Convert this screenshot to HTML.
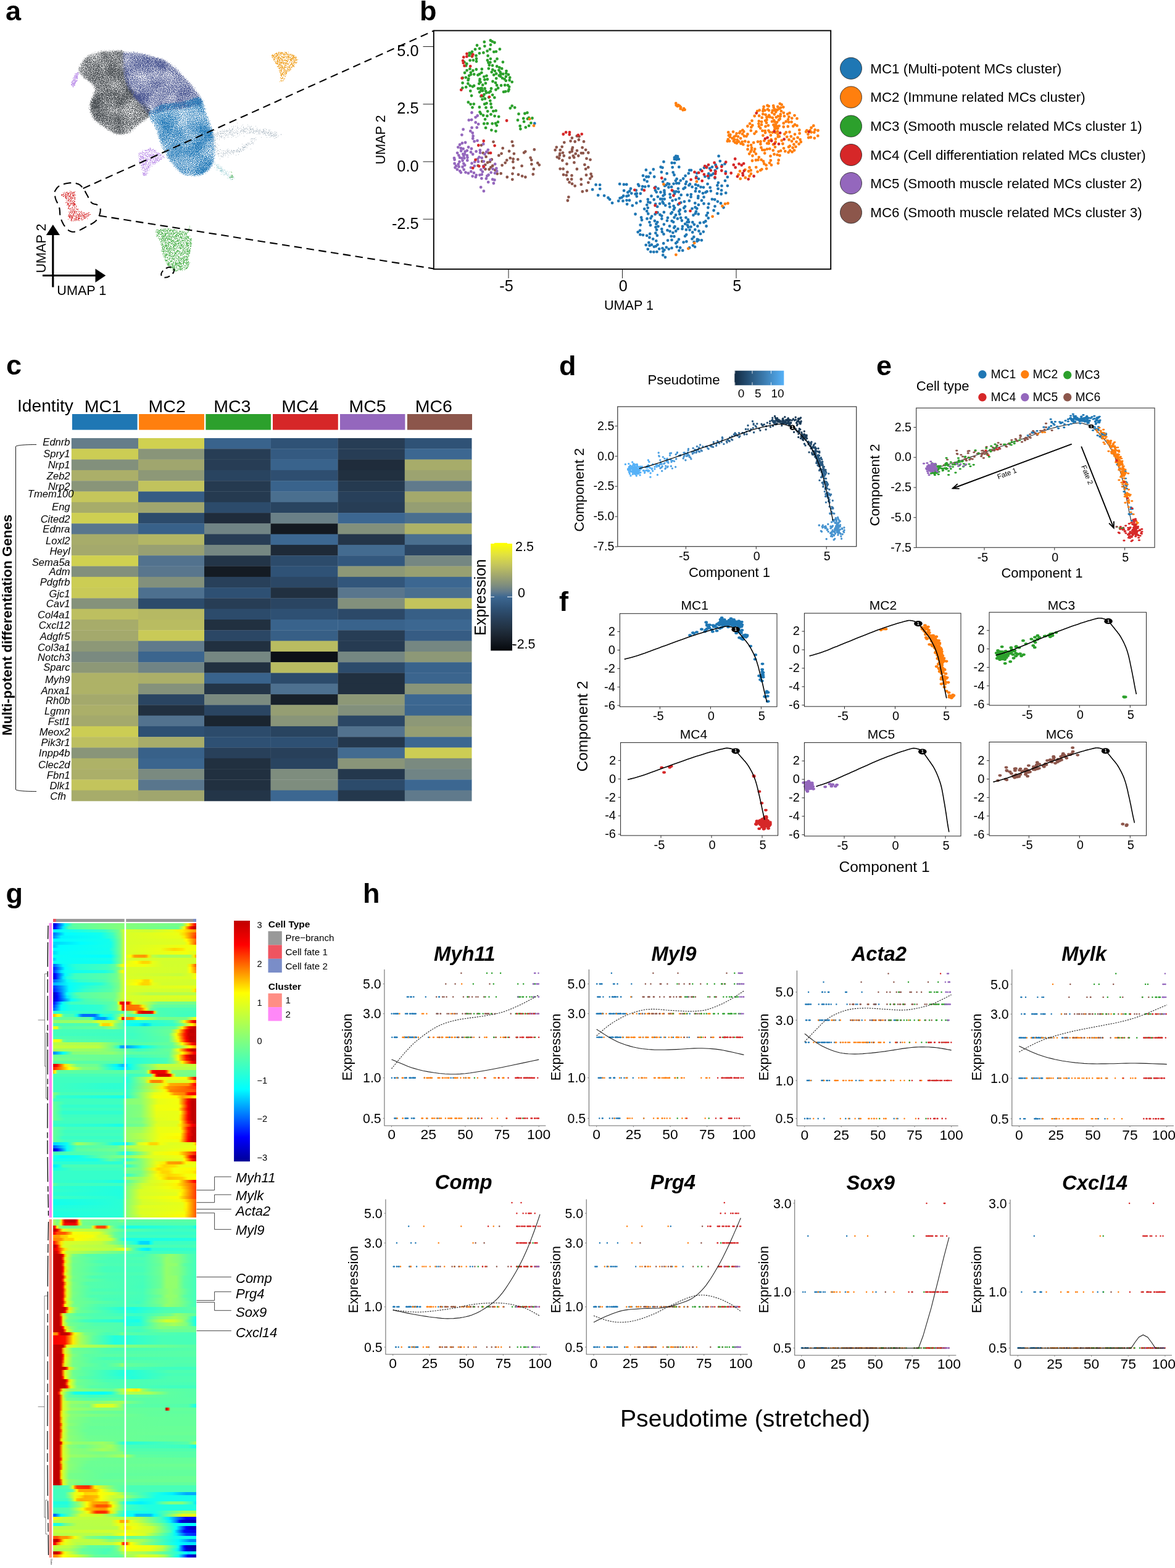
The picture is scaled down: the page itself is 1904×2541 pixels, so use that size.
<!DOCTYPE html>
<html lang="en"><head><meta charset="utf-8"><title>Figure</title>
<style>html,body{margin:0;padding:0;background:#fff;overflow:hidden}svg{display:block}text{font-family:'Liberation Sans',sans-serif}</style>
</head><body>
<svg width="1904" height="2541" viewBox="0 0 1904 2541">
<rect width="1904" height="2541" fill="#fff"/>
<g id="pa"><filter id="s0" x="-15%" y="-15%" width="130%" height="130%" color-interpolation-filters="sRGB"><feMorphology in="SourceAlpha" operator="dilate" radius="3"/><feGaussianBlur stdDeviation="3.2" result="b"/><feTurbulence type="fractalNoise" baseFrequency="0.85" numOctaves="1" seed="3" result="t"/><feTurbulence type="fractalNoise" baseFrequency=".035" numOctaves="2" seed="10" result="l"/><feComposite in="t" in2="l" operator="arithmetic" k2="1" k3="0.3" k4="-0.150" result="tl"/><feColorMatrix in="tl" type="matrix" values="0 0 0 0 0 0 0 0 0 0 0 0 0 0 0 1 0 0 0 0" result="n"/><feComposite in="b" in2="n" operator="arithmetic" k2="1" k3="1" k4="-1.120" result="m"/><feComponentTransfer in="m" result="m2"><feFuncA type="linear" slope="3.2"/></feComponentTransfer><feFlood flood-color="#484d51"/><feComposite in2="m2" operator="in"/></filter>
<path d="M125.6 114.5L128.2 110.3L132 104.3L136.3 98L140.8 93L145.4 89.7L150.3 87.3L155.6 85.5L161.1 84.1L167.4 83.1L174.2 82.5L180.8 82.3L186.5 82.3L191 81.9L194.9 81.4L198 81.8L200.4 84.1L201.7 88.8L202 95.4L202.1 103L202.9 110.7L204.5 118.7L206.3 127.4L208.7 136L211.8 143.7L216.3 150.2L221.8 156.2L227.4 161.5L232.1 166.5L236 170.9L239.5 174.9L242.1 178.4L243.5 181.7L243.4 184.6L242 187.1L239.8 189.4L237.2 191.8L233.9 194.4L229.8 196.9L225.6 199.4L222 202L219.2 204.6L216.9 207.3L214.6 209.8L211.8 212.1L208.4 214.2L204.7 216.3L200.7 217.8L196.6 218.4L192.3 217.8L187.7 216.3L183.2 214.2L178.9 212.1L174.9 210L171.1 207.6L167.4 204.9L163.7 202L159.6 198.6L155.3 194.8L151.4 190.8L148.4 186.8L146.7 182.6L145.8 178.2L145.5 173.7L145.9 169L147.3 163.9L149.7 158.5L152.1 153.3L153.5 148.7L153.8 145L153.5 141.8L152.6 138.9L151 136.1L148.5 133.4L145.3 130.9L141.7 128.5L138.3 125.9L134.8 122.9L131.2 119.6L127.9 116.6L125.6 114.5" stroke="none" stroke-width="1" fill="#484d51" filter="url(#s0)"/>
<filter id="s1" x="-15%" y="-15%" width="130%" height="130%" color-interpolation-filters="sRGB"><feMorphology in="SourceAlpha" operator="dilate" radius="3"/><feGaussianBlur stdDeviation="3.2" result="b"/><feTurbulence type="fractalNoise" baseFrequency="0.85" numOctaves="1" seed="4" result="t"/><feTurbulence type="fractalNoise" baseFrequency=".035" numOctaves="2" seed="11" result="l"/><feComposite in="t" in2="l" operator="arithmetic" k2="1" k3="0.3" k4="-0.150" result="tl"/><feColorMatrix in="tl" type="matrix" values="0 0 0 0 0 0 0 0 0 0 0 0 0 0 0 1 0 0 0 0" result="n"/><feComposite in="b" in2="n" operator="arithmetic" k2="1" k3="1" k4="-1.140" result="m"/><feComponentTransfer in="m" result="m2"><feFuncA type="linear" slope="3.2"/></feComponentTransfer><feFlood flood-color="#46528f"/><feComposite in2="m2" operator="in"/></filter>
<path d="M197.9 84.1L202.1 84.2L208 84.2L214.9 84.6L222 85.3L229.2 86.7L237.1 88.4L245 90.5L252.4 93L259.1 95.5L265.5 98.3L271.7 101.6L277.7 105.6L283.8 110.7L289.8 116.7L295.4 122.9L300.5 128.4L305 133.2L308.9 137.5L312.4 141.7L315.8 146.2L319.6 151.4L323.6 157L326.5 162.2L327.2 166.5L324.7 169.4L320 171.3L314.1 172.7L308.1 174.1L302.3 175.3L295.9 176.2L289.3 177L282.8 177.9L276.2 178.8L269.5 179.7L263.1 180.6L257.4 181.7L252.9 183.4L249.1 185.6L245.7 187.1L242.2 186.8L238.8 183.8L235.6 179.1L232.2 173.4L228.3 167.7L223.4 162.3L217.8 156.6L212.4 150.4L208 143.7L204.8 135.9L202.4 127.3L200.6 118.7L199.1 110.7L198.3 103L198 95.3L197.9 88.7L197.9 84.1" stroke="none" stroke-width="1" fill="#46528f" filter="url(#s1)"/>
<filter id="s2" x="-15%" y="-15%" width="130%" height="130%" color-interpolation-filters="sRGB"><feMorphology in="SourceAlpha" operator="dilate" radius="3"/><feGaussianBlur stdDeviation="3.2" result="b"/><feTurbulence type="fractalNoise" baseFrequency="0.85" numOctaves="1" seed="5" result="t"/><feTurbulence type="fractalNoise" baseFrequency=".035" numOctaves="2" seed="12" result="l"/><feComposite in="t" in2="l" operator="arithmetic" k2="1" k3="0.3" k4="-0.150" result="tl"/><feColorMatrix in="tl" type="matrix" values="0 0 0 0 0 0 0 0 0 0 0 0 0 0 0 1 0 0 0 0" result="n"/><feComposite in="b" in2="n" operator="arithmetic" k2="1" k3="1" k4="-1.140" result="m"/><feComponentTransfer in="m" result="m2"><feFuncA type="linear" slope="3.2"/></feComponentTransfer><feFlood flood-color="#2279b8"/><feComposite in2="m2" operator="in"/></filter>
<path d="M239.7 181.7L242.7 179.7L247 176.9L252.1 174L257.4 171.5L263.3 169.9L269.6 168.6L276.3 167.5L282.8 166.5L289.4 165.5L296.1 164.6L302.5 163.7L308.1 162.7L312.8 160.8L316.7 158.4L320.2 156.8L323.4 157.6L326.3 161.4L328.7 167.4L331.1 174.5L333.5 181.7L336.2 189L338.9 196.8L341.5 204.7L343.6 212.1L345.4 218.9L347 225.3L348.1 231.4L348.7 237.4L348.8 243.5L348.6 249.3L347.7 255L346.2 260.3L343.9 265.3L340.9 270.1L337.4 274.4L333.5 278L328.9 280.9L323.7 283.2L318.3 284.8L313.2 285.6L308.6 285.5L304.2 284.7L299.9 283L295.5 280.5L291 277.2L286.4 272.9L282 268.1L277.7 262.8L273.6 257L269.5 250.6L265.7 244L262.5 237.4L260.1 230.9L258.4 224.3L256.8 217.9L254.9 212.1L252.4 207L249.7 202.4L247 198.3L244.8 194.4L243 190.5L241.6 186.9L240.5 183.8L239.7 181.7" stroke="none" stroke-width="1" fill="#2279b8" filter="url(#s2)"/>
<path d="M125 117.5h2M124 118.5h3M121 119.5h4m1 0h2M123 120.5h4M121 121.5h2m1 0h1m1 0h1M120 122.5h1m1 0h4M120 123.5h6M120 124.5h1m1 0h4M119 125.5h7M118 126.5h1m1 0h1m1 0h4M118 127.5h1m1 0h3m1 0h2M119 128.5h1m1 0h1m2 0h1M118 129.5h5M117 130.5h1m1 0h2m1 0h4M117 131.5h8M116 132.5h2m3 0h3M115 133.5h3m1 0h4M117 134.5h6M116 135.5h6M115 136.5h7M115 137.5h2m1 0h3M116 138.5h2m1 0h3M117 139.5h3M118 140.5h1M118 141.5h1M243 239.5h1M242 240.5h2M240 241.5h1m2 0h2m3 0h1M239 242.5h6m1 0h3M231 243.5h1m2 0h5m1 0h2m4 0h1m2 0h2m1 0h1M235 244.5h2m1 0h1m3 0h5m2 0h3M230 245.5h1m10 0h2m3 0h1m1 0h1m1 0h1m1 0h1M230 246.5h2m4 0h2m1 0h1m1 0h1m7 0h1m2 0h1M226 247.5h1m1 0h1m2 0h3m1 0h1m1 0h2m1 0h1m3 0h2m1 0h1m2 0h2m1 0h2m1 0h1M224 248.5h1m1 0h5m3 0h3m2 0h1m6 0h1m7 0h1m1 0h3M225 249.5h1m5 0h1m2 0h1m3 0h1m1 0h1m1 0h1m2 0h1m2 0h1m3 0h1m1 0h3m1 0h2M225 250.5h2m1 0h1m1 0h3m1 0h2m2 0h2m1 0h1m1 0h2m2 0h3m1 0h1m1 0h5m2 0h2M224 251.5h1m8 0h1m1 0h3m2 0h11m6 0h1m1 0h2m4 0h1M225 252.5h1m1 0h2m2 0h2m2 0h1m1 0h1m3 0h1m1 0h1m1 0h1m1 0h1m3 0h1m4 0h1m1 0h3m1 0h1M226 253.5h6m4 0h5m1 0h2m1 0h3m3 0h1m1 0h2m2 0h1m5 0h3M224 254.5h1m2 0h1m1 0h4m5 0h2m1 0h2m2 0h1m1 0h3m2 0h1m3 0h1m2 0h1m2 0h1m1 0h1M227 255.5h3m1 0h3m1 0h1m7 0h2m1 0h1m3 0h3m1 0h3m1 0h1m1 0h2m3 0h2M226 256.5h1m2 0h5m1 0h3m1 0h1m6 0h3m2 0h1m1 0h1m1 0h2m5 0h1M225 257.5h3m1 0h1m1 0h1m1 0h1m2 0h1m1 0h1m1 0h1m1 0h1m1 0h2m2 0h2m1 0h4m1 0h1m1 0h4M226 258.5h3m3 0h1m4 0h4m1 0h3m1 0h1m1 0h1m3 0h1m1 0h2m2 0h1m1 0h2M227 259.5h2m1 0h1m1 0h2m1 0h1m1 0h1m1 0h1m3 0h2m3 0h1m1 0h6m1 0h2M225 260.5h1m3 0h2m3 0h6m2 0h4m1 0h1m2 0h1m1 0h1m1 0h3m1 0h1M225 261.5h2m5 0h2m1 0h5m7 0h1m2 0h2m1 0h1m2 0h2M226 262.5h1m1 0h5m3 0h1m5 0h2m1 0h3m1 0h3m1 0h1M229 263.5h4m2 0h3m2 0h2m1 0h2m2 0h6m1 0h1M227 264.5h1m1 0h1m5 0h1m1 0h1m3 0h1m4 0h4m1 0h1M228 265.5h1m1 0h6m1 0h1m2 0h2m1 0h2m6 0h1M226 266.5h1m4 0h7m1 0h1m1 0h1m2 0h1m2 0h2m1 0h1M229 267.5h1m1 0h3m5 0h1m2 0h2M228 268.5h3m1 0h1m2 0h2m2 0h1m1 0h2m1 0h1M230 269.5h1m1 0h1m1 0h1m2 0h1m1 0h3m4 0h1M232 270.5h1m3 0h1m2 0h3m1 0h1M228 271.5h1m1 0h4m3 0h1m1 0h3M230 272.5h2m1 0h2m1 0h2m1 0h1m1 0h1M231 273.5h1m2 0h1m2 0h3M229 274.5h1m4 0h4m1 0h1m2 0h1M230 275.5h1m3 0h2m2 0h1M232 276.5h2m2 0h1m1 0h2m1 0h1M234 277.5h2m1 0h1M235 278.5h2m1 0h1M231 279.5h1m2 0h1M231 280.5h4m1 0h2m1 0h1M232 281.5h3m1 0h1m1 0h1M231 282.5h6M232 283.5h1m1 0h1m1 0h2M232 284.5h4" stroke="#b98be8" stroke-width="1" fill="none" opacity="0.8"/>
<path d="M384 199.5h1M393 202.5h1m7 0h1M378 204.5h1m2 0h1m2 0h1m6 0h1m11 0h1m3 0h1m6 0h1M355 205.5h1m19 0h1m18 0h1m6 0h1m4 0h1M378 206.5h1m6 0h1m8 0h1m9 0h2M356 207.5h1m1 0h1m25 0h2m4 0h1m3 0h1m3 0h2m10 0h1m5 0h1M371 208.5h1m4 0h2m10 0h1m6 0h2m1 0h1m2 0h1m2 0h3m1 0h2m19 0h1M372 209.5h1m3 0h2m4 0h1m3 0h1m4 0h1m5 0h1m1 0h1m1 0h1m3 0h2m1 0h1m1 0h1m4 0h1m1 0h1m3 0h1m4 0h2m3 0h1M360 210.5h1m2 0h1m3 0h1m3 0h1m3 0h2m15 0h5m4 0h1m3 0h3m1 0h2m6 0h1m2 0h1m5 0h1m4 0h1m3 0h1m1 0h1M341 211.5h1m5 0h2m18 0h1m1 0h1m3 0h2m5 0h1m2 0h1m6 0h2m2 0h1m8 0h1m7 0h1m2 0h2m3 0h2m1 0h1m3 0h3m7 0h1M352 212.5h1m3 0h1m1 0h1m1 0h1m1 0h2m1 0h4m1 0h1m1 0h2m1 0h1m1 0h1m6 0h1m4 0h2m1 0h1m1 0h2m1 0h1m1 0h1m4 0h1m2 0h1m2 0h1m1 0h2m1 0h3m1 0h1m2 0h1m4 0h1m2 0h1m4 0h1M356 213.5h2m3 0h1m1 0h1m4 0h1m5 0h1m7 0h1m2 0h1m4 0h1m2 0h1m1 0h3m7 0h1m1 0h1m2 0h2m2 0h1m1 0h1m2 0h2m2 0h6m1 0h1m1 0h1m3 0h1m1 0h1m1 0h1m4 0h1M353 214.5h1m5 0h1m3 0h1m2 0h1m4 0h3m3 0h2m1 0h1m1 0h1m6 0h1m4 0h1m2 0h1m2 0h1m3 0h1m1 0h1m2 0h1m4 0h1m3 0h1m5 0h2m1 0h1m3 0h1m2 0h2m2 0h1m6 0h1m1 0h2M351 215.5h3m2 0h1m4 0h1m9 0h2m1 0h1m5 0h1m2 0h1m1 0h1m2 0h1m14 0h3m3 0h3m7 0h2m1 0h1m2 0h1m2 0h3m1 0h4m2 0h2m1 0h2M345 216.5h1m3 0h1m3 0h1m2 0h7m1 0h2m3 0h1m7 0h1m2 0h1m3 0h2m5 0h1m2 0h1m4 0h1m1 0h1m10 0h1m6 0h1m7 0h2m4 0h1m3 0h4m4 0h2m1 0h1M344 217.5h1m1 0h2m2 0h1m1 0h1m1 0h1m2 0h1m8 0h1m4 0h1m1 0h2m1 0h2m6 0h1m31 0h1m2 0h1m1 0h1m4 0h1m2 0h2m4 0h1m1 0h1m5 0h1m1 0h1m9 0h1M344 218.5h1m2 0h1m1 0h1m1 0h1m1 0h1m9 0h1m2 0h1m1 0h1m1 0h1m4 0h1m12 0h1m45 0h1m2 0h1m1 0h1m2 0h2m1 0h1m1 0h2m6 0h1M341 219.5h3m5 0h1m5 0h1m2 0h1m6 0h1m1 0h1m7 0h1m1 0h1m2 0h1m49 0h2m3 0h2m2 0h4m1 0h1m1 0h1m1 0h1m2 0h1M342 220.5h1m5 0h1m2 0h2m2 0h2m2 0h1m1 0h1m3 0h1m3 0h1m7 0h2m6 0h1m9 0h1m42 0h1m1 0h1m3 0h3M351 221.5h1m5 0h3m79 0h1m2 0h2m6 0h1M358 222.5h1m4 0h1m4 0h1m1 0h1m4 0h1m6 0h1m40 0h1m8 0h1m4 0h1m9 0h2M349 223.5h1m5 0h1m3 0h1m2 0h1m1 0h1m49 0h1m31 0h1M343 224.5h1m8 0h1m54 0h3m1 0h2m31 0h1M348 225.5h1m2 0h1m11 0h1m42 0h1m4 0h1M340 226.5h1m7 0h1m6 0h1m52 0h1m4 0h1m1 0h1M345 227.5h1m1 0h3M406 228.5h1m1 0h1m3 0h1M407 229.5h1M348 230.5h1m59 0h1M345 231.5h1m3 0h1m51 0h1m1 0h1m5 0h2M346 232.5h1m54 0h1m1 0h1m3 0h2M345 233.5h1m6 0h1m39 0h1m5 0h2m3 0h1m1 0h1m4 0h1M343 234.5h1m5 0h1m48 0h3m1 0h1m2 0h1M349 235.5h1m4 0h1m39 0h1m1 0h1m3 0h1M349 236.5h1m48 0h1m2 0h1M349 237.5h1m42 0h1m3 0h1m1 0h1M349 238.5h3m40 0h6M348 239.5h1m37 0h1m7 0h3m1 0h1m1 0h1M352 240.5h1m33 0h1m7 0h1M350 241.5h1m18 0h1m18 0h3m1 0h2m12 0h1M356 242.5h2m10 0h1m15 0h2m3 0h1m4 0h1m1 0h1M352 243.5h2m13 0h1m3 0h1m2 0h2m2 0h2m2 0h3m4 0h1m3 0h2M353 244.5h1m5 0h1m1 0h2m1 0h1m3 0h3m4 0h1m1 0h4m4 0h3m1 0h1m1 0h1M351 245.5h1m3 0h1m9 0h1m2 0h1m4 0h1m1 0h1m6 0h3m2 0h2m2 0h1M351 246.5h1m15 0h1m1 0h2m1 0h1m2 0h4m1 0h1m2 0h1m1 0h1m1 0h2M358 247.5h1m2 0h2m2 0h1m1 0h1m4 0h1m5 0h1M353 248.5h2m1 0h1m2 0h1m2 0h1m1 0h2m1 0h1m4 0h2m3 0h1M352 249.5h3m6 0h1m1 0h1m4 0h1m9 0h1M349 250.5h1m11 0h1m3 0h1m8 0h1m11 0h1M354 251.5h1m7 0h1m7 0h1m11 0h1M357 252.5h1m1 0h1m2 0h1m2 0h1M354 253.5h1m3 0h1m1 0h1M359 254.5h1m1 0h1m7 0h1M356 257.5h1" stroke="#a9b7c1" stroke-width="1" fill="none" opacity="0.75"/>
<path d="M348 264.5h1M347 266.5h2m3 0h1m1 0h1M350 267.5h2M351 268.5h1m2 0h1M351 269.5h2m1 0h1m2 0h1M352 270.5h1m1 0h1m4 0h1M347 271.5h1m3 0h2m1 0h1m2 0h1M351 272.5h1m1 0h3m1 0h3M353 273.5h1m1 0h3m1 0h1M359 274.5h1m1 0h1M350 275.5h1m1 0h1m4 0h4m2 0h2M356 276.5h5m1 0h1M356 277.5h4m1 0h1m3 0h1m2 0h1M359 278.5h1m1 0h1m4 0h1m4 0h1M359 279.5h1m2 0h1m1 0h1m1 0h1M365 280.5h1m1 0h1m2 0h1M361 281.5h1m2 0h1m1 0h2M358 282.5h1m5 0h1m1 0h1m2 0h1M362 283.5h2m3 0h1m1 0h1m1 0h1M368 284.5h1m5 0h1m2 0h1M369 285.5h1m1 0h1m3 0h2M371 286.5h1m1 0h1m3 0h1M371 287.5h4m1 0h1M368 288.5h1m1 0h1m1 0h3m2 0h1m1 0h1M373 290.5h1m1 0h3M374 291.5h1" stroke="#9fd0d6" stroke-width="1" fill="none" opacity="0.8"/>
<path d="M374 278.5h1M375 279.5h1M374 283.5h1m1 0h1M375 284.5h2M373 285.5h1m2 0h1M374 286.5h3m1 0h1M372 287.5h1m1 0h4M372 288.5h1M376 290.5h1" stroke="#5cb85c" stroke-width="1" fill="none" opacity="0.8"/>
<path d="M451 84.5h2m1 0h1m1 0h1m4 0h2m1 0h1m2 0h1M448 85.5h1m2 0h2m1 0h5m3 0h3M446 86.5h4m1 0h1m2 0h5m1 0h1m2 0h2M444 87.5h1m1 0h3m1 0h6m3 0h4m1 0h4m1 0h1m1 0h1M441 88.5h1m3 0h1m2 0h3m5 0h1m1 0h2m1 0h2m1 0h2m1 0h2m1 0h2m1 0h1M440 89.5h6m2 0h3m1 0h4m3 0h3m4 0h1m2 0h2m1 0h5M440 90.5h4m2 0h4m1 0h1m11 0h1m2 0h3m3 0h1m1 0h2m1 0h1M442 91.5h3m1 0h3m1 0h1m1 0h1m2 0h3m1 0h1m1 0h1m1 0h1m1 0h4m3 0h1m1 0h3m2 0h1M440 92.5h3m1 0h2m1 0h1m2 0h4m2 0h7m1 0h2m1 0h2m1 0h2m2 0h4m1 0h1M442 93.5h1m1 0h3m1 0h5m1 0h1m3 0h3m3 0h1m1 0h5m2 0h8M442 94.5h1m2 0h1m4 0h2m1 0h4m1 0h1m1 0h1m3 0h2m1 0h1m3 0h4m1 0h1m1 0h2M443 95.5h3m1 0h6m1 0h2m1 0h1m4 0h1m5 0h1m1 0h7m2 0h1M443 96.5h3m4 0h1m1 0h2m1 0h3m3 0h1m3 0h3m1 0h4m1 0h1m1 0h1m1 0h3m1 0h1M443 97.5h1m5 0h2m1 0h2m2 0h9m2 0h1m2 0h4m2 0h2m1 0h3M444 98.5h1m1 0h1m1 0h3m1 0h3m1 0h2m2 0h1m1 0h5m3 0h3m2 0h2m1 0h2M445 99.5h1m3 0h3m1 0h1m4 0h1m5 0h3m6 0h1m2 0h2M446 100.5h5m1 0h2m1 0h5m2 0h1m2 0h1m2 0h3m1 0h1m1 0h1m1 0h2m1 0h1m1 0h1M446 101.5h1m2 0h1m1 0h1m1 0h5m1 0h3m1 0h2m7 0h1m2 0h6M446 102.5h5m1 0h5m1 0h2m1 0h6m1 0h1m3 0h2m1 0h1m2 0h1m1 0h1M447 103.5h4m2 0h1m2 0h1m1 0h3m1 0h2m1 0h1m1 0h1m3 0h3m1 0h2M449 104.5h1m1 0h4m5 0h1m2 0h1m1 0h3m2 0h5m2 0h1M451 105.5h6m4 0h3m6 0h1m3 0h2M451 106.5h1m2 0h1m1 0h2m3 0h2m1 0h1m3 0h3m2 0h4M449 107.5h4m3 0h2m2 0h1m2 0h1m2 0h2m1 0h1m3 0h4M449 108.5h1m1 0h1m1 0h6m1 0h3m2 0h1m2 0h2m1 0h2m3 0h1M452 109.5h1m1 0h2m1 0h2m1 0h5m1 0h4m2 0h2M451 110.5h3m1 0h6m5 0h1m2 0h3M452 111.5h2m1 0h1m2 0h1m1 0h2m3 0h2m2 0h1M455 112.5h3m1 0h2m2 0h1m2 0h3m1 0h2M453 113.5h2m1 0h1m3 0h3m2 0h2m1 0h3M452 114.5h1m1 0h3m2 0h2m1 0h3m1 0h1m1 0h1M453 115.5h1m1 0h2m3 0h1m2 0h2m1 0h1m1 0h1M453 116.5h1m1 0h1m2 0h1m1 0h4m1 0h1M453 117.5h1m1 0h1m2 0h3m1 0h3M454 118.5h2m1 0h2m4 0h2M454 119.5h1m1 0h3m1 0h5M455 120.5h4m1 0h1m1 0h1M454 121.5h3m1 0h2m3 0h1M455 122.5h2m2 0h1m1 0h1M455 123.5h2m3 0h1m1 0h1M458 124.5h1m3 0h1M454 125.5h1m2 0h1M454 126.5h1m1 0h3m1 0h1M455 127.5h3m1 0h1m1 0h1M460 128.5h1M455 129.5h1m3 0h1M454 130.5h1m1 0h1m1 0h1M455 131.5h2m1 0h1M453 132.5h1" stroke="#f0a020" stroke-width="1" fill="none" opacity="0.85"/>
<path d="M113 309.5h1M115 310.5h1m5 0h1M104 311.5h1m2 0h3m3 0h2m1 0h1m1 0h3M102 312.5h1m3 0h1m1 0h1m2 0h2m2 0h1m1 0h2m1 0h1M104 313.5h1m1 0h1m2 0h3m2 0h1m1 0h1m1 0h1m1 0h1M102 314.5h2m2 0h1m1 0h4m1 0h3m1 0h2M99 315.5h4m2 0h3m2 0h1m3 0h1m3 0h1m1 0h2M99 316.5h2m2 0h1m1 0h1m2 0h2m1 0h1m2 0h1m2 0h4m1 0h1M101 317.5h1m1 0h1m1 0h3m1 0h1m1 0h4m2 0h3M102 318.5h2m2 0h2m2 0h1m1 0h2m1 0h1m2 0h1m1 0h1M105 319.5h3m1 0h1m2 0h1m1 0h1m1 0h1m4 0h1M106 320.5h2m2 0h1m3 0h2m1 0h2m1 0h2M106 321.5h2m2 0h1m2 0h6m2 0h1M107 322.5h2m1 0h1m1 0h1m7 0h2M111 323.5h2m1 0h3m4 0h1M110 324.5h2m2 0h1m3 0h1M107 325.5h1m1 0h2m1 0h1m1 0h2m2 0h1m1 0h1M111 326.5h1m1 0h2m1 0h2m2 0h2M108 327.5h1m9 0h1m1 0h1M106 328.5h2m1 0h1m2 0h1m1 0h1m1 0h1m1 0h2M109 329.5h3m2 0h2m1 0h5M109 330.5h2m2 0h1m1 0h3m1 0h3M109 331.5h3m2 0h1m3 0h5M108 332.5h1m1 0h1m1 0h1m1 0h1m2 0h1m1 0h3M111 333.5h3m4 0h2m3 0h1M111 334.5h2m7 0h1m2 0h1M111 335.5h1m5 0h1m2 0h1m2 0h1M111 336.5h1m4 0h2m2 0h1m1 0h1M110 337.5h2m2 0h1M110 338.5h1m1 0h2m1 0h1m1 0h2m1 0h2m1 0h2m1 0h1M113 339.5h1m1 0h1m2 0h1m5 0h3M117 340.5h1m1 0h2M114 341.5h2m1 0h1m1 0h1m2 0h1m3 0h1M114 342.5h1m1 0h1m1 0h1m1 0h2m1 0h2m3 0h1m2 0h2M111 343.5h1m1 0h1m2 0h2m1 0h3m1 0h1m2 0h1m1 0h1m1 0h1M113 344.5h3m1 0h1m2 0h2m1 0h1m6 0h1m1 0h1m1 0h1m1 0h1m6 0h2M112 345.5h1m3 0h1m1 0h1m1 0h1m2 0h1m4 0h1m2 0h2m2 0h2m3 0h1m1 0h1M112 346.5h1m2 0h1m3 0h2m1 0h1m2 0h1m2 0h2m3 0h1m4 0h1m1 0h2m1 0h1M111 347.5h1m1 0h1m4 0h2m3 0h1m1 0h3m1 0h1m2 0h2m2 0h3m1 0h1m2 0h1m1 0h2M111 348.5h1m1 0h2m2 0h1m1 0h1m6 0h1m1 0h3m1 0h1m1 0h3m1 0h2m1 0h1m1 0h2M111 349.5h2m1 0h3m1 0h2m1 0h1m1 0h2m1 0h2m1 0h1m2 0h2m1 0h2m4 0h1m1 0h1M110 350.5h5m1 0h2m1 0h2m1 0h2m2 0h2m1 0h3m1 0h1m1 0h2m2 0h1m1 0h1m1 0h1M112 351.5h2m1 0h3m5 0h1m2 0h1m1 0h2m2 0h1m2 0h5m1 0h1M112 352.5h3m1 0h2m4 0h4m1 0h1m6 0h1m1 0h1m2 0h1M112 353.5h1m2 0h4m1 0h1m2 0h1m2 0h4m1 0h2m3 0h3M114 354.5h1m1 0h1m3 0h1m1 0h2m2 0h4m2 0h1m2 0h1m1 0h1m3 0h1M110 355.5h1m4 0h2m4 0h4m1 0h2m3 0h1m2 0h1M115 356.5h2m2 0h2m3 0h1m1 0h1m5 0h2M114 357.5h1m1 0h1m4 0h2m1 0h1m2 0h2M116 358.5h1m2 0h1" stroke="#d62728" stroke-width="1" fill="none" opacity="0.85"/>
<path d="M307 366.5h1M307 368.5h1M264 370.5h1m2 0h1m2 0h1m1 0h2m1 0h1m29 0h1m1 0h1M260 371.5h2m4 0h3m3 0h1m10 0h1m22 0h1M253 372.5h4m2 0h2m2 0h3m4 0h1m1 0h2m1 0h4m1 0h4m2 0h1m18 0h1m1 0h1M257 373.5h3m1 0h4m1 0h2m1 0h3m2 0h4m1 0h2m2 0h1m1 0h1m18 0h2M252 374.5h1m1 0h1m1 0h3m1 0h2m2 0h2m1 0h2m1 0h2m2 0h2m3 0h3m1 0h1m3 0h1m2 0h3m1 0h1m1 0h1m6 0h1m1 0h1M254 375.5h1m1 0h1m1 0h1m1 0h1m4 0h1m1 0h1m2 0h1m1 0h1m1 0h1m1 0h1m2 0h2m4 0h2m4 0h2m2 0h1m1 0h1m1 0h1m5 0h1M252 376.5h1m1 0h3m1 0h2m1 0h2m4 0h1m2 0h1m1 0h1m4 0h1m2 0h1m3 0h2m1 0h1m3 0h1m1 0h2m1 0h1m1 0h1m1 0h1m1 0h1m1 0h1M254 377.5h1m1 0h3m2 0h3m3 0h1m2 0h2m1 0h2m1 0h1m1 0h1m1 0h4m1 0h1m1 0h4m4 0h3m2 0h1m2 0h1M256 378.5h2m4 0h3m1 0h6m1 0h2m1 0h3m2 0h3m3 0h2m1 0h1m1 0h3m4 0h4M255 379.5h2m1 0h5m1 0h1m2 0h3m2 0h1m3 0h2m1 0h3m3 0h2m3 0h6m2 0h2m1 0h2M253 380.5h1m2 0h1m2 0h1m1 0h1m2 0h1m1 0h3m4 0h3m2 0h1m2 0h1m3 0h4m1 0h2m3 0h2m2 0h1m1 0h1M254 381.5h2m6 0h2m1 0h1m1 0h2m4 0h1m1 0h1m3 0h2m2 0h3m2 0h2m2 0h1m3 0h1m2 0h1m2 0h1M254 382.5h2m1 0h1m4 0h1m1 0h5m1 0h4m1 0h1m2 0h1m5 0h6m2 0h1m2 0h1m2 0h1m2 0h1m2 0h1m2 0h1M253 383.5h1m3 0h2m2 0h6m2 0h1m1 0h1m1 0h4m1 0h9m2 0h1m2 0h2m1 0h1m1 0h1m3 0h5M263 384.5h1m1 0h1m2 0h2m4 0h1m1 0h3m1 0h1m1 0h1m7 0h5m4 0h2m2 0h3M256 385.5h1m3 0h1m1 0h2m1 0h2m2 0h5m3 0h1m3 0h1m1 0h4m1 0h1m3 0h4m1 0h1m1 0h1m1 0h2m1 0h2M257 386.5h1m1 0h1m2 0h4m1 0h4m1 0h1m1 0h2m2 0h1m3 0h2m2 0h2m2 0h1m3 0h2m1 0h2m1 0h3m1 0h2m1 0h1m1 0h2M258 387.5h2m1 0h2m2 0h1m1 0h2m2 0h8m5 0h2m4 0h1m2 0h1m4 0h1m1 0h2m5 0h2M259 388.5h1m1 0h2m1 0h3m1 0h1m2 0h2m1 0h2m1 0h1m3 0h1m1 0h1m3 0h2m1 0h1m4 0h1m2 0h1m3 0h2m4 0h3M258 389.5h1m3 0h1m1 0h1m1 0h3m1 0h2m4 0h1m1 0h4m5 0h5m1 0h1m1 0h3m1 0h2m2 0h4m1 0h2M261 390.5h3m1 0h2m1 0h1m4 0h1m2 0h5m1 0h1m2 0h4m5 0h4m1 0h1m3 0h1m2 0h1m2 0h1M260 391.5h2m2 0h1m1 0h1m1 0h1m1 0h1m1 0h1m4 0h2m1 0h2m1 0h3m1 0h3m1 0h3m5 0h1m1 0h1m1 0h1m2 0h1m1 0h1M260 392.5h1m2 0h1m2 0h1m1 0h1m4 0h3m1 0h1m1 0h1m1 0h2m2 0h1m4 0h1m2 0h1m2 0h1m4 0h1m1 0h1m2 0h1m1 0h2M261 393.5h1m2 0h1m2 0h4m1 0h5m2 0h1m2 0h3m4 0h2m1 0h2m2 0h2m1 0h1m1 0h3m1 0h1m2 0h2M262 394.5h2m3 0h1m3 0h2m4 0h3m4 0h2m1 0h4m1 0h1m4 0h1m3 0h5m1 0h2m1 0h1M260 395.5h1m1 0h1m4 0h1m1 0h1m2 0h2m1 0h1m1 0h2m1 0h7m1 0h2m2 0h2m1 0h1m2 0h1m3 0h3m1 0h1m1 0h3M262 396.5h3m3 0h1m1 0h1m1 0h2m6 0h1m1 0h1m1 0h1m1 0h1m3 0h1m2 0h3m2 0h1m2 0h3m4 0h1M261 397.5h3m1 0h1m1 0h4m2 0h1m1 0h1m3 0h1m1 0h5m2 0h2m2 0h3m1 0h2m3 0h1m1 0h4m2 0h1M265 398.5h1m1 0h7m2 0h1m4 0h3m1 0h1m1 0h1m2 0h2m1 0h3m2 0h1m1 0h1m1 0h4m2 0h2M263 399.5h3m1 0h4m2 0h1m2 0h2m2 0h3m1 0h1m2 0h2m4 0h1m1 0h3m3 0h1m1 0h1m4 0h2M262 400.5h2m1 0h2m4 0h1m1 0h1m1 0h3m2 0h2m4 0h1m3 0h3m2 0h1m1 0h1m3 0h1m2 0h2m1 0h1M263 401.5h1m2 0h2m1 0h3m2 0h1m3 0h1m1 0h1m1 0h1m2 0h1m1 0h1m1 0h1m1 0h2m1 0h2m1 0h2m1 0h2m3 0h1M263 402.5h2m1 0h1m2 0h3m1 0h4m1 0h1m1 0h4m1 0h1m2 0h1m2 0h4m4 0h1m4 0h1m3 0h1M263 403.5h2m1 0h1m2 0h2m1 0h2m1 0h4m3 0h1m1 0h2m5 0h2m3 0h4m2 0h4m1 0h2M262 404.5h1m1 0h2m4 0h2m2 0h2m3 0h3m1 0h1m12 0h1m3 0h1m1 0h2m2 0h1M263 405.5h1m1 0h4m3 0h3m2 0h2m2 0h2m3 0h3m7 0h2m2 0h1m2 0h1m2 0h2M261 406.5h1m2 0h1m5 0h2m1 0h1m1 0h2m2 0h1m1 0h2m4 0h4m4 0h1m1 0h3m2 0h7M262 407.5h9m1 0h2m2 0h1m8 0h4m1 0h1m1 0h1m2 0h1m3 0h2m1 0h4m1 0h1M264 408.5h2m5 0h2m1 0h3m1 0h1m3 0h2m1 0h2m1 0h1m1 0h2m3 0h1m1 0h2m1 0h1m2 0h1m1 0h3M268 409.5h1m4 0h1m1 0h1m1 0h2m1 0h1m2 0h2m1 0h1m4 0h1m1 0h3m3 0h2m1 0h1m2 0h1m1 0h1M264 410.5h3m3 0h1m2 0h4m2 0h2m2 0h3m2 0h1m1 0h1m1 0h1m1 0h2m1 0h3m1 0h1m1 0h2m1 0h2M263 411.5h1m4 0h2m1 0h1m2 0h1m4 0h1m2 0h4m3 0h2m1 0h3m2 0h1m2 0h1m1 0h2m1 0h2M264 412.5h1m1 0h1m1 0h4m1 0h1m1 0h2m1 0h1m4 0h1m2 0h1m5 0h1m2 0h3m4 0h4M266 413.5h5m1 0h1m1 0h2m2 0h1m2 0h3m2 0h3m3 0h3M264 414.5h1m3 0h2m3 0h4m2 0h1m1 0h2m1 0h2m6 0h1m2 0h1m2 0h1m2 0h1m2 0h3M266 415.5h3m7 0h6m2 0h1m1 0h1m1 0h2m8 0h1m1 0h4m1 0h1M265 416.5h1m1 0h1m2 0h1m1 0h1m1 0h1m3 0h1m2 0h2m5 0h4m4 0h4m1 0h1m1 0h1M267 417.5h2m1 0h2m4 0h1m2 0h1m4 0h2m3 0h1m3 0h1m2 0h1m2 0h1m2 0h3M267 418.5h1m3 0h1m2 0h2m2 0h3m1 0h1m2 0h1m3 0h4m1 0h6m1 0h1m2 0h1M273 419.5h2m1 0h1m1 0h1m1 0h4m2 0h3m3 0h3m1 0h1m5 0h2M267 420.5h1m4 0h1m1 0h1m3 0h1m1 0h2m7 0h2m2 0h2m1 0h3m1 0h4m1 0h1M267 421.5h5m2 0h1m4 0h1m2 0h2m1 0h1m2 0h1m1 0h1m1 0h2m3 0h1m1 0h6M268 422.5h3m5 0h3m6 0h2m2 0h2m1 0h1m2 0h1m1 0h3m2 0h1M268 423.5h1m1 0h1m1 0h1m3 0h3m4 0h1m4 0h1m1 0h1m2 0h2m1 0h2m1 0h1m2 0h1m2 0h1M272 424.5h1m2 0h2m1 0h1m1 0h2m2 0h2m4 0h2m5 0h2m3 0h1m1 0h2M269 425.5h1m2 0h1m1 0h1m6 0h1m1 0h2m2 0h1m1 0h4m3 0h10m1 0h1M271 426.5h5m4 0h2m2 0h4m1 0h6m1 0h2m4 0h1m1 0h1M270 427.5h1m1 0h2m3 0h4m2 0h7m1 0h2m1 0h1m1 0h2m2 0h4m1 0h2M271 428.5h3m1 0h1m2 0h2m3 0h4m3 0h1m1 0h3m2 0h1m4 0h2m1 0h1M271 429.5h5m1 0h1m1 0h3m2 0h1m1 0h4m1 0h1m5 0h1m6 0h2M272 430.5h2m1 0h1m2 0h2m2 0h3m1 0h1m1 0h3m3 0h2m2 0h4m1 0h2M275 431.5h1m3 0h4m3 0h1m2 0h7m5 0h1m3 0h1M275 432.5h1m1 0h3m1 0h1m1 0h1m2 0h1m3 0h4m3 0h1m1 0h1m3 0h2M272 433.5h1m1 0h2m2 0h6m1 0h2m4 0h1m1 0h1m2 0h1m1 0h1m1 0h1m1 0h2M275 434.5h2m1 0h5m8 0h2m1 0h2m2 0h1m2 0h3M283 435.5h1m1 0h1m1 0h1m1 0h1m1 0h2m1 0h2m4 0h3M280 436.5h1m2 0h1m3 0h1m1 0h2m1 0h3m1 0h1m2 0h1M279 437.5h3m1 0h2m6 0h3m5 0h1M283 438.5h1m1 0h4m6 0h1M284 439.5h2" stroke="#3aaa3a" stroke-width="1" fill="none" opacity="0.8"/>
<path d="M88.3 310.9L89 309.8L89.9 308.2L91.1 306.4L92.4 304.5L94.1 302.7L96 301.2L98.4 300.1L101.2 299L104.3 298.1L107.5 297.3L110.6 296.8L113.4 296.4L115.9 296.3L118.4 296.4L120.7 296.7L123 297.1L125 297.7L126.9 298.3L128.5 299.2L130 300.1L131.2 301.2L132.4 302.5L133.5 303.8L134.6 305.1L135.7 306.5L136.6 308L137.5 309.5L138.4 311.1L139.4 312.9L140.4 314.8L141.6 316.9L142.8 319.3L144 321.9L145.4 324.3L146.7 326.5L148.1 328.3L149.7 329.5L151.4 330.2L153.2 330.7L154.9 331.1L156.5 331.5L157.8 332.1L159 332.9L160 333.7L160.9 334.6L161.7 335.5L162.3 336.6L162.6 337.9L162.8 339.6L162.7 341.4L162.4 343.5L162 345.6L161.4 347.6L160.7 349.5L159.9 351.3L159.1 353L158 354.6L156.9 356.2L155.5 357.7L153.9 359.2L152.1 360.6L150 361.9L147.7 363.2L145.3 364.4L142.9 365.6L140.4 366.9L137.9 368.3L135.3 369.8L132.6 371.2L129.9 372.6L127.3 373.8L125 374.6L122.8 375.2L120.8 375.6L118.8 375.7L117 375.6L115.2 375.3L113.4 374.6L111.6 373.6L109.9 372.3L108.2 370.6L106.6 368.8L105.1 366.9L103.7 365L102.5 363L101.4 360.8L100.3 358.6L99.4 356.2L98.6 353.9L97.9 351.5L97.4 349L97.1 346.4L97 343.7L96.8 341.1L96.5 338.5L96 336L95.2 333.6L94.2 331.3L93.1 329L92 326.8L91 324.6L90.2 322.5L89.6 320.3L89.2 318.1L88.9 315.8L88.6 313.8L88.4 312.1L88.3 310.9" stroke="#000" stroke-width="2.1" fill="none" stroke-dasharray="12.5 7.5"/>
<ellipse cx="271.7" cy="441.3" rx="11.5" ry="7" transform="rotate(-32 271.7 441.3)" fill="none" stroke="#000" stroke-width="2" stroke-dasharray="9 6"/>
<path d="M134.6 305.4L702 50.2" stroke="#000" stroke-width="2.1" stroke-dasharray="12.5 7.5"/>
<path d="M160.7 349.5L703 435.5" stroke="#000" stroke-width="2.1" stroke-dasharray="12.5 7.5"/>
<path d="M85.8 465.4L85.8 378" stroke="#000" stroke-width="3.2"/>
<path d="M85.8 364L74.8 381L97 381Z"/>
<path d="M69 446.5L157 446.5" stroke="#000" stroke-width="3.2"/>
<path d="M171.3 446.5L154.5 435.5L154.5 457.7Z"/>
<text font-size="21.6" transform="translate(73.8 442.5) rotate(-90)">UMAP 2</text>
<text x="92.3" y="478" font-size="21.6">UMAP 1</text>
<text x="9" y="33" font-size="45" font-weight="bold">a</text></g>
<g id="pb"><text x="680" y="32.5" font-size="45" font-weight="bold">b</text>
<path d="M685.5 75.5L703 75.5" stroke="#222" stroke-width="1"/>
<text x="678.5" y="91.1" font-size="25.3" text-anchor="end">5.0</text>
<path d="M685.5 168.8L703 168.8" stroke="#222" stroke-width="1"/>
<text x="678.5" y="184.3" font-size="25.3" text-anchor="end">2.5</text>
<path d="M685.5 262L703 262" stroke="#222" stroke-width="1"/>
<text x="678.5" y="277.6" font-size="25.3" text-anchor="end">0.0</text>
<path d="M685.5 355.2L703 355.2" stroke="#222" stroke-width="1"/>
<text x="678.5" y="370.9" font-size="25.3" text-anchor="end">-2.5</text>
<path d="M824 436L824 451" stroke="#222" stroke-width="1"/>
<text x="820.5" y="472.3" font-size="25.3" text-anchor="middle">-5</text>
<path d="M1008.5 436L1008.5 451" stroke="#222" stroke-width="1"/>
<text x="1009.9" y="472.3" font-size="25.3" text-anchor="middle">0</text>
<path d="M1193 436L1193 451" stroke="#222" stroke-width="1"/>
<text x="1194.4" y="472.3" font-size="25.3" text-anchor="middle">5</text>
<text x="1019" y="502" font-size="21.6" text-anchor="middle">UMAP 1</text>
<text font-size="21.6" text-anchor="middle" transform="translate(623.5 226.5) rotate(-90)">UMAP 2</text>
<path d="M1095.2 374.5h0M1164.6 252.9h0M1159.6 267.2h0M1152.8 283.7h0M1075.9 363.6h0M1020.2 309.6h0M1140.5 330h0M1062.5 368.2h0M1124.6 392.1h0M1133.4 310.4h0M1030.8 308.5h0M1124.3 384h0M972.2 306.1h0M1163.6 305.9h0M1077.2 301.2h0M1074.6 317.2h0M1088.5 388.9h0M1145.1 270.2h0M1146.6 298.2h0M1064.1 372.4h0M1018.4 316.8h0M1066.6 305.7h0M1151.8 309.6h0M1130.4 366.5h0M1126.9 309.9h0M1016.1 330.8h0M1111 298.1h0M1101.4 347h0M1077.7 290.7h0M1058.2 387.3h0M1172.5 336.3h0M1168 329.4h0M1117.6 372.6h0M1131.7 347h0M1048.5 354.4h0M1098.5 370.9h0M988.1 323.2h0M1060.2 286.5h0M1039.1 352.3h0M1015.5 317.9h0M1143.5 311.7h0M1093.1 264.1h0M1029.6 347h0M1140.5 319.4h0M1099.7 311h0M1089 344.1h0M1082 352.9h0M1096.8 400h0M1051 286.5h0M1176.2 312.7h0M1065.9 318.8h0M1095 323.6h0M1132 389h0M1074.3 294.6h0M1132 289.8h0M1060.9 358h0M1127.1 299.2h0M1073.7 327.2h0M1123.5 348.7h0M1009.5 325.7h0M1156.6 341h0M1131.2 320.9h0M1115 355.8h0M1162.1 313.7h0M1148.3 281.4h0M1144.6 366.5h0M1161.9 272.3h0M1078.2 332.8h0M1134.3 361.2h0M1046.9 275.4h0M1122.9 397.8h0M1051 301.6h0M1064.4 408.1h0M1068.2 403.3h0M1094.8 292.8h0M1070.7 270.7h0M1037 373.6h0M1116.2 359.7h0M1062.3 303.1h0M1141 271.8h0M1031.8 313.7h0M1143.4 358.5h0M1051.4 393.2h0M1062.4 377.7h0M1059.9 399.8h0M1050.3 327.4h0M1037.8 313.7h0M1110.2 362.9h0M1169.9 268h0M1119.9 275.8h0M969.2 316.4h0M1035.4 301.1h0M1117.2 275.8h0M1100.6 321.4h0M1131.4 317.9h0M1078 416.8h0M1010.2 317.5h0M1176 278.5h0M1044.2 338.6h0M1076.5 405.1h0M1149.4 284.5h0M1162.4 300.4h0M1142.4 286.1h0M1129.9 387.8h0M1050.3 346.4h0M1017.3 311.7h0M1079.8 400.8h0M1126.9 346h0M1119.6 367.6h0M1139 313.2h0M1127.9 343h0M1004.6 321.1h0M1054.4 408.1h0M1162.9 326.6h0M1053.2 378.9h0M1074.3 413.4h0M1084.6 330.2h0M1042 284.7h0M1033.7 376.1h0M1147.8 353.4h0M1117.2 401.5h0M1135.6 303.2h0M1069.5 348h0M1041.1 302.1h0M1023.3 313.3h0M1113.9 316h0M1108.3 337h0M1116.4 300.3h0M1092.5 283.5h0M1158.5 288.7h0M1077 315.1h0M1102.2 401.4h0M1093.1 313.9h0M1110.5 342.4h0M1158.7 276.5h0M1128.5 286.3h0M1082.1 389.6h0M1119.6 319.1h0M1073.5 402.3h0M1090.7 279.3h0M1088.7 358.2h0M1063.3 390.3h0M1100.4 406.1h0M1112.4 391.4h0M1121.5 387.2h0M1174.5 265.6h0M1037.7 326.2h0M1037.7 364.6h0M1118 298.4h0M1061.9 308.4h0M1066.5 366.8h0M1084.3 298.4h0M1147.4 336.5h0M1053.5 328.4h0M1110.1 334.6h0M1042 380.8h0M1088.5 401.9h0M1046.7 397.1h0M1126.1 400.1h0M1048.6 294.1h0M1156 281.5h0M1089.7 271.2h0M1037.4 380.2h0M1061.6 347.2h0M1092.4 383.2h0M1040.3 306.9h0M1020 324.7h0M1166.8 261.1h0M1121.5 338.1h0M1065.5 344.5h0M1175 292.9h0M1132.5 374.4h0M1096.6 289.9h0M1153.9 322.8h0M1065.5 396.6h0M1092.6 352.4h0M1010.9 298.9h0M1126.6 335.9h0M1058.8 274.4h0M1083.8 403.6h0M1048.2 381.8h0M1011.1 308.9h0M1097.4 392h0M1040 356.5h0M965.6 299.4h0M1158.5 334.3h0M1047.4 286.5h0M1081.8 297.4h0M1075.5 262.2h0M1076.7 322.6h0M1073.5 271.7h0M1163.5 345.9h0M1111.9 372.3h0M1054.4 353.7h0M1127.9 305.3h0M1099 331.3h0M1163.9 296.1h0M1154 270.6h0M1126.3 372.2h0M1169.5 301.2h0M1107.5 305.9h0M1135.3 275.1h0M1129.6 390.8h0M1075 329.6h0M1148.4 288.6h0M1085.6 374.8h0M1054 365h0M1052.5 384.9h0M1135.1 378.9h0M1110.6 285h0M1055.5 317.7h0M1053.7 280.5h0M1129.2 280.7h0M1145.6 310.3h0M1091.2 309.8h0M985.5 320.5h0M1090.4 377.1h0M1137 324.9h0M1091.8 339.5h0M1049.8 323.1h0M1004.2 298.2h0M1088.7 264h0M1045.3 302.6h0M1131.3 300.7h0M1059.7 323.5h0M1015.5 324.6h0M1107.2 289.5h0M972.1 299.6h0M1108.9 326.7h0M1150.7 303.9h0M1055.9 396.7h0M1146.8 345.1h0M1103.1 352.9h0M1052.7 397.9h0M992.1 328.9h0M1168.7 314.5h0M1044.1 291.5h0M1140.5 360.4h0M1022 305.7h0M1002.2 325.7h0M1178.9 301.1h0M1088.2 302.9h0M1031.3 329h0M1091.2 359.8h0M1100.3 270.7h0M1080.7 281.2h0M1158.2 323.4h0M1062.2 330.7h0M1105.5 370.9h0M1075.5 379.4h0M1092.9 255.5h0M1106.2 405.9h0M1115.3 368.1h0M1072.3 371.2h0M1059.4 408.3h0M1101.9 340h0M1150.1 272.9h0M1093.5 367.2h0M1136.9 389.3h0M1049.8 403.8h0M1065.3 360.1h0M1024.8 333.2h0M1015.3 298.9h0M1169.1 308.4h0M1079.4 299.9h0M1049.8 336.8h0M1007.6 320.1h0M979.1 317.1h0M1148.4 330.3h0M1144.8 349.2h0M1071.9 278.9h0M1064.9 381.7h0M1062.8 399.1h0M960.1 307.2h0M1070.5 311.5h0M1122.2 376.4h0M1031.8 318.3h0M1131.9 331.9h0M1034.1 298.8h0M1091.6 333.8h0M1095 348.5h0M1115.8 280.9h0M1110.1 304h0M1100.1 297h0M1092.3 369.1h0M1121.6 302.9h0M1103.3 328.3h0M1102.8 292.6h0M1072.9 375.7h0M1087.3 346.2h0M1139.8 375.6h0M1112.3 294.6h0M1087.7 382.8h0M1178.9 286.9h0M1140 303.6h0M1124.9 363.8h0M1075.2 394.4h0M1074.5 407.5h0M1104.9 357.5h0M1029.6 314.4h0M1098 253.3h0M1096.2 258.5h0M1099.8 257.9h0M1098.1 255.6h0M1092.9 257.9h0M1095.2 256.3h0M1095.3 252.9h0M1106 366.8h0M1083.5 303.5h0M1110.1 382.7h0M1085.4 335.3h0M1122.3 360.2h0M1097.9 354.4h0M1116.9 325.4h0M1056.2 350.6h0M1089.6 325.1h0M1086.2 319.9h0M1076.4 308.7h0M1129.3 338h0M1096.3 297h0M1112.2 380.3h0M1103.7 315.9h0M1075.9 343.9h0M1063.4 362.9h0M1065.2 334.9h0M1048.3 332.1h0M1085.1 366.4h0M1091.6 297.8h0M1063.7 311.3h0M1119.8 315.1h0M1126.3 329.2h0M1114.2 365.2h0M1113.6 359.9h0M1100.3 342.4h0M1100 387.9h0M1081 357.6h0M1085.5 314.8h0M1072.8 322.6h0M1076.6 311.4h0M1070.1 322.5h0M1069.2 330.1h0M1095.2 394.2h0M1072.3 349.8h0M1098.9 305.6h0M1111.5 352.6h0M1081.5 373.2h0M1052.5 360.1h0M1093.1 336.8h0M1072.4 354.6h0M1107.6 392.6h0M1048.2 342.2h0M1095.5 310.4h0M866.3 200h0" stroke="#1f77b4" stroke-width="4.8" stroke-linecap="round" fill="none"/>
<path d="M830.5 281.6h0M831.3 262.3h0M802.2 275.6h0M863.8 282.4h0M796.8 258.5h0M845.6 268.9h0M826.8 256.2h0M790.1 263.4h0M871.3 264.2h0M781.2 261.5h0M832.9 249.1h0M812.6 248.8h0M865.8 242.4h0M814.7 240.2h0M793.9 262.1h0M780 235.3h0M786.3 267.1h0M861.4 266.2h0M808.3 251.9h0M786.5 274.2h0M846.1 285.3h0M851.3 245.6h0M805.8 281.6h0M825.1 245h0M840 282.9h0M774.6 268.4h0M818.7 263.8h0M813.6 267.8h0M821.3 259.6h0M831.6 257.7h0M851.4 287h0M798.2 268.7h0M792.7 274.4h0M829.8 229.7h0M859.6 255.6h0M821.8 287h0M831.3 236.2h0M849.1 247.4h0M787.6 254.1h0M864.8 273.9h0M811.7 281.2h0M873.8 267.3h0M839.2 258.3h0M832.2 272.1h0M861.2 259.3h0M830.3 290.8h0M799.5 229.8h0M791.8 247.9h0M795.3 271.1h0M782.8 247.9h0M923.4 246.8h0M913.8 252.5h0M941.8 298.9h0M906.9 251.7h0M943.6 239.2h0M931.7 301.3h0M902.8 254.6h0M953.3 295.8h0M938.5 221.1h0M944.8 248.2h0M949.1 273.9h0M927.9 239.1h0M899.7 243.2h0M957.6 281.9h0M924.6 228.6h0M927.1 297.9h0M958.9 285.9h0M910.7 237.8h0M934.9 274h0M913.1 283.2h0M943.8 310.4h0M941.7 290.5h0M918.5 265.7h0M917.8 283.9h0M937.3 252.5h0M946 229.4h0M953.2 271.2h0M950.8 309h0M912 247.6h0M926.2 290.4h0M907.3 248.8h0M926.5 284.4h0M928.8 252.7h0M949.1 242.8h0M919.9 290.7h0M937.9 226.5h0M953.3 247.5h0M956.2 289.4h0M926.9 223.6h0M911.4 260h0M950.5 256.9h0M906 256.5h0M927.1 241.9h0M947.4 266.9h0M930.4 263.4h0M907.8 243.2h0M950 283.7h0M941.9 248.1h0M935 244.1h0M923.1 255.7h0M932.7 249.2h0M956.5 258.8h0M922.6 295.4h0M914.3 230.8h0M926.8 245.3h0M919.4 278.9h0M912.6 273.7h0M930.2 255.2h0M931.7 229.5h0M907.7 273.6h0M901.8 238.6h0M934.8 220.4h0M921.4 319.3h0M919.9 325h0" stroke="#8c564b" stroke-width="4.8" stroke-linecap="round" fill="none"/>
<path d="M764.2 194.1h0M783.9 261.6h0M746.8 240.2h0M789.3 285.2h0M801.4 291.7h0M772.8 206.7h0M779.2 303.4h0M804.4 272.8h0M791.6 283.5h0M763.3 278h0M751.7 274.8h0M799.9 297h0M783.4 268.9h0M798.6 273.9h0M749 232h0M770.7 198.4h0M770.6 190.1h0M748.4 218.6h0M758.9 280.7h0M783.9 309.7h0M783.9 271.7h0M775 261.9h0M766.2 224.5h0M795.7 279.6h0M780.8 255.9h0M765.7 285.6h0M764.5 182.5h0M763 271.6h0M771.8 283.8h0M777.4 283.6h0M794.6 259.1h0M773.7 187.5h0M749.5 270.5h0M769.3 262.3h0M737.5 271.6h0M788.2 246.2h0M736 256.2h0M776.5 254.6h0M762.3 212.4h0M802.2 265.9h0M791.2 295.2h0M747.2 244.6h0M744.5 262.2h0M749.6 260.3h0M736.6 264.9h0M770.8 286.9h0M774.2 257.6h0M766.6 220.4h0M798.2 290.7h0M746.9 279.6h0M754.1 231h0M764.6 206.9h0M779.3 275h0M764 241h0M782 278.3h0M780.7 282.8h0M750.6 209.7h0M759.1 238.5h0M742.7 266.1h0M780.4 289.2h0M787.9 289.4h0M802 280.6h0M759.8 194.7h0M743.6 270.2h0M783.3 233.4h0M790.8 242.8h0M777.9 243.4h0M763 246.6h0M773.5 227.9h0M766.2 250h0M745.1 234.5h0M775.2 201.2h0M765.8 215.5h0M768.8 269h0M736.6 258.7h0M754.5 279.3h0M767.9 280.2h0M742.3 238.6h0M753.2 267.7h0M805.2 277.3h0M778.1 247.5h0M768.6 229.2h0M771.6 245.4h0M764.6 264.7h0M785.5 249.9h0M756.9 252h0M756.8 244.1h0M751.4 265.2h0M748.2 256.3h0M745.3 277.2h0M740.9 274.7h0M743.4 251.8h0M751.4 252.4h0M753.7 245.7h0M739 268.9h0M757.5 255.3h0M752.4 256.3h0M750.6 241.2h0M745.1 255.4h0M741.1 247.8h0M757.3 259.9h0M752.9 249.6h0M750.3 249.6h0" stroke="#9467bd" stroke-width="4.8" stroke-linecap="round" fill="none"/>
<path d="M788.3 150.3h0M826.2 125.7h0M795 72.7h0M796.7 116.8h0M802 99.3h0M763.4 86.5h0M780.7 142.9h0M789.6 82.7h0M796 143.5h0M756.3 103.5h0M760.3 90.1h0M801.6 188.1h0M783.1 187h0M816.1 148.9h0M749.6 134.4h0M787.5 174.4h0M804.2 119.4h0M803.5 145.4h0M820.1 118.8h0M761.6 97.8h0M783.4 85.4h0M798.3 112.8h0M804.2 127.1h0M796.3 174h0M755.2 106.4h0M777 149.3h0M792.1 157.8h0M783 155.9h0M797.7 200.3h0M789.9 97.7h0M789.8 128.5h0M755.2 141.2h0M815.2 119.9h0M749.7 126.2h0M812.1 138.5h0M774.7 143.5h0M782.2 137.7h0M781.5 161.1h0M803 200h0M773 73.5h0M803 134.2h0M808.2 189.1h0M780.8 112h0M762.8 117.6h0M803.4 212.6h0M758.6 129.9h0M799.3 180.2h0M819.9 124h0M804.9 203.3h0M777.6 181.6h0M784.3 200.4h0M770 79.9h0M820.5 115.1h0M814.9 100.6h0M795.4 168.5h0M765.5 174.2h0M819.8 130.8h0M801.4 69h0M809.9 79.7h0M809.3 109.3h0M817.6 128.2h0M749.4 142.6h0M754.9 125.6h0M805.5 95.4h0M784.3 124.3h0M784.8 68h0M768.2 120.4h0M771.8 112.5h0M802 115.1h0M779.1 184.3h0M801.3 158.2h0M762.3 147.4h0M766 140.3h0M808.8 122.4h0M776.9 86.3h0M761.7 138.8h0M778.5 143.5h0M789.4 187.9h0M776.2 135.6h0M794.3 163.3h0M766.4 114.5h0M807.1 142.7h0M771.5 90.2h0M796.4 210.8h0M766.9 97.6h0M761.4 111.6h0M758.8 165.7h0M777 120.2h0M805.2 107.5h0M789.8 200.2h0M813.2 111.2h0M772 99.5h0M794.8 65.5h0M756.6 114.1h0M794.4 101.2h0M825.6 130h0M785.6 143.5h0M791.4 101.5h0M788.5 167.3h0M790.2 180.3h0M814 126.6h0M825.1 140.7h0M823.9 120.9h0M803.9 83.6h0M762.6 168.8h0M768.1 139h0M805.1 138.2h0M829.7 132.8h0M764.9 91.6h0M777.3 131.1h0M824.7 145.1h0M808.4 113.8h0M810.6 117h0M798.5 131.9h0M767.8 168.6h0M794.9 95.3h0M776.9 173.7h0M777.2 78.7h0M795.5 185.4h0M800.3 84.1h0M798 106.2h0M765 84h0M785.9 160h0M792.8 105.6h0M760.1 122.7h0M786.1 193.3h0M758.4 135.4h0M785.2 168.7h0M819.1 148.3h0M794 79.8h0M787.1 207.2h0M752.4 100.7h0M787.2 147.8h0M811 123.7h0M764.1 155.1h0M763 120.7h0M777.6 128.4h0M782.1 147h0M785.4 74.8h0M778.6 133.2h0M794.8 148.2h0M823 138.2h0M811.6 119.5h0M788.5 122.8h0M753.1 118h0M800.2 121.4h0M791.8 111.1h0M806.9 197.7h0M818.2 138h0M772 95.1h0M803.6 179.4h0M774.4 121.6h0M779.4 156.2h0M798.1 153.8h0M792.4 149.8h0M759.3 127.6h0M785.4 129.2h0M784.5 153.2h0M823.7 147.5h0M760.7 85.8h0M786.9 134.9h0M779.4 147.1h0M797.7 67.3h0M790.6 90.4h0M780.4 117.8h0M850.4 184h0M849.1 197.2h0M840.5 184.7h0M856.9 190.8h0M848.2 191.9h0M854.9 192.6h0M857.1 203.8h0M862.5 191.5h0M839 194.7h0M860.4 199.3h0M851.8 206.4h0M842.7 204.2h0M843.4 209h0M854.4 182.7h0M826.8 175.3h0M829.7 171.6h0M834.2 174.3h0" stroke="#2ca02c" stroke-width="4.8" stroke-linecap="round" fill="none"/>
<path d="M1213.1 277.5h0M1266.7 227.7h0M1236.4 219.6h0M1243.1 232.3h0M1217.9 242.7h0M1240.1 195.6h0M1242.5 194.2h0M1285.3 204.5h0M1225.2 271.1h0M1286.4 234h0M1237.6 172.9h0M1277.6 246.8h0M1212.1 236.1h0M1290.5 229.8h0M1252.8 243.7h0M1215.1 200.4h0M1234.7 190.7h0M1279.8 236.7h0M1216.8 211.7h0M1245.7 172.1h0M1227.6 278.3h0M1275.2 221.8h0M1277 193.6h0M1204.3 234.2h0M1214.5 271.4h0M1271.4 217.3h0M1292.6 222.9h0M1229.8 254.8h0M1244.9 189.2h0M1289.5 237.8h0M1224.9 259.5h0M1262.9 221.2h0M1264.6 188.3h0M1233.6 258.9h0M1250 267.4h0M1188 213.6h0M1269.3 173.6h0M1288 201.8h0M1278.4 189.3h0M1240.1 215h0M1283 228.9h0M1251.1 182.4h0M1245.8 228.5h0M1214.4 285.3h0M1219 260.5h0M1238.3 265.4h0M1247 264.1h0M1253.2 171.3h0M1200.1 224.2h0M1235.3 242.9h0M1278 238.2h0M1254.5 250h0M1253.4 202.4h0M1266.6 169.6h0M1295.7 216.2h0M1216.7 276h0M1188.8 228.7h0M1278.1 197.8h0M1232.5 229.4h0M1247.3 241.2h0M1219.3 203.2h0M1225.3 213.4h0M1282.6 197.7h0M1260.9 264.6h0M1288 217.6h0M1256.9 225.2h0M1238.3 228.1h0M1183.3 218.4h0M1253 234.2h0M1260.4 217.6h0M1279.5 214h0M1233.4 239.2h0M1223.2 241.6h0M1242 199h0M1281.8 221.2h0M1212.8 230.2h0M1199.6 213.1h0M1248.5 252.9h0M1241.6 267.7h0M1295.3 210.7h0M1228 229.7h0M1291.5 192.1h0M1256 238.3h0M1193.8 232.1h0M1199 277.4h0M1180.9 219.5h0M1207.8 288h0M1216.9 281.7h0M1283.2 191.6h0M1278.5 226.5h0M1196.6 283h0M1222.7 188h0M1239.2 248.3h0M1207.4 275.1h0M1222.1 245.7h0M1259.1 198.2h0M1254.8 185.3h0M1216.5 245.7h0M1255.2 210.1h0M1227.2 180.1h0M1249.6 226.2h0M1221.2 231.2h0M1239.7 212.1h0M1268.4 233h0M1262 194.5h0M1232.3 275.9h0M1207.3 229h0M1257.2 201.7h0M1217.1 235.1h0M1286.3 224.9h0M1263.8 168.1h0M1205.9 220.5h0M1273.8 214.4h0M1242.4 190h0M1257.2 181.4h0M1239.6 178.8h0M1287.1 243.6h0M1283.6 246.2h0M1242.1 273.3h0M1230.1 187.7h0M1203.1 217.2h0M1261.6 245.6h0M1265.1 244.4h0M1272.3 245.1h0M1245.7 232.5h0M1259.8 178h0M1257.8 190.1h0M1211.4 217.5h0M1238.9 243.2h0M1178.8 228.8h0M1234.4 274.3h0M1270 240.3h0M1243 241.6h0M1229.9 204.9h0M1279.5 183.2h0M1296.6 226.1h0M1260.7 221.5h0M1209.5 220.8h0M1186.7 224.2h0M1265.9 180.1h0M1287.5 187.1h0M1280.1 243.8h0M1269.7 199.7h0M1276.8 205h0M1245.4 211.6h0M1232.4 233.5h0M1218.5 195.7h0M1237 177.1h0M1269.8 182.8h0M1269.7 205.5h0M1214.2 249.3h0M1263.5 252h0M1180.2 214.4h0M1196 221.3h0M1276.2 184.8h0M1248.9 219.2h0M1219.4 252.5h0M1248.8 259.9h0M1263.3 176h0M1263.7 192.7h0M1229.8 196.3h0M1224.9 249.3h0M1217.3 206.2h0M1237 261.5h0M1199.7 289.7h0M1294.6 233.4h0M1228.3 259.2h0M1203.4 210.8h0M1211.6 241.9h0M1244.1 177.2h0M1259.5 250.9h0M1246 178.8h0M1194.5 229.8h0M1261.7 259.5h0M1205.2 213.2h0M1211.4 204.5h0M1259.9 212.9h0M1218.1 239.3h0M1284.6 239.5h0M1256.7 230.2h0M1291.5 203.7h0M1297.8 230h0M1222.5 216.6h0M1273.6 197h0M1182.1 228.6h0M1260.3 208.1h0M1246.2 187h0M1260.8 188.3h0M1244.9 203.3h0M1251.8 191h0M1264.8 185.2h0M1235.4 211.9h0M1256.4 214.8h0M1251.8 214.6h0M1255.1 205.7h0M1232.2 207.8h0M1254.1 178.6h0M1253.7 174.1h0M1243.5 171h0M1270.9 188.2h0M1234 202.2h0M1236.3 179.9h0M1265 174.6h0M1229.4 200.6h0M1256.8 208.3h0M1240.5 204.9h0M1247.7 189.6h0M1260.3 173h0M1234.1 197.4h0M1251.8 179.2h0M1247.3 214.1h0M1251 196.9h0M1262.5 204.1h0M1255.2 197.4h0M1256.2 177.6h0M1254.3 195.1h0M1236.3 184.8h0M1230.7 178.7h0M1259.3 204.8h0M1240.6 185.9h0M1190.1 226.2h0M1193.6 216.3h0M1192.3 220.1h0M1189.7 221.6h0M1202.6 230h0M1179.8 225.9h0M1197 229.5h0M1200.5 232.7h0M1183 221.9h0M1194.6 226.7h0M1198.3 215.4h0M1191.2 230.9h0M1319.3 214.5h0M1314.6 207h0M1320.7 210.5h0M1309.4 217.6h0M1318.3 203.7h0M1313.8 222.5h0M1310.2 223h0M1312.6 211.4h0M1325.5 211.5h0M1319.8 223.8h0M1314.6 214.3h0M1325.3 220.2h0M1306.1 213.5h0M1307.4 211.3h0M1108.1 176h0M1097.7 172.1h0M1101.5 171.8h0M1109.6 177.8h0M1095.3 167.5h0M1102.7 176.2h0M1099.2 170.3h0M1106.6 178.3h0M1103.1 174h0M1095.7 170.5h0M1075.4 298.7h0M1128.9 294.2h0M1154.6 350.8h0M1170.5 334h0M1175 330.4h0M1179.5 329.5h0M1125.2 393.8h0M1115.3 402.8h0M1095.4 412.8h0M865 203.7h0M858.2 192.8h0" stroke="#ff7f0e" stroke-width="4.8" stroke-linecap="round" fill="none"/>
<path d="M1159.2 281.6h0M1158.5 287.3h0M1140.9 282.7h0M1151.8 276.2h0M1188.8 267.2h0M1191.7 271.4h0M1157.6 263.7h0M1205.1 265.1h0M1191.2 257.5h0M1169.3 276.5h0M1125.5 278.9h0M1169.3 270.1h0M1197.5 265.6h0M1159.6 278h0M1176.2 262.7h0M1160.7 270.1h0M1119.6 291.1h0M1142.2 269.1h0M1184.7 280.5h0M1137.5 277.2h0M1127.9 288.4h0M1175.7 281.3h0M1137.7 293.2h0M1148 267.1h0M1132.2 279.9h0M1147 285.1h0M1201.7 267.7h0M1145 271.4h0M762.2 107.3h0M766.4 88.4h0M765.2 91.2h0M756.4 91.7h0M750.8 101.9h0M756.5 87.1h0M751.3 92.7h0M752.5 106.7h0M750.1 98.4h0M912.8 217.5h0M942.7 217.3h0M917.1 214.4h0M936.9 219h0M923 214.3h0M922.8 218h0M1239.9 224.8h0M1250.2 228.3h0M1264.1 215.4h0M1243.6 223.1h0M1270.6 225.7h0M1262 233.3h0M1254.6 213.1h0M1255.3 232.8h0M1088.9 308.4h0M1118.5 341.9h0M1061.6 333h0M1063.3 344.1h0M1043.9 308.4h0M1100.9 329.6h0M1060.7 304.6h0M1072.3 288.5h0M1091.4 317h0M783.7 270.1h0M776.3 269.3h0M801.6 236.1h0M770.5 259h0M766.2 272.3h0M795 247.9h0M775.3 235.5h0M783.7 228.5h0M1203.9 284.2h0M1212.7 290.3h0M1221.6 285.5h0M1194.9 286.1h0M1205.8 276.8h0M1203.5 280.8h0M748.7 126.7h0M747.3 145.7h0M780.3 154.8h0M793 157.1h0M821.1 195.5h0M1225.7 183.3h0M1310.8 213.6h0M1028.4 307.8h0" stroke="#d62728" stroke-width="4.8" stroke-linecap="round" fill="none"/>
<rect x="702.8" y="49.6" width="643.4" height="386.6" fill="none" stroke="#000" stroke-width="1.9"/>
<circle cx="1379" cy="110.8" r="17.5" fill="#1f77b4" stroke="#222" stroke-width=".8"/>
<text x="1410.3" y="118.6" font-size="22.4">MC1 (Multi-potent MCs cluster)</text>
<circle cx="1379" cy="157.5" r="17.5" fill="#ff7f0e" stroke="#222" stroke-width=".8"/>
<text x="1410.3" y="165.3" font-size="22.4">MC2 (Immune related MCs cluster)</text>
<circle cx="1379" cy="204.5" r="17.5" fill="#2ca02c" stroke="#222" stroke-width=".8"/>
<text x="1410.3" y="212.3" font-size="22.4">MC3 (Smooth muscle related MCs cluster 1)</text>
<circle cx="1379" cy="251" r="17.5" fill="#d62728" stroke="#222" stroke-width=".8"/>
<text x="1410.3" y="258.8" font-size="22.4">MC4 (Cell differentiation related MCs cluster)</text>
<circle cx="1379" cy="297" r="17.5" fill="#9467bd" stroke="#222" stroke-width=".8"/>
<text x="1410.3" y="304.8" font-size="22.4">MC5 (Smooth muscle related MCs cluster 2)</text>
<circle cx="1379" cy="344.5" r="17.5" fill="#8c564b" stroke="#222" stroke-width=".8"/>
<text x="1410.3" y="352.3" font-size="22.4">MC6 (Smooth muscle related MCs cluster 3)</text></g>
<g id="pc">
<text x="10" y="607" font-size="45" font-weight="bold">c</text>
<text x="28" y="667" font-size="28.2">Identity</text>
<rect x="116.9" y="671" width="105.7" height="25.6" fill="#1f77b4"/>
<text x="166.8" y="667.5" font-size="28.5" text-anchor="middle">MC1</text>
<rect x="225.1" y="671" width="105.8" height="25.6" fill="#ff7f0e"/>
<text x="270.7" y="667.5" font-size="28.5" text-anchor="middle">MC2</text>
<rect x="333.4" y="671" width="105.5" height="25.6" fill="#2ca02c"/>
<text x="376.4" y="667.5" font-size="28.5" text-anchor="middle">MC3</text>
<rect x="442" y="671" width="105.8" height="25.6" fill="#d62728"/>
<text x="486.4" y="667.5" font-size="28.5" text-anchor="middle">MC4</text>
<rect x="551" y="671" width="105.4" height="25.6" fill="#9467bd"/>
<text x="595.6" y="667.5" font-size="28.5" text-anchor="middle">MC5</text>
<rect x="659.9" y="671" width="105.1" height="25.6" fill="#8c564b"/>
<text x="702.8" y="667.5" font-size="28.5" text-anchor="middle">MC6</text>
<rect x="115.8" y="710" width="108.5" height="17.6" fill="#657d8a"/>
<rect x="224" y="710" width="107.3" height="17.6" fill="#d0d150"/>
<rect x="331" y="710" width="107.9" height="17.6" fill="#39638c"/>
<rect x="438.6" y="710" width="109.2" height="17.6" fill="#2f5276"/>
<rect x="547.5" y="710" width="108.6" height="17.6" fill="#273d55"/>
<rect x="655.8" y="710" width="108.7" height="17.6" fill="#2f5276"/>
<rect x="115.8" y="727.3" width="108.5" height="17.6" fill="#cccd54"/>
<rect x="224" y="727.3" width="107.3" height="17.6" fill="#899579"/>
<rect x="331" y="727.3" width="107.9" height="17.6" fill="#273d55"/>
<rect x="438.6" y="727.3" width="109.2" height="17.6" fill="#345a81"/>
<rect x="547.5" y="727.3" width="108.6" height="17.6" fill="#273d55"/>
<rect x="655.8" y="727.3" width="108.7" height="17.6" fill="#3c6791"/>
<rect x="115.8" y="744.6" width="108.5" height="17.6" fill="#82907c"/>
<rect x="224" y="744.6" width="107.3" height="17.6" fill="#a0a66e"/>
<rect x="331" y="744.6" width="107.9" height="17.6" fill="#273d55"/>
<rect x="438.6" y="744.6" width="109.2" height="17.6" fill="#39638c"/>
<rect x="547.5" y="744.6" width="108.6" height="17.6" fill="#1f2c3b"/>
<rect x="655.8" y="744.6" width="108.7" height="17.6" fill="#a7ac6a"/>
<rect x="115.8" y="761.9" width="108.5" height="17.6" fill="#abaf69"/>
<rect x="224" y="761.9" width="107.3" height="17.6" fill="#8d9877"/>
<rect x="331" y="761.9" width="107.9" height="17.6" fill="#294460"/>
<rect x="438.6" y="761.9" width="109.2" height="17.6" fill="#2e4e70"/>
<rect x="547.5" y="761.9" width="108.6" height="17.6" fill="#213040"/>
<rect x="655.8" y="761.9" width="108.7" height="17.6" fill="#9ca370"/>
<rect x="115.8" y="779.2" width="108.5" height="17.6" fill="#899579"/>
<rect x="224" y="779.2" width="107.3" height="17.6" fill="#c1c35d"/>
<rect x="331" y="779.2" width="107.9" height="17.6" fill="#253a50"/>
<rect x="438.6" y="779.2" width="109.2" height="17.6" fill="#39638c"/>
<rect x="547.5" y="779.2" width="108.6" height="17.6" fill="#253a50"/>
<rect x="655.8" y="779.2" width="108.7" height="17.6" fill="#607a8c"/>
<rect x="115.8" y="796.5" width="108.5" height="17.6" fill="#c5c65b"/>
<rect x="224" y="796.5" width="107.3" height="17.6" fill="#365c84"/>
<rect x="331" y="796.5" width="107.9" height="17.6" fill="#253a50"/>
<rect x="438.6" y="796.5" width="109.2" height="17.6" fill="#4a6f8f"/>
<rect x="547.5" y="796.5" width="108.6" height="17.6" fill="#28405a"/>
<rect x="655.8" y="796.5" width="108.7" height="17.6" fill="#a4a96c"/>
<rect x="115.8" y="813.8" width="108.5" height="17.6" fill="#a7ac6a"/>
<rect x="224" y="813.8" width="107.3" height="17.6" fill="#a0a66e"/>
<rect x="331" y="813.8" width="107.9" height="17.6" fill="#2c4b6b"/>
<rect x="438.6" y="813.8" width="109.2" height="17.6" fill="#294460"/>
<rect x="547.5" y="813.8" width="108.6" height="17.6" fill="#273d55"/>
<rect x="655.8" y="813.8" width="108.7" height="17.6" fill="#959e73"/>
<rect x="115.8" y="831.1" width="108.5" height="17.6" fill="#cecf52"/>
<rect x="224" y="831.1" width="107.3" height="17.6" fill="#2c4b6b"/>
<rect x="331" y="831.1" width="107.9" height="17.6" fill="#1f2c3b"/>
<rect x="438.6" y="831.1" width="109.2" height="17.6" fill="#6a8087"/>
<rect x="547.5" y="831.1" width="108.6" height="17.6" fill="#3c6791"/>
<rect x="655.8" y="831.1" width="108.7" height="17.6" fill="#4a6f8f"/>
<rect x="115.8" y="848.4" width="108.5" height="17.6" fill="#59768d"/>
<rect x="224" y="848.4" width="107.3" height="17.6" fill="#386189"/>
<rect x="331" y="848.4" width="107.9" height="17.6" fill="#708485"/>
<rect x="438.6" y="848.4" width="109.2" height="17.6" fill="#131921"/>
<rect x="547.5" y="848.4" width="108.6" height="17.6" fill="#82907c"/>
<rect x="655.8" y="848.4" width="108.7" height="17.6" fill="#aeb267"/>
<rect x="115.8" y="865.6" width="108.5" height="17.6" fill="#a7ac6a"/>
<rect x="224" y="865.6" width="107.3" height="17.6" fill="#b2b665"/>
<rect x="331" y="865.6" width="107.9" height="17.6" fill="#273d55"/>
<rect x="438.6" y="865.6" width="109.2" height="17.6" fill="#3c6791"/>
<rect x="547.5" y="865.6" width="108.6" height="17.6" fill="#24364a"/>
<rect x="655.8" y="865.6" width="108.7" height="17.6" fill="#4a6f8f"/>
<rect x="115.8" y="882.9" width="108.5" height="17.6" fill="#a4a96c"/>
<rect x="224" y="882.9" width="107.3" height="17.6" fill="#98a072"/>
<rect x="331" y="882.9" width="107.9" height="17.6" fill="#758782"/>
<rect x="438.6" y="882.9" width="109.2" height="17.6" fill="#1e2a38"/>
<rect x="547.5" y="882.9" width="108.6" height="17.6" fill="#436b90"/>
<rect x="655.8" y="882.9" width="108.7" height="17.6" fill="#2a4562"/>
<rect x="115.8" y="900.2" width="108.5" height="17.6" fill="#d0d150"/>
<rect x="224" y="900.2" width="107.3" height="17.6" fill="#52728e"/>
<rect x="331" y="900.2" width="107.9" height="17.6" fill="#233548"/>
<rect x="438.6" y="900.2" width="109.2" height="17.6" fill="#2c4b6b"/>
<rect x="547.5" y="900.2" width="108.6" height="17.6" fill="#33587e"/>
<rect x="655.8" y="900.2" width="108.7" height="17.6" fill="#758782"/>
<rect x="115.8" y="917.5" width="108.5" height="17.6" fill="#82907c"/>
<rect x="224" y="917.5" width="107.3" height="17.6" fill="#59768d"/>
<rect x="331" y="917.5" width="107.9" height="17.6" fill="#141b23"/>
<rect x="438.6" y="917.5" width="109.2" height="17.6" fill="#2f5276"/>
<rect x="547.5" y="917.5" width="108.6" height="17.6" fill="#8d9877"/>
<rect x="655.8" y="917.5" width="108.7" height="17.6" fill="#98a072"/>
<rect x="115.8" y="934.8" width="108.5" height="17.6" fill="#cccd54"/>
<rect x="224" y="934.8" width="107.3" height="17.6" fill="#82907c"/>
<rect x="331" y="934.8" width="107.9" height="17.6" fill="#28405a"/>
<rect x="438.6" y="934.8" width="109.2" height="17.6" fill="#2b4765"/>
<rect x="547.5" y="934.8" width="108.6" height="17.6" fill="#32567b"/>
<rect x="655.8" y="934.8" width="108.7" height="17.6" fill="#3c6791"/>
<rect x="115.8" y="952.1" width="108.5" height="17.6" fill="#c9ca57"/>
<rect x="224" y="952.1" width="107.3" height="17.6" fill="#4d708f"/>
<rect x="331" y="952.1" width="107.9" height="17.6" fill="#2e5073"/>
<rect x="438.6" y="952.1" width="109.2" height="17.6" fill="#213040"/>
<rect x="547.5" y="952.1" width="108.6" height="17.6" fill="#59768d"/>
<rect x="655.8" y="952.1" width="108.7" height="17.6" fill="#4a6f8f"/>
<rect x="115.8" y="969.4" width="108.5" height="17.6" fill="#85927b"/>
<rect x="224" y="969.4" width="107.3" height="17.6" fill="#2c4b6b"/>
<rect x="331" y="969.4" width="107.9" height="17.6" fill="#273d55"/>
<rect x="438.6" y="969.4" width="109.2" height="17.6" fill="#2a4562"/>
<rect x="547.5" y="969.4" width="108.6" height="17.6" fill="#82907c"/>
<rect x="655.8" y="969.4" width="108.7" height="17.6" fill="#c3c45c"/>
<rect x="115.8" y="986.7" width="108.5" height="17.6" fill="#bdbf60"/>
<rect x="224" y="986.7" width="107.3" height="17.6" fill="#b6b963"/>
<rect x="331" y="986.7" width="107.9" height="17.6" fill="#2c4b6b"/>
<rect x="438.6" y="986.7" width="109.2" height="17.6" fill="#2e5073"/>
<rect x="547.5" y="986.7" width="108.6" height="17.6" fill="#2c4968"/>
<rect x="655.8" y="986.7" width="108.7" height="17.6" fill="#375f86"/>
<rect x="115.8" y="1004" width="108.5" height="17.6" fill="#a7ac6a"/>
<rect x="224" y="1004" width="107.3" height="17.6" fill="#b9bc61"/>
<rect x="331" y="1004" width="107.9" height="17.6" fill="#213040"/>
<rect x="438.6" y="1004" width="109.2" height="17.6" fill="#39638c"/>
<rect x="547.5" y="1004" width="108.6" height="17.6" fill="#39638c"/>
<rect x="655.8" y="1004" width="108.7" height="17.6" fill="#3c6791"/>
<rect x="115.8" y="1021.3" width="108.5" height="17.6" fill="#a4a96c"/>
<rect x="224" y="1021.3" width="107.3" height="17.6" fill="#c9ca57"/>
<rect x="331" y="1021.3" width="107.9" height="17.6" fill="#2b4765"/>
<rect x="438.6" y="1021.3" width="109.2" height="17.6" fill="#375f86"/>
<rect x="547.5" y="1021.3" width="108.6" height="17.6" fill="#273d55"/>
<rect x="655.8" y="1021.3" width="108.7" height="17.6" fill="#365c84"/>
<rect x="115.8" y="1038.6" width="108.5" height="17.6" fill="#8d9877"/>
<rect x="224" y="1038.6" width="107.3" height="17.6" fill="#607a8c"/>
<rect x="331" y="1038.6" width="107.9" height="17.6" fill="#213040"/>
<rect x="438.6" y="1038.6" width="109.2" height="17.6" fill="#b9bc61"/>
<rect x="547.5" y="1038.6" width="108.6" height="17.6" fill="#263b52"/>
<rect x="655.8" y="1038.6" width="108.7" height="17.6" fill="#758782"/>
<rect x="115.8" y="1055.9" width="108.5" height="17.6" fill="#7a8a80"/>
<rect x="224" y="1055.9" width="107.3" height="17.6" fill="#3b658e"/>
<rect x="331" y="1055.9" width="107.9" height="17.6" fill="#758782"/>
<rect x="438.6" y="1055.9" width="109.2" height="17.6" fill="#0c1016"/>
<rect x="547.5" y="1055.9" width="108.6" height="17.6" fill="#758782"/>
<rect x="655.8" y="1055.9" width="108.7" height="17.6" fill="#8d9877"/>
<rect x="115.8" y="1073.2" width="108.5" height="17.6" fill="#8d9877"/>
<rect x="224" y="1073.2" width="107.3" height="17.6" fill="#708485"/>
<rect x="331" y="1073.2" width="107.9" height="17.6" fill="#213040"/>
<rect x="438.6" y="1073.2" width="109.2" height="17.6" fill="#b9bc61"/>
<rect x="547.5" y="1073.2" width="108.6" height="17.6" fill="#2c4b6b"/>
<rect x="655.8" y="1073.2" width="108.7" height="17.6" fill="#39638c"/>
<rect x="115.8" y="1090.5" width="108.5" height="17.6" fill="#aeb267"/>
<rect x="224" y="1090.5" width="107.3" height="17.6" fill="#abaf69"/>
<rect x="331" y="1090.5" width="107.9" height="17.6" fill="#39638c"/>
<rect x="438.6" y="1090.5" width="109.2" height="17.6" fill="#2c4b6b"/>
<rect x="547.5" y="1090.5" width="108.6" height="17.6" fill="#213040"/>
<rect x="655.8" y="1090.5" width="108.7" height="17.6" fill="#3b658e"/>
<rect x="115.8" y="1107.8" width="108.5" height="17.6" fill="#aeb267"/>
<rect x="224" y="1107.8" width="107.3" height="17.6" fill="#85927b"/>
<rect x="331" y="1107.8" width="107.9" height="17.6" fill="#233548"/>
<rect x="438.6" y="1107.8" width="109.2" height="17.6" fill="#4d708f"/>
<rect x="547.5" y="1107.8" width="108.6" height="17.6" fill="#213040"/>
<rect x="655.8" y="1107.8" width="108.7" height="17.6" fill="#899579"/>
<rect x="115.8" y="1125.1" width="108.5" height="17.6" fill="#a4a96c"/>
<rect x="224" y="1125.1" width="107.3" height="17.6" fill="#2a4562"/>
<rect x="331" y="1125.1" width="107.9" height="17.6" fill="#7a8a80"/>
<rect x="438.6" y="1125.1" width="109.2" height="17.6" fill="#18212b"/>
<rect x="547.5" y="1125.1" width="108.6" height="17.6" fill="#8d9877"/>
<rect x="655.8" y="1125.1" width="108.7" height="17.6" fill="#3c6791"/>
<rect x="115.8" y="1142.4" width="108.5" height="17.6" fill="#abaf69"/>
<rect x="224" y="1142.4" width="107.3" height="17.6" fill="#213040"/>
<rect x="331" y="1142.4" width="107.9" height="17.6" fill="#2a4562"/>
<rect x="438.6" y="1142.4" width="109.2" height="17.6" fill="#959e73"/>
<rect x="547.5" y="1142.4" width="108.6" height="17.6" fill="#82907c"/>
<rect x="655.8" y="1142.4" width="108.7" height="17.6" fill="#3b658e"/>
<rect x="115.8" y="1159.6" width="108.5" height="17.6" fill="#a4a96c"/>
<rect x="224" y="1159.6" width="107.3" height="17.6" fill="#52728e"/>
<rect x="331" y="1159.6" width="107.9" height="17.6" fill="#1a2530"/>
<rect x="438.6" y="1159.6" width="109.2" height="17.6" fill="#899579"/>
<rect x="547.5" y="1159.6" width="108.6" height="17.6" fill="#2b4765"/>
<rect x="655.8" y="1159.6" width="108.7" height="17.6" fill="#8d9877"/>
<rect x="115.8" y="1176.9" width="108.5" height="17.6" fill="#cccd54"/>
<rect x="224" y="1176.9" width="107.3" height="17.6" fill="#2e5073"/>
<rect x="331" y="1176.9" width="107.9" height="17.6" fill="#2c4b6b"/>
<rect x="438.6" y="1176.9" width="109.2" height="17.6" fill="#294460"/>
<rect x="547.5" y="1176.9" width="108.6" height="17.6" fill="#52728e"/>
<rect x="655.8" y="1176.9" width="108.7" height="17.6" fill="#959e73"/>
<rect x="115.8" y="1194.2" width="108.5" height="17.6" fill="#bdbf60"/>
<rect x="224" y="1194.2" width="107.3" height="17.6" fill="#a7ac6a"/>
<rect x="331" y="1194.2" width="107.9" height="17.6" fill="#2e5073"/>
<rect x="438.6" y="1194.2" width="109.2" height="17.6" fill="#2e5073"/>
<rect x="547.5" y="1194.2" width="108.6" height="17.6" fill="#24384d"/>
<rect x="655.8" y="1194.2" width="108.7" height="17.6" fill="#3c6791"/>
<rect x="115.8" y="1211.5" width="108.5" height="17.6" fill="#899579"/>
<rect x="224" y="1211.5" width="107.3" height="17.6" fill="#386189"/>
<rect x="331" y="1211.5" width="107.9" height="17.6" fill="#28405a"/>
<rect x="438.6" y="1211.5" width="109.2" height="17.6" fill="#28405a"/>
<rect x="547.5" y="1211.5" width="108.6" height="17.6" fill="#436b90"/>
<rect x="655.8" y="1211.5" width="108.7" height="17.6" fill="#cccd54"/>
<rect x="115.8" y="1228.8" width="108.5" height="17.6" fill="#aeb267"/>
<rect x="224" y="1228.8" width="107.3" height="17.6" fill="#3b658e"/>
<rect x="331" y="1228.8" width="107.9" height="17.6" fill="#213040"/>
<rect x="438.6" y="1228.8" width="109.2" height="17.6" fill="#294460"/>
<rect x="547.5" y="1228.8" width="108.6" height="17.6" fill="#899579"/>
<rect x="655.8" y="1228.8" width="108.7" height="17.6" fill="#7a8a80"/>
<rect x="115.8" y="1246.1" width="108.5" height="17.6" fill="#abaf69"/>
<rect x="224" y="1246.1" width="107.3" height="17.6" fill="#7a8a80"/>
<rect x="331" y="1246.1" width="107.9" height="17.6" fill="#213040"/>
<rect x="438.6" y="1246.1" width="109.2" height="17.6" fill="#7e8d7e"/>
<rect x="547.5" y="1246.1" width="108.6" height="17.6" fill="#24384d"/>
<rect x="655.8" y="1246.1" width="108.7" height="17.6" fill="#708485"/>
<rect x="115.8" y="1263.4" width="108.5" height="17.6" fill="#c3c45c"/>
<rect x="224" y="1263.4" width="107.3" height="17.6" fill="#59768d"/>
<rect x="331" y="1263.4" width="107.9" height="17.6" fill="#213040"/>
<rect x="438.6" y="1263.4" width="109.2" height="17.6" fill="#7e8d7e"/>
<rect x="547.5" y="1263.4" width="108.6" height="17.6" fill="#2c4b6b"/>
<rect x="655.8" y="1263.4" width="108.7" height="17.6" fill="#3c6791"/>
<rect x="115.8" y="1280.7" width="108.5" height="17.6" fill="#a7ac6a"/>
<rect x="224" y="1280.7" width="107.3" height="17.6" fill="#a0a66e"/>
<rect x="331" y="1280.7" width="107.9" height="17.6" fill="#233548"/>
<rect x="438.6" y="1280.7" width="109.2" height="17.6" fill="#3c6791"/>
<rect x="547.5" y="1280.7" width="108.6" height="17.6" fill="#24384d"/>
<rect x="655.8" y="1280.7" width="108.7" height="17.6" fill="#607a8c"/>
<text x="113.6" y="721.8" font-size="16.6" text-anchor="end" font-style="italic">Ednrb</text>
<text x="113.6" y="741.3" font-size="16.6" text-anchor="end" font-style="italic">Spry1</text>
<text x="113.6" y="758.8" font-size="16.6" text-anchor="end" font-style="italic">Nrp1</text>
<text x="113.6" y="776.5" font-size="16.6" text-anchor="end" font-style="italic">Zeb2</text>
<text x="113.6" y="794" font-size="16.6" text-anchor="end" font-style="italic">Nrp2</text>
<text x="119.5" y="806" font-size="16.6" text-anchor="end" font-style="italic">Tmem100</text>
<text x="113.6" y="826.5" font-size="16.6" text-anchor="end" font-style="italic">Eng</text>
<text x="113.6" y="846.5" font-size="16.6" text-anchor="end" font-style="italic">Cited2</text>
<text x="113.6" y="862.6" font-size="16.6" text-anchor="end" font-style="italic">Ednra</text>
<text x="113.6" y="881.5" font-size="16.6" text-anchor="end" font-style="italic">Loxl2</text>
<text x="113.6" y="898.7" font-size="16.6" text-anchor="end" font-style="italic">Heyl</text>
<text x="113.6" y="916.7" font-size="16.6" text-anchor="end" font-style="italic">Sema5a</text>
<text x="113.6" y="932" font-size="16.6" text-anchor="end" font-style="italic">Adm</text>
<text x="113.6" y="949.2" font-size="16.6" text-anchor="end" font-style="italic">Pdgfrb</text>
<text x="113.6" y="967.5" font-size="16.6" text-anchor="end" font-style="italic">Gjc1</text>
<text x="113.6" y="984.4" font-size="16.6" text-anchor="end" font-style="italic">Cav1</text>
<text x="113.6" y="1001.6" font-size="16.6" text-anchor="end" font-style="italic">Col4a1</text>
<text x="113.6" y="1019.1" font-size="16.6" text-anchor="end" font-style="italic">Cxcl12</text>
<text x="113.6" y="1037.2" font-size="16.6" text-anchor="end" font-style="italic">Adgfr5</text>
<text x="113.6" y="1054.7" font-size="16.6" text-anchor="end" font-style="italic">Col3a1</text>
<text x="113.6" y="1071" font-size="16.6" text-anchor="end" font-style="italic">Notch3</text>
<text x="113.6" y="1087.1" font-size="16.6" text-anchor="end" font-style="italic">Sparc</text>
<text x="113.6" y="1106.6" font-size="16.6" text-anchor="end" font-style="italic">Myh9</text>
<text x="113.6" y="1124.6" font-size="16.6" text-anchor="end" font-style="italic">Anxa1</text>
<text x="113.6" y="1141.3" font-size="16.6" text-anchor="end" font-style="italic">Rh0b</text>
<text x="113.6" y="1157.9" font-size="16.6" text-anchor="end" font-style="italic">Lgmn</text>
<text x="113.6" y="1175.1" font-size="16.6" text-anchor="end" font-style="italic">Fstl1</text>
<text x="113.6" y="1191.8" font-size="16.6" text-anchor="end" font-style="italic">Meox2</text>
<text x="113.6" y="1209.3" font-size="16.6" text-anchor="end" font-style="italic">Pik3r1</text>
<text x="113.6" y="1225.9" font-size="16.6" text-anchor="end" font-style="italic">Inpp4b</text>
<text x="113.6" y="1244.5" font-size="16.6" text-anchor="end" font-style="italic">Clec2d</text>
<text x="113.6" y="1262" font-size="16.6" text-anchor="end" font-style="italic">Fbn1</text>
<text x="113.6" y="1278.7" font-size="16.6" text-anchor="end" font-style="italic">Dlk1</text>
<text x="107" y="1296.2" font-size="16.6" text-anchor="end" font-style="italic">Cfh</text>
<path d="M59 720.5C45 720.5 28 721 25.5 723.5L25.5 1279.5C28 1282 45 1282.5 59 1282.5" fill="none" stroke="#000" stroke-width=".9"/>
<text font-size="22.4" text-anchor="middle" font-weight="bold" transform="translate(18.7 1012.8) rotate(-90)">Multi-potent differentiation Genes</text>
<linearGradient id="cg" x1="0" y1="1" x2="0" y2="0"><stop offset="0%" stop-color="#05080c"/><stop offset="10%" stop-color="#161d26"/><stop offset="20%" stop-color="#213040"/><stop offset="30%" stop-color="#28405a"/><stop offset="40%" stop-color="#2f5276"/><stop offset="50%" stop-color="#3c6791"/><stop offset="55%" stop-color="#607a8c"/><stop offset="60%" stop-color="#7a8a80"/><stop offset="70%" stop-color="#a0a66e"/><stop offset="80%" stop-color="#c4c55c"/><stop offset="90%" stop-color="#e2e23e"/><stop offset="100%" stop-color="#ffff00"/></linearGradient>
<rect x="795.2" y="881" width="34.8" height="173.4" fill="url(#cg)"/>
<rect x="801" y="879.8" width="21" height="1.4" fill="#ffff00"/>
<path d="M795.2 967.3L801 967.3" stroke="#fff" stroke-width="1"/>
<path d="M822 967.3L830 967.3" stroke="#fff" stroke-width="1"/>
<path d="M830 1044.7L834 1044.7" stroke="#000" stroke-width="1.2"/>
<text x="835" y="892.5" font-size="21.5">2.5</text>
<text x="839" y="967.5" font-size="21.5">0</text>
<text x="830.5" y="1050.5" font-size="21.5">-2.5</text>
<text font-size="25.1" text-anchor="middle" transform="translate(787 968) rotate(-90)">Expression</text>
</g>
<g id="pdef">
<text x="906" y="607.5" font-size="45" font-weight="bold">d</text>
<text x="1049.5" y="623" font-size="22.2">Pseudotime</text>
<linearGradient id="pg"><stop offset="0" stop-color="#132b43"/><stop offset="1" stop-color="#56b1f7"/></linearGradient>
<rect x="1190.3" y="600.7" width="80" height="23.6" fill="url(#pg)"/>
<path d="M1190.8 600.7L1190.8 605.5" stroke="#fff" stroke-width="1" opacity=".8"/>
<path d="M1190.8 619.5L1190.8 624.3" stroke="#fff" stroke-width="1" opacity=".8"/>
<path d="M1219 600.7L1219 605.5" stroke="#fff" stroke-width="1" opacity=".8"/>
<path d="M1219 619.5L1219 624.3" stroke="#fff" stroke-width="1" opacity=".8"/>
<path d="M1249.5 600.7L1249.5 605.5" stroke="#fff" stroke-width="1" opacity=".8"/>
<path d="M1249.5 619.5L1249.5 624.3" stroke="#fff" stroke-width="1" opacity=".8"/>
<text x="1201" y="643.5" font-size="19" text-anchor="middle">0</text>
<text x="1228.4" y="643.5" font-size="19" text-anchor="middle">5</text>
<text x="1260" y="643.5" font-size="19" text-anchor="middle">10</text>
<path d="M996.5 690.4L1000.8 690.4" stroke="#333" stroke-width="1"/>
<text x="995.3" y="696.6" font-size="19.6" text-anchor="end">2.5</text>
<path d="M996.5 739.3L1000.8 739.3" stroke="#333" stroke-width="1"/>
<text x="995.3" y="745.5" font-size="19.6" text-anchor="end">0.0</text>
<path d="M996.5 788.2L1000.8 788.2" stroke="#333" stroke-width="1"/>
<text x="995.3" y="794.4" font-size="19.6" text-anchor="end">-2.5</text>
<path d="M996.5 837.1L1000.8 837.1" stroke="#333" stroke-width="1"/>
<text x="995.3" y="843.3" font-size="19.6" text-anchor="end">-5.0</text>
<path d="M996.5 886L1000.8 886" stroke="#333" stroke-width="1"/>
<text x="995.3" y="892.2" font-size="19.6" text-anchor="end">-7.5</text>
<path d="M1111.4 885.6L1111.4 889.9" stroke="#333" stroke-width="1"/>
<text x="1108.8" y="908.1" font-size="19.6" text-anchor="middle">-5</text>
<path d="M1225.3 885.6L1225.3 889.9" stroke="#333" stroke-width="1"/>
<text x="1226.3" y="908.1" font-size="19.6" text-anchor="middle">0</text>
<path d="M1339.2 885.6L1339.2 889.9" stroke="#333" stroke-width="1"/>
<text x="1340.2" y="908.1" font-size="19.6" text-anchor="middle">5</text>
<text font-size="22.6" text-anchor="middle" transform="translate(945.5 794) rotate(-90)">Component 2</text>
<text x="1182" y="934.5" font-size="22" text-anchor="middle">Component 1</text>
<path d="M1264.4 682h0M1273.2 685.7h0M1274.8 681.6h0M1278.9 680.3h0M1281.7 685.5h0M1259.6 677.6h0M1273.9 682h0M1261.3 683.3h0M1279.5 687.5h0M1278.3 680.6h0M1259 682.1h0M1261.1 682.2h0M1277.3 682.1h0M1268.8 678.3h0M1278.7 681.8h0M1277.2 677.8h0M1259.5 677.8h0M1258 681.6h0M1277.3 680.8h0M1278.1 684.5h0M1258.5 687.4h0M1260.4 683.1h0M1279.6 681.4h0M1285.4 679h0M1280.6 680.7h0M1264.9 683.7h0M1271.8 675.8h0M1279.4 685.5h0M1278.6 688.2h0M1276.6 684.4h0M1275 680.5h0M1271 683.2h0M1280.4 685.8h0M1280.1 688.9h0M1261.6 680.4h0M1269.8 685h0M1275.7 681.4h0M1256.5 677.2h0M1263.4 682.8h0M1260.1 682.3h0M1268.2 679h0M1259.1 679.2h0M1277.1 686.1h0M1274.9 686.5h0M1272.5 684.5h0M1276.2 679.5h0M1267.8 681.8h0M1278.9 689.2h0M1258.9 686.3h0M1266.8 689.6h0M1280.5 680.6h0M1258 679.4h0M1274.1 686.8h0M1257.7 680.5h0M1257.8 679.2h0M1270.4 685.7h0M1255.5 674.4h0M1267.8 683.2h0M1268 685.6h0M1281.6 684.8h0M1264 684.1h0M1263.7 683.7h0M1258.9 686.6h0M1273 683.3h0M1259.4 681.9h0M1262 680.3h0M1283.4 681.1h0M1279 689.1h0M1266 686.4h0M1269.9 681.3h0M1261.7 682.6h0M1262.2 683.7h0M1273.3 680.6h0M1260.6 681.3h0M1275.1 685.7h0M1271.9 685.5h0M1291.5 689.3h0M1294.6 683.5h0M1292.2 687.4h0M1298.2 682.7h0M1293.9 680.3h0M1295.9 686.4h0M1290.6 685.4h0M1295 678.1h0M1292.8 682.8h0M1291.2 684h0M1293.4 678.9h0M1296.1 678.7h0M1296.3 684.4h0M1289.4 680.3h0M1289.2 676.2h0M1297 686.9h0M1297.6 676.9h0M1292.9 681.6h0M1297.5 685h0M1293.7 678.4h0M1296.1 685.6h0M1287.4 681h0M1297.5 710.4h0M1295.3 699.9h0M1301.4 706.7h0M1300.4 704.8h0M1295.3 694.6h0M1298.5 709.3h0M1305.8 706.9h0M1300.2 707.2h0M1305.8 707.6h0M1304.5 707.4h0M1303.9 704.3h0M1300.9 705.9h0M1307.1 707.1h0M1289.3 694.9h0M1307.1 705.2h0M1300.5 712.3h0M1305.6 708.7h0M1294.4 697.9h0M1303.6 704.4h0M1286.6 700.3h0M1290.6 697.6h0M1293.8 708.4h0M1302 709.8h0M1305.7 705.6h0M1293.9 703.1h0M1301.3 709.6h0M1299.3 703h0M1298.9 700.6h0M1296.7 696h0M1301.6 713.3h0M1301.9 711.9h0M1305.3 709.5h0M1303.3 699h0M1303.1 703.7h0M1298.1 706.8h0M1307.6 710.4h0M1292.3 699.8h0" stroke="#1a3a57" stroke-width="3.4" stroke-linecap="round" fill="none"/>
<path d="M1237.8 688.1h0M1241.7 690.8h0M1234 687.2h0M1230.2 694.5h0M1238.3 687.9h0M1252.5 690.2h0M1247.6 686.4h0M1236.1 689.4h0M1243.3 685.1h0M1235.4 689.4h0M1248.4 691.9h0M1247.6 682.8h0M1231.9 697.6h0M1241.1 696h0M1254.1 685.6h0M1254.3 685.8h0M1255.6 683.9h0M1250.6 681.6h0M1256 686.2h0M1256.8 687.7h0M1253 683.9h0M1255.6 684.2h0M1254.5 682.2h0M1256.2 684.1h0M1252.1 681.6h0M1253.9 683.9h0M1252.7 683.3h0M1256.5 682.3h0M1254.1 685.1h0M1251.5 680.4h0M1256 683.2h0M1256.2 686.8h0M1251.8 677.2h0M1303.4 719.2h0M1315 716.2h0M1310.4 718.3h0M1305.9 713h0M1309 715.9h0M1317 730.5h0M1321.5 730.8h0M1318.4 722.1h0M1310.5 717.3h0M1327.9 733.5h0M1311.1 732.9h0M1316.2 736.2h0M1319.1 725.5h0M1320.9 718.6h0M1322.6 726.9h0M1321 724.8h0M1315 726.8h0M1312.8 722.9h0M1318.4 731.8h0M1317.7 723.9h0M1322.6 730.9h0M1318.9 720.7h0M1305.1 721.9h0M1326 726.8h0M1310.3 716h0M1310 720h0M1325.1 731.8h0M1315.3 724.7h0M1327.3 732.9h0M1321.9 735.7h0M1319.6 736.4h0M1310.3 716.2h0M1319.9 731.3h0M1314 720.9h0M1313.4 718h0M1310.3 720.2h0M1313.5 718.3h0M1319.5 734.5h0M1314.9 725.1h0M1317.8 736.2h0M1321.4 727.5h0M1314.4 718.7h0M1317.8 736.9h0M1319.9 734.5h0M1321.7 733.8h0M1316.6 725.7h0M1327.8 731.6h0M1321.8 728.4h0M1314.6 716.4h0M1315.6 733.9h0M1314.1 726.8h0M1315.5 726.9h0" stroke="#22496b" stroke-width="3.4" stroke-linecap="round" fill="none"/>
<path d="M1206 701.6h0M1203 701.4h0M1221.6 700.8h0M1212 695.8h0M1209.6 699.6h0M1212 689.5h0M1216.9 695.8h0M1208.4 695.5h0M1221.1 686.7h0M1226.8 686.8h0M1220.2 693.6h0M1221.1 688.1h0M1215.1 698.5h0M1219.5 682.7h0M1224.1 690.1h0M1225.4 691.9h0M1206.1 704.1h0M1210 703.8h0M1324.2 746.5h0M1328.5 755.2h0M1333.3 753.6h0M1332.8 748.3h0M1332.9 754.5h0M1327.7 743.1h0M1330.7 753.6h0M1325 741h0M1322.6 742.7h0M1329.6 749.9h0M1327.2 753h0M1331.5 750.2h0M1330.2 750.2h0M1325.3 744.6h0M1324.3 741.6h0M1329.9 751.4h0M1331.1 764.8h0M1333.7 760.9h0M1324.2 746.4h0M1333.1 764.9h0M1332 749.2h0M1323.4 748.6h0M1327.2 746.9h0M1334.4 759.4h0M1327.6 738.3h0M1327.5 743.3h0M1320.5 740.3h0M1332.2 749.8h0M1330.4 741.6h0M1322.6 738.7h0M1332.6 751.5h0M1326.5 755.2h0M1326.1 741.2h0M1331.5 761.2h0M1324.3 750.4h0M1335 759.7h0M1333.6 757.4h0M1325.7 740.6h0M1328.4 746.2h0M1328.4 760.8h0M1322.8 750.4h0M1328.4 756.1h0M1326.1 750.5h0M1333.9 765.6h0M1323.7 742.6h0M1328.4 753.9h0M1337.9 761.4h0M1329.9 759.6h0M1332 748.5h0M1324.2 747h0M1329.3 750.7h0M1325 738.1h0M1327.2 751.1h0M1328.9 751.1h0M1329.2 761.4h0M1329.7 742.9h0M1322.7 742.3h0M1335.3 756.4h0M1335.1 762.3h0M1326.5 737.4h0M1332.5 764.4h0M1327.7 762.4h0M1326.1 749h0M1324.3 739.3h0M1331.7 744.4h0M1322.9 739.1h0M1335.6 762.5h0M1328.7 747.8h0M1323.1 742.1h0M1325.4 737.7h0M1321.7 738.3h0M1324.4 746.3h0M1325 745.2h0M1325 754h0M1338.1 764.2h0M1324.1 748.3h0M1323.8 746.8h0" stroke="#29587f" stroke-width="3.4" stroke-linecap="round" fill="none"/>
<path d="M1186.1 707.1h0M1182.2 715h0M1192.9 703.8h0M1179.5 712.5h0M1180.8 714.2h0M1186.7 712.9h0M1195 706h0M1189.7 704.7h0M1178 717.1h0M1191.1 701.7h0M1185.5 712h0M1177.3 714.9h0M1197.8 708.4h0M1195.4 705.6h0M1181.6 714.4h0M1197.5 701.7h0M1191.1 704.8h0M1182.6 708.9h0M1189.3 703.9h0M1199 706.6h0M1334.8 770.5h0M1336.3 768.2h0M1337.6 768.8h0M1336.2 770.7h0M1331.9 771.7h0M1332.6 772.8h0M1338.9 766.2h0M1335.6 765.7h0M1331.5 772.9h0M1335.8 771.5h0M1333.7 766.2h0M1332.6 767.6h0M1337.3 792.8h0M1328 778.4h0M1338.7 784.6h0M1335.1 779.3h0M1335.8 771.8h0M1343.9 793.3h0M1342.8 767.6h0M1337 780.3h0M1332.6 769.6h0M1333.7 788.7h0M1330.7 773.4h0M1336.5 775.5h0M1334.1 785h0M1332.2 782.2h0M1333.4 768.7h0M1341.3 784.5h0M1336 775.2h0M1336.6 781.7h0M1341.6 785.3h0M1338.8 782.8h0M1334.3 781.8h0M1337.4 781h0M1339.2 789.9h0M1335.4 781.9h0M1338.7 789.6h0M1330.6 773.6h0M1338.6 775.6h0M1334.1 788.4h0M1339 780.8h0M1337.3 791h0M1340.8 791.7h0M1339 785.9h0M1340.3 782.2h0M1340.3 787.4h0M1336.3 781.4h0" stroke="#316793" stroke-width="3.4" stroke-linecap="round" fill="none"/>
<path d="M1156.7 719.6h0M1160.9 718.9h0M1169.2 716.6h0M1155.6 724.4h0M1160.7 722.2h0M1153 721.8h0M1164.3 716.9h0M1162.7 714.7h0M1170.4 709.8h0M1152.2 722.1h0M1153.3 723.7h0M1170.9 710.2h0M1170.4 708.8h0M1165.6 718.3h0M1151.2 722.7h0M1170.1 713.2h0M1156.3 716.5h0M1162.9 715.3h0M1152.4 722.4h0M1172.9 719.6h0M1343.7 800.1h0M1339.7 804.2h0M1346.6 801.3h0M1341.2 798.3h0M1337.6 804.5h0M1343.3 801.9h0M1341.1 798.9h0M1340.9 804.7h0M1342.3 801.6h0M1340.9 804.3h0M1337.8 800.8h0M1341.9 799.6h0M1345.4 803.1h0M1341.6 800.3h0M1338.4 814.1h0M1342.5 812.3h0M1343 806.6h0M1349.3 811.2h0M1341.6 801.6h0M1344 820.9h0M1341.2 805h0M1344.3 814.4h0M1339 802.6h0M1343.9 812.7h0M1344.1 809.8h0M1339 799.5h0M1336.3 796.6h0M1349.9 824h0M1347.9 821.5h0M1347.5 824.2h0M1349.6 822.8h0M1341.9 807.1h0" stroke="#3875a7" stroke-width="3.4" stroke-linecap="round" fill="none"/>
<path d="M1132.3 726.4h0M1121.2 732.3h0M1145.6 723.5h0M1129.4 723.4h0M1122.3 735.2h0M1144 723.7h0M1127.8 729.7h0M1123.1 726.3h0M1134.6 721h0M1132.4 725.9h0M1148.1 727.5h0M1137.3 730.8h0M1124.3 732.3h0M1128.7 732.1h0M1138.8 723.6h0M1133.8 732.1h0M1146.9 726.4h0M1128.1 733.6h0M1131.2 728.5h0M1129 730h0M1125.9 728.7h0M1124.8 733.5h0M1132.8 725.1h0M1136.1 729.5h0M1132.5 731.7h0M1353.1 841.9h0M1347.6 829.1h0M1351.8 832.3h0M1344.7 832h0M1345.4 832.7h0M1349.3 831.8h0M1350.4 842.7h0M1349.6 842.7h0" stroke="#4084bb" stroke-width="3.4" stroke-linecap="round" fill="none"/>
<path d="M1117.2 740.6h0M1097.5 733.2h0M1102.5 738.3h0M1115.2 729.7h0M1119.9 743.7h0M1112 735.5h0M1116.8 738.1h0M1110.9 745.7h0M1115.5 727.5h0M1108.1 733.8h0M1108.1 740.2h0M1097.3 734.1h0M1095.2 736.5h0M1112.3 739.1h0M1102.5 737.5h0M1109.4 733.6h0M1100.6 738.5h0M1095.7 743.7h0M1109 738.2h0M1114.8 736.1h0M1108.9 737.7h0M1107.2 742.9h0M1095.8 743.6h0M1113.9 738.8h0M1118.7 741.2h0M1114.4 733.4h0M1352.5 857.6h0M1353.3 865.1h0M1357.6 838.4h0M1364.5 856.1h0M1354.3 839.4h0M1352.3 862.3h0M1358.2 840.8h0M1363.6 873h0M1347.5 866.6h0M1361.6 864.1h0M1353 847.2h0M1351.7 844.1h0M1347.6 862h0M1362.2 865.3h0M1357.5 849.6h0M1359.8 852.9h0M1358.4 850.9h0M1356.9 860.6h0M1365.2 865.8h0M1356.7 862.7h0M1355 847.9h0M1348.7 869.4h0M1358.2 856.2h0M1356.7 858.2h0M1358.6 859.9h0M1361.4 858h0M1349.6 866.1h0M1358.4 864.3h0M1348.5 853.1h0M1356.1 849.7h0M1362.8 869h0M1358.2 863.3h0M1355.1 853.4h0M1357 858.9h0M1356.7 855h0M1341.8 849.5h0M1359.4 854h0M1355.5 844h0M1354.5 852.7h0M1352.8 873.1h0M1357.1 854.1h0M1347.4 846.1h0M1358.6 855h0M1351.6 867.7h0M1355 855.9h0M1354.3 857.8h0M1357.7 855.4h0M1358.2 858.1h0M1347.9 854.3h0M1357.7 848.9h0M1357.9 866.9h0M1358.2 847.1h0M1364.7 857.2h0M1357.3 857.1h0M1361.3 853.2h0M1367.9 855h0M1354.8 846.6h0M1359.7 862.7h0M1356.5 861.4h0M1349.4 852.2h0M1353.4 855.6h0M1359 862.6h0M1359.7 860.4h0M1357.4 860.4h0M1351.2 874.7h0M1353 862.8h0M1368.1 859.2h0M1357.7 861.9h0M1361.6 850.6h0M1357.4 854.5h0M1346 863.4h0M1355.2 841.6h0M1366.8 861.4h0M1358.4 854.5h0M1367.6 862.6h0M1357.6 852.1h0M1355.8 860.3h0M1358.4 853.7h0M1352.4 860.4h0M1357.7 860.6h0M1353.4 864.2h0M1337.2 855.4h0M1342.2 861.6h0M1350.5 861.5h0M1330.4 860.4h0M1349.1 859.1h0M1354.7 858.2h0M1345.9 852.9h0M1339.2 873.5h0M1346.8 855.6h0M1345.5 864.1h0M1348.4 853.8h0M1345.8 864.1h0M1341.1 858h0M1332.9 855h0M1333.4 851.1h0M1338.9 855.8h0M1346.5 868.9h0M1347.8 863.3h0M1340.3 858.9h0M1331.5 861.5h0M1345.9 856.1h0M1361.3 844.6h0M1350.3 844.8h0M1355.6 851.7h0M1359.5 842.9h0M1358.2 847h0M1355.1 847.7h0M1360.4 845.6h0M1358.9 847.6h0M1356.7 848.2h0M1327.5 851.2h0M1327.2 851.3h0M1337.1 856h0M1337.9 852.7h0M1338.1 854.2h0M1332.2 853.1h0M1333.1 854.2h0M1335.9 853.6h0" stroke="#4793cf" stroke-width="3.4" stroke-linecap="round" fill="none"/>
<path d="M1067.6 754.1h0M1068.1 755.6h0M1078.7 755.1h0M1072.3 752h0M1076.9 750.4h0M1070.6 749.4h0M1069.8 745.8h0M1077.9 759.8h0M1075.8 751.6h0M1069.7 752.3h0M1089.4 759.1h0M1072.7 763.3h0M1087.4 755.5h0M1072 757.5h0M1081.6 757h0M1094.7 756.7h0M1081.9 756.3h0M1078.6 758.6h0M1082.1 756h0M1070 758.8h0M1073.2 755.7h0M1067 754.9h0M1089.9 746.6h0M1076.9 743.3h0M1085.6 734.7h0M1067.7 738.6h0M1087.5 734.3h0M1082.1 746.9h0M1074.3 740.6h0M1068.2 739.5h0M1085.6 737.9h0M1067.2 733.8h0M1087.2 745.3h0M1080.5 744.2h0M1081.2 743.3h0M1088 748.5h0M1082.9 750h0M1082.3 748.8h0M1092.6 747.4h0M1080.1 747.7h0M1086.5 744.8h0" stroke="#4fa2e3" stroke-width="3.4" stroke-linecap="round" fill="none"/>
<path d="M1028.4 753.7h0M1021.4 762.2h0M1026.5 752.1h0M1026.8 763.2h0M1021.5 759h0M1029.2 758.8h0M1023.4 759.6h0M1025.7 761.6h0M1025 757.7h0M1032.3 759h0M1029.3 762.7h0M1028.8 758.1h0M1022.6 758.8h0M1029 760h0M1029.6 752.9h0M1032.2 752.5h0M1019.3 757.4h0M1021.9 755.1h0M1025.3 757.9h0M1027.1 761h0M1025.4 761.5h0M1034.3 760.5h0M1025.1 765.5h0M1018.4 761.9h0M1028.6 755.8h0M1026.3 761.2h0M1033.3 762.7h0M1021.2 756.9h0M1020.5 757.7h0M1029.3 759h0M1026.8 758.6h0M1022 770.9h0M1019.5 758.7h0M1017.6 760.9h0M1025.9 753.6h0M1018.9 760.8h0M1026 756.7h0M1018.8 751.6h0M1021.3 754.5h0M1024.1 757.1h0M1032.5 756h0M1025.6 762.6h0M1022.1 764.2h0M1034.1 764.7h0M1013.4 752.4h0M1030.7 760.1h0M1028.8 761.9h0M1022.4 756.8h0M1026.8 760.5h0M1032.3 755.9h0M1025.6 763.3h0M1025.6 760h0M1024.6 755.6h0M1022.4 757.7h0M1028.6 757.4h0M1035.4 765.5h0M1024.7 763.3h0M1024.7 749h0M1017.6 759.9h0M1027.9 758.4h0M1029.1 764.8h0M1029.4 762.5h0M1019.5 756.5h0M1027.1 761.6h0M1021.3 759.5h0M1024.9 759.4h0M1020.4 767.8h0M1030.9 758.1h0M1019.3 764.9h0M1021.8 760.4h0M1023.8 756.8h0M1034.2 762.8h0M1033.9 760.9h0M1036.8 761.2h0M1037.6 756.3h0M1031.2 763.3h0M1028.8 762.5h0M1029.5 761.7h0M1033.7 759.9h0M1027.7 757.9h0M1031.2 762.1h0M1030.3 768.7h0M1033.5 767.9h0M1036.9 761.6h0M1038.8 759.5h0M1035.3 756.8h0M1032.2 756.4h0M1031.9 760.8h0M1029.7 759.8h0M1035.1 763.5h0M1027.2 761.9h0M1034.1 762.3h0M1028.4 764.3h0M1031.3 771h0M1030 756.7h0M1027.2 762.5h0M1039.3 759.3h0M1036.2 762.3h0M1027 751.7h0M1033.6 760.9h0M1039.1 758.9h0M1032.6 765.6h0M1031.8 762.3h0M1029.6 764.8h0M1028.3 762.2h0M1030 760.3h0M1036.5 760.7h0M1032.5 756.3h0M1035.1 766.9h0M1029.5 761.1h0M1028.8 759.1h0M1025.2 768.5h0M1036.4 759.7h0M1025.8 761.5h0M1037.9 765.7h0M1027.5 766h0M1028.4 767.9h0M1030.4 766.9h0M1032.6 753.9h0M1028.1 758.6h0M1037.1 769.9h0M1032.8 761.8h0M1031 759h0M1030.6 760.5h0M1030.8 762.3h0M1029.2 753.8h0M1032.1 765.7h0M1040.3 756.3h0M1031.6 764.1h0M1029.4 757.5h0M1050.4 745.7h0M1050.8 756.7h0M1050 762h0M1056.6 759.1h0M1064.6 753.1h0M1051.6 755.8h0M1050.7 753.8h0M1048.4 757.7h0M1060.9 756.4h0M1044.6 766.3h0M1052 763.1h0M1042.4 762.8h0M1053.5 758.2h0M1057.7 752.4h0M1047.4 762.3h0M1044.8 765.7h0M1050.1 763.9h0M1049.2 755h0M1042.7 762.4h0M1044.7 763.3h0M1064.1 756.4h0M1065.4 769.5h0M1054 773.1h0M1053.8 773.1h0M1057.7 763.3h0M1060.9 760h0M1054.1 766.7h0M1056.3 760.3h0M1051.9 748.4h0M1065.6 754.7h0M1046.6 757.2h0M1063.2 753.7h0" stroke="#56b1f7" stroke-width="3.4" stroke-linecap="round" fill="none"/>
<path d="M1035.8 759.3L1037.7 758.7L1040.1 758.1L1043 757.3L1046.3 756.5L1050 755.5L1054 754.3L1058.3 753.1L1062.9 751.6L1067.8 750L1073.2 748.2L1079 746.2L1085.1 744.2L1091.4 742L1098 739.7L1104.6 737.4L1111.4 735L1118.5 732.5L1126 729.9L1133.8 727.2L1141.7 724.4L1149.6 721.7L1157.3 718.9L1164.7 716.3L1171.5 713.9L1178 711.5L1184.3 709.2L1190.3 706.9L1196.1 704.7L1201.6 702.6L1207 700.7L1212 698.9L1216.9 697.2L1221.4 695.8L1225.7 694.6L1229.8 693.6L1233.6 692.6L1237.2 691.8L1240.6 691.1L1243.9 690.4L1246.9 689.8L1249.8 689.2L1252.5 688.7L1254.9 688.3L1257.2 687.9L1259.3 687.6L1261.3 687.4L1263.3 687.3L1265.2 687.3L1267 687.3L1268.7 687.5L1270.4 687.8L1271.9 688.2L1273.4 688.6L1274.7 689L1276 689.4L1277.2 689.8L1278.3 690.1L1279.1 690.3L1279.9 690.5L1280.5 690.7L1281.2 691L1282 691.4L1282.9 691.9L1284.1 692.7L1285.5 693.7L1287 694.9L1288.7 696.1L1290.4 697.5L1292.3 699L1294.2 700.8L1296.2 702.7L1298.2 704.9L1300.3 707.2L1302.5 709.8L1304.9 712.5L1307.3 715.4L1309.6 718.5L1312 721.8L1314.3 725.3L1316.4 728.9L1318.5 732.9L1320.5 737.1L1322.6 741.6L1324.5 746.3L1326.4 751L1328.2 755.8L1329.9 760.5L1331.5 765.1L1332.9 769.7L1334.2 774.4L1335.4 779.1L1336.6 783.8L1337.6 788.4L1338.7 792.9L1339.6 797.2L1340.6 801.3L1341.5 805.2L1342.3 809L1343.1 812.7L1343.9 816.2L1344.6 819.6L1345.3 822.8L1345.9 825.7L1346.5 828.5L1347 831.1L1347.6 833.5L1348 835.7L1348.5 837.7L1348.8 839.5L1349.2 841.1L1349.5 842.5L1349.7 843.6" stroke="#000" stroke-width="1.3" fill="none"/>
<ellipse cx="1284.1" cy="692.7" rx="4.5" ry="4.3" fill="#000"/><text x="1284.1" y="695.3" font-size="7" text-anchor="middle" font-weight="bold" fill="#fff">1</text>
<rect x="1000.8" y="659" width="386.9" height="226.6" fill="none" stroke="#444" stroke-width="1.3"/>
<text x="1420" y="607.5" font-size="45" font-weight="bold">e</text>
<text x="1484.7" y="632.7" font-size="22.1">Cell type</text>
<circle cx="1591.9" cy="606.8" r="6.7" fill="#1f77b4"/>
<text x="1605.5" y="612.8" font-size="19.3">MC1</text>
<circle cx="1660.8" cy="606.8" r="6.7" fill="#ff7f0e"/>
<text x="1673.4" y="612.8" font-size="19.3">MC2</text>
<circle cx="1729.7" cy="607.8" r="6.7" fill="#2ca02c"/>
<text x="1741.4" y="614.4" font-size="19.3">MC3</text>
<circle cx="1591.9" cy="643.8" r="6.7" fill="#d62728"/>
<text x="1605.5" y="650" font-size="19.3">MC4</text>
<circle cx="1660.8" cy="643.8" r="6.7" fill="#9467bd"/>
<text x="1673.4" y="649.5" font-size="19.3">MC5</text>
<circle cx="1729.7" cy="643.8" r="6.7" fill="#8c564b"/>
<text x="1742.5" y="649.5" font-size="19.3">MC6</text>
<path d="M1480.4 692.5L1484.7 692.5" stroke="#333" stroke-width="1"/>
<text x="1477" y="698.6" font-size="19.6" text-anchor="end">2.5</text>
<path d="M1480.4 741.2L1484.7 741.2" stroke="#333" stroke-width="1"/>
<text x="1477" y="747.4" font-size="19.6" text-anchor="end">0.0</text>
<path d="M1480.4 790L1484.7 790" stroke="#333" stroke-width="1"/>
<text x="1477" y="796.1" font-size="19.6" text-anchor="end">-2.5</text>
<path d="M1480.4 838.7L1484.7 838.7" stroke="#333" stroke-width="1"/>
<text x="1477" y="844.9" font-size="19.6" text-anchor="end">-5.0</text>
<path d="M1480.4 887.5L1484.7 887.5" stroke="#333" stroke-width="1"/>
<text x="1477" y="893.6" font-size="19.6" text-anchor="end">-7.5</text>
<path d="M1595 887.3L1595 891.6" stroke="#333" stroke-width="1"/>
<text x="1592.4" y="909.8" font-size="19.6" text-anchor="middle">-5</text>
<path d="M1708.8 887.3L1708.8 891.6" stroke="#333" stroke-width="1"/>
<text x="1709.8" y="909.8" font-size="19.6" text-anchor="middle">0</text>
<path d="M1822.6 887.3L1822.6 891.6" stroke="#333" stroke-width="1"/>
<text x="1823.6" y="909.8" font-size="19.6" text-anchor="middle">5</text>
<text font-size="22.2" text-anchor="middle" transform="translate(1425 786) rotate(-90)">Component 2</text>
<text x="1688.5" y="935.5" font-size="22" text-anchor="middle">Component 1</text>
<path d="M1519.4 757.2L1521.3 756.7L1523.7 756L1526.6 755.3L1529.9 754.4L1533.5 753.4L1537.5 752.3L1541.9 751L1546.4 749.6L1551.4 748L1556.8 746.2L1562.6 744.2L1568.6 742.1L1575 739.9L1581.5 737.7L1588.2 735.4L1595 733L1602 730.6L1609.5 728L1617.3 725.2L1625.2 722.5L1633.1 719.7L1640.8 717L1648.2 714.4L1655.1 712L1661.5 709.6L1667.8 707.3L1673.8 705L1679.6 702.8L1685.2 700.7L1690.5 698.8L1695.5 697L1700.4 695.4L1704.9 694L1709.2 692.8L1713.3 691.7L1717.1 690.8L1720.7 690L1724.1 689.3L1727.3 688.6L1730.4 688L1733.3 687.4L1736 686.9L1738.4 686.4L1740.7 686.1L1742.8 685.8L1744.8 685.6L1746.7 685.5L1748.6 685.4L1750.5 685.5L1752.2 685.7L1753.9 686L1755.4 686.4L1756.8 686.8L1758.2 687.2L1759.5 687.6L1760.7 688L1761.8 688.2L1762.6 688.5L1763.3 688.6L1764 688.8L1764.7 689.1L1765.4 689.5L1766.4 690.1L1767.5 690.9L1768.9 691.9L1770.5 693L1772.1 694.2L1773.9 695.6L1775.7 697.2L1777.7 698.9L1779.7 700.8L1781.7 703L1783.8 705.3L1786 707.9L1788.3 710.6L1790.7 713.5L1793.1 716.6L1795.5 719.8L1797.7 723.3L1799.9 727L1802 730.9L1804 735.1L1806 739.5L1808 744.1L1809.8 748.8L1811.6 753.6L1813.3 758.3L1814.9 763L1816.4 767.8L1817.7 772.7L1818.9 777.6L1820 782.6L1821.1 787.5L1822.1 792.3L1823.1 796.9L1824 801.3L1824.9 805.4L1825.8 809.5L1826.6 813.4L1827.3 817.2L1828.1 820.7L1828.7 824.1L1829.3 827.2L1829.9 830.1L1830.5 832.8L1831 835.2L1831.5 837.4L1831.9 839.4L1832.3 841.2L1832.6 842.8L1832.9 844.1L1833.1 845.1" stroke="#333" stroke-width="1.2" fill="none"/>
<g transform="scale(1.5 1)"><path d="M1023.4 744.9h0M1048.6 743.1h0M1040 739.9h0M1045.8 731.2h0M1033.9 735.1h0M1032.4 751.2h0M1047 730.8h0M1019.9 753.7h0M1030.9 750.3h0M1043.4 743.4h0M1038.2 737.1h0M1034.2 736.1h0M1045.8 734.4h0M1033.5 730.3h0M1078.4 717.6h0M1098.2 713.6h0M1097.1 711.4h0M1063.4 732.1h0M1112.8 703.8h0M1047.4 745.1h0M1077 722.5h0M1087.4 724.1h0M1080.2 727.4h0M1110.1 711.7h0M1126 698.3h0M1066.6 734.7h0M1117.2 700.5h0M1062.6 742.2h0M1124 698.1h0M1071.6 728.9h0M1102.3 706.5h0M1065.7 724.1h0M1108.3 709.2h0M1060.8 730.4h0M1090.1 718.7h0M1109.2 710.9h0M1074.5 728.7h0M1060.7 736.8h0M1053.6 730.7h0M1081.2 720.3h0M1052.2 733.1h0M1044 746.5h0M1113.2 709.6h0M1090.9 720.3h0M1136.4 697.5h0M1102.6 706.9h0M1077.9 728.7h0M1102.3 705.4h0M1086.7 723h0M1118.6 702.7h0M1043.6 745.3h0M1063.6 735.7h0M1099.1 714.9h0M1089.5 719.3h0M1057 734.1h0M1074.1 730.2h0M1061.7 730.2h0M1055.8 735.1h0M1102.1 709.9h0M1052.5 740.2h0M1092.9 713.2h0M1115.1 701.4h0M1061.4 734.8h0M1050.5 744h0M1065.2 732.7h0M1061.3 734.3h0M1097.3 712h0M1107.3 713.8h0M1042.1 744.3h0M1130 692.5h0M1076.2 725.1h0M1090.3 719.1h0M1128.4 696.3h0M1060.1 739.5h0M1130 686.2h0M1116.1 698.4h0M1112.4 708.7h0M1074.7 726.6h0M1106.9 711.6h0M1120.5 705.1h0M1046.4 741.3h0M1072.6 725.3h0M1118.9 702.3h0M1071.9 730.1h0M1052.6 740.2h0M1064.7 735.4h0M1077.2 721.7h0M1109.7 711h0M1104 716.3h0M1206.5 853.7h0M1206.3 853.8h0M1213 858.5h0M1213.5 855.2h0M1213.6 856.7h0" stroke="#8c564b" stroke-width="2.9" stroke-linecap="round" fill="none"/></g>
<g transform="scale(1.5 1)"><path d="M1004.9 755.7h0M1011.8 761.8h0M1011.6 759.8h0M1013.6 760.1h0M1014.1 755.2h0M1009.8 762.2h0M1008.3 761.4h0M1008.7 760.6h0M1011.5 758.8h0M1007.5 756.9h0M1009.8 761h0M1009.3 767.6h0M1011.4 766.8h0M1013.7 760.5h0M1014.9 758.4h0M1012.6 755.8h0M1010.5 755.3h0M1010.3 759.8h0M1008.8 758.8h0M1012.5 762.4h0M1007.2 760.8h0M1011.8 761.2h0M1008 763.2h0M1009.9 769.8h0M1009.1 755.6h0M1007.2 761.4h0M1015.2 758.2h0M1013.2 761.2h0M1007 750.6h0M1011.5 759.8h0M1015.1 757.8h0M1010.8 764.5h0M1010.2 761.2h0M1008.8 763.7h0M1007.9 761.1h0M1009 759.2h0M1013.4 759.6h0M1010.7 755.2h0M1012.4 765.8h0M1008.7 760h0M1008.3 758h0M1005.9 767.3h0M1013.3 758.6h0M1006.3 760.4h0M1014.3 764.6h0M1007.4 764.9h0M1008 766.7h0M1009.3 765.7h0M1010.8 752.9h0M1007.8 757.5h0M1013.8 768.8h0M1010.9 760.7h0M1009.7 757.9h0M1009.4 759.5h0M1009.6 761.2h0M1008.5 752.7h0M1010.5 764.6h0M1015.9 755.2h0M1010.1 763h0M1008.6 756.4h0M1033.8 750.7h0M1022.4 742.2h0M1022.6 753.2h0M1034.1 752.1h0M1022.1 758.5h0M1026.5 755.6h0M1041.2 751.6h0M1031.8 749.6h0M1023.2 752.3h0M1022.6 750.3h0M1021 754.2h0M1036.9 748.6h0M1040 747h0M1029.3 752.9h0M1018.5 762.8h0M1023.4 759.6h0M1017.1 759.3h0M1024.4 754.7h0M1027.2 748.9h0M1020.4 758.8h0M1035.8 746h0M1018.7 762.2h0M1022.2 760.4h0M1021.6 751.5h0M1035.3 742.4h0M1040.7 756.3h0M1017.3 758.9h0M1039.3 748.1h0M1035.2 748.9h0M1018.6 759.8h0M1048.3 755.7h0M1037.2 759.9h0M1047 752.1h0M1031.5 752.9h0M1032.3 766h0M1024.8 769.6h0M1024.7 769.6h0M1027.2 759.8h0M1029.4 756.6h0M1036.7 754h0M1043.1 753.5h0M1024.8 763.2h0M1051.8 753.2h0M1043.3 752.9h0M1093.1 716.3h0M1066.8 737.2h0M1046.8 741.9h0M1076.9 723h0M1096 715.6h0M1042.4 740.8h0M1069.5 728.9h0M1085.7 720.1h0M1053.7 729.8h0M1075 720h0M1101.5 713.3h0M1057.1 734.8h0M1070.3 731.8h0M1092.5 721.1h0M1084.7 720.3h0M1065.5 726.3h0M1073.9 726.3h0M1070.8 722.9h0M1042.8 739.9h0M1095.8 718.8h0M1090.7 718.5h0M1068.6 740.3h0M1209.7 855.6h0M1210.3 856.8h0M1212.1 856.1h0" stroke="#2ca02c" stroke-width="2.9" stroke-linecap="round" fill="none"/></g>
<g transform="scale(1.5 1)"><path d="M1008 752.6h0M1003.3 761.1h0M1006.8 751h0M1006.9 762.1h0M1003.4 757.9h0M1008.5 757.7h0M1004.6 758.5h0M1006.2 760.5h0M1005.7 756.6h0M1010.6 757.9h0M1008.6 761.6h0M1008.3 757h0M1004.1 757.7h0M1008.4 758.9h0M1008.8 751.8h0M1010.5 751.5h0M1001.9 756.3h0M1003.7 754h0M1005.9 756.8h0M1007.1 759.9h0M1006 760.4h0M1011.9 759.4h0M1005.8 764.4h0M1001.3 760.8h0M1008.1 754.7h0M1006.6 760.1h0M1011.2 761.6h0M1003.2 755.8h0M1002.8 756.6h0M1008.6 757.9h0M1006.9 757.5h0M1003.7 769.8h0M1002.1 757.7h0M1000.8 759.8h0M1006.3 752.5h0M1001.6 759.7h0M1006.4 755.6h0M1001.6 750.5h0M1003.3 753.5h0M1005.1 756.1h0M1010.7 754.9h0M1006.1 761.5h0M1003.8 763.1h0M1011.8 763.6h0M998 751.3h0M1009.6 759h0M1008.2 760.8h0M1004 755.7h0M1006.9 759.4h0M1010.6 754.8h0M1006.1 762.2h0M1006.1 758.9h0M1005.5 754.6h0M1004 756.6h0M1008.1 756.3h0M1012.6 764.4h0M1005.5 762.2h0M1005.5 747.9h0M1000.8 758.8h0M1007.7 757.3h0M1008.5 763.7h0M1008.6 761.4h0M1002 755.5h0M1007.1 760.5h0M1003.2 758.4h0M1005.7 758.3h0M1002.6 766.7h0M1009.6 757h0M1001.9 763.8h0M1003.6 759.3h0M1041.1 755.2h0M1043.5 752.6h0M1026.3 756.8h0M1035.4 755.4h0M1037.5 752.3h0M1033.4 751.5h0" stroke="#9467bd" stroke-width="2.9" stroke-linecap="round" fill="none"/></g>
<g transform="scale(1.5 1)"><path d="M1133.3 692.5h0M1127.6 692.2h0M1136.1 683.4h0M1147.3 684.8h0M1139.9 683.5h0M1149.9 687.4h0M1135.5 690.3h0M1144.8 683.8h0M1142.2 691.2h0M1136.1 684.8h0M1132.1 695.2h0M1147.7 684.6h0M1157.1 686.9h0M1153.9 683h0M1135.1 679.4h0M1138.1 686.8h0M1139 688.6h0M1146.2 686h0M1151 681.8h0M1145.7 686.1h0M1154.4 688.5h0M1153.9 679.5h0M1143.4 694.3h0M1149.5 692.7h0M1120.3 698.4h0M1116.1 701.5h0M1110.4 705.6h0M1114.9 700.6h0M1158.2 682.2h0M1165.3 678.6h0M1171.4 682.4h0M1172.5 678.3h0M1158.3 682.4h0M1175.2 677h0M1177 682.2h0M1161.9 674.2h0M1171.8 678.7h0M1163.1 680h0M1175.6 684.2h0M1174.8 677.3h0M1161.6 678.7h0M1163 678.9h0M1159.2 680.6h0M1155.9 678.3h0M1174.2 678.8h0M1168.3 675h0M1175.1 678.6h0M1159.5 682.9h0M1174.1 674.5h0M1161.9 674.5h0M1160.8 678.3h0M1174.1 677.5h0M1174.7 681.2h0M1161.2 684.1h0M1162.5 679.8h0M1175.7 678.1h0M1179.6 675.7h0M1176.3 677.4h0M1165.6 680.4h0M1160 684.4h0M1170.3 672.5h0M1175.5 682.2h0M1157.5 680.5h0M1175 684.9h0M1159.2 680.8h0M1173.7 681.1h0M1172.6 677.2h0M1158.5 678.9h0M1169.8 679.8h0M1176.2 682.5h0M1176 685.6h0M1163.4 677h0M1169 681.6h0M1173.1 678.2h0M1159.6 680.8h0M1159.9 673.9h0M1156.9 678.2h0M1164.6 679.5h0M1162.3 678.9h0M1167.9 675.6h0M1158.1 680.6h0M1157.3 680h0M1159.9 678.9h0M1161.6 675.9h0M1174 682.8h0M1172.5 683.2h0M1170.9 681.2h0M1173.4 676.2h0M1167.6 678.5h0M1175.1 685.9h0M1161.5 683h0M1166.9 686.2h0M1176.3 677.3h0M1160.9 676h0M1172 683.5h0M1160.6 677.1h0M1160.7 675.9h0M1169.4 682.4h0M1158.2 681.8h0M1159.2 671.1h0M1167.6 679.8h0M1167.8 682.2h0M1177 681.5h0M1165 680.8h0M1164.8 680.4h0M1161.4 683.2h0M1171.2 680h0M1161.8 678.5h0M1163.6 677h0M1178.2 677.8h0M1175.2 685.8h0M1166.3 683.1h0M1169.1 677.9h0M1163.4 679.3h0M1163.7 680.4h0M1156.5 677.1h0M1171.4 677.2h0M1159.5 679.8h0M1162.6 678h0M1172.7 682.4h0M1159.6 683.5h0M1170.5 682.2h0M1156.7 673.9h0M1183.8 687.4h0M1185.8 681.7h0M1184.2 685.5h0M1188.3 680.9h0M1185.4 678.5h0M1186.7 684.6h0M1183.2 683.5h0M1186.1 676.3h0M1184.6 681h0M1183.6 682.2h0M1185 677.1h0M1186.8 676.9h0M1187 682.6h0M1182.4 678.5h0M1182.2 674.3h0M1187.4 685.1h0M1187.8 675.1h0M1184.7 679.8h0M1187.8 683.2h0M1185.2 676.6h0M1186.8 683.8h0M1181 679.2h0M1188.2 707.8h0M1186.7 697.1h0M1190.9 704.1h0M1190.2 702.3h0M1186.6 691.7h0M1188.9 706.7h0M1193.8 704.5h0M1190.1 704.6h0M1193.9 705.2h0M1193 704.9h0M1192.5 701.7h0M1190.5 703.4h0M1194.7 704.6h0M1182.5 691.9h0M1194.7 702.8h0M1190.3 709.8h0M1193.7 706.2h0M1186.1 695h0M1192.3 701.9h0M1180.7 697.4h0M1183.4 694.7h0M1185.7 705.8h0M1200.5 725.1h0M1215.9 775.4h0M1206.9 744h0M1207 753h0M1215.7 763.6h0M1212.8 788.4h0M1216.2 780.7h0M1216.1 799.7h0M1214.9 791.1h0M1217.3 791.9h0M1216.2 786h0M1217 782.2h0M1217 787.5h0M1214.3 796.8h0M1223.2 824.9h0M1219.7 833h0M1221.8 822.3h0M1220.2 833.8h0M1221.6 825.1h0M1222.7 832.9h0M1223.5 843.9h0M1223 844h0" stroke="#1f77b4" stroke-width="2.9" stroke-linecap="round" fill="none"/></g>
<g transform="scale(1.5 1)"><path d="M1121.3 703.3h0M1126.1 700.8h0M1128.7 700.5h0M1191.3 707.3h0M1193.8 703.1h0M1185.7 700.3h0M1192.3 716.9h0M1200.1 714.1h0M1190.8 707.1h0M1189.4 700.4h0M1189.1 698h0M1187.6 693.2h0M1191.1 710.9h0M1191.3 709.4h0M1197 716.1h0M1193.6 707.1h0M1192.1 696.3h0M1194 710.6h0M1196.1 713.6h0M1192 701.2h0M1188.6 704.2h0M1195.1 708h0M1184.6 696.9h0M1213.4 770h0M1206.5 745.3h0M1209.3 754.2h0M1212.6 752.8h0M1201.5 728.8h0M1212.3 747.3h0M1204.6 729.2h0M1212.3 753.6h0M1202.5 720.4h0M1197.1 715.1h0M1208.9 732.2h0M1208.8 741.8h0M1197.6 731.2h0M1210.8 752.7h0M1201 734.7h0M1206.9 739.6h0M1205.4 741.4h0M1210.1 748.9h0M1208.5 751.9h0M1202.9 723.7h0M1211.3 749.1h0M1210.4 749.1h0M1207.2 743.4h0M1206.5 740.3h0M1204.1 716.6h0M1205.3 725.2h0M1210.3 750.4h0M1204.2 723h0M1200.2 724.9h0M1214.5 767.8h0M1211.1 764.1h0M1198.7 720.9h0M1215.3 768.4h0M1202.5 730.2h0M1212.8 760.2h0M1202 722h0M1206.4 745.2h0M1212.4 764.3h0M1211.7 748.1h0M1205.9 747.4h0M1205.3 729.3h0M1202.8 718.8h0M1208.4 745.7h0M1213.3 758.6h0M1208.7 737h0M1208.7 742.2h0M1203.9 738.9h0M1211.8 748.7h0M1210.5 740.3h0M1193.4 719.6h0M1214.4 770.3h0M1205.4 737.2h0M1207.5 725.1h0M1196.9 713.7h0M1212 750.5h0M1196.8 717.9h0M1207 730.2h0M1200.4 722.8h0M1208 754.2h0M1207.7 739.8h0M1211.5 771.2h0M1211.4 760.5h0M1206.6 749.2h0M1208.5 731.6h0M1213.6 758.9h0M1212.8 756.6h0M1212 772.3h0M1207.4 739.2h0M1204.9 734.2h0M1209.2 745h0M1209.2 760h0M1203.3 734.9h0M1205.5 749.2h0M1197 713.9h0M1203.5 729.8h0M1199.5 718.9h0M1209.2 755.2h0M1199 715.9h0M1216.3 766h0M1197 718h0M1207.7 749.4h0M1199.1 716.2h0M1212.9 765h0M1206.1 741.3h0M1209.3 752.9h0M1214.1 765.2h0M1215.6 760.9h0M1211.3 772.5h0M1203.2 733h0M1210.3 758.8h0M1211.7 747.5h0M1214.2 771.1h0M1200.1 723.2h0M1202.1 734.6h0M1204.5 725.8h0M1206.4 745.8h0M1209.8 749.6h0M1206.9 736.7h0M1212.7 765.6h0M1208.5 750h0M1209.6 750h0M1209.8 760.6h0M1210.1 741.7h0M1199.7 716.6h0M1205.4 741h0M1213.9 755.6h0M1202.1 735.4h0M1213.7 761.7h0M1207.9 735.9h0M1212 763.8h0M1208.8 761.6h0M1203.5 732.9h0M1204.7 732.3h0M1201.2 723.8h0M1212 767h0M1207.7 747.9h0M1206.5 738h0M1211.5 743.1h0M1208.7 730h0M1205.5 737.7h0M1204.8 726.7h0M1214.1 762h0M1209.5 746.7h0M1205.7 740.8h0M1199.9 714.2h0M1200.6 732.2h0M1207.2 736.3h0M1204.7 736.9h0M1206.6 745.1h0M1199.6 725h0M1214.9 793h0M1219.2 800.5h0M1208.9 778h0M1216.5 804.6h0M1216 784.6h0M1221.1 801.8h0M1213.6 779.1h0M1214.1 771.4h0M1219.3 793.5h0M1218.8 767.3h0M1214.8 780.2h0M1212 769.1h0M1217.5 798.6h0M1212.6 788.7h0M1210.7 773h0M1214.5 775.2h0M1212.8 784.9h0M1211.6 782h0M1215.1 804.8h0M1218.9 802.3h0M1212.6 768.3h0M1217.5 799.2h0M1217.7 784.6h0M1217.3 805.1h0M1214.2 774.9h0M1218.2 802h0M1217.3 804.7h0M1214.6 781.6h0M1215.3 801.1h0M1217.8 785.3h0M1218 800h0M1216 782.8h0M1213.1 781.6h0M1215.1 780.9h0M1220.3 803.6h0M1216.2 790h0M1213.7 781.8h0M1215.9 789.7h0M1217.8 800.7h0M1210.7 773.1h0M1215.6 814.7h0M1218.3 812.9h0M1225.4 843.2h0M1218.7 807.1h0M1222.8 811.9h0M1221.6 830.1h0M1217.8 802h0M1224.4 833.4h0M1219.2 821.7h0M1217.5 805.5h0M1219.5 815.1h0M1216.1 802.9h0M1219.2 813.3h0M1219.4 810.4h0M1229.1 847.2h0M1221.8 847.4h0M1225.3 854.2h0M1227.8 845.5h0M1227 849.5h0M1224.9 850.2h0M1228.5 848.1h0M1227.5 850.1h0M1226 850.8h0" stroke="#ff7f0e" stroke-width="2.9" stroke-linecap="round" fill="none"/></g>
<g transform="scale(1.5 1)"><path d="M1079.4 726.1h0M1067.8 737.8h0M1077 728.3h0M1065 730h0M1214.4 781.3h0M1223 823.8h0M1218 807.6h0M1206.4 747.1h0M1206.2 745.6h0M1223.2 860.1h0M1223.7 867.6h0M1226.6 840.9h0M1231.2 858.6h0M1224.4 842h0M1223.1 864.8h0M1227 843.4h0M1230.6 875.4h0M1219.9 869.1h0M1229.3 866.6h0M1223.5 849.7h0M1222.7 846.7h0M1220 864.5h0M1229.7 867.8h0M1226.5 852.1h0M1228.1 855.4h0M1227.1 853.4h0M1226.1 863.2h0M1231.7 868.3h0M1226 865.2h0M1224.9 850.4h0M1220.6 871.9h0M1227 858.7h0M1226 860.7h0M1227.3 862.4h0M1229.1 860.5h0M1221.3 868.6h0M1227.1 866.8h0M1220.5 855.6h0M1225.6 852.2h0M1230.1 871.4h0M1227 865.8h0M1224.9 856h0M1226.2 861.4h0M1226 857.5h0M1216.1 852h0M1227.8 856.5h0M1225.2 846.5h0M1224.6 855.2h0M1223.4 875.6h0M1226.3 856.6h0M1219.8 848.7h0M1227.3 857.5h0M1222.6 870.2h0M1224.8 858.4h0M1224.4 860.4h0M1226.7 857.9h0M1227 860.6h0M1220.2 856.8h0M1226.6 851.4h0M1226.8 869.3h0M1227 849.6h0M1231.3 859.7h0M1226.4 859.6h0M1229.1 855.7h0M1233.5 857.5h0M1224.7 849.2h0M1228 865.2h0M1225.9 863.9h0M1221.1 854.7h0M1223.8 858.1h0M1227.5 865.1h0M1228 862.9h0M1226.5 862.9h0M1222.3 877.1h0M1223.5 865.3h0M1233.6 861.8h0M1226.7 864.4h0M1229.3 853.2h0M1226.4 857h0M1218.9 865.9h0M1225 844.1h0M1232.7 863.9h0M1227.1 857h0M1233.3 865.1h0M1226.6 854.6h0M1225.4 862.8h0M1227.1 856.2h0M1223.1 862.9h0M1226.7 863.1h0M1223.8 866.7h0M1213 858h0M1216.3 864.1h0M1221.8 864h0M1208.5 862.9h0M1220.9 861.7h0M1224.7 860.7h0M1218.8 855.4h0M1214.3 876h0M1219.4 858.1h0M1218.6 866.6h0M1220.4 856.4h0M1218.7 866.6h0M1215.6 860.6h0M1210.1 857.5h0M1210.5 853.7h0M1214.1 858.3h0M1219.2 871.4h0M1220.1 865.8h0M1215.1 861.4h0M1209.2 864h0M1218.8 858.6h0" stroke="#d62728" stroke-width="2.9" stroke-linecap="round" fill="none"/></g>
<ellipse cx="1768.2" cy="690.9" rx="4.3" ry="3.2" fill="#000"/><text x="1768.2" y="692.7" font-size="5" text-anchor="middle" font-weight="bold" fill="#fff">1</text>
<rect x="1484.7" y="661.2" width="386.3" height="226.1" fill="none" stroke="#444" stroke-width="1.2"/>
<path d="M1736.7 719.7L1543.8 791.5" stroke="#000" stroke-width="1.9"/>
<path d="M1551.7 784.1L1543.8 791.5L1554.6 791.9" fill="none" stroke="#000" stroke-width="1.9" stroke-linejoin="miter"/>
<path d="M1752.2 723.5L1804.7 855.6" stroke="#000" stroke-width="1.9"/>
<path d="M1797.1 847.9L1804.7 855.6L1804.9 844.8" fill="none" stroke="#000" stroke-width="1.9" stroke-linejoin="miter"/>
<text font-size="11.5" text-anchor="middle" transform="translate(1633 771) rotate(-20.4)">Fate 1</text>
<text font-size="11.5" text-anchor="middle" transform="translate(1758 771) rotate(68.3)">Fate 2</text>
<text x="906" y="989.5" font-size="45" font-weight="bold">f</text>
<text font-size="24.5" text-anchor="middle" transform="translate(951.5 1177) rotate(-90)">Component 2</text>
<text x="1433" y="1413" font-size="24.5" text-anchor="middle">Component 1</text>
<path d="M1000.4 1023.6L1004.4 1023.6" stroke="#333" stroke-width="1"/>
<text x="996.8" y="1029.9" font-size="20" text-anchor="end">2</text>
<path d="M1000.4 1053.5L1004.4 1053.5" stroke="#333" stroke-width="1"/>
<text x="996.8" y="1059.8" font-size="20" text-anchor="end">0</text>
<path d="M1000.4 1083.4L1004.4 1083.4" stroke="#333" stroke-width="1"/>
<text x="996.8" y="1089.7" font-size="20" text-anchor="end">-2</text>
<path d="M1000.4 1113.3L1004.4 1113.3" stroke="#333" stroke-width="1"/>
<text x="996.8" y="1119.6" font-size="20" text-anchor="end">-4</text>
<path d="M1000.4 1143.2L1004.4 1143.2" stroke="#333" stroke-width="1"/>
<text x="996.8" y="1149.5" font-size="20" text-anchor="end">-6</text>
<path d="M1069.4 1145.2L1069.4 1149.2" stroke="#333" stroke-width="1"/>
<text x="1066.8" y="1167.2" font-size="20" text-anchor="middle">-5</text>
<path d="M1151.4 1145.2L1151.4 1149.2" stroke="#333" stroke-width="1"/>
<text x="1152.4" y="1167.2" font-size="20" text-anchor="middle">0</text>
<path d="M1233.4 1145.2L1233.4 1149.2" stroke="#333" stroke-width="1"/>
<text x="1234.4" y="1167.2" font-size="20" text-anchor="middle">5</text>
<text x="1125.7" y="987.7" font-size="21" text-anchor="middle">MC1</text>
<g transform="scale(1.35 1)"><path d="M847 1020.9h0M842.2 1019.7h0M848.7 1012.3h0M858 1014.4h0M851.8 1012.7h0M860.3 1017h0M848.7 1019h0M855.9 1013.3h0M854.3 1020.5h0M848.8 1013.8h0M846.1 1023.4h0M858.3 1014.2h0M866.3 1016.7h0M863.3 1012.8h0M847.6 1008.4h0M850.6 1015.9h0M851.5 1017.7h0M857.1 1015.6h0M860.8 1011.5h0M856.8 1015.6h0M864.1 1018.3h0M863.1 1009.4h0M855.4 1023.6h0M860.4 1022.2h0M836.3 1024.4h0M832.8 1026.5h0M828.2 1029.5h0M831.8 1025.5h0M866.8 1012.2h0M872.9 1008.5h0M877.9 1012h0M879 1007.9h0M866.9 1012.3h0M881.6 1006.6h0M883.7 1012.5h0M869.5 1004.1h0M878.4 1008.4h0M870.8 1009.8h0M881.9 1014h0M881.2 1006.8h0M869.2 1008.6h0M870.7 1008.7h0M867.4 1010.5h0M864.7 1008.2h0M880.6 1008.3h0M875.4 1004.8h0M881.4 1008.1h0M867.9 1012.8h0M880.8 1004.1h0M869.4 1004.3h0M868.5 1008.2h0M880.7 1007.1h0M881 1010.7h0M869.3 1013.9h0M870.2 1009.6h0M882.2 1007.7h0M886.8 1006.5h0M883.5 1007.5h0M873.1 1010.3h0M868.4 1014.3h0M877.4 1002.4h0M881.9 1011.9h0M866.1 1010.5h0M881 1014.5h0M867.5 1010.8h0M880 1010.6h0M879.1 1006.9h0M866.7 1008.9h0M876.7 1009.7h0M882.7 1012.5h0M881.9 1015.4h0M871.2 1006.8h0M875.9 1011.5h0M879.7 1007.8h0M867.8 1010.8h0M867.4 1003.9h0M865.4 1008.2h0M872.2 1009.3h0M870 1008.7h0M875.1 1005.5h0M866.6 1010.5h0M865.9 1009.9h0M867.8 1008.9h0M869 1005.8h0M880.1 1012.3h0M878.8 1012.8h0M877.5 1010.9h0M880.1 1005.8h0M874.8 1008.4h0M881 1015.5h0M869.5 1012.8h0M874.1 1016.1h0M883.3 1007.3h0M868.6 1005.9h0M878.4 1013.1h0M868.3 1007.1h0M868.2 1005.8h0M876.2 1012.2h0M866.8 1011.7h0M866.4 1001.2h0M874.7 1009.7h0M874.8 1012.1h0M883.5 1011.6h0M872.5 1010.6h0M872.4 1010.2h0M869.5 1013.1h0M878 1009.8h0M869.4 1008.4h0M871.5 1006.8h0M885.7 1008.7h0M881.1 1015.3h0M873.7 1012.9h0M875.9 1007.8h0M871.3 1009h0M871.5 1010.2h0M865 1007.1h0M878.1 1007h0M867.6 1009.8h0M870.5 1007.8h0M879 1012h0M868 1013.4h0M877.1 1011.9h0M864.9 1003.9h0M887 1017.3h0M888.7 1012.9h0M887.4 1015.9h0M890.6 1012.3h0M888.3 1010.5h0M889.4 1015.1h0M886.5 1014.3h0M888.9 1008.8h0M887.7 1012.4h0M886.8 1013.3h0M888 1009.4h0M889.4 1009.2h0M889.6 1013.6h0M885.9 1010.5h0M885.8 1007.3h0M889.9 1015.5h0M890.2 1007.8h0M887.7 1011.5h0M890.2 1014.1h0M888.2 1009h0M889.5 1014.5h0M884.8 1011h0M889.8 1034.8h0M889.6 1025.8h0M892.8 1031.2h0M892.3 1029.7h0M890.6 1021.2h0M890.6 1033.7h0M895.7 1030.9h0M892 1031.8h0M895.7 1031.5h0M894.8 1031.5h0M894.7 1028.9h0M892.5 1030.6h0M896.5 1030.9h0M886.6 1021.3h0M896.7 1029.4h0M891.7 1036.2h0M895.4 1032.5h0M889.4 1024h0M894.5 1029h0M883.8 1025.9h0M886.9 1023.7h0M887.5 1033.4h0M900.9 1047.1h0M914.9 1084.9h0M906.8 1061.2h0M906.4 1068.3h0M915.2 1075.8h0M911.2 1095.2h0M915 1088.9h0M914.6 1103.5h0M913.5 1097h0M916.1 1097.3h0M914.9 1092.9h0M915.9 1089.9h0M915.8 1094h0M912.7 1101.5h0M921.9 1122.1h0M917.9 1128.7h0M920.4 1120.3h0M918.4 1129.3h0M920.1 1122.4h0M921.3 1128.2h0M922 1136.6h0M921.4 1136.7h0" stroke="#1f77b4" stroke-width="4.3" stroke-linecap="round" fill="none"/></g>
<path d="M1011.7 1068.3L1013.3 1067.9L1015.4 1067.3L1017.9 1066.7L1020.7 1066L1023.7 1065.2L1027 1064.3L1030.4 1063.3L1033.8 1062.2L1037.3 1061L1041 1059.7L1044.8 1058.4L1048.7 1056.9L1052.9 1055.4L1057.4 1053.7L1062.1 1052L1067.2 1050.2L1072.7 1048.1L1078.9 1045.9L1085.4 1043.5L1092.1 1041L1098.9 1038.5L1105.4 1036.2L1111.5 1034L1117.1 1032L1122.2 1030.3L1126.9 1028.7L1131.4 1027.3L1135.7 1025.9L1139.7 1024.7L1143.5 1023.6L1147.1 1022.5L1150.5 1021.5L1153.7 1020.5L1156.7 1019.7L1159.5 1018.9L1162.1 1018.3L1164.5 1017.7L1166.7 1017.1L1168.7 1016.6L1170.5 1016.2L1172.1 1015.8L1173.3 1015.6L1174.3 1015.3L1175.1 1015.2L1175.8 1015.1L1176.4 1015L1177.2 1015L1178 1015L1178.9 1015L1179.9 1015.1L1180.8 1015.2L1181.7 1015.3L1182.6 1015.5L1183.6 1015.7L1184.5 1016L1185.4 1016.3L1186.2 1016.6L1187 1016.8L1187.8 1017.1L1188.6 1017.5L1189.3 1017.9L1190.2 1018.4L1191.1 1019.1L1192.1 1020L1193.2 1021L1194.4 1022.2L1195.7 1023.6L1197 1025.1L1198.3 1026.6L1199.6 1028.2L1201 1029.8L1202.3 1031.4L1203.6 1032.9L1204.9 1034.4L1206.2 1035.9L1207.5 1037.5L1208.8 1039L1210.1 1040.7L1211.4 1042.4L1212.6 1044.1L1213.8 1046L1215 1047.9L1216.2 1049.9L1217.3 1052L1218.4 1054L1219.5 1056.1L1220.5 1058.1L1221.4 1060L1222.3 1061.8L1223.1 1063.6L1223.8 1065.3L1224.4 1067L1225.1 1068.7L1225.7 1070.5L1226.3 1072.3L1226.9 1074.2L1227.5 1076.3L1228.2 1078.4L1228.8 1080.6L1229.4 1082.9L1229.9 1085.1L1230.5 1087.4L1231.1 1089.6L1231.6 1091.7L1232.2 1093.8L1232.7 1095.8L1233.2 1097.7L1233.6 1099.7L1234.1 1101.6L1234.6 1103.6L1235.1 1105.6L1235.6 1107.6L1236.1 1109.7L1236.6 1112L1237.1 1114.2L1237.6 1116.5L1238.1 1118.8L1238.6 1121L1239.1 1123.1L1239.6 1125L1240 1126.9L1240.5 1128.8L1241 1130.7L1241.4 1132.5L1241.9 1134.1L1242.2 1135.5L1242.6 1136.8L1242.8 1137.7" stroke="#000" stroke-width="1.6" fill="none"/>
<ellipse cx="1192.1" cy="1020" rx="6.8" ry="4.6" fill="#000"/><text x="1192.1" y="1022.3" font-size="6.5" text-anchor="middle" font-weight="bold" fill="#fff">1</text>
<rect x="1004.4" y="994.3" width="254.6" height="150.9" fill="none" stroke="#222" stroke-width="1"/>
<path d="M1299.4 1023.1L1303.4 1023.1" stroke="#333" stroke-width="1"/>
<text x="1295.8" y="1029.4" font-size="20" text-anchor="end">2</text>
<path d="M1299.4 1053L1303.4 1053" stroke="#333" stroke-width="1"/>
<text x="1295.8" y="1059.3" font-size="20" text-anchor="end">0</text>
<path d="M1299.4 1082.9L1303.4 1082.9" stroke="#333" stroke-width="1"/>
<text x="1295.8" y="1089.2" font-size="20" text-anchor="end">-2</text>
<path d="M1299.4 1112.8L1303.4 1112.8" stroke="#333" stroke-width="1"/>
<text x="1295.8" y="1119.1" font-size="20" text-anchor="end">-4</text>
<path d="M1299.4 1142.7L1303.4 1142.7" stroke="#333" stroke-width="1"/>
<text x="1295.8" y="1149" font-size="20" text-anchor="end">-6</text>
<path d="M1368.5 1144.9L1368.5 1148.9" stroke="#333" stroke-width="1"/>
<text x="1365.9" y="1166.9" font-size="20" text-anchor="middle">-5</text>
<path d="M1450.5 1144.9L1450.5 1148.9" stroke="#333" stroke-width="1"/>
<text x="1451.5" y="1166.9" font-size="20" text-anchor="middle">0</text>
<path d="M1532.5 1144.9L1532.5 1148.9" stroke="#333" stroke-width="1"/>
<text x="1533.5" y="1166.9" font-size="20" text-anchor="middle">5</text>
<text x="1431" y="987.5" font-size="21" text-anchor="middle">MC2</text>
<g transform="scale(1.35 1)"><path d="M1057.4 1020.8h0M1061.2 1019.2h0M1063.3 1019.3h0M1111.7 1025.1h0M1114.7 1021.2h0M1107.1 1019.5h0M1111.7 1033.2h0M1120.1 1029.9h0M1111.3 1025h0M1110.7 1019.4h0M1110.8 1017.4h0M1110.3 1013.5h0M1111.1 1028.2h0M1111.5 1026.9h0M1116.6 1031.9h0M1114 1024.6h0M1114 1015.8h0M1114.1 1027.6h0M1115.9 1029.9h0M1113.2 1019.8h0M1109.4 1022.8h0M1115.4 1025.2h0M1106.7 1016.6h0M1129.7 1073.8h0M1124.2 1054.6h0M1126.6 1061.5h0M1130.2 1060.2h0M1120.1 1041.9h0M1130.3 1055.8h0M1123.3 1041.8h0M1129.9 1060.9h0M1121.8 1034.9h0M1116.8 1031h0M1127.6 1043.6h0M1126.9 1051.5h0M1115.7 1044.3h0M1128.3 1060.2h0M1119.1 1046.7h0M1125.1 1049.9h0M1123.3 1051.6h0M1127.9 1057.1h0M1125.9 1059.7h0M1122 1037.6h0M1129.2 1057.4h0M1128.2 1057.4h0M1125.1 1053h0M1124.6 1050.5h0M1123.9 1031.7h0M1124.3 1038.5h0M1128 1058.4h0M1123.4 1037h0M1119 1038.9h0M1131.1 1072.1h0M1127.6 1069.3h0M1117.8 1035.7h0M1131.9 1072.5h0M1120.9 1042.9h0M1129.8 1066.2h0M1121.1 1036.2h0M1124.2 1054.5h0M1129 1069.4h0M1129.6 1056.5h0M1123.5 1056.3h0M1124 1041.8h0M1122.4 1033.7h0M1126.3 1054.7h0M1130.5 1064.9h0M1127.1 1047.6h0M1126.8 1051.8h0M1121.9 1049.7h0M1129.8 1057h0M1128.9 1050.1h0M1112.6 1035.3h0M1130.8 1074h0M1123.5 1048.2h0M1126.7 1038.1h0M1116.8 1029.9h0M1129.9 1058.4h0M1116.2 1033.4h0M1125.8 1042.4h0M1119.4 1037.1h0M1125.2 1061.5h0M1125.9 1050h0M1127.5 1074.8h0M1128.3 1066.4h0M1124 1057.7h0M1127.2 1043.2h0M1130.9 1065.2h0M1130.1 1063.3h0M1128 1075.6h0M1125.6 1049.5h0M1123.2 1045.8h0M1127.2 1054.1h0M1126 1066h0M1121.5 1046.6h0M1122.9 1057.8h0M1116.8 1030.1h0M1122.1 1042.4h0M1118.9 1034h0M1126.4 1062.3h0M1118.7 1031.5h0M1133.1 1070.6h0M1116.4 1033.5h0M1125.2 1057.8h0M1118.8 1031.8h0M1129.5 1070h0M1124.1 1051.4h0M1126.7 1060.5h0M1130.8 1070.1h0M1132.9 1066.7h0M1127.2 1075.8h0M1121.5 1045.1h0M1127.2 1065.1h0M1129.7 1055.9h0M1130.4 1074.7h0M1119 1037.5h0M1120.3 1046.5h0M1123.4 1039.1h0M1124.1 1055h0M1127.5 1057.8h0M1125.3 1047.6h0M1129.3 1070.4h0M1126 1058.2h0M1127.3 1058.2h0M1126.5 1066.5h0M1128.4 1051.3h0M1119.4 1032h0M1123.4 1051.2h0M1131.4 1062.6h0M1120.2 1047.1h0M1130.7 1067.3h0M1126.4 1046.8h0M1128.6 1069h0M1125.4 1067.3h0M1121.9 1045h0M1123.2 1044.3h0M1120.2 1037.9h0M1128.4 1071.5h0M1125.4 1056.5h0M1124.7 1048.7h0M1129.8 1052.5h0M1127.7 1042.1h0M1123.7 1048.6h0M1123.7 1039.8h0M1131.1 1067.6h0M1127.3 1055.4h0M1123.7 1051h0M1119.7 1029.9h0M1118.8 1044.8h0M1125.6 1047.2h0M1122.9 1048h0M1124.3 1054.4h0M1118.3 1039h0M1130.3 1091.5h0M1134.6 1097.1h0M1124.2 1080.1h0M1131.4 1100.4h0M1131.7 1084.9h0M1136.7 1098.1h0M1129.3 1080.8h0M1130.4 1074.9h0M1135.1 1091.7h0M1135.9 1071.6h0M1130.7 1081.6h0M1128.2 1073.1h0M1132.9 1095.8h0M1127.9 1088.3h0M1126.5 1076.1h0M1130.6 1077.8h0M1128.3 1085.4h0M1127 1083.2h0M1129.9 1100.7h0M1134.2 1098.6h0M1128.9 1072.5h0M1132.8 1096.2h0M1133.6 1084.8h0M1132.3 1100.8h0M1130.3 1077.5h0M1133.5 1098.3h0M1132.3 1100.5h0M1130.3 1082.7h0M1130.3 1097.8h0M1133.8 1085.4h0M1133.3 1096.8h0M1131.9 1083.5h0M1128.6 1082.8h0M1130.9 1082.2h0M1135.7 1099.5h0M1131.8 1089.1h0M1129.4 1082.9h0M1131.4 1088.9h0M1133.1 1097.3h0M1126.5 1076.3h0M1130 1108.3h0M1133.1 1106.8h0M1139.6 1129.8h0M1133.7 1102.3h0M1138.1 1105.8h0M1136 1119.9h0M1133 1098.4h0M1138.9 1122.3h0M1133.7 1113.5h0M1132.5 1101.1h0M1134.3 1108.4h0M1131 1099.2h0M1134.1 1107.1h0M1134.4 1104.8h0M1144.7 1127h0M1139.7 1127.1h0M1142.1 1131h0M1143.8 1126.1h0M1143.3 1128.4h0M1141.8 1128.7h0M1144.2 1127.6h0M1143.6 1128.7h0M1142.6 1129.1h0" stroke="#ff7f0e" stroke-width="4.3" stroke-linecap="round" fill="none"/></g>
<path d="M1311.5 1063.1L1313.1 1062.6L1315.1 1062.1L1317.5 1061.4L1320.3 1060.6L1323.2 1059.7L1326.4 1058.8L1329.7 1057.7L1333.1 1056.5L1336.5 1055.2L1340.1 1053.9L1343.8 1052.4L1347.7 1050.8L1351.8 1049.1L1356.2 1047.4L1360.8 1045.5L1365.7 1043.5L1371.1 1041.3L1377.1 1038.9L1383.5 1036.3L1390.1 1033.6L1396.7 1030.9L1403.1 1028.4L1409.1 1026L1414.5 1023.9L1419.4 1022L1424.1 1020.3L1428.5 1018.8L1432.6 1017.3L1436.5 1016L1440.2 1014.8L1443.8 1013.6L1447.1 1012.5L1450.3 1011.5L1453.2 1010.6L1455.9 1009.8L1458.5 1009L1460.8 1008.4L1463 1007.8L1464.9 1007.3L1466.7 1006.8L1468.2 1006.4L1469.4 1006.1L1470.3 1005.9L1471.1 1005.7L1471.8 1005.6L1472.5 1005.5L1473.2 1005.5L1474 1005.5L1474.9 1005.5L1475.8 1005.6L1476.8 1005.7L1477.7 1005.8L1478.6 1006L1479.5 1006.2L1480.4 1006.5L1481.3 1006.8L1482.1 1007.1L1482.9 1007.4L1483.7 1007.7L1484.5 1008L1485.2 1008.5L1486 1009L1486.9 1009.7L1487.9 1010.6L1489 1011.7L1490.1 1012.9L1491.3 1014.3L1492.6 1015.9L1493.8 1017.5L1495.1 1019.1L1496.4 1020.7L1497.6 1022.3L1498.8 1023.8L1500.1 1025.4L1501.3 1027L1502.6 1028.6L1503.8 1030.2L1505.1 1031.9L1506.3 1033.6L1507.4 1035.4L1508.5 1037.3L1509.6 1039.3L1510.7 1041.4L1511.8 1043.5L1512.8 1045.6L1513.8 1047.7L1514.7 1049.7L1515.6 1051.7L1516.4 1053.6L1517.1 1055.4L1517.7 1057.2L1518.3 1058.9L1518.9 1060.7L1519.4 1062.5L1520 1064.3L1520.5 1066.3L1521 1068.4L1521.6 1070.6L1522.1 1072.9L1522.6 1075.2L1523.1 1077.5L1523.6 1079.8L1524 1082.1L1524.5 1084.3L1524.9 1086.4L1525.4 1088.5L1525.8 1090.5L1526.2 1092.5L1526.6 1094.4L1527 1096.5L1527.4 1098.5L1527.8 1100.6L1528.2 1102.8L1528.6 1105.1L1529.1 1107.4L1529.5 1109.8L1529.9 1112.1L1530.3 1114.3L1530.7 1116.5L1531.1 1118.5L1531.5 1120.4L1531.9 1122.4L1532.3 1124.3L1532.7 1126.1L1533 1127.8L1533.3 1129.3L1533.6 1130.5L1533.8 1131.5" stroke="#000" stroke-width="1.6" fill="none"/>
<ellipse cx="1487.9" cy="1010.6" rx="6.8" ry="4.6" fill="#000"/><text x="1487.9" y="1012.9" font-size="6.5" text-anchor="middle" font-weight="bold" fill="#fff">1</text>
<rect x="1303.4" y="993.8" width="253.6" height="151.1" fill="none" stroke="#222" stroke-width="1"/>
<path d="M1599 1021.7L1603 1021.7" stroke="#333" stroke-width="1"/>
<text x="1595.4" y="1028" font-size="20" text-anchor="end">2</text>
<path d="M1599 1051.6L1603 1051.6" stroke="#333" stroke-width="1"/>
<text x="1595.4" y="1057.9" font-size="20" text-anchor="end">0</text>
<path d="M1599 1081.5L1603 1081.5" stroke="#333" stroke-width="1"/>
<text x="1595.4" y="1087.8" font-size="20" text-anchor="end">-2</text>
<path d="M1599 1111.4L1603 1111.4" stroke="#333" stroke-width="1"/>
<text x="1595.4" y="1117.7" font-size="20" text-anchor="end">-4</text>
<path d="M1599 1141.3L1603 1141.3" stroke="#333" stroke-width="1"/>
<text x="1595.4" y="1147.6" font-size="20" text-anchor="end">-6</text>
<path d="M1667.3 1143L1667.3 1147" stroke="#333" stroke-width="1"/>
<text x="1664.7" y="1165" font-size="20" text-anchor="middle">-5</text>
<path d="M1749.3 1143L1749.3 1147" stroke="#333" stroke-width="1"/>
<text x="1750.3" y="1165" font-size="20" text-anchor="middle">0</text>
<path d="M1831.3 1143L1831.3 1147" stroke="#333" stroke-width="1"/>
<text x="1832.3" y="1165" font-size="20" text-anchor="middle">5</text>
<text x="1720" y="987.5" font-size="21" text-anchor="middle">MC3</text>
<g transform="scale(1.35 1)"><path d="M1196.1 1058.2h0M1201.7 1062.8h0M1201.5 1061.3h0M1203.1 1061.5h0M1203.5 1057.8h0M1200.1 1063.1h0M1198.8 1062.5h0M1199.2 1061.9h0M1201.4 1060.5h0M1198.2 1059h0M1200.1 1062.2h0M1199.6 1067.3h0M1201.3 1066.7h0M1203.1 1061.8h0M1204.1 1060.2h0M1202.3 1058.2h0M1200.6 1057.8h0M1200.5 1061.2h0M1199.3 1060.5h0M1202.2 1063.3h0M1197.9 1062h0M1201.6 1062.3h0M1198.6 1063.9h0M1200.2 1068.9h0M1199.5 1058.1h0M1197.9 1062.5h0M1204.4 1060h0M1202.7 1062.3h0M1197.8 1054.2h0M1201.4 1061.3h0M1204.3 1059.8h0M1200.9 1064.9h0M1200.4 1062.3h0M1199.3 1064.2h0M1198.5 1062.2h0M1199.4 1060.8h0M1202.9 1061.1h0M1200.8 1057.7h0M1202.1 1065.9h0M1199.2 1061.4h0M1198.8 1059.9h0M1196.9 1067h0M1202.9 1060.4h0M1197.2 1061.7h0M1203.6 1064.9h0M1198.1 1065.2h0M1198.6 1066.6h0M1199.7 1065.8h0M1200.8 1056h0M1198.4 1059.5h0M1203.3 1068.1h0M1201 1062h0M1200 1059.8h0M1199.8 1061h0M1199.9 1062.3h0M1199 1055.8h0M1200.6 1064.9h0M1205 1057.7h0M1200.3 1063.7h0M1199.1 1058.6h0M1213 1057.3h0M1202.7 1048.1h0M1203.6 1058.8h0M1213.4 1058.7h0M1203.5 1064h0M1207.1 1061.6h0M1219.5 1058.7h0M1211.2 1056.1h0M1204 1058h0M1203.4 1056.1h0M1202.3 1059.7h0M1215.5 1055.5h0M1218 1054.1h0M1209.3 1059.1h0M1200.7 1068h0M1204.7 1065.2h0M1199.3 1064.5h0M1205.2 1060.5h0M1207.2 1055.1h0M1202.1 1064.2h0M1214.3 1052.8h0M1200.8 1067.4h0M1203.6 1066h0M1202.6 1057.2h0M1213.6 1049.4h0M1219.4 1063.2h0M1199.4 1064h0M1217.5 1055.2h0M1214.1 1055.6h0M1200.6 1065.1h0M1226 1063h0M1216.7 1066.5h0M1224.5 1059.4h0M1211.2 1059.3h0M1212.7 1072.2h0M1206.5 1075.1h0M1206.4 1075.1h0M1207.9 1065.7h0M1209.6 1062.7h0M1215.8 1060.7h0M1221.3 1060.6h0M1206.1 1068.8h0M1228.8 1060.8h0M1221.4 1060h0M1260.8 1027.5h0M1240.2 1046.2h0M1223.4 1049.6h0M1247.5 1033h0M1263.2 1027h0M1219.5 1048.3h0M1241.6 1038.3h0M1254.8 1030.7h0M1228.1 1038.2h0M1245.5 1030h0M1267.7 1025.1h0M1231.5 1043.3h0M1242.6 1041.1h0M1260.6 1032.1h0M1253.9 1030.9h0M1238 1035.6h0M1245.2 1036h0M1242.2 1032.6h0M1219.8 1047.4h0M1263.3 1030.1h0M1258.9 1029.4h0M1242 1049.2h0M1349.1 1129.2h0M1349.5 1129.8h0M1350.8 1129.5h0" stroke="#2ca02c" stroke-width="4.3" stroke-linecap="round" fill="none"/></g>
<path d="M1614 1061.8L1615.6 1061.3L1617.7 1060.7L1620.2 1060L1623.1 1059.2L1626.1 1058.3L1629.4 1057.3L1632.9 1056.1L1636.3 1054.9L1639.9 1053.6L1643.6 1052.2L1647.4 1050.6L1651.4 1049L1655.7 1047.2L1660.2 1045.4L1665 1043.4L1670.1 1041.3L1675.7 1039.1L1681.9 1036.5L1688.5 1033.8L1695.3 1031L1702.1 1028.2L1708.7 1025.6L1714.9 1023.1L1720.5 1020.9L1725.7 1019L1730.5 1017.2L1735 1015.6L1739.3 1014L1743.3 1012.7L1747.2 1011.4L1750.8 1010.1L1754.3 1009L1757.5 1007.9L1760.6 1007L1763.4 1006.1L1766 1005.4L1768.5 1004.7L1770.7 1004.1L1772.7 1003.5L1774.5 1003.1L1776.1 1002.6L1777.3 1002.3L1778.3 1002.1L1779.1 1001.9L1779.8 1001.8L1780.5 1001.7L1781.3 1001.7L1782.1 1001.7L1783 1001.7L1784 1001.8L1784.9 1001.9L1785.8 1002L1786.7 1002.2L1787.6 1002.4L1788.5 1002.7L1789.4 1003L1790.2 1003.3L1791 1003.5L1791.8 1003.8L1792.5 1004.2L1793.3 1004.6L1794.1 1005.2L1795 1005.8L1796 1006.7L1797 1007.7L1798.2 1009L1799.4 1010.4L1800.6 1011.8L1801.9 1013.4L1803.1 1015L1804.4 1016.6L1805.6 1018.1L1806.9 1019.7L1808.1 1021.2L1809.4 1022.7L1810.6 1024.3L1811.8 1025.9L1813.1 1027.5L1814.2 1029.2L1815.4 1031L1816.5 1032.8L1817.6 1034.8L1818.7 1036.8L1819.8 1038.8L1820.8 1040.9L1821.8 1043L1822.7 1045L1823.5 1046.9L1824.3 1048.8L1825 1050.5L1825.6 1052.2L1826.2 1053.9L1826.8 1055.7L1827.3 1057.4L1827.8 1059.3L1828.4 1061.2L1828.9 1063.3L1829.4 1065.4L1829.9 1067.6L1830.4 1069.9L1830.9 1072.2L1831.4 1074.4L1831.8 1076.7L1832.3 1078.8L1832.7 1080.9L1833.1 1082.9L1833.6 1084.8L1833.9 1086.8L1834.3 1088.7L1834.7 1090.7L1835.1 1092.7L1835.5 1094.8L1835.9 1096.9L1836.3 1099.1L1836.8 1101.4L1837.2 1103.7L1837.6 1106L1838 1108.2L1838.4 1110.3L1838.8 1112.3L1839.1 1114.2L1839.5 1116.1L1839.9 1118L1840.3 1119.7L1840.6 1121.4L1840.9 1122.8L1841.2 1124.1L1841.4 1125" stroke="#000" stroke-width="1.6" fill="none"/>
<ellipse cx="1796" cy="1006.7" rx="6.8" ry="4.6" fill="#000"/><text x="1796" y="1009" font-size="6.5" text-anchor="middle" font-weight="bold" fill="#fff">1</text>
<rect x="1603" y="992.2" width="254.5" height="150.8" fill="none" stroke="#222" stroke-width="1"/>
<path d="M1001.6 1232.4L1005.6 1232.4" stroke="#333" stroke-width="1"/>
<text x="998" y="1238.7" font-size="20" text-anchor="end">2</text>
<path d="M1001.6 1262.3L1005.6 1262.3" stroke="#333" stroke-width="1"/>
<text x="998" y="1268.6" font-size="20" text-anchor="end">0</text>
<path d="M1001.6 1292.2L1005.6 1292.2" stroke="#333" stroke-width="1"/>
<text x="998" y="1298.5" font-size="20" text-anchor="end">-2</text>
<path d="M1001.6 1322.1L1005.6 1322.1" stroke="#333" stroke-width="1"/>
<text x="998" y="1328.4" font-size="20" text-anchor="end">-4</text>
<path d="M1001.6 1352L1005.6 1352" stroke="#333" stroke-width="1"/>
<text x="998" y="1358.3" font-size="20" text-anchor="end">-6</text>
<path d="M1071 1354L1071 1358" stroke="#333" stroke-width="1"/>
<text x="1068.4" y="1376" font-size="20" text-anchor="middle">-5</text>
<path d="M1153 1354L1153 1358" stroke="#333" stroke-width="1"/>
<text x="1154" y="1376" font-size="20" text-anchor="middle">0</text>
<path d="M1235 1354L1235 1358" stroke="#333" stroke-width="1"/>
<text x="1236" y="1376" font-size="20" text-anchor="middle">5</text>
<text x="1123.9" y="1196.5" font-size="21" text-anchor="middle">MC4</text>
<g transform="scale(1.35 1)"><path d="M805.7 1241.8h0M797.1 1251.7h0M803.9 1243.6h0M794.2 1243.8h0M911.4 1282.7h0M919.2 1312.8h0M914.3 1301.5h0M905 1258.2h0M904.8 1257.1h0M917.3 1333.9h0M917.7 1338.2h0M919.6 1323.1h0M922.8 1333.1h0M918.1 1323.7h0M917.2 1336.6h0M919.9 1324.5h0M922.3 1342.6h0M915 1339h0M921.5 1337.6h0M917.5 1328.1h0M916.9 1326.3h0M915.1 1336.4h0M921.7 1338.3h0M919.6 1329.4h0M920.6 1331.3h0M920 1330.1h0M919.3 1335.6h0M923.1 1338.6h0M919.2 1336.8h0M918.5 1328.5h0M915.6 1340.6h0M919.9 1333.2h0M919.2 1334.3h0M920.1 1335.2h0M921.4 1334.2h0M916 1338.7h0M920 1337.7h0M915.5 1331.4h0M919 1329.5h0M922 1340.3h0M919.9 1337.1h0M918.5 1331.6h0M919.4 1334.7h0M919.2 1332.5h0M912.4 1329.4h0M920.5 1331.9h0M918.7 1326.3h0M918.2 1331.2h0M917.4 1342.7h0M919.4 1332h0M915 1327.5h0M920.1 1332.5h0M916.9 1339.6h0M918.4 1333h0M918.1 1334.1h0M919.7 1332.7h0M919.9 1334.2h0M915.2 1332.1h0M919.7 1329h0M919.8 1339.1h0M919.9 1328h0M922.9 1333.7h0M919.5 1333.6h0M921.3 1331.4h0M924.3 1332.5h0M918.4 1327.8h0M920.6 1336.8h0M919.2 1336.1h0M915.9 1330.9h0M917.7 1332.8h0M920.3 1336.8h0M920.6 1335.5h0M919.5 1335.5h0M916.7 1343.5h0M917.5 1336.8h0M924.4 1334.9h0M919.7 1336.3h0M921.5 1330h0M919.5 1332.2h0M914.3 1337.2h0M918.5 1324.9h0M923.8 1336.1h0M920 1332.2h0M924.2 1336.7h0M919.7 1330.8h0M918.8 1335.4h0M920 1331.7h0M917.3 1335.5h0M919.7 1335.6h0M917.7 1337.6h0M910.3 1332.7h0M912.6 1336.2h0M916.4 1336.1h0M907.3 1335.5h0M915.8 1334.8h0M918.3 1334.3h0M914.3 1331.3h0M911.3 1342.9h0M914.7 1332.8h0M914.1 1337.6h0M915.4 1331.8h0M914.3 1337.6h0M912.1 1334.2h0M908.4 1332.5h0M908.6 1330.3h0M911.1 1332.9h0M914.6 1340.3h0M915.2 1337.1h0M911.8 1334.7h0M907.7 1336.1h0M914.3 1333.1h0" stroke="#d62728" stroke-width="4.3" stroke-linecap="round" fill="none"/></g>
<path d="M1017.1 1263.4L1018.7 1263L1020.7 1262.5L1023.1 1261.9L1025.8 1261.2L1028.7 1260.4L1031.9 1259.6L1035.2 1258.6L1038.5 1257.6L1041.9 1256.4L1045.5 1255.2L1049.1 1253.9L1053 1252.5L1057.1 1251L1061.4 1249.5L1066 1247.8L1070.8 1246L1076.2 1244.1L1082.2 1241.9L1088.5 1239.6L1095 1237.3L1101.5 1234.9L1107.9 1232.7L1113.8 1230.6L1119.2 1228.7L1124.1 1227L1128.7 1225.5L1133.1 1224.2L1137.2 1222.9L1141.1 1221.7L1144.7 1220.6L1148.2 1219.6L1151.5 1218.6L1154.7 1217.7L1157.6 1216.9L1160.3 1216.2L1162.8 1215.5L1165.1 1214.9L1167.3 1214.4L1169.2 1214L1171 1213.6L1172.5 1213.2L1173.6 1212.9L1174.6 1212.7L1175.3 1212.6L1176 1212.5L1176.7 1212.4L1177.4 1212.4L1178.2 1212.4L1179.1 1212.4L1180 1212.5L1181 1212.6L1181.9 1212.7L1182.8 1212.9L1183.7 1213.1L1184.6 1213.3L1185.5 1213.6L1186.4 1213.9L1187.1 1214.1L1187.9 1214.4L1188.7 1214.7L1189.5 1215.1L1190.3 1215.7L1191.2 1216.3L1192.1 1217.1L1193.2 1218.1L1194.4 1219.2L1195.6 1220.5L1196.8 1221.9L1198.1 1223.4L1199.4 1224.9L1200.7 1226.4L1201.9 1227.9L1203.2 1229.3L1204.4 1230.7L1205.7 1232.2L1207 1233.6L1208.2 1235.1L1209.5 1236.7L1210.7 1238.3L1211.8 1239.9L1213 1241.7L1214.1 1243.5L1215.2 1245.4L1216.3 1247.3L1217.4 1249.3L1218.4 1251.2L1219.3 1253.1L1220.2 1254.9L1221 1256.7L1221.7 1258.3L1222.3 1260L1222.9 1261.6L1223.5 1263.2L1224.1 1264.8L1224.6 1266.6L1225.2 1268.4L1225.7 1270.3L1226.3 1272.3L1226.8 1274.4L1227.4 1276.6L1227.9 1278.7L1228.4 1280.8L1228.8 1282.9L1229.3 1284.9L1229.8 1286.9L1230.2 1288.8L1230.7 1290.6L1231.1 1292.5L1231.5 1294.3L1231.9 1296.1L1232.3 1298L1232.8 1300L1233.2 1302L1233.6 1304.1L1234.1 1306.2L1234.5 1308.4L1235 1310.5L1235.4 1312.6L1235.8 1314.6L1236.2 1316.4L1236.6 1318.2L1237 1320L1237.4 1321.8L1237.8 1323.4L1238.2 1325L1238.5 1326.4L1238.8 1327.5L1239 1328.4" stroke="#000" stroke-width="1.6" fill="none"/>
<ellipse cx="1192.1" cy="1217.1" rx="6.8" ry="4.6" fill="#000"/><text x="1192.1" y="1219.4" font-size="6.5" text-anchor="middle" font-weight="bold" fill="#fff">1</text>
<rect x="1005.6" y="1203.4" width="255" height="150.6" fill="none" stroke="#222" stroke-width="1"/>
<path d="M1299.4 1233.1L1303.4 1233.1" stroke="#333" stroke-width="1"/>
<text x="1295.8" y="1239.4" font-size="20" text-anchor="end">2</text>
<path d="M1299.4 1263L1303.4 1263" stroke="#333" stroke-width="1"/>
<text x="1295.8" y="1269.3" font-size="20" text-anchor="end">0</text>
<path d="M1299.4 1292.9L1303.4 1292.9" stroke="#333" stroke-width="1"/>
<text x="1295.8" y="1299.2" font-size="20" text-anchor="end">-2</text>
<path d="M1299.4 1322.8L1303.4 1322.8" stroke="#333" stroke-width="1"/>
<text x="1295.8" y="1329.1" font-size="20" text-anchor="end">-4</text>
<path d="M1299.4 1352.7L1303.4 1352.7" stroke="#333" stroke-width="1"/>
<text x="1295.8" y="1359" font-size="20" text-anchor="end">-6</text>
<path d="M1368 1354.9L1368 1358.9" stroke="#333" stroke-width="1"/>
<text x="1365.4" y="1376.9" font-size="20" text-anchor="middle">-5</text>
<path d="M1450 1354.9L1450 1358.9" stroke="#333" stroke-width="1"/>
<text x="1451" y="1376.9" font-size="20" text-anchor="middle">0</text>
<path d="M1532 1354.9L1532 1358.9" stroke="#333" stroke-width="1"/>
<text x="1533" y="1376.9" font-size="20" text-anchor="middle">5</text>
<text x="1428" y="1196.5" font-size="21" text-anchor="middle">MC5</text>
<g transform="scale(1.35 1)"><path d="M972.6 1269.5h0M968.9 1276h0M971.6 1268.2h0M971.7 1276.8h0M968.9 1273.5h0M973 1273.3h0M969.9 1274h0M971.2 1275.5h0M970.8 1272.5h0M974.7 1273.5h0M973.1 1276.3h0M972.8 1272.8h0M969.5 1273.4h0M972.9 1274.3h0M973.2 1268.8h0M974.6 1268.6h0M967.7 1272.3h0M969.2 1270.5h0M971 1272.6h0M971.9 1275h0M971 1275.4h0M975.7 1274.6h0M970.8 1278.5h0M967.3 1275.8h0M972.7 1271h0M971.5 1275.2h0M975.2 1276.3h0M968.7 1271.9h0M968.4 1272.5h0M973.1 1273.5h0M971.8 1273.2h0M969.2 1282.6h0M967.9 1273.3h0M966.9 1275h0M971.3 1269.4h0M967.5 1274.9h0M971.3 1271.7h0M967.5 1267.8h0M968.8 1270.1h0M970.3 1272.1h0M974.8 1271.2h0M971.1 1276.3h0M969.2 1277.5h0M975.6 1277.9h0M964.6 1268.4h0M973.8 1274.4h0M972.8 1275.7h0M969.4 1271.8h0M971.7 1274.7h0M974.7 1271.1h0M971.1 1276.8h0M971.1 1274.2h0M970.6 1270.9h0M969.4 1272.5h0M972.7 1272.3h0M976.3 1278.5h0M970.6 1276.8h0M970.6 1265.9h0M966.8 1274.2h0M972.3 1273h0M973 1277.9h0M973.1 1276.2h0M967.8 1271.6h0M971.9 1275.5h0M968.8 1273.9h0M970.7 1273.8h0M968.3 1280.2h0M973.9 1272.8h0M967.8 1278h0M969.1 1274.6h0M1002.8 1274.3h0M1004.5 1271.8h0M990.5 1275.1h0M998.1 1274.2h0M999.5 1271.3h0M995.9 1270.4h0" stroke="#9467bd" stroke-width="4.3" stroke-linecap="round" fill="none"/></g>
<path d="M1322.4 1274.4L1324 1273.9L1325.9 1273.3L1328.3 1272.6L1331 1271.7L1333.9 1270.8L1337 1269.7L1340.2 1268.6L1343.5 1267.3L1346.8 1266L1350.3 1264.5L1353.9 1262.9L1357.7 1261.2L1361.7 1259.4L1366 1257.5L1370.5 1255.5L1375.3 1253.4L1380.6 1251L1386.5 1248.4L1392.7 1245.6L1399.1 1242.7L1405.5 1239.9L1411.8 1237.1L1417.6 1234.6L1422.9 1232.3L1427.7 1230.3L1432.3 1228.5L1436.6 1226.8L1440.6 1225.3L1444.4 1223.9L1448.1 1222.5L1451.5 1221.3L1454.7 1220.1L1457.8 1219L1460.7 1218L1463.4 1217.2L1465.9 1216.4L1468.1 1215.7L1470.2 1215L1472.1 1214.5L1473.9 1214L1475.3 1213.6L1476.5 1213.2L1477.4 1213L1478.2 1212.8L1478.8 1212.7L1479.5 1212.6L1480.2 1212.6L1481 1212.6L1481.9 1212.6L1482.8 1212.7L1483.7 1212.8L1484.7 1213L1485.6 1213.2L1486.5 1213.4L1487.4 1213.7L1488.3 1214L1489.1 1214.3L1489.9 1214.6L1490.6 1215L1491.4 1215.3L1492.2 1215.8L1493 1216.4L1493.8 1217.2L1494.8 1218.1L1495.8 1219.3L1496.9 1220.6L1498.1 1222.1L1499.3 1223.8L1500.5 1225.5L1501.8 1227.2L1503 1229L1504.2 1230.7L1505.4 1232.4L1506.6 1234L1507.8 1235.7L1509 1237.5L1510.2 1239.2L1511.4 1241L1512.6 1242.9L1513.7 1244.8L1514.8 1246.9L1515.8 1249L1516.9 1251.2L1517.9 1253.5L1518.9 1255.8L1519.8 1258L1520.7 1260.3L1521.5 1262.4L1522.2 1264.4L1522.9 1266.4L1523.5 1268.3L1524 1270.1L1524.6 1272L1525.1 1274L1525.6 1276L1526.1 1278.1L1526.6 1280.4L1527 1282.8L1527.5 1285.2L1527.9 1287.7L1528.4 1290.2L1528.8 1292.7L1529.2 1295.2L1529.6 1297.5L1530 1299.8L1530.4 1302L1530.8 1304.2L1531.1 1306.3L1531.5 1308.5L1531.8 1310.6L1532.2 1312.8L1532.5 1315.1L1532.9 1317.5L1533.3 1319.9L1533.6 1322.4L1534 1325L1534.4 1327.5L1534.7 1329.9L1535.1 1332.2L1535.4 1334.4L1535.7 1336.5L1536.1 1338.6L1536.4 1340.6L1536.8 1342.6L1537.1 1344.4L1537.4 1346L1537.6 1347.4L1537.8 1348.4" stroke="#000" stroke-width="1.6" fill="none"/>
<ellipse cx="1494.8" cy="1218.1" rx="6.8" ry="4.6" fill="#000"/><text x="1494.8" y="1220.4" font-size="6.5" text-anchor="middle" font-weight="bold" fill="#fff">1</text>
<rect x="1303.4" y="1203.4" width="253.6" height="151.5" fill="none" stroke="#222" stroke-width="1"/>
<path d="M1599 1232.6L1603 1232.6" stroke="#333" stroke-width="1"/>
<text x="1595.4" y="1238.9" font-size="20" text-anchor="end">2</text>
<path d="M1599 1262.5L1603 1262.5" stroke="#333" stroke-width="1"/>
<text x="1595.4" y="1268.8" font-size="20" text-anchor="end">0</text>
<path d="M1599 1292.4L1603 1292.4" stroke="#333" stroke-width="1"/>
<text x="1595.4" y="1298.7" font-size="20" text-anchor="end">-2</text>
<path d="M1599 1322.3L1603 1322.3" stroke="#333" stroke-width="1"/>
<text x="1595.4" y="1328.6" font-size="20" text-anchor="end">-4</text>
<path d="M1599 1352.2L1603 1352.2" stroke="#333" stroke-width="1"/>
<text x="1595.4" y="1358.5" font-size="20" text-anchor="end">-6</text>
<path d="M1667.3 1354.2L1667.3 1358.2" stroke="#333" stroke-width="1"/>
<text x="1664.7" y="1376.2" font-size="20" text-anchor="middle">-5</text>
<path d="M1749.3 1354.2L1749.3 1358.2" stroke="#333" stroke-width="1"/>
<text x="1750.3" y="1376.2" font-size="20" text-anchor="middle">0</text>
<path d="M1831.3 1354.2L1831.3 1358.2" stroke="#333" stroke-width="1"/>
<text x="1832.3" y="1376.2" font-size="20" text-anchor="middle">5</text>
<text x="1717" y="1196.5" font-size="21" text-anchor="middle">MC6</text>
<g transform="scale(1.35 1)"><path d="M1200.3 1256.6h0M1221.6 1257.4h0M1214 1253.5h0M1218.2 1245.7h0M1208.4 1248.3h0M1208.3 1263.8h0M1219.2 1245.4h0M1197.8 1264.8h0M1207 1262.7h0M1217.2 1257.3h0M1212.2 1250.7h0M1208.7 1249.2h0M1218.4 1248.7h0M1207.8 1243.6h0M1245 1235.5h0M1261.6 1233.5h0M1260.6 1231.2h0M1233.3 1248.1h0M1273.5 1225.9h0M1220.7 1259.2h0M1244.2 1240.1h0M1253.2 1242.6h0M1247.3 1245.1h0M1271.7 1233.1h0M1284.6 1222.9h0M1236.2 1250.9h0M1277.2 1223.5h0M1233.4 1257.9h0M1282.9 1222.3h0M1240.1 1245.7h0M1264.6 1227h0M1234.7 1240.6h0M1270 1230.4h0M1230.9 1246.2h0M1255.1 1237.7h0M1270.8 1232.2h0M1242.6 1245.9h0M1231.4 1252.4h0M1224.8 1245.8h0M1247.6 1238.3h0M1223.8 1248.1h0M1217.9 1260.3h0M1274.1 1231.6h0M1255.9 1239.3h0M1293.5 1223.6h0M1265 1227.5h0M1245.4 1246.1h0M1264.6 1226h0M1252.5 1241.5h0M1278.5 1225.9h0M1217.4 1259.2h0M1233.8 1251.7h0M1262.5 1234.9h0M1254.6 1238.2h0M1228 1249.5h0M1242.3 1247.3h0M1231.7 1246.1h0M1227 1250.3h0M1264.7 1230.3h0M1224.7 1255h0M1257.1 1232.5h0M1275.5 1224h0M1231.8 1250.5h0M1223.2 1258.5h0M1234.9 1248.8h0M1231.7 1250h0M1260.8 1231.9h0M1269.4 1234.8h0M1216.1 1258h0M1287.8 1217.9h0M1243.7 1242.5h0M1255.3 1238h0M1286.6 1221.3h0M1231.1 1255h0M1287.5 1211.7h0M1276.1 1221.2h0M1273.4 1230.6h0M1242.5 1243.9h0M1268.9 1232.6h0M1280.2 1228.5h0M1219.5 1255.5h0M1240.7 1242.4h0M1278.7 1225.4h0M1240.4 1247h0M1224.7 1254.9h0M1234.7 1251.5h0M1244.3 1239.3h0M1271.3 1232.4h0M1266.7 1236.8h0M1347.7 1335.4h0M1347.6 1335.5h0M1352.1 1338.1h0M1352.5 1336.3h0M1352.5 1337.1h0" stroke="#8c564b" stroke-width="4.3" stroke-linecap="round" fill="none"/></g>
<path d="M1609.3 1267.3L1610.9 1266.9L1613.1 1266.3L1615.5 1265.7L1618.4 1264.9L1621.5 1264.1L1624.8 1263.1L1628.2 1262.1L1631.7 1261L1635.2 1259.7L1638.9 1258.4L1642.8 1257L1646.8 1255.5L1651 1253.9L1655.5 1252.2L1660.3 1250.4L1665.4 1248.5L1671.1 1246.4L1677.3 1244L1683.9 1241.5L1690.7 1239L1697.5 1236.4L1704.1 1234L1710.3 1231.7L1716 1229.7L1721.1 1227.9L1725.9 1226.2L1730.5 1224.7L1734.7 1223.4L1738.8 1222.1L1742.6 1220.9L1746.3 1219.8L1749.7 1218.7L1753 1217.7L1756.1 1216.9L1758.9 1216.1L1761.5 1215.4L1764 1214.8L1766.2 1214.2L1768.2 1213.7L1770 1213.2L1771.6 1212.9L1772.8 1212.6L1773.8 1212.4L1774.6 1212.2L1775.3 1212.1L1776 1212L1776.8 1212L1777.6 1212L1778.5 1212L1779.5 1212.1L1780.4 1212.2L1781.3 1212.3L1782.2 1212.5L1783.1 1212.7L1784 1213L1784.9 1213.3L1785.8 1213.5L1786.5 1213.8L1787.3 1214.1L1788.1 1214.5L1788.9 1214.9L1789.7 1215.4L1790.6 1216.1L1791.5 1216.9L1792.6 1218L1793.8 1219.2L1795 1220.5L1796.2 1222L1797.5 1223.5L1798.8 1225.1L1800.1 1226.7L1801.3 1228.2L1802.6 1229.7L1803.8 1231.2L1805.1 1232.7L1806.4 1234.2L1807.6 1235.8L1808.9 1237.4L1810.1 1239.1L1811.2 1240.8L1812.4 1242.7L1813.5 1244.6L1814.6 1246.6L1815.7 1248.6L1816.8 1250.6L1817.8 1252.7L1818.7 1254.6L1819.6 1256.5L1820.4 1258.4L1821.1 1260.1L1821.7 1261.8L1822.3 1263.5L1822.9 1265.2L1823.5 1266.9L1824 1268.7L1824.6 1270.6L1825.1 1272.7L1825.7 1274.8L1826.2 1277L1826.8 1279.2L1827.3 1281.5L1827.8 1283.7L1828.2 1285.9L1828.7 1288L1829.2 1290L1829.6 1292L1830.1 1293.9L1830.5 1295.9L1830.9 1297.8L1831.3 1299.7L1831.7 1301.7L1832.2 1303.7L1832.6 1305.8L1833 1308L1833.5 1310.3L1833.9 1312.5L1834.4 1314.8L1834.8 1316.9L1835.2 1319L1835.6 1321L1836 1322.8L1836.4 1324.7L1836.8 1326.6L1837.2 1328.3L1837.6 1329.9L1837.9 1331.4L1838.2 1332.6L1838.4 1333.5" stroke="#000" stroke-width="1.6" fill="none"/>
<ellipse cx="1791.5" cy="1216.9" rx="6.8" ry="4.6" fill="#000"/><text x="1791.5" y="1219.3" font-size="6.5" text-anchor="middle" font-weight="bold" fill="#fff">1</text>
<rect x="1603" y="1202.5" width="254.5" height="151.7" fill="none" stroke="#222" stroke-width="1"/>
</g>
<g id="pg">
<text x="9.5" y="1463" font-size="45" font-weight="bold">g</text>
<defs><linearGradient id="t0" gradientUnits="userSpaceOnUse" x1="86.1" x2="318"><stop offset="0" stop-color="#0000ca"/><stop offset=".014" stop-color="#0000f6"/><stop offset=".083" stop-color="#00fbff"/><stop offset=".139" stop-color="#5fffa0"/><stop offset=".486" stop-color="#84ff7b"/><stop offset=".889" stop-color="#75ff8a"/><stop offset=".903" stop-color="#7fff80"/><stop offset=".944" stop-color="#fff100"/><stop offset=".986" stop-color="#ff1c00"/><stop offset="1" stop-color="#ea0000"/></linearGradient><linearGradient id="t1" gradientUnits="userSpaceOnUse" x1="86.1" x2="318"><stop offset="0" stop-color="#0000dc"/><stop offset=".014" stop-color="#000dff"/><stop offset=".069" stop-color="#00eaff"/><stop offset=".111" stop-color="#51ffae"/><stop offset=".208" stop-color="#64ff9b"/><stop offset=".486" stop-color="#84ff7b"/><stop offset=".875" stop-color="#6bff94"/><stop offset=".917" stop-color="#f5ff0a"/><stop offset=".958" stop-color="#ff1f00"/><stop offset=".972" stop-color="#e60000"/><stop offset=".986" stop-color="#c00000"/><stop offset="1" stop-color="#c00000"/></linearGradient><linearGradient id="t2" gradientUnits="userSpaceOnUse" x1="86.1" x2="318"><stop offset="0" stop-color="#00ffff"/><stop offset=".361" stop-color="#37ffc8"/><stop offset=".458" stop-color="#71ff8e"/><stop offset=".5" stop-color="#d8ff27"/><stop offset=".681" stop-color="#ceff31"/><stop offset=".833" stop-color="#e4ff1b"/><stop offset=".903" stop-color="#fff200"/><stop offset="1" stop-color="#ff9500"/></linearGradient><linearGradient id="t3" gradientUnits="userSpaceOnUse" x1="86.1" x2="318"><stop offset="0" stop-color="#006aff"/><stop offset=".083" stop-color="#00ffff"/><stop offset=".333" stop-color="#10ffef"/><stop offset=".417" stop-color="#40ffbf"/><stop offset=".472" stop-color="#84ff7b"/><stop offset=".5" stop-color="#d8ff27"/><stop offset=".875" stop-color="#edff12"/><stop offset=".917" stop-color="#ffd800"/><stop offset="1" stop-color="#ff4000"/></linearGradient><linearGradient id="t4" gradientUnits="userSpaceOnUse" x1="86.1" x2="318"><stop offset="0" stop-color="#007fff"/><stop offset=".056" stop-color="#00f6ff"/><stop offset=".333" stop-color="#0dfff2"/><stop offset=".417" stop-color="#36ffc9"/><stop offset=".472" stop-color="#7fff80"/><stop offset=".5" stop-color="#d8ff27"/><stop offset=".889" stop-color="#e9ff16"/><stop offset=".917" stop-color="#ffea00"/><stop offset="1" stop-color="#ff2b00"/></linearGradient><linearGradient id="t5" gradientUnits="userSpaceOnUse" x1="86.1" x2="318"><stop offset="0" stop-color="#00ffff"/><stop offset=".389" stop-color="#11ffee"/><stop offset=".431" stop-color="#3fffc0"/><stop offset=".472" stop-color="#77ff88"/><stop offset=".5" stop-color="#d8ff27"/><stop offset=".903" stop-color="#e1ff1e"/><stop offset=".931" stop-color="#fffe00"/><stop offset="1" stop-color="#ff6a00"/></linearGradient><linearGradient id="t6" gradientUnits="userSpaceOnUse" x1="86.1" x2="318"><stop offset="0" stop-color="#00d4ff"/><stop offset=".194" stop-color="#00ffff"/><stop offset=".403" stop-color="#14ffeb"/><stop offset=".472" stop-color="#77ff88"/><stop offset=".5" stop-color="#d8ff27"/><stop offset=".917" stop-color="#deff21"/><stop offset=".944" stop-color="#fff700"/><stop offset="1" stop-color="#ff5500"/></linearGradient><linearGradient id="t7" gradientUnits="userSpaceOnUse" x1="86.1" x2="318"><stop offset="0" stop-color="#00bfff"/><stop offset=".042" stop-color="#00ffff"/><stop offset=".403" stop-color="#14ffeb"/><stop offset=".472" stop-color="#77ff88"/><stop offset=".5" stop-color="#d8ff27"/><stop offset="1" stop-color="#f4ff0b"/></linearGradient><linearGradient id="t8" gradientUnits="userSpaceOnUse" x1="86.1" x2="318"><stop offset="0" stop-color="#00ffff"/><stop offset=".389" stop-color="#11ffee"/><stop offset=".431" stop-color="#3fffc0"/><stop offset=".472" stop-color="#77ff88"/><stop offset=".5" stop-color="#d8ff27"/><stop offset=".75" stop-color="#eaff15"/><stop offset=".847" stop-color="#ffd500"/><stop offset=".903" stop-color="#ffe500"/><stop offset=".931" stop-color="#f3ff0c"/><stop offset="1" stop-color="#f4ff0b"/></linearGradient><linearGradient id="t9" gradientUnits="userSpaceOnUse" x1="86.1" x2="318"><stop offset="0" stop-color="#00d4ff"/><stop offset=".042" stop-color="#05fffa"/><stop offset=".403" stop-color="#15ffea"/><stop offset=".472" stop-color="#77ff88"/><stop offset=".5" stop-color="#d8ff27"/><stop offset=".931" stop-color="#f4ff0b"/><stop offset="1" stop-color="#deff21"/></linearGradient><linearGradient id="t10" gradientUnits="userSpaceOnUse" x1="86.1" x2="318"><stop offset="0" stop-color="#0bfff4"/><stop offset=".403" stop-color="#01fffe"/><stop offset=".472" stop-color="#71ff8e"/><stop offset=".5" stop-color="#d8ff27"/><stop offset=".542" stop-color="#fbff04"/><stop offset=".569" stop-color="#ffa100"/><stop offset=".639" stop-color="#ff9500"/><stop offset=".653" stop-color="#ffaa00"/><stop offset=".667" stop-color="#ffe700"/><stop offset=".694" stop-color="#bdff42"/><stop offset=".75" stop-color="#a6ff59"/><stop offset=".958" stop-color="#a6ff59"/><stop offset=".986" stop-color="#ffed00"/><stop offset="1" stop-color="#ff9500"/></linearGradient><linearGradient id="t11" gradientUnits="userSpaceOnUse" x1="86.1" x2="318"><stop offset="0" stop-color="#00bfff"/><stop offset=".028" stop-color="#07fff8"/><stop offset=".403" stop-color="#15ffea"/><stop offset=".472" stop-color="#77ff88"/><stop offset=".5" stop-color="#d8ff27"/><stop offset="1" stop-color="#d2ff2d"/></linearGradient><linearGradient id="t12" gradientUnits="userSpaceOnUse" x1="86.1" x2="318"><stop offset="0" stop-color="#0bfff4"/><stop offset=".403" stop-color="#0bfff4"/><stop offset=".472" stop-color="#74ff8b"/><stop offset=".5" stop-color="#deff21"/><stop offset=".583" stop-color="#feff01"/><stop offset=".625" stop-color="#ffd500"/><stop offset=".667" stop-color="#ffd700"/><stop offset=".694" stop-color="#e9ff16"/><stop offset=".764" stop-color="#d2ff2d"/><stop offset="1" stop-color="#d2ff2d"/></linearGradient><linearGradient id="t13" gradientUnits="userSpaceOnUse" x1="86.1" x2="318"><stop offset="0" stop-color="#0055ff"/><stop offset=".069" stop-color="#00fbff"/><stop offset=".153" stop-color="#2affd5"/><stop offset=".375" stop-color="#3fffc0"/><stop offset=".431" stop-color="#60ff9f"/><stop offset=".486" stop-color="#f2ff0d"/><stop offset=".639" stop-color="#f1ff0e"/><stop offset=".778" stop-color="#d2ff2d"/><stop offset=".931" stop-color="#d3ff2c"/><stop offset=".958" stop-color="#ffed00"/><stop offset="1" stop-color="#ff5500"/></linearGradient><linearGradient id="t14" gradientUnits="userSpaceOnUse" x1="86.1" x2="318"><stop offset="0" stop-color="#0015ff"/><stop offset=".083" stop-color="#01fffe"/><stop offset=".167" stop-color="#2affd5"/><stop offset=".389" stop-color="#43ffbc"/><stop offset=".458" stop-color="#71ff8e"/><stop offset=".5" stop-color="#d8ff27"/><stop offset=".931" stop-color="#d3ff2c"/><stop offset=".958" stop-color="#fffe00"/><stop offset="1" stop-color="#ff8000"/></linearGradient><linearGradient id="t15" gradientUnits="userSpaceOnUse" x1="86.1" x2="318"><stop offset="0" stop-color="#002aff"/><stop offset=".056" stop-color="#00e4ff"/><stop offset=".083" stop-color="#0bfff4"/><stop offset=".361" stop-color="#1cffe3"/><stop offset=".417" stop-color="#3cffc3"/><stop offset=".444" stop-color="#6cff93"/><stop offset=".486" stop-color="#fffc00"/><stop offset=".5" stop-color="#d8ff27"/><stop offset=".931" stop-color="#d3ff2c"/><stop offset=".958" stop-color="#fbff04"/><stop offset="1" stop-color="#ff9500"/></linearGradient><linearGradient id="t16" gradientUnits="userSpaceOnUse" x1="86.1" x2="318"><stop offset="0" stop-color="#0000dc"/><stop offset=".014" stop-color="#0007ff"/><stop offset=".083" stop-color="#00fdff"/><stop offset=".153" stop-color="#3fffc0"/><stop offset=".375" stop-color="#55ffaa"/><stop offset=".444" stop-color="#70ff8f"/><stop offset=".5" stop-color="#d8ff27"/><stop offset=".889" stop-color="#c5ff3a"/><stop offset=".958" stop-color="#daff25"/><stop offset="1" stop-color="#f4ff0b"/></linearGradient><linearGradient id="t17" gradientUnits="userSpaceOnUse" x1="86.1" x2="318"><stop offset="0" stop-color="#0000ca"/><stop offset=".014" stop-color="#0000fb"/><stop offset=".069" stop-color="#00e7ff"/><stop offset=".097" stop-color="#1effe1"/><stop offset=".153" stop-color="#3fffc0"/><stop offset=".375" stop-color="#55ffaa"/><stop offset=".444" stop-color="#70ff8f"/><stop offset=".5" stop-color="#d8ff27"/><stop offset=".958" stop-color="#daff25"/><stop offset="1" stop-color="#ffff00"/></linearGradient><linearGradient id="t18" gradientUnits="userSpaceOnUse" x1="86.1" x2="318"><stop offset="0" stop-color="#0055ff"/><stop offset=".097" stop-color="#08fff7"/><stop offset=".181" stop-color="#35ffca"/><stop offset=".361" stop-color="#4affb5"/><stop offset=".458" stop-color="#7dff82"/><stop offset=".5" stop-color="#deff21"/><stop offset=".611" stop-color="#fff900"/><stop offset=".639" stop-color="#ffd500"/><stop offset=".667" stop-color="#ffd500"/><stop offset=".681" stop-color="#fff900"/><stop offset=".708" stop-color="#d7ff28"/><stop offset="1" stop-color="#d2ff2d"/></linearGradient><linearGradient id="t19" gradientUnits="userSpaceOnUse" x1="86.1" x2="318"><stop offset="0" stop-color="#00aaff"/><stop offset=".111" stop-color="#07fff8"/><stop offset=".333" stop-color="#28ffd7"/><stop offset=".458" stop-color="#77ff88"/><stop offset=".5" stop-color="#deff21"/><stop offset=".583" stop-color="#feff01"/><stop offset=".625" stop-color="#ffd500"/><stop offset=".667" stop-color="#ffd700"/><stop offset=".694" stop-color="#e9ff16"/><stop offset=".764" stop-color="#d2ff2d"/><stop offset="1" stop-color="#d2ff2d"/></linearGradient><linearGradient id="t20" gradientUnits="userSpaceOnUse" x1="86.1" x2="318"><stop offset="0" stop-color="#002aff"/><stop offset=".111" stop-color="#02fffd"/><stop offset=".236" stop-color="#2affd5"/><stop offset=".403" stop-color="#4effb1"/><stop offset=".458" stop-color="#77ff88"/><stop offset=".5" stop-color="#d8ff27"/><stop offset="1" stop-color="#e9ff16"/></linearGradient><linearGradient id="t21" gradientUnits="userSpaceOnUse" x1="86.1" x2="318"><stop offset="0" stop-color="#0015ff"/><stop offset=".111" stop-color="#01fffe"/><stop offset=".222" stop-color="#35ffca"/><stop offset=".403" stop-color="#55ffaa"/><stop offset=".458" stop-color="#7dff82"/><stop offset=".5" stop-color="#d8ff27"/><stop offset=".958" stop-color="#d2ff2d"/><stop offset=".986" stop-color="#fff300"/><stop offset="1" stop-color="#ffbf00"/></linearGradient><linearGradient id="t22" gradientUnits="userSpaceOnUse" x1="86.1" x2="318"><stop offset="0" stop-color="#0000b9"/><stop offset=".028" stop-color="#000fff"/><stop offset=".097" stop-color="#06fff9"/><stop offset=".167" stop-color="#57ffa8"/><stop offset=".431" stop-color="#71ff8e"/><stop offset=".5" stop-color="#d8ff27"/><stop offset=".667" stop-color="#b6ff49"/><stop offset="1" stop-color="#b6ff49"/></linearGradient><linearGradient id="t23" gradientUnits="userSpaceOnUse" x1="86.1" x2="318"><stop offset="0" stop-color="#0000b9"/><stop offset=".028" stop-color="#0006ff"/><stop offset=".097" stop-color="#00eaff"/><stop offset=".139" stop-color="#30ffcf"/><stop offset=".194" stop-color="#57ffa8"/><stop offset=".431" stop-color="#71ff8e"/><stop offset=".5" stop-color="#d8ff27"/><stop offset="1" stop-color="#deff21"/></linearGradient><linearGradient id="t24" gradientUnits="userSpaceOnUse" x1="86.1" x2="318"><stop offset="0" stop-color="#0000ca"/><stop offset=".028" stop-color="#0009ff"/><stop offset=".125" stop-color="#04fffb"/><stop offset=".222" stop-color="#48ffb7"/><stop offset=".417" stop-color="#67ff98"/><stop offset=".5" stop-color="#d8ff27"/><stop offset="1" stop-color="#d2ff2d"/></linearGradient><linearGradient id="t25" gradientUnits="userSpaceOnUse" x1="86.1" x2="318"><stop offset="0" stop-color="#0000ff"/><stop offset=".056" stop-color="#00dbff"/><stop offset=".069" stop-color="#0afff5"/><stop offset=".125" stop-color="#3fffc0"/><stop offset=".403" stop-color="#56ffa9"/><stop offset=".444" stop-color="#6aff95"/><stop offset=".458" stop-color="#fffe00"/><stop offset=".472" stop-color="#fd0000"/><stop offset=".486" stop-color="#df0000"/><stop offset=".528" stop-color="#f40000"/><stop offset=".542" stop-color="#ff9900"/><stop offset=".556" stop-color="#e9ff16"/><stop offset=".653" stop-color="#b5ff4a"/><stop offset=".736" stop-color="#75ff8a"/><stop offset="1" stop-color="#75ff8a"/></linearGradient><linearGradient id="t26" gradientUnits="userSpaceOnUse" x1="86.1" x2="318"><stop offset="0" stop-color="#002aff"/><stop offset=".056" stop-color="#02fffd"/><stop offset=".125" stop-color="#20ffdf"/><stop offset=".333" stop-color="#30ffcf"/><stop offset=".444" stop-color="#70ff8f"/><stop offset=".472" stop-color="#e6ff19"/><stop offset=".486" stop-color="#ff1500"/><stop offset=".5" stop-color="#ff1500"/><stop offset=".514" stop-color="#ff6b00"/><stop offset=".597" stop-color="#ff7800"/><stop offset=".625" stop-color="#ffea00"/><stop offset=".667" stop-color="#a0ff5f"/><stop offset=".708" stop-color="#61ff9e"/><stop offset="1" stop-color="#5bffa4"/></linearGradient><linearGradient id="t27" gradientUnits="userSpaceOnUse" x1="86.1" x2="318"><stop offset="0" stop-color="#0055ff"/><stop offset=".056" stop-color="#04fffb"/><stop offset=".125" stop-color="#20ffdf"/><stop offset=".333" stop-color="#30ffcf"/><stop offset=".444" stop-color="#71ff8e"/><stop offset=".472" stop-color="#edff12"/><stop offset=".486" stop-color="#ff1500"/><stop offset=".5" stop-color="#ff1500"/><stop offset=".514" stop-color="#ff6b00"/><stop offset=".611" stop-color="#ff7200"/><stop offset=".625" stop-color="#ff9600"/><stop offset=".639" stop-color="#ffda00"/><stop offset=".653" stop-color="#e3ff1c"/><stop offset=".681" stop-color="#70ff8f"/><stop offset=".736" stop-color="#48ffb7"/><stop offset="1" stop-color="#48ffb7"/></linearGradient><linearGradient id="t28" gradientUnits="userSpaceOnUse" x1="86.1" x2="318"><stop offset="0" stop-color="#2affd5"/><stop offset=".431" stop-color="#3effc1"/><stop offset=".514" stop-color="#6cff93"/><stop offset=".556" stop-color="#adff52"/><stop offset=".569" stop-color="#e0ff1f"/><stop offset=".583" stop-color="#ffac00"/><stop offset=".597" stop-color="#ff1c00"/><stop offset=".625" stop-color="#d50000"/><stop offset=".681" stop-color="#d50000"/><stop offset=".694" stop-color="#fe0000"/><stop offset=".708" stop-color="#ffca00"/><stop offset=".722" stop-color="#83ff7c"/><stop offset=".736" stop-color="#4bffb4"/><stop offset="1" stop-color="#3fffc0"/></linearGradient><linearGradient id="t29" gradientUnits="userSpaceOnUse" x1="86.1" x2="318"><stop offset="0" stop-color="#ffaa00"/><stop offset=".028" stop-color="#fff100"/><stop offset=".042" stop-color="#f4ff0b"/><stop offset=".056" stop-color="#c8ff37"/><stop offset=".069" stop-color="#65ff9a"/><stop offset=".083" stop-color="#48ffb7"/><stop offset=".139" stop-color="#45ffba"/><stop offset=".167" stop-color="#0dfff2"/><stop offset=".194" stop-color="#008dff"/><stop offset=".208" stop-color="#006cff"/><stop offset=".292" stop-color="#006cff"/><stop offset=".319" stop-color="#00c6ff"/><stop offset=".333" stop-color="#03fffc"/><stop offset=".361" stop-color="#2affd5"/><stop offset=".403" stop-color="#19ffe6"/><stop offset=".458" stop-color="#71ff8e"/><stop offset=".486" stop-color="#d7ff28"/><stop offset=".5" stop-color="#5bffa4"/><stop offset=".931" stop-color="#3fffc0"/><stop offset="1" stop-color="#3fffc0"/></linearGradient><linearGradient id="t30" gradientUnits="userSpaceOnUse" x1="86.1" x2="318"><stop offset="0" stop-color="#64ff9b"/><stop offset=".25" stop-color="#62ff9d"/><stop offset=".264" stop-color="#4effb1"/><stop offset=".278" stop-color="#12ffed"/><stop offset=".292" stop-color="#00b6ff"/><stop offset=".306" stop-color="#0095ff"/><stop offset=".361" stop-color="#0097ff"/><stop offset=".389" stop-color="#00edff"/><stop offset=".417" stop-color="#1affe5"/><stop offset=".444" stop-color="#68ff97"/><stop offset=".472" stop-color="#fffe00"/><stop offset=".486" stop-color="#e10000"/><stop offset=".5" stop-color="#ff3700"/><stop offset=".514" stop-color="#ff8000"/><stop offset=".556" stop-color="#ff8e00"/><stop offset=".583" stop-color="#faff05"/><stop offset=".736" stop-color="#75ff8a"/><stop offset=".931" stop-color="#76ff89"/><stop offset="1" stop-color="#ffff00"/></linearGradient><linearGradient id="t31" gradientUnits="userSpaceOnUse" x1="86.1" x2="318"><stop offset="0" stop-color="#94ff6b"/><stop offset=".264" stop-color="#a0ff5f"/><stop offset=".319" stop-color="#deff21"/><stop offset=".417" stop-color="#cfff30"/><stop offset=".486" stop-color="#6aff95"/><stop offset=".5" stop-color="#15ffea"/><stop offset=".833" stop-color="#3fffc0"/><stop offset=".875" stop-color="#71ff8e"/><stop offset=".917" stop-color="#f2ff0d"/><stop offset=".944" stop-color="#ff9800"/><stop offset=".972" stop-color="#ff1700"/><stop offset="1" stop-color="#cb0000"/></linearGradient><linearGradient id="t32" gradientUnits="userSpaceOnUse" x1="86.1" x2="318"><stop offset="0" stop-color="#48ffb7"/><stop offset=".306" stop-color="#4fffb0"/><stop offset=".319" stop-color="#7aff85"/><stop offset=".333" stop-color="#ebff14"/><stop offset=".347" stop-color="#ffd500"/><stop offset=".389" stop-color="#ffd500"/><stop offset=".403" stop-color="#fff100"/><stop offset=".417" stop-color="#daff25"/><stop offset=".431" stop-color="#92ff6d"/><stop offset=".458" stop-color="#67ff98"/><stop offset=".486" stop-color="#5bffa4"/><stop offset=".5" stop-color="#15ffea"/><stop offset=".597" stop-color="#00faff"/><stop offset=".639" stop-color="#00d4ff"/><stop offset=".667" stop-color="#00e7ff"/><stop offset=".694" stop-color="#21ffde"/><stop offset=".847" stop-color="#36ffc9"/><stop offset=".903" stop-color="#73ff8c"/><stop offset=".958" stop-color="#efff10"/><stop offset=".972" stop-color="#fff100"/><stop offset="1" stop-color="#ff9500"/></linearGradient><linearGradient id="t33" gradientUnits="userSpaceOnUse" x1="86.1" x2="318"><stop offset="0" stop-color="#e9ff16"/><stop offset=".028" stop-color="#e9ff16"/><stop offset=".042" stop-color="#70ff8f"/><stop offset=".069" stop-color="#57ffa8"/><stop offset=".347" stop-color="#66ff99"/><stop offset=".417" stop-color="#9bff64"/><stop offset=".514" stop-color="#3fffc0"/><stop offset=".847" stop-color="#5effa1"/><stop offset=".861" stop-color="#77ff88"/><stop offset=".903" stop-color="#fff900"/><stop offset=".944" stop-color="#ff2100"/><stop offset=".958" stop-color="#ec0000"/><stop offset=".986" stop-color="#c00000"/><stop offset="1" stop-color="#c00000"/></linearGradient><linearGradient id="t34" gradientUnits="userSpaceOnUse" x1="86.1" x2="318"><stop offset="0" stop-color="#44ffbb"/><stop offset=".556" stop-color="#40ffbf"/><stop offset=".819" stop-color="#67ff98"/><stop offset=".875" stop-color="#fff100"/><stop offset=".931" stop-color="#f60000"/><stop offset=".958" stop-color="#c00000"/><stop offset="1" stop-color="#c00000"/></linearGradient><linearGradient id="t35" gradientUnits="userSpaceOnUse" x1="86.1" x2="318"><stop offset="0" stop-color="#41ffbe"/><stop offset=".556" stop-color="#3cffc3"/><stop offset=".806" stop-color="#63ff9c"/><stop offset=".861" stop-color="#f7ff08"/><stop offset=".917" stop-color="#ff1b00"/><stop offset=".944" stop-color="#d00000"/><stop offset="1" stop-color="#c00000"/></linearGradient><linearGradient id="t36" gradientUnits="userSpaceOnUse" x1="86.1" x2="318"><stop offset="0" stop-color="#4fffb0"/><stop offset=".556" stop-color="#3fffc0"/><stop offset=".806" stop-color="#5cffa3"/><stop offset=".833" stop-color="#98ff67"/><stop offset=".861" stop-color="#ebff14"/><stop offset=".875" stop-color="#ffe600"/><stop offset=".917" stop-color="#ff2800"/><stop offset=".931" stop-color="#f40000"/><stop offset=".958" stop-color="#c00000"/><stop offset="1" stop-color="#c00000"/></linearGradient><linearGradient id="t37" gradientUnits="userSpaceOnUse" x1="86.1" x2="318"><stop offset="0" stop-color="#f4ff0b"/><stop offset=".042" stop-color="#ebff14"/><stop offset=".056" stop-color="#cdff32"/><stop offset=".069" stop-color="#70ff8f"/><stop offset=".097" stop-color="#57ffa8"/><stop offset=".639" stop-color="#48ffb7"/><stop offset=".806" stop-color="#5cffa3"/><stop offset=".833" stop-color="#92ff6d"/><stop offset=".875" stop-color="#fff700"/><stop offset=".931" stop-color="#ff0500"/><stop offset=".958" stop-color="#c60000"/><stop offset="1" stop-color="#c00000"/></linearGradient><linearGradient id="t38" gradientUnits="userSpaceOnUse" x1="86.1" x2="318"><stop offset="0" stop-color="#b6ff49"/><stop offset=".319" stop-color="#abff54"/><stop offset=".5" stop-color="#50ffaf"/><stop offset=".833" stop-color="#65ff9a"/><stop offset=".903" stop-color="#fdff02"/><stop offset=".972" stop-color="#ff0d00"/><stop offset="1" stop-color="#d50000"/></linearGradient><linearGradient id="t39" gradientUnits="userSpaceOnUse" x1="86.1" x2="318"><stop offset="0" stop-color="#c5ff3a"/><stop offset=".319" stop-color="#bbff44"/><stop offset=".417" stop-color="#6fff90"/><stop offset=".458" stop-color="#27ffd8"/><stop offset=".472" stop-color="#00aeff"/><stop offset=".5" stop-color="#0095ff"/><stop offset=".625" stop-color="#07fff8"/><stop offset=".736" stop-color="#48ffb7"/><stop offset=".833" stop-color="#5effa1"/><stop offset=".889" stop-color="#a2ff5d"/><stop offset=".958" stop-color="#fff600"/><stop offset="1" stop-color="#ff9500"/></linearGradient><linearGradient id="t40" gradientUnits="userSpaceOnUse" x1="86.1" x2="318"><stop offset="0" stop-color="#a6ff59"/><stop offset=".333" stop-color="#96ff69"/><stop offset=".597" stop-color="#40ffbf"/><stop offset=".819" stop-color="#68ff97"/><stop offset=".875" stop-color="#f7ff08"/><stop offset=".944" stop-color="#fa0000"/><stop offset=".972" stop-color="#c30000"/><stop offset="1" stop-color="#c00000"/></linearGradient><linearGradient id="t41" gradientUnits="userSpaceOnUse" x1="86.1" x2="318"><stop offset="0" stop-color="#007fff"/><stop offset=".069" stop-color="#01fffe"/><stop offset=".139" stop-color="#84ff7b"/><stop offset=".417" stop-color="#8fff70"/><stop offset=".542" stop-color="#5dffa2"/><stop offset=".806" stop-color="#5effa1"/><stop offset=".903" stop-color="#fff700"/><stop offset=".986" stop-color="#fe0000"/><stop offset="1" stop-color="#ea0000"/></linearGradient><linearGradient id="t42" gradientUnits="userSpaceOnUse" x1="86.1" x2="318"><stop offset="0" stop-color="#6bff94"/><stop offset=".486" stop-color="#6bff94"/><stop offset=".5" stop-color="#3fffc0"/><stop offset=".806" stop-color="#5cffa3"/><stop offset=".833" stop-color="#92ff6d"/><stop offset=".875" stop-color="#fff700"/><stop offset=".931" stop-color="#ff0500"/><stop offset=".958" stop-color="#c60000"/><stop offset="1" stop-color="#c00000"/></linearGradient><linearGradient id="t43" gradientUnits="userSpaceOnUse" x1="86.1" x2="318"><stop offset="0" stop-color="#75ff8a"/><stop offset=".486" stop-color="#64ff9b"/><stop offset=".5" stop-color="#20ffdf"/><stop offset=".792" stop-color="#48ffb7"/><stop offset=".833" stop-color="#78ff87"/><stop offset=".875" stop-color="#f6ff09"/><stop offset=".931" stop-color="#ff1400"/><stop offset=".972" stop-color="#c00000"/><stop offset="1" stop-color="#c00000"/></linearGradient><linearGradient id="t44" gradientUnits="userSpaceOnUse" x1="86.1" x2="318"><stop offset="0" stop-color="#57ffa8"/><stop offset=".486" stop-color="#57ffa8"/><stop offset=".5" stop-color="#20ffdf"/><stop offset=".792" stop-color="#48ffb7"/><stop offset=".847" stop-color="#84ff7b"/><stop offset=".903" stop-color="#fff500"/><stop offset=".972" stop-color="#fc0000"/><stop offset="1" stop-color="#ca0000"/></linearGradient><linearGradient id="t45" gradientUnits="userSpaceOnUse" x1="86.1" x2="318"><stop offset="0" stop-color="#ca0000"/><stop offset=".028" stop-color="#ff0600"/><stop offset=".083" stop-color="#ffe600"/><stop offset=".111" stop-color="#d9ff26"/><stop offset=".167" stop-color="#75ff8a"/><stop offset=".306" stop-color="#6eff91"/><stop offset=".444" stop-color="#00f7ff"/><stop offset=".486" stop-color="#00baff"/><stop offset=".514" stop-color="#00dcff"/><stop offset=".528" stop-color="#01fffe"/><stop offset=".611" stop-color="#5bffa4"/><stop offset=".681" stop-color="#8fff70"/><stop offset=".736" stop-color="#c5ff3a"/><stop offset="1" stop-color="#c5ff3a"/></linearGradient><linearGradient id="t46" gradientUnits="userSpaceOnUse" x1="86.1" x2="318"><stop offset="0" stop-color="#ff1500"/><stop offset=".111" stop-color="#feff01"/><stop offset=".208" stop-color="#84ff7b"/><stop offset=".306" stop-color="#7aff85"/><stop offset=".444" stop-color="#09fff6"/><stop offset=".5" stop-color="#00eaff"/><stop offset=".556" stop-color="#23ffdc"/><stop offset=".694" stop-color="#8fff70"/><stop offset=".736" stop-color="#b6ff49"/><stop offset="1" stop-color="#b6ff49"/></linearGradient><linearGradient id="t47" gradientUnits="userSpaceOnUse" x1="86.1" x2="318"><stop offset="0" stop-color="#ffaa00"/><stop offset=".014" stop-color="#fdff02"/><stop offset=".028" stop-color="#78ff87"/><stop offset=".042" stop-color="#5bffa4"/><stop offset=".597" stop-color="#5bffa4"/><stop offset=".639" stop-color="#61ff9e"/><stop offset=".653" stop-color="#81ff7e"/><stop offset=".667" stop-color="#e8ff17"/><stop offset=".694" stop-color="#ff0400"/><stop offset=".722" stop-color="#ea0000"/><stop offset=".778" stop-color="#ed0000"/><stop offset=".792" stop-color="#ff3100"/><stop offset=".806" stop-color="#ffbf00"/><stop offset=".819" stop-color="#d2ff2d"/><stop offset=".833" stop-color="#84ff7b"/><stop offset="1" stop-color="#75ff8a"/></linearGradient><linearGradient id="t48" gradientUnits="userSpaceOnUse" x1="86.1" x2="318"><stop offset="0" stop-color="#48ffb7"/><stop offset=".486" stop-color="#48ffb7"/><stop offset=".528" stop-color="#35ffca"/><stop offset=".625" stop-color="#47ffb8"/><stop offset=".681" stop-color="#61ff9e"/><stop offset=".694" stop-color="#b2ff4d"/><stop offset=".708" stop-color="#ffbb00"/><stop offset=".722" stop-color="#ff0200"/><stop offset=".736" stop-color="#cd0000"/><stop offset=".806" stop-color="#d00000"/><stop offset=".819" stop-color="#ff1400"/><stop offset=".833" stop-color="#ffc800"/><stop offset=".847" stop-color="#bdff42"/><stop offset=".861" stop-color="#77ff88"/><stop offset="1" stop-color="#75ff8a"/></linearGradient><linearGradient id="t49" gradientUnits="userSpaceOnUse" x1="86.1" x2="318"><stop offset="0" stop-color="#3fffc0"/><stop offset=".486" stop-color="#3fffc0"/><stop offset=".5" stop-color="#15ffea"/><stop offset=".708" stop-color="#ecff13"/><stop offset=".931" stop-color="#f6ff09"/><stop offset=".972" stop-color="#ff5400"/><stop offset=".986" stop-color="#ff1500"/><stop offset="1" stop-color="#ea0000"/></linearGradient><linearGradient id="t50" gradientUnits="userSpaceOnUse" x1="86.1" x2="318"><stop offset="0" stop-color="#3fffc0"/><stop offset=".486" stop-color="#3fffc0"/><stop offset=".5" stop-color="#15ffea"/><stop offset=".639" stop-color="#97ff68"/><stop offset=".667" stop-color="#fff200"/><stop offset=".681" stop-color="#ff9c00"/><stop offset=".694" stop-color="#ff8000"/><stop offset=".75" stop-color="#ff8100"/><stop offset=".764" stop-color="#ffa900"/><stop offset=".778" stop-color="#fff200"/><stop offset=".806" stop-color="#d2ff2d"/><stop offset=".944" stop-color="#daff25"/><stop offset=".972" stop-color="#ffed00"/><stop offset="1" stop-color="#ff9500"/></linearGradient><linearGradient id="t51" gradientUnits="userSpaceOnUse" x1="86.1" x2="318"><stop offset="0" stop-color="#3fffc0"/><stop offset=".361" stop-color="#2effd1"/><stop offset=".514" stop-color="#2cffd3"/><stop offset=".792" stop-color="#fff500"/><stop offset=".819" stop-color="#ffab00"/><stop offset=".944" stop-color="#ff9600"/><stop offset=".986" stop-color="#ff0f00"/><stop offset="1" stop-color="#ff0000"/></linearGradient><linearGradient id="t52" gradientUnits="userSpaceOnUse" x1="86.1" x2="318"><stop offset="0" stop-color="#3fffc0"/><stop offset=".361" stop-color="#2effd1"/><stop offset=".514" stop-color="#2dffd2"/><stop offset=".764" stop-color="#fff100"/><stop offset=".806" stop-color="#ff9400"/><stop offset=".917" stop-color="#ff6a00"/><stop offset=".986" stop-color="#ff3000"/><stop offset="1" stop-color="#ff2b00"/></linearGradient><linearGradient id="t53" gradientUnits="userSpaceOnUse" x1="86.1" x2="318"><stop offset="0" stop-color="#3fffc0"/><stop offset=".514" stop-color="#36ffc9"/><stop offset=".778" stop-color="#f3ff0c"/><stop offset=".792" stop-color="#ffe900"/><stop offset=".819" stop-color="#ff8200"/><stop offset=".972" stop-color="#ff5700"/><stop offset="1" stop-color="#ff4000"/></linearGradient><linearGradient id="t54" gradientUnits="userSpaceOnUse" x1="86.1" x2="318"><stop offset="0" stop-color="#84ff7b"/><stop offset=".056" stop-color="#48ffb7"/><stop offset=".486" stop-color="#48ffb7"/><stop offset=".5" stop-color="#2affd5"/><stop offset=".708" stop-color="#eaff15"/><stop offset=".806" stop-color="#fbff04"/><stop offset=".847" stop-color="#ff9c00"/><stop offset=".917" stop-color="#ff8100"/><stop offset=".944" stop-color="#ff1800"/><stop offset=".972" stop-color="#fa0000"/><stop offset="1" stop-color="#f50000"/></linearGradient><linearGradient id="t55" gradientUnits="userSpaceOnUse" x1="86.1" x2="318"><stop offset="0" stop-color="#75ff8a"/><stop offset=".028" stop-color="#32ffcd"/><stop offset=".5" stop-color="#15ffea"/><stop offset=".708" stop-color="#f4ff0b"/><stop offset=".861" stop-color="#fffd00"/><stop offset=".903" stop-color="#ffaa00"/><stop offset=".958" stop-color="#ffb800"/><stop offset="1" stop-color="#ffff00"/></linearGradient><linearGradient id="t56" gradientUnits="userSpaceOnUse" x1="86.1" x2="318"><stop offset="0" stop-color="#3fffc0"/><stop offset=".486" stop-color="#3fffc0"/><stop offset=".5" stop-color="#84ff7b"/><stop offset=".611" stop-color="#8eff71"/><stop offset=".736" stop-color="#e9ff16"/><stop offset=".875" stop-color="#f4ff0b"/><stop offset=".944" stop-color="#f60000"/><stop offset=".972" stop-color="#c00000"/><stop offset="1" stop-color="#c00000"/></linearGradient><linearGradient id="t57" gradientUnits="userSpaceOnUse" x1="86.1" x2="318"><stop offset="0" stop-color="#64ff9b"/><stop offset=".083" stop-color="#3fffc0"/><stop offset=".486" stop-color="#3fffc0"/><stop offset=".5" stop-color="#84ff7b"/><stop offset=".611" stop-color="#8eff71"/><stop offset=".736" stop-color="#e9ff16"/><stop offset=".875" stop-color="#f5ff0a"/><stop offset=".917" stop-color="#ff5c00"/><stop offset=".931" stop-color="#ff1e00"/><stop offset=".944" stop-color="#f00000"/><stop offset=".972" stop-color="#c00000"/><stop offset="1" stop-color="#c00000"/></linearGradient><linearGradient id="t58" gradientUnits="userSpaceOnUse" x1="86.1" x2="318"><stop offset="0" stop-color="#6bff94"/><stop offset=".069" stop-color="#33ffcc"/><stop offset=".486" stop-color="#33ffcc"/><stop offset=".5" stop-color="#75ff8a"/><stop offset=".611" stop-color="#81ff7e"/><stop offset=".722" stop-color="#f1ff0e"/><stop offset=".875" stop-color="#f1ff0e"/><stop offset=".889" stop-color="#ffef00"/><stop offset=".944" stop-color="#f60000"/><stop offset=".972" stop-color="#c00000"/><stop offset="1" stop-color="#c00000"/></linearGradient><linearGradient id="t59" gradientUnits="userSpaceOnUse" x1="86.1" x2="318"><stop offset="0" stop-color="#6bff94"/><stop offset=".069" stop-color="#3dffc2"/><stop offset=".486" stop-color="#3dffc2"/><stop offset=".5" stop-color="#75ff8a"/><stop offset=".611" stop-color="#83ff7c"/><stop offset=".722" stop-color="#eeff11"/><stop offset=".875" stop-color="#f6ff09"/><stop offset=".931" stop-color="#ff1c00"/><stop offset=".944" stop-color="#ef0000"/><stop offset=".972" stop-color="#c00000"/><stop offset="1" stop-color="#c00000"/></linearGradient><linearGradient id="t60" gradientUnits="userSpaceOnUse" x1="86.1" x2="318"><stop offset="0" stop-color="#6bff94"/><stop offset=".069" stop-color="#31ffce"/><stop offset=".486" stop-color="#31ffce"/><stop offset=".5" stop-color="#75ff8a"/><stop offset=".611" stop-color="#85ff7a"/><stop offset=".722" stop-color="#e9ff16"/><stop offset=".875" stop-color="#e9ff16"/><stop offset=".889" stop-color="#faff05"/><stop offset=".944" stop-color="#fc0000"/><stop offset=".972" stop-color="#c00000"/><stop offset="1" stop-color="#c00000"/></linearGradient><linearGradient id="t61" gradientUnits="userSpaceOnUse" x1="86.1" x2="318"><stop offset="0" stop-color="#6bff94"/><stop offset=".069" stop-color="#3effc1"/><stop offset=".486" stop-color="#3effc1"/><stop offset=".5" stop-color="#75ff8a"/><stop offset=".611" stop-color="#87ff78"/><stop offset=".722" stop-color="#e7ff18"/><stop offset=".875" stop-color="#eaff15"/><stop offset=".889" stop-color="#ffe900"/><stop offset=".931" stop-color="#ff2a00"/><stop offset=".944" stop-color="#f40000"/><stop offset=".972" stop-color="#c00000"/><stop offset="1" stop-color="#c00000"/></linearGradient><linearGradient id="t62" gradientUnits="userSpaceOnUse" x1="86.1" x2="318"><stop offset="0" stop-color="#6bff94"/><stop offset=".083" stop-color="#42ffbd"/><stop offset=".486" stop-color="#42ffbd"/><stop offset=".5" stop-color="#75ff8a"/><stop offset=".611" stop-color="#76ff89"/><stop offset=".722" stop-color="#e1ff1e"/><stop offset=".875" stop-color="#edff12"/><stop offset=".889" stop-color="#ffe300"/><stop offset=".931" stop-color="#ff2600"/><stop offset=".944" stop-color="#f30000"/><stop offset=".972" stop-color="#c00000"/><stop offset="1" stop-color="#c00000"/></linearGradient><linearGradient id="t63" gradientUnits="userSpaceOnUse" x1="86.1" x2="318"><stop offset="0" stop-color="#3fffc0"/><stop offset=".486" stop-color="#3fffc0"/><stop offset=".5" stop-color="#75ff8a"/><stop offset=".611" stop-color="#7eff81"/><stop offset=".736" stop-color="#deff21"/><stop offset=".875" stop-color="#deff21"/><stop offset=".889" stop-color="#feff01"/><stop offset=".944" stop-color="#ff0c00"/><stop offset=".986" stop-color="#c00000"/><stop offset="1" stop-color="#c00000"/></linearGradient><linearGradient id="t64" gradientUnits="userSpaceOnUse" x1="86.1" x2="318"><stop offset="0" stop-color="#35ffca"/><stop offset=".347" stop-color="#27ffd8"/><stop offset=".486" stop-color="#15ffea"/><stop offset=".5" stop-color="#64ff9b"/><stop offset=".625" stop-color="#74ff8b"/><stop offset=".722" stop-color="#deff21"/><stop offset=".861" stop-color="#e0ff1f"/><stop offset=".889" stop-color="#ffeb00"/><stop offset=".972" stop-color="#fd0000"/><stop offset="1" stop-color="#d50000"/></linearGradient><linearGradient id="t65" gradientUnits="userSpaceOnUse" x1="86.1" x2="318"><stop offset="0" stop-color="#64ff9b"/><stop offset=".097" stop-color="#47ffb8"/><stop offset=".486" stop-color="#47ffb8"/><stop offset=".5" stop-color="#94ff6b"/><stop offset=".611" stop-color="#99ff66"/><stop offset=".736" stop-color="#ecff13"/><stop offset=".875" stop-color="#ecff13"/><stop offset=".889" stop-color="#fffe00"/><stop offset=".944" stop-color="#ff0a00"/><stop offset=".986" stop-color="#c00000"/><stop offset="1" stop-color="#c00000"/></linearGradient><linearGradient id="t66" gradientUnits="userSpaceOnUse" x1="86.1" x2="318"><stop offset="0" stop-color="#64ff9b"/><stop offset=".083" stop-color="#3dffc2"/><stop offset=".486" stop-color="#3dffc2"/><stop offset=".5" stop-color="#94ff6b"/><stop offset=".611" stop-color="#a1ff5e"/><stop offset=".736" stop-color="#ebff14"/><stop offset=".889" stop-color="#efff10"/><stop offset=".903" stop-color="#ffde00"/><stop offset=".944" stop-color="#ff1a00"/><stop offset=".972" stop-color="#cc0000"/><stop offset="1" stop-color="#c00000"/></linearGradient><linearGradient id="t67" gradientUnits="userSpaceOnUse" x1="86.1" x2="318"><stop offset="0" stop-color="#64ff9b"/><stop offset=".083" stop-color="#42ffbd"/><stop offset=".486" stop-color="#42ffbd"/><stop offset=".5" stop-color="#94ff6b"/><stop offset=".625" stop-color="#b8ff47"/><stop offset=".75" stop-color="#f0ff0f"/><stop offset=".889" stop-color="#fdff02"/><stop offset=".944" stop-color="#ff0c00"/><stop offset=".986" stop-color="#c00000"/><stop offset="1" stop-color="#c00000"/></linearGradient><linearGradient id="t68" gradientUnits="userSpaceOnUse" x1="86.1" x2="318"><stop offset="0" stop-color="#64ff9b"/><stop offset=".069" stop-color="#39ffc6"/><stop offset=".486" stop-color="#39ffc6"/><stop offset=".5" stop-color="#94ff6b"/><stop offset=".625" stop-color="#b6ff49"/><stop offset=".75" stop-color="#f2ff0d"/><stop offset=".889" stop-color="#fff700"/><stop offset=".944" stop-color="#ff0600"/><stop offset=".972" stop-color="#c70000"/><stop offset="1" stop-color="#c00000"/></linearGradient><linearGradient id="t69" gradientUnits="userSpaceOnUse" x1="86.1" x2="318"><stop offset="0" stop-color="#64ff9b"/><stop offset=".083" stop-color="#42ffbd"/><stop offset=".486" stop-color="#42ffbd"/><stop offset=".5" stop-color="#94ff6b"/><stop offset=".611" stop-color="#a1ff5e"/><stop offset=".736" stop-color="#f0ff0f"/><stop offset=".875" stop-color="#f0ff0f"/><stop offset=".889" stop-color="#ffe700"/><stop offset=".944" stop-color="#fe0000"/><stop offset=".972" stop-color="#c50000"/><stop offset="1" stop-color="#c00000"/></linearGradient><linearGradient id="t70" gradientUnits="userSpaceOnUse" x1="86.1" x2="318"><stop offset="0" stop-color="#00d4ff"/><stop offset=".097" stop-color="#0afff5"/><stop offset=".167" stop-color="#a3ff5c"/><stop offset=".361" stop-color="#4bffb4"/><stop offset=".431" stop-color="#15ffea"/><stop offset=".486" stop-color="#15ffea"/><stop offset=".5" stop-color="#00eaff"/><stop offset=".528" stop-color="#31ffce"/><stop offset=".569" stop-color="#76ff89"/><stop offset=".597" stop-color="#d7ff28"/><stop offset=".653" stop-color="#f6ff09"/><stop offset=".681" stop-color="#ffd500"/><stop offset=".722" stop-color="#ffd500"/><stop offset=".75" stop-color="#f1ff0e"/><stop offset=".819" stop-color="#deff21"/><stop offset=".972" stop-color="#e4ff1b"/><stop offset=".986" stop-color="#ffef00"/><stop offset="1" stop-color="#ffaa00"/></linearGradient><linearGradient id="t71" gradientUnits="userSpaceOnUse" x1="86.1" x2="318"><stop offset="0" stop-color="#0055ff"/><stop offset=".097" stop-color="#08fff7"/><stop offset=".167" stop-color="#50ffaf"/><stop offset=".444" stop-color="#63ff9c"/><stop offset=".528" stop-color="#b3ff4c"/><stop offset=".694" stop-color="#dcff23"/><stop offset=".986" stop-color="#eaff15"/><stop offset="1" stop-color="#f4ff0b"/></linearGradient><linearGradient id="t72" gradientUnits="userSpaceOnUse" x1="86.1" x2="318"><stop offset="0" stop-color="#0000b9"/><stop offset=".028" stop-color="#000fff"/><stop offset=".097" stop-color="#06fff9"/><stop offset=".167" stop-color="#5bffa4"/><stop offset=".486" stop-color="#72ff8d"/><stop offset=".639" stop-color="#d2ff2d"/><stop offset=".833" stop-color="#e9ff16"/><stop offset=".972" stop-color="#f3ff0c"/><stop offset="1" stop-color="#ffea00"/></linearGradient><linearGradient id="t73" gradientUnits="userSpaceOnUse" x1="86.1" x2="318"><stop offset="0" stop-color="#48ffb7"/><stop offset=".333" stop-color="#56ffa9"/><stop offset=".431" stop-color="#5effa1"/><stop offset=".5" stop-color="#15ffea"/><stop offset=".708" stop-color="#ecff13"/><stop offset=".875" stop-color="#fff900"/><stop offset="1" stop-color="#ff1500"/></linearGradient><linearGradient id="t74" gradientUnits="userSpaceOnUse" x1="86.1" x2="318"><stop offset="0" stop-color="#20ffdf"/><stop offset=".056" stop-color="#00ffff"/><stop offset=".181" stop-color="#13ffec"/><stop offset=".333" stop-color="#5cffa3"/><stop offset=".5" stop-color="#84ff7b"/><stop offset=".667" stop-color="#daff25"/><stop offset=".903" stop-color="#f0ff0f"/><stop offset=".917" stop-color="#ffd800"/><stop offset=".958" stop-color="#ff0c00"/><stop offset=".986" stop-color="#c20000"/><stop offset="1" stop-color="#c00000"/></linearGradient><linearGradient id="t75" gradientUnits="userSpaceOnUse" x1="86.1" x2="318"><stop offset="0" stop-color="#15ffea"/><stop offset=".306" stop-color="#1bffe4"/><stop offset=".403" stop-color="#61ff9e"/><stop offset=".486" stop-color="#3effc1"/><stop offset=".5" stop-color="#20ffdf"/><stop offset=".708" stop-color="#d7ff28"/><stop offset=".903" stop-color="#e4ff1b"/><stop offset=".917" stop-color="#fffc00"/><stop offset=".972" stop-color="#ff1b00"/><stop offset="1" stop-color="#d50000"/></linearGradient><linearGradient id="t76" gradientUnits="userSpaceOnUse" x1="86.1" x2="318"><stop offset="0" stop-color="#2affd5"/><stop offset=".486" stop-color="#2affd5"/><stop offset=".5" stop-color="#75ff8a"/><stop offset=".611" stop-color="#80ff7f"/><stop offset=".722" stop-color="#e9ff16"/><stop offset=".778" stop-color="#ffee00"/><stop offset=".806" stop-color="#ffa000"/><stop offset=".889" stop-color="#ff9800"/><stop offset=".931" stop-color="#fbff04"/><stop offset="1" stop-color="#e9ff16"/></linearGradient><linearGradient id="t77" gradientUnits="userSpaceOnUse" x1="86.1" x2="318"><stop offset="0" stop-color="#00eaff"/><stop offset=".042" stop-color="#0ffff0"/><stop offset=".069" stop-color="#48ffb7"/><stop offset=".486" stop-color="#48ffb7"/><stop offset=".5" stop-color="#20ffdf"/><stop offset=".653" stop-color="#a5ff5a"/><stop offset=".736" stop-color="#fff800"/><stop offset=".778" stop-color="#ffd500"/><stop offset=".847" stop-color="#ffde00"/><stop offset=".889" stop-color="#eeff11"/><stop offset="1" stop-color="#e9ff16"/></linearGradient><linearGradient id="t78" gradientUnits="userSpaceOnUse" x1="86.1" x2="318"><stop offset="0" stop-color="#15ffea"/><stop offset=".139" stop-color="#3fffc0"/><stop offset=".486" stop-color="#3fffc0"/><stop offset=".5" stop-color="#75ff8a"/><stop offset=".611" stop-color="#81ff7e"/><stop offset=".708" stop-color="#fff400"/><stop offset=".736" stop-color="#ffd500"/><stop offset=".806" stop-color="#ffe300"/><stop offset=".847" stop-color="#f4ff0b"/><stop offset=".986" stop-color="#fff900"/><stop offset="1" stop-color="#ffea00"/></linearGradient><linearGradient id="t79" gradientUnits="userSpaceOnUse" x1="86.1" x2="318"><stop offset="0" stop-color="#35ffca"/><stop offset=".486" stop-color="#35ffca"/><stop offset=".5" stop-color="#6bff94"/><stop offset=".611" stop-color="#74ff8b"/><stop offset=".736" stop-color="#fff200"/><stop offset=".764" stop-color="#ffd500"/><stop offset=".806" stop-color="#ffd600"/><stop offset=".847" stop-color="#f4ff0b"/><stop offset=".972" stop-color="#fff200"/><stop offset="1" stop-color="#ffd500"/></linearGradient><linearGradient id="t80" gradientUnits="userSpaceOnUse" x1="86.1" x2="318"><stop offset="0" stop-color="#35ffca"/><stop offset=".514" stop-color="#35ffca"/><stop offset=".625" stop-color="#85ff7a"/><stop offset=".722" stop-color="#f5ff0a"/><stop offset=".806" stop-color="#ffd500"/><stop offset=".875" stop-color="#ffe400"/><stop offset=".931" stop-color="#f4ff0b"/><stop offset="1" stop-color="#f4ff0b"/></linearGradient><linearGradient id="t81" gradientUnits="userSpaceOnUse" x1="86.1" x2="318"><stop offset="0" stop-color="#35ffca"/><stop offset=".486" stop-color="#35ffca"/><stop offset=".5" stop-color="#94ff6b"/><stop offset=".611" stop-color="#a0ff5f"/><stop offset=".75" stop-color="#fffb00"/><stop offset=".806" stop-color="#ffbf00"/><stop offset=".903" stop-color="#ffd200"/><stop offset=".944" stop-color="#f8ff07"/><stop offset="1" stop-color="#ffff00"/></linearGradient><linearGradient id="t82" gradientUnits="userSpaceOnUse" x1="86.1" x2="318"><stop offset="0" stop-color="#35ffca"/><stop offset=".347" stop-color="#27ffd8"/><stop offset=".486" stop-color="#15ffea"/><stop offset=".5" stop-color="#48ffb7"/><stop offset=".681" stop-color="#d7ff28"/><stop offset=".875" stop-color="#fbff04"/><stop offset=".986" stop-color="#ff0a00"/><stop offset="1" stop-color="#f50000"/></linearGradient><linearGradient id="t83" gradientUnits="userSpaceOnUse" x1="86.1" x2="318"><stop offset="0" stop-color="#64ff9b"/><stop offset=".042" stop-color="#3fffc0"/><stop offset=".486" stop-color="#3fffc0"/><stop offset=".5" stop-color="#64ff9b"/><stop offset=".625" stop-color="#cdff32"/><stop offset=".861" stop-color="#fff400"/><stop offset="1" stop-color="#ff4000"/></linearGradient><linearGradient id="t84" gradientUnits="userSpaceOnUse" x1="86.1" x2="318"><stop offset="0" stop-color="#2dffd2"/><stop offset=".486" stop-color="#21ffde"/><stop offset=".5" stop-color="#75ff8a"/><stop offset=".639" stop-color="#d8ff27"/><stop offset=".806" stop-color="#f3ff0c"/><stop offset=".889" stop-color="#ffef00"/><stop offset="1" stop-color="#ff3500"/></linearGradient><linearGradient id="t85" gradientUnits="userSpaceOnUse" x1="86.1" x2="318"><stop offset="0" stop-color="#33ffcc"/><stop offset=".486" stop-color="#1fffe0"/><stop offset=".5" stop-color="#75ff8a"/><stop offset=".611" stop-color="#d9ff26"/><stop offset=".875" stop-color="#edff12"/><stop offset=".903" stop-color="#ffed00"/><stop offset="1" stop-color="#ff3500"/></linearGradient><linearGradient id="t86" gradientUnits="userSpaceOnUse" x1="86.1" x2="318"><stop offset="0" stop-color="#2cffd3"/><stop offset=".486" stop-color="#20ffdf"/><stop offset=".5" stop-color="#75ff8a"/><stop offset=".611" stop-color="#d8ff27"/><stop offset=".861" stop-color="#e4ff1b"/><stop offset=".889" stop-color="#feff01"/><stop offset="1" stop-color="#ff3500"/></linearGradient><linearGradient id="t87" gradientUnits="userSpaceOnUse" x1="86.1" x2="318"><stop offset="0" stop-color="#3cffc3"/><stop offset=".417" stop-color="#28ffd7"/><stop offset=".486" stop-color="#21ffde"/><stop offset=".5" stop-color="#75ff8a"/><stop offset=".611" stop-color="#deff21"/><stop offset=".875" stop-color="#f9ff06"/><stop offset="1" stop-color="#ff3500"/></linearGradient><linearGradient id="t88" gradientUnits="userSpaceOnUse" x1="86.1" x2="318"><stop offset="0" stop-color="#15ffea"/><stop offset=".486" stop-color="#2affd5"/><stop offset=".5" stop-color="#84ff7b"/><stop offset=".625" stop-color="#d7ff28"/><stop offset=".889" stop-color="#f1ff0e"/><stop offset=".917" stop-color="#ffec00"/><stop offset="1" stop-color="#ff6000"/></linearGradient><linearGradient id="t89" gradientUnits="userSpaceOnUse" x1="86.1" x2="318"><stop offset="0" stop-color="#12ffed"/><stop offset=".375" stop-color="#24ffdb"/><stop offset=".486" stop-color="#2bffd4"/><stop offset=".5" stop-color="#84ff7b"/><stop offset=".625" stop-color="#d5ff2a"/><stop offset=".903" stop-color="#e5ff1a"/><stop offset=".931" stop-color="#fff200"/><stop offset="1" stop-color="#ff5500"/></linearGradient><linearGradient id="t90" gradientUnits="userSpaceOnUse" x1="86.1" x2="318"><stop offset="0" stop-color="#1dffe2"/><stop offset=".486" stop-color="#2affd5"/><stop offset=".5" stop-color="#84ff7b"/><stop offset=".611" stop-color="#e0ff1f"/><stop offset=".903" stop-color="#e7ff18"/><stop offset=".931" stop-color="#fff000"/><stop offset="1" stop-color="#ff5500"/></linearGradient><linearGradient id="t91" gradientUnits="userSpaceOnUse" x1="86.1" x2="318"><stop offset="0" stop-color="#23ffdc"/><stop offset=".486" stop-color="#2bffd4"/><stop offset=".5" stop-color="#84ff7b"/><stop offset=".611" stop-color="#d9ff26"/><stop offset=".903" stop-color="#eaff15"/><stop offset=".931" stop-color="#ffec00"/><stop offset="1" stop-color="#ff5500"/></linearGradient><linearGradient id="t92" gradientUnits="userSpaceOnUse" x1="86.1" x2="318"><stop offset="0" stop-color="#1dffe2"/><stop offset=".486" stop-color="#2bffd4"/><stop offset=".5" stop-color="#84ff7b"/><stop offset=".611" stop-color="#dcff23"/><stop offset=".917" stop-color="#f5ff0a"/><stop offset=".958" stop-color="#ffb400"/><stop offset="1" stop-color="#ff5500"/></linearGradient><linearGradient id="t93" gradientUnits="userSpaceOnUse" x1="86.1" x2="318"><stop offset="0" stop-color="#1bffe4"/><stop offset=".486" stop-color="#2affd5"/><stop offset=".5" stop-color="#84ff7b"/><stop offset=".625" stop-color="#d9ff26"/><stop offset=".917" stop-color="#fff900"/><stop offset="1" stop-color="#ff5500"/></linearGradient><linearGradient id="b0" gradientUnits="userSpaceOnUse" x1="86.1" x2="318"><stop offset="0" stop-color="#a6ff59"/><stop offset=".028" stop-color="#78ff87"/><stop offset=".042" stop-color="#84ff7b"/><stop offset=".056" stop-color="#ebff14"/><stop offset=".069" stop-color="#ff5300"/><stop offset=".083" stop-color="#d40000"/><stop offset=".125" stop-color="#c00000"/><stop offset=".153" stop-color="#c70000"/><stop offset=".167" stop-color="#ff1b00"/><stop offset=".181" stop-color="#ffec00"/><stop offset=".194" stop-color="#9dff62"/><stop offset=".208" stop-color="#75ff8a"/><stop offset=".444" stop-color="#61ff9e"/><stop offset=".486" stop-color="#79ff86"/><stop offset=".5" stop-color="#5bffa4"/><stop offset="1" stop-color="#57ffa8"/></linearGradient><linearGradient id="b1" gradientUnits="userSpaceOnUse" x1="86.1" x2="318"><stop offset="0" stop-color="#b6ff49"/><stop offset=".028" stop-color="#7dff82"/><stop offset=".042" stop-color="#9fff60"/><stop offset=".056" stop-color="#ffff00"/><stop offset=".069" stop-color="#ff5700"/><stop offset=".083" stop-color="#f20000"/><stop offset=".153" stop-color="#eb0000"/><stop offset=".167" stop-color="#ff2e00"/><stop offset=".181" stop-color="#ffcf00"/><stop offset=".194" stop-color="#bdff42"/><stop offset=".208" stop-color="#6fff90"/><stop offset=".583" stop-color="#50ffaf"/><stop offset="1" stop-color="#50ffaf"/></linearGradient><linearGradient id="b2" gradientUnits="userSpaceOnUse" x1="86.1" x2="318"><stop offset="0" stop-color="#c00000"/><stop offset=".014" stop-color="#ff1800"/><stop offset=".028" stop-color="#fdff02"/><stop offset=".042" stop-color="#9bff64"/><stop offset=".069" stop-color="#75ff8a"/><stop offset=".264" stop-color="#7dff82"/><stop offset=".278" stop-color="#d2ff2d"/><stop offset=".292" stop-color="#ffb700"/><stop offset=".306" stop-color="#ff4900"/><stop offset=".361" stop-color="#ff4100"/><stop offset=".389" stop-color="#e6ff19"/><stop offset=".403" stop-color="#8bff74"/><stop offset=".431" stop-color="#60ff9f"/><stop offset=".514" stop-color="#16ffe9"/><stop offset=".889" stop-color="#35ffca"/><stop offset=".972" stop-color="#32ffcd"/><stop offset="1" stop-color="#0bfff4"/></linearGradient><linearGradient id="b3" gradientUnits="userSpaceOnUse" x1="86.1" x2="318"><stop offset="0" stop-color="#c00000"/><stop offset=".014" stop-color="#c00000"/><stop offset=".028" stop-color="#ed0000"/><stop offset=".042" stop-color="#ff4a00"/><stop offset=".056" stop-color="#ffb700"/><stop offset=".069" stop-color="#ecff13"/><stop offset=".125" stop-color="#c6ff39"/><stop offset=".319" stop-color="#bbff44"/><stop offset=".5" stop-color="#57ffa8"/><stop offset=".75" stop-color="#3fffc0"/><stop offset="1" stop-color="#3fffc0"/></linearGradient><linearGradient id="b4" gradientUnits="userSpaceOnUse" x1="86.1" x2="318"><stop offset="0" stop-color="#ea0000"/><stop offset=".014" stop-color="#ff1100"/><stop offset=".028" stop-color="#ff4c00"/><stop offset=".083" stop-color="#ff5c00"/><stop offset=".125" stop-color="#ffc500"/><stop offset=".139" stop-color="#f7ff08"/><stop offset=".319" stop-color="#e3ff1c"/><stop offset=".431" stop-color="#65ff9a"/><stop offset=".528" stop-color="#35ffca"/><stop offset="1" stop-color="#35ffca"/></linearGradient><linearGradient id="b5" gradientUnits="userSpaceOnUse" x1="86.1" x2="318"><stop offset="0" stop-color="#ff9500"/><stop offset=".042" stop-color="#ff9a00"/><stop offset=".056" stop-color="#ffc600"/><stop offset=".097" stop-color="#ffd500"/><stop offset=".111" stop-color="#fff800"/><stop offset=".278" stop-color="#f4ff0b"/><stop offset=".319" stop-color="#d2ff2d"/><stop offset=".375" stop-color="#d2ff2d"/><stop offset=".431" stop-color="#6aff95"/><stop offset=".528" stop-color="#3fffc0"/><stop offset="1" stop-color="#3fffc0"/></linearGradient><linearGradient id="b6" gradientUnits="userSpaceOnUse" x1="86.1" x2="318"><stop offset="0" stop-color="#ff8000"/><stop offset=".056" stop-color="#ff8f00"/><stop offset=".083" stop-color="#ffd500"/><stop offset=".139" stop-color="#ffd500"/><stop offset=".153" stop-color="#fffd00"/><stop offset=".375" stop-color="#d2ff2d"/><stop offset=".403" stop-color="#cdff32"/><stop offset=".458" stop-color="#5dffa2"/><stop offset=".5" stop-color="#15ffea"/><stop offset="1" stop-color="#20ffdf"/></linearGradient><linearGradient id="b7" gradientUnits="userSpaceOnUse" x1="86.1" x2="318"><stop offset="0" stop-color="#f50000"/><stop offset=".028" stop-color="#ff6900"/><stop offset=".056" stop-color="#ffe800"/><stop offset=".083" stop-color="#d8ff27"/><stop offset=".333" stop-color="#c2ff3d"/><stop offset=".583" stop-color="#17ffe8"/><stop offset=".611" stop-color="#00daff"/><stop offset=".667" stop-color="#00d8ff"/><stop offset=".681" stop-color="#04fffb"/><stop offset=".708" stop-color="#3bffc4"/><stop offset="1" stop-color="#3fffc0"/></linearGradient><linearGradient id="b8" gradientUnits="userSpaceOnUse" x1="86.1" x2="318"><stop offset="0" stop-color="#c00000"/><stop offset=".014" stop-color="#c00000"/><stop offset=".028" stop-color="#f60000"/><stop offset=".056" stop-color="#ffd900"/><stop offset=".069" stop-color="#ddff22"/><stop offset=".139" stop-color="#c5ff3a"/><stop offset=".417" stop-color="#b3ff4c"/><stop offset=".486" stop-color="#8aff75"/><stop offset=".5" stop-color="#64ff9b"/><stop offset=".708" stop-color="#48ffb7"/><stop offset="1" stop-color="#48ffb7"/></linearGradient><linearGradient id="b9" gradientUnits="userSpaceOnUse" x1="86.1" x2="318"><stop offset="0" stop-color="#ca0000"/><stop offset=".028" stop-color="#ff0600"/><stop offset=".083" stop-color="#ffe600"/><stop offset=".111" stop-color="#d1ff2e"/><stop offset=".417" stop-color="#bbff44"/><stop offset=".5" stop-color="#e9ff16"/><stop offset=".556" stop-color="#62ff9d"/><stop offset=".625" stop-color="#00f8ff"/><stop offset=".667" stop-color="#00eaff"/><stop offset=".694" stop-color="#2bffd4"/><stop offset="1" stop-color="#35ffca"/></linearGradient><linearGradient id="b10" gradientUnits="userSpaceOnUse" x1="86.1" x2="318"><stop offset="0" stop-color="#c00000"/><stop offset=".028" stop-color="#d90000"/><stop offset=".042" stop-color="#ff2100"/><stop offset=".069" stop-color="#fffd00"/><stop offset=".097" stop-color="#c1ff3e"/><stop offset=".653" stop-color="#3fffc0"/><stop offset="1" stop-color="#3fffc0"/></linearGradient><linearGradient id="b11" gradientUnits="userSpaceOnUse" x1="86.1" x2="318"><stop offset="0" stop-color="#c00000"/><stop offset=".056" stop-color="#c00000"/><stop offset=".069" stop-color="#ef0000"/><stop offset=".083" stop-color="#ffc700"/><stop offset=".097" stop-color="#daff25"/><stop offset=".139" stop-color="#7cff83"/><stop offset=".236" stop-color="#58ffa7"/><stop offset=".625" stop-color="#42ffbd"/><stop offset=".819" stop-color="#94ff6b"/><stop offset=".875" stop-color="#81ff7e"/><stop offset=".944" stop-color="#57ffa8"/><stop offset="1" stop-color="#44ffbb"/></linearGradient><linearGradient id="b12" gradientUnits="userSpaceOnUse" x1="86.1" x2="318"><stop offset="0" stop-color="#c00000"/><stop offset=".056" stop-color="#c00000"/><stop offset=".069" stop-color="#ff3900"/><stop offset=".083" stop-color="#e8ff17"/><stop offset=".139" stop-color="#6fff90"/><stop offset=".403" stop-color="#49ffb6"/><stop offset=".639" stop-color="#4fffb0"/><stop offset=".75" stop-color="#6eff91"/><stop offset=".792" stop-color="#94ff6b"/><stop offset=".875" stop-color="#81ff7e"/><stop offset=".944" stop-color="#56ffa9"/><stop offset="1" stop-color="#44ffbb"/></linearGradient><linearGradient id="b13" gradientUnits="userSpaceOnUse" x1="86.1" x2="318"><stop offset="0" stop-color="#c00000"/><stop offset=".056" stop-color="#c00000"/><stop offset=".069" stop-color="#f30000"/><stop offset=".083" stop-color="#ffd200"/><stop offset=".097" stop-color="#d7ff28"/><stop offset=".139" stop-color="#76ff89"/><stop offset=".319" stop-color="#4affb5"/><stop offset=".625" stop-color="#47ffb8"/><stop offset=".75" stop-color="#6fff90"/><stop offset=".792" stop-color="#94ff6b"/><stop offset=".875" stop-color="#82ff7d"/><stop offset=".958" stop-color="#54ffab"/><stop offset="1" stop-color="#44ffbb"/></linearGradient><linearGradient id="b14" gradientUnits="userSpaceOnUse" x1="86.1" x2="318"><stop offset="0" stop-color="#c00000"/><stop offset=".056" stop-color="#c00000"/><stop offset=".069" stop-color="#ff3800"/><stop offset=".083" stop-color="#e8ff17"/><stop offset=".139" stop-color="#70ff8f"/><stop offset=".389" stop-color="#4cffb3"/><stop offset=".639" stop-color="#4dffb2"/><stop offset=".75" stop-color="#69ff96"/><stop offset=".792" stop-color="#94ff6b"/><stop offset=".861" stop-color="#91ff6e"/><stop offset=".917" stop-color="#5bffa4"/><stop offset="1" stop-color="#44ffbb"/></linearGradient><linearGradient id="b15" gradientUnits="userSpaceOnUse" x1="86.1" x2="318"><stop offset="0" stop-color="#c00000"/><stop offset=".056" stop-color="#c00000"/><stop offset=".069" stop-color="#f40000"/><stop offset=".083" stop-color="#ffd400"/><stop offset=".097" stop-color="#d6ff29"/><stop offset=".139" stop-color="#72ff8d"/><stop offset=".361" stop-color="#44ffbb"/><stop offset=".625" stop-color="#47ffb8"/><stop offset=".75" stop-color="#6eff91"/><stop offset=".792" stop-color="#94ff6b"/><stop offset=".875" stop-color="#81ff7e"/><stop offset=".944" stop-color="#57ffa8"/><stop offset="1" stop-color="#44ffbb"/></linearGradient><linearGradient id="b16" gradientUnits="userSpaceOnUse" x1="86.1" x2="318"><stop offset="0" stop-color="#c00000"/><stop offset=".056" stop-color="#c00000"/><stop offset=".069" stop-color="#fc0000"/><stop offset=".083" stop-color="#ffe600"/><stop offset=".111" stop-color="#aeff51"/><stop offset=".139" stop-color="#71ff8e"/><stop offset=".361" stop-color="#45ffba"/><stop offset=".625" stop-color="#46ffb9"/><stop offset=".75" stop-color="#6eff91"/><stop offset=".792" stop-color="#94ff6b"/><stop offset=".875" stop-color="#81ff7e"/><stop offset=".944" stop-color="#57ffa8"/><stop offset="1" stop-color="#44ffbb"/></linearGradient><linearGradient id="b17" gradientUnits="userSpaceOnUse" x1="86.1" x2="318"><stop offset="0" stop-color="#c00000"/><stop offset=".056" stop-color="#c00000"/><stop offset=".069" stop-color="#ff3800"/><stop offset=".083" stop-color="#e9ff16"/><stop offset=".139" stop-color="#71ff8e"/><stop offset=".389" stop-color="#4cffb3"/><stop offset=".625" stop-color="#4cffb3"/><stop offset=".75" stop-color="#6dff92"/><stop offset=".792" stop-color="#94ff6b"/><stop offset=".875" stop-color="#81ff7e"/><stop offset=".944" stop-color="#57ffa8"/><stop offset="1" stop-color="#44ffbb"/></linearGradient><linearGradient id="b18" gradientUnits="userSpaceOnUse" x1="86.1" x2="318"><stop offset="0" stop-color="#c00000"/><stop offset=".056" stop-color="#c00000"/><stop offset=".069" stop-color="#d80000"/><stop offset=".083" stop-color="#ff9000"/><stop offset=".097" stop-color="#e0ff1f"/><stop offset=".139" stop-color="#78ff87"/><stop offset=".278" stop-color="#4bffb4"/><stop offset=".625" stop-color="#44ffbb"/><stop offset=".75" stop-color="#6aff95"/><stop offset=".792" stop-color="#94ff6b"/><stop offset=".861" stop-color="#91ff6e"/><stop offset=".917" stop-color="#5bffa4"/><stop offset="1" stop-color="#44ffbb"/></linearGradient><linearGradient id="b19" gradientUnits="userSpaceOnUse" x1="86.1" x2="318"><stop offset="0" stop-color="#c00000"/><stop offset=".056" stop-color="#c00000"/><stop offset=".069" stop-color="#ff2900"/><stop offset=".083" stop-color="#efff10"/><stop offset=".139" stop-color="#71ff8e"/><stop offset=".389" stop-color="#4bffb4"/><stop offset=".625" stop-color="#46ffb9"/><stop offset=".75" stop-color="#6bff94"/><stop offset=".792" stop-color="#94ff6b"/><stop offset=".861" stop-color="#91ff6e"/><stop offset=".917" stop-color="#5dffa2"/><stop offset="1" stop-color="#44ffbb"/></linearGradient><linearGradient id="b20" gradientUnits="userSpaceOnUse" x1="86.1" x2="318"><stop offset="0" stop-color="#c00000"/><stop offset=".056" stop-color="#c00000"/><stop offset=".069" stop-color="#d50000"/><stop offset=".083" stop-color="#ff8700"/><stop offset=".097" stop-color="#e2ff1d"/><stop offset=".139" stop-color="#7bff84"/><stop offset=".236" stop-color="#53ffac"/><stop offset=".625" stop-color="#45ffba"/><stop offset=".75" stop-color="#6aff95"/><stop offset=".792" stop-color="#94ff6b"/><stop offset=".861" stop-color="#91ff6e"/><stop offset=".917" stop-color="#5bffa4"/><stop offset="1" stop-color="#44ffbb"/></linearGradient><linearGradient id="b21" gradientUnits="userSpaceOnUse" x1="86.1" x2="318"><stop offset="0" stop-color="#c00000"/><stop offset=".056" stop-color="#c00000"/><stop offset=".069" stop-color="#f50000"/><stop offset=".083" stop-color="#ffd500"/><stop offset=".097" stop-color="#d7ff28"/><stop offset=".139" stop-color="#79ff86"/><stop offset=".264" stop-color="#54ffab"/><stop offset=".625" stop-color="#43ffbc"/><stop offset=".75" stop-color="#6aff95"/><stop offset=".792" stop-color="#94ff6b"/><stop offset=".861" stop-color="#91ff6e"/><stop offset=".917" stop-color="#5bffa4"/><stop offset="1" stop-color="#44ffbb"/></linearGradient><linearGradient id="b22" gradientUnits="userSpaceOnUse" x1="86.1" x2="318"><stop offset="0" stop-color="#c00000"/><stop offset=".056" stop-color="#c00000"/><stop offset=".069" stop-color="#d80000"/><stop offset=".083" stop-color="#ff9000"/><stop offset=".097" stop-color="#e0ff1f"/><stop offset=".139" stop-color="#77ff88"/><stop offset=".278" stop-color="#4bffb4"/><stop offset=".625" stop-color="#46ffb9"/><stop offset=".819" stop-color="#94ff6b"/><stop offset=".875" stop-color="#83ff7c"/><stop offset=".944" stop-color="#58ffa7"/><stop offset="1" stop-color="#44ffbb"/></linearGradient><linearGradient id="b23" gradientUnits="userSpaceOnUse" x1="86.1" x2="318"><stop offset="0" stop-color="#c00000"/><stop offset=".056" stop-color="#c00000"/><stop offset=".069" stop-color="#e50000"/><stop offset=".083" stop-color="#ffaf00"/><stop offset=".097" stop-color="#dcff23"/><stop offset=".139" stop-color="#7cff83"/><stop offset=".236" stop-color="#57ffa8"/><stop offset=".625" stop-color="#48ffb7"/><stop offset=".819" stop-color="#94ff6b"/><stop offset=".875" stop-color="#83ff7c"/><stop offset=".944" stop-color="#57ffa8"/><stop offset="1" stop-color="#44ffbb"/></linearGradient><linearGradient id="b24" gradientUnits="userSpaceOnUse" x1="86.1" x2="318"><stop offset="0" stop-color="#c00000"/><stop offset=".056" stop-color="#c00000"/><stop offset=".069" stop-color="#d90000"/><stop offset=".083" stop-color="#ff9200"/><stop offset=".097" stop-color="#e0ff1f"/><stop offset=".139" stop-color="#78ff87"/><stop offset=".264" stop-color="#4dffb2"/><stop offset=".625" stop-color="#46ffb9"/><stop offset=".75" stop-color="#6bff94"/><stop offset=".792" stop-color="#94ff6b"/><stop offset=".861" stop-color="#91ff6e"/><stop offset=".917" stop-color="#5bffa4"/><stop offset="1" stop-color="#44ffbb"/></linearGradient><linearGradient id="b25" gradientUnits="userSpaceOnUse" x1="86.1" x2="318"><stop offset="0" stop-color="#c00000"/><stop offset=".056" stop-color="#c00000"/><stop offset=".069" stop-color="#f80000"/><stop offset=".083" stop-color="#ffdd00"/><stop offset=".097" stop-color="#d5ff2a"/><stop offset=".139" stop-color="#73ff8c"/><stop offset=".361" stop-color="#47ffb8"/><stop offset=".625" stop-color="#45ffba"/><stop offset=".819" stop-color="#94ff6b"/><stop offset=".875" stop-color="#83ff7c"/><stop offset=".944" stop-color="#58ffa7"/><stop offset="1" stop-color="#44ffbb"/></linearGradient><linearGradient id="b26" gradientUnits="userSpaceOnUse" x1="86.1" x2="318"><stop offset="0" stop-color="#c00000"/><stop offset=".056" stop-color="#c00000"/><stop offset=".069" stop-color="#d30000"/><stop offset=".083" stop-color="#ff8300"/><stop offset=".097" stop-color="#e3ff1c"/><stop offset=".153" stop-color="#6fff90"/><stop offset=".597" stop-color="#3effc1"/><stop offset=".819" stop-color="#94ff6b"/><stop offset=".875" stop-color="#84ff7b"/><stop offset="1" stop-color="#44ffbb"/></linearGradient><linearGradient id="b27" gradientUnits="userSpaceOnUse" x1="86.1" x2="318"><stop offset="0" stop-color="#c00000"/><stop offset=".056" stop-color="#c00000"/><stop offset=".069" stop-color="#ff1300"/><stop offset=".083" stop-color="#fcff03"/><stop offset=".139" stop-color="#76ff89"/><stop offset=".319" stop-color="#4effb1"/><stop offset=".611" stop-color="#49ffb6"/><stop offset=".75" stop-color="#6fff90"/><stop offset=".792" stop-color="#94ff6b"/><stop offset=".875" stop-color="#82ff7d"/><stop offset=".958" stop-color="#54ffab"/><stop offset="1" stop-color="#44ffbb"/></linearGradient><linearGradient id="b28" gradientUnits="userSpaceOnUse" x1="86.1" x2="318"><stop offset="0" stop-color="#c00000"/><stop offset=".083" stop-color="#c30000"/><stop offset=".097" stop-color="#ff3900"/><stop offset=".111" stop-color="#ffeb00"/><stop offset=".153" stop-color="#92ff6d"/><stop offset=".194" stop-color="#64ff9b"/><stop offset=".556" stop-color="#15ffea"/><stop offset=".778" stop-color="#48ffb7"/><stop offset="1" stop-color="#5bffa4"/></linearGradient><linearGradient id="b29" gradientUnits="userSpaceOnUse" x1="86.1" x2="318"><stop offset="0" stop-color="#c00000"/><stop offset=".069" stop-color="#c00000"/><stop offset=".083" stop-color="#ef0000"/><stop offset=".097" stop-color="#ffa200"/><stop offset=".111" stop-color="#e1ff1e"/><stop offset=".167" stop-color="#70ff8f"/><stop offset=".569" stop-color="#20ffdf"/><stop offset=".778" stop-color="#50ffaf"/><stop offset="1" stop-color="#50ffaf"/></linearGradient><linearGradient id="b30" gradientUnits="userSpaceOnUse" x1="86.1" x2="318"><stop offset="0" stop-color="#c00000"/><stop offset=".042" stop-color="#c00000"/><stop offset=".056" stop-color="#ff7a00"/><stop offset=".069" stop-color="#d7ff28"/><stop offset=".097" stop-color="#7cff83"/><stop offset=".167" stop-color="#55ffaa"/><stop offset=".611" stop-color="#3bffc4"/><stop offset=".819" stop-color="#70ff8f"/><stop offset=".861" stop-color="#94ff6b"/><stop offset=".931" stop-color="#7dff82"/><stop offset=".986" stop-color="#64ff9b"/><stop offset="1" stop-color="#64ff9b"/></linearGradient><linearGradient id="b31" gradientUnits="userSpaceOnUse" x1="86.1" x2="318"><stop offset="0" stop-color="#c00000"/><stop offset=".042" stop-color="#c00000"/><stop offset=".056" stop-color="#ff1900"/><stop offset=".069" stop-color="#e6ff19"/><stop offset=".111" stop-color="#72ff8d"/><stop offset=".292" stop-color="#50ffaf"/><stop offset=".486" stop-color="#50ffaf"/><stop offset=".5" stop-color="#20ffdf"/><stop offset=".611" stop-color="#2cffd3"/><stop offset=".736" stop-color="#84ff7b"/><stop offset=".847" stop-color="#a6ff59"/><stop offset=".931" stop-color="#82ff7d"/><stop offset="1" stop-color="#15ffea"/></linearGradient><linearGradient id="b32" gradientUnits="userSpaceOnUse" x1="86.1" x2="318"><stop offset="0" stop-color="#c00000"/><stop offset=".042" stop-color="#c00000"/><stop offset=".056" stop-color="#ff1900"/><stop offset=".069" stop-color="#e4ff1b"/><stop offset=".097" stop-color="#71ff8e"/><stop offset=".222" stop-color="#3fffc0"/><stop offset=".597" stop-color="#15ffea"/><stop offset=".708" stop-color="#8dff72"/><stop offset=".792" stop-color="#d2ff2d"/><stop offset=".847" stop-color="#c8ff37"/><stop offset=".903" stop-color="#9fff60"/><stop offset=".944" stop-color="#5dffa2"/><stop offset="1" stop-color="#15ffea"/></linearGradient><linearGradient id="b33" gradientUnits="userSpaceOnUse" x1="86.1" x2="318"><stop offset="0" stop-color="#c00000"/><stop offset=".042" stop-color="#c00000"/><stop offset=".056" stop-color="#ff1900"/><stop offset=".069" stop-color="#e6ff19"/><stop offset=".111" stop-color="#72ff8d"/><stop offset=".292" stop-color="#50ffaf"/><stop offset=".486" stop-color="#50ffaf"/><stop offset=".5" stop-color="#20ffdf"/><stop offset=".611" stop-color="#2cffd3"/><stop offset=".736" stop-color="#84ff7b"/><stop offset=".847" stop-color="#a6ff59"/><stop offset=".931" stop-color="#82ff7d"/><stop offset="1" stop-color="#15ffea"/></linearGradient><linearGradient id="b34" gradientUnits="userSpaceOnUse" x1="86.1" x2="318"><stop offset="0" stop-color="#c00000"/><stop offset=".056" stop-color="#c00000"/><stop offset=".069" stop-color="#fe0000"/><stop offset=".083" stop-color="#ffeb00"/><stop offset=".125" stop-color="#89ff76"/><stop offset=".181" stop-color="#5effa1"/><stop offset=".611" stop-color="#47ffb8"/><stop offset=".75" stop-color="#84ff7b"/><stop offset=".944" stop-color="#71ff8e"/><stop offset="1" stop-color="#64ff9b"/></linearGradient><linearGradient id="b35" gradientUnits="userSpaceOnUse" x1="86.1" x2="318"><stop offset="0" stop-color="#c00000"/><stop offset=".069" stop-color="#c10000"/><stop offset=".083" stop-color="#ff5800"/><stop offset=".097" stop-color="#e9ff16"/><stop offset=".153" stop-color="#6dff92"/><stop offset=".597" stop-color="#3fffc0"/><stop offset=".778" stop-color="#6bff94"/><stop offset="1" stop-color="#6bff94"/></linearGradient><linearGradient id="b36" gradientUnits="userSpaceOnUse" x1="86.1" x2="318"><stop offset="0" stop-color="#ff9500"/><stop offset=".028" stop-color="#ff8100"/><stop offset=".042" stop-color="#fd0000"/><stop offset=".056" stop-color="#c00000"/><stop offset=".097" stop-color="#c00000"/><stop offset=".111" stop-color="#e90000"/><stop offset=".139" stop-color="#ffcd00"/><stop offset=".153" stop-color="#efff10"/><stop offset=".222" stop-color="#7aff85"/><stop offset=".375" stop-color="#48ffb7"/><stop offset=".458" stop-color="#54ffab"/><stop offset=".486" stop-color="#74ff8b"/><stop offset=".5" stop-color="#57ffa8"/><stop offset="1" stop-color="#48ffb7"/></linearGradient><linearGradient id="b37" gradientUnits="userSpaceOnUse" x1="86.1" x2="318"><stop offset="0" stop-color="#f50000"/><stop offset=".083" stop-color="#ff0e00"/><stop offset=".139" stop-color="#ffed00"/><stop offset=".194" stop-color="#a5ff5a"/><stop offset=".278" stop-color="#61ff9e"/><stop offset=".431" stop-color="#20ffdf"/><stop offset=".764" stop-color="#48ffb7"/><stop offset="1" stop-color="#48ffb7"/></linearGradient><linearGradient id="b38" gradientUnits="userSpaceOnUse" x1="86.1" x2="318"><stop offset="0" stop-color="#f50000"/><stop offset=".083" stop-color="#ff0e00"/><stop offset=".139" stop-color="#ffed00"/><stop offset=".194" stop-color="#a5ff5a"/><stop offset=".278" stop-color="#61ff9e"/><stop offset=".431" stop-color="#20ffdf"/><stop offset=".764" stop-color="#48ffb7"/><stop offset="1" stop-color="#48ffb7"/></linearGradient><linearGradient id="b39" gradientUnits="userSpaceOnUse" x1="86.1" x2="318"><stop offset="0" stop-color="#f50000"/><stop offset=".083" stop-color="#ff0e00"/><stop offset=".139" stop-color="#ffed00"/><stop offset=".194" stop-color="#a5ff5a"/><stop offset=".278" stop-color="#61ff9e"/><stop offset=".431" stop-color="#20ffdf"/><stop offset=".764" stop-color="#48ffb7"/><stop offset="1" stop-color="#48ffb7"/></linearGradient><linearGradient id="b40" gradientUnits="userSpaceOnUse" x1="86.1" x2="318"><stop offset="0" stop-color="#c00000"/><stop offset=".069" stop-color="#c10000"/><stop offset=".083" stop-color="#ff5800"/><stop offset=".097" stop-color="#e9ff16"/><stop offset=".181" stop-color="#bbff44"/><stop offset=".347" stop-color="#a1ff5e"/><stop offset=".444" stop-color="#8aff75"/><stop offset="1" stop-color="#57ffa8"/></linearGradient><linearGradient id="b41" gradientUnits="userSpaceOnUse" x1="86.1" x2="318"><stop offset="0" stop-color="#c00000"/><stop offset=".056" stop-color="#c60000"/><stop offset=".069" stop-color="#ff9900"/><stop offset=".083" stop-color="#ddff22"/><stop offset=".139" stop-color="#6dff92"/><stop offset=".444" stop-color="#48ffb7"/><stop offset="1" stop-color="#55ffaa"/></linearGradient><linearGradient id="b42" gradientUnits="userSpaceOnUse" x1="86.1" x2="318"><stop offset="0" stop-color="#c00000"/><stop offset=".056" stop-color="#c80000"/><stop offset=".069" stop-color="#ff9e00"/><stop offset=".083" stop-color="#deff21"/><stop offset=".139" stop-color="#74ff8b"/><stop offset=".375" stop-color="#51ffae"/><stop offset=".931" stop-color="#58ffa7"/><stop offset="1" stop-color="#58ffa7"/></linearGradient><linearGradient id="b43" gradientUnits="userSpaceOnUse" x1="86.1" x2="318"><stop offset="0" stop-color="#c00000"/><stop offset=".056" stop-color="#c00000"/><stop offset=".069" stop-color="#ff0200"/><stop offset=".083" stop-color="#fff000"/><stop offset=".139" stop-color="#82ff7d"/><stop offset=".222" stop-color="#5cffa3"/><stop offset=".778" stop-color="#58ffa7"/><stop offset="1" stop-color="#58ffa7"/></linearGradient><linearGradient id="b44" gradientUnits="userSpaceOnUse" x1="86.1" x2="318"><stop offset="0" stop-color="#c00000"/><stop offset=".056" stop-color="#c00000"/><stop offset=".069" stop-color="#ff1b00"/><stop offset=".083" stop-color="#f7ff08"/><stop offset=".139" stop-color="#74ff8b"/><stop offset=".361" stop-color="#45ffba"/><stop offset=".917" stop-color="#50ffaf"/><stop offset="1" stop-color="#50ffaf"/></linearGradient><linearGradient id="b45" gradientUnits="userSpaceOnUse" x1="86.1" x2="318"><stop offset="0" stop-color="#c00000"/><stop offset=".056" stop-color="#c00000"/><stop offset=".069" stop-color="#ff4100"/><stop offset=".083" stop-color="#e8ff17"/><stop offset=".139" stop-color="#79ff86"/><stop offset=".278" stop-color="#55ffaa"/><stop offset=".833" stop-color="#53ffac"/><stop offset="1" stop-color="#53ffac"/></linearGradient><linearGradient id="b46" gradientUnits="userSpaceOnUse" x1="86.1" x2="318"><stop offset="0" stop-color="#c00000"/><stop offset=".056" stop-color="#c00000"/><stop offset=".069" stop-color="#ff8600"/><stop offset=".083" stop-color="#e0ff1f"/><stop offset=".139" stop-color="#75ff8a"/><stop offset=".361" stop-color="#50ffaf"/><stop offset=".458" stop-color="#6bff94"/><stop offset=".486" stop-color="#92ff6d"/><stop offset=".5" stop-color="#64ff9b"/><stop offset=".875" stop-color="#50ffaf"/><stop offset="1" stop-color="#50ffaf"/></linearGradient><linearGradient id="b47" gradientUnits="userSpaceOnUse" x1="86.1" x2="318"><stop offset="0" stop-color="#c00000"/><stop offset=".083" stop-color="#c30000"/><stop offset=".097" stop-color="#ff3900"/><stop offset=".111" stop-color="#ffeb00"/><stop offset=".153" stop-color="#83ff7c"/><stop offset=".208" stop-color="#5bffa4"/><stop offset=".764" stop-color="#3fffc0"/><stop offset="1" stop-color="#3fffc0"/></linearGradient><linearGradient id="b48" gradientUnits="userSpaceOnUse" x1="86.1" x2="318"><stop offset="0" stop-color="#c00000"/><stop offset=".056" stop-color="#c00000"/><stop offset=".069" stop-color="#ff6300"/><stop offset=".083" stop-color="#e3ff1c"/><stop offset=".139" stop-color="#6cff93"/><stop offset=".514" stop-color="#20ffdf"/><stop offset=".806" stop-color="#4effb1"/><stop offset="1" stop-color="#4effb1"/></linearGradient><linearGradient id="b49" gradientUnits="userSpaceOnUse" x1="86.1" x2="318"><stop offset="0" stop-color="#c00000"/><stop offset=".056" stop-color="#c00000"/><stop offset=".069" stop-color="#ff6100"/><stop offset=".083" stop-color="#e3ff1c"/><stop offset=".139" stop-color="#6eff91"/><stop offset=".5" stop-color="#20ffdf"/><stop offset=".833" stop-color="#49ffb6"/><stop offset="1" stop-color="#49ffb6"/></linearGradient><linearGradient id="b50" gradientUnits="userSpaceOnUse" x1="86.1" x2="318"><stop offset="0" stop-color="#c00000"/><stop offset=".056" stop-color="#c00000"/><stop offset=".069" stop-color="#ff1300"/><stop offset=".083" stop-color="#fcff03"/><stop offset=".125" stop-color="#81ff7e"/><stop offset=".181" stop-color="#5bffa4"/><stop offset=".556" stop-color="#23ffdc"/><stop offset=".806" stop-color="#4dffb2"/><stop offset="1" stop-color="#4dffb2"/></linearGradient><linearGradient id="b51" gradientUnits="userSpaceOnUse" x1="86.1" x2="318"><stop offset="0" stop-color="#c00000"/><stop offset=".083" stop-color="#c00000"/><stop offset=".097" stop-color="#ff2200"/><stop offset=".111" stop-color="#ffd100"/><stop offset=".125" stop-color="#d9ff26"/><stop offset=".167" stop-color="#71ff8e"/><stop offset=".375" stop-color="#49ffb6"/><stop offset=".931" stop-color="#4effb1"/><stop offset="1" stop-color="#4effb1"/></linearGradient><linearGradient id="b52" gradientUnits="userSpaceOnUse" x1="86.1" x2="318"><stop offset="0" stop-color="#c00000"/><stop offset=".069" stop-color="#c00000"/><stop offset=".083" stop-color="#d50000"/><stop offset=".097" stop-color="#ff6400"/><stop offset=".111" stop-color="#f0ff0f"/><stop offset=".167" stop-color="#6cff93"/><stop offset=".431" stop-color="#4dffb2"/><stop offset=".986" stop-color="#49ffb6"/><stop offset="1" stop-color="#49ffb6"/></linearGradient><linearGradient id="b53" gradientUnits="userSpaceOnUse" x1="86.1" x2="318"><stop offset="0" stop-color="#c00000"/><stop offset=".083" stop-color="#c00000"/><stop offset=".097" stop-color="#ff0900"/><stop offset=".111" stop-color="#ffb400"/><stop offset=".125" stop-color="#e0ff1f"/><stop offset=".167" stop-color="#7aff85"/><stop offset=".264" stop-color="#57ffa8"/><stop offset=".819" stop-color="#40ffbf"/><stop offset="1" stop-color="#40ffbf"/></linearGradient><linearGradient id="b54" gradientUnits="userSpaceOnUse" x1="86.1" x2="318"><stop offset="0" stop-color="#c00000"/><stop offset=".042" stop-color="#c00000"/><stop offset=".056" stop-color="#ff7a00"/><stop offset=".069" stop-color="#dcff23"/><stop offset=".125" stop-color="#8aff75"/><stop offset=".417" stop-color="#67ff98"/><stop offset=".528" stop-color="#e1ff1e"/><stop offset=".542" stop-color="#fffb00"/><stop offset=".583" stop-color="#ffea00"/><stop offset=".597" stop-color="#fff900"/><stop offset=".625" stop-color="#9cff63"/><stop offset=".694" stop-color="#5fffa0"/><stop offset="1" stop-color="#57ffa8"/></linearGradient><linearGradient id="b55" gradientUnits="userSpaceOnUse" x1="86.1" x2="318"><stop offset="0" stop-color="#c00000"/><stop offset=".028" stop-color="#c00000"/><stop offset=".042" stop-color="#ff2000"/><stop offset=".056" stop-color="#e5ff1a"/><stop offset=".097" stop-color="#6fff90"/><stop offset=".153" stop-color="#14ffeb"/><stop offset=".347" stop-color="#00ffff"/><stop offset=".403" stop-color="#1affe5"/><stop offset=".5" stop-color="#b6ff49"/><stop offset=".667" stop-color="#abff54"/><stop offset=".819" stop-color="#5effa1"/><stop offset="1" stop-color="#57ffa8"/></linearGradient><linearGradient id="b56" gradientUnits="userSpaceOnUse" x1="86.1" x2="318"><stop offset="0" stop-color="#c00000"/><stop offset=".042" stop-color="#c00000"/><stop offset=".056" stop-color="#ff7a00"/><stop offset=".069" stop-color="#ceff31"/><stop offset=".083" stop-color="#83ff7c"/><stop offset=".111" stop-color="#5cffa3"/><stop offset=".264" stop-color="#3fffc0"/><stop offset=".431" stop-color="#4cffb3"/><stop offset=".583" stop-color="#64ff9b"/><stop offset="1" stop-color="#57ffa8"/></linearGradient><linearGradient id="b57" gradientUnits="userSpaceOnUse" x1="86.1" x2="318"><stop offset="0" stop-color="#c00000"/><stop offset=".042" stop-color="#c00000"/><stop offset=".056" stop-color="#ff7a00"/><stop offset=".069" stop-color="#d4ff2b"/><stop offset=".097" stop-color="#74ff8b"/><stop offset=".222" stop-color="#57ffa8"/><stop offset=".778" stop-color="#5bffa4"/><stop offset="1" stop-color="#5bffa4"/></linearGradient><linearGradient id="b58" gradientUnits="userSpaceOnUse" x1="86.1" x2="318"><stop offset="0" stop-color="#c00000"/><stop offset=".042" stop-color="#c00000"/><stop offset=".056" stop-color="#ff7a00"/><stop offset=".069" stop-color="#deff21"/><stop offset=".125" stop-color="#98ff67"/><stop offset=".306" stop-color="#85ff7a"/><stop offset=".486" stop-color="#a6ff59"/><stop offset=".514" stop-color="#7bff84"/><stop offset=".653" stop-color="#5bffa4"/><stop offset="1" stop-color="#5bffa4"/></linearGradient><linearGradient id="b59" gradientUnits="userSpaceOnUse" x1="86.1" x2="318"><stop offset="0" stop-color="#c00000"/><stop offset=".042" stop-color="#c00000"/><stop offset=".056" stop-color="#ff7a00"/><stop offset=".069" stop-color="#dcff23"/><stop offset=".125" stop-color="#8aff75"/><stop offset=".25" stop-color="#76ff89"/><stop offset=".306" stop-color="#deff21"/><stop offset=".417" stop-color="#d9ff26"/><stop offset=".486" stop-color="#80ff7f"/><stop offset=".5" stop-color="#5bffa4"/><stop offset=".944" stop-color="#53ffac"/><stop offset="1" stop-color="#15ffea"/></linearGradient><linearGradient id="b60" gradientUnits="userSpaceOnUse" x1="86.1" x2="318"><stop offset="0" stop-color="#c00000"/><stop offset=".042" stop-color="#c00000"/><stop offset=".056" stop-color="#ff7a00"/><stop offset=".069" stop-color="#deff21"/><stop offset=".125" stop-color="#98ff67"/><stop offset=".347" stop-color="#84ff7b"/><stop offset=".486" stop-color="#84ff7b"/><stop offset=".5" stop-color="#64ff9b"/><stop offset=".778" stop-color="#64ff9b"/><stop offset=".792" stop-color="#c10000"/><stop offset=".806" stop-color="#ff3300"/><stop offset=".819" stop-color="#64ff9b"/><stop offset="1" stop-color="#64ff9b"/></linearGradient><linearGradient id="b61" gradientUnits="userSpaceOnUse" x1="86.1" x2="318"><stop offset="0" stop-color="#c00000"/><stop offset=".042" stop-color="#c00000"/><stop offset=".056" stop-color="#ffc500"/><stop offset=".069" stop-color="#d2ff2d"/><stop offset=".111" stop-color="#83ff7c"/><stop offset=".278" stop-color="#69ff96"/><stop offset=".833" stop-color="#60ff9f"/><stop offset="1" stop-color="#60ff9f"/></linearGradient><linearGradient id="b62" gradientUnits="userSpaceOnUse" x1="86.1" x2="318"><stop offset="0" stop-color="#c00000"/><stop offset=".042" stop-color="#c00000"/><stop offset=".056" stop-color="#ffcd00"/><stop offset=".069" stop-color="#d5ff2a"/><stop offset=".125" stop-color="#89ff76"/><stop offset=".681" stop-color="#63ff9c"/><stop offset="1" stop-color="#64ff9b"/></linearGradient><linearGradient id="b63" gradientUnits="userSpaceOnUse" x1="86.1" x2="318"><stop offset="0" stop-color="#c00000"/><stop offset=".042" stop-color="#c00000"/><stop offset=".056" stop-color="#ff9600"/><stop offset=".069" stop-color="#d8ff27"/><stop offset=".111" stop-color="#89ff76"/><stop offset=".25" stop-color="#6cff93"/><stop offset=".806" stop-color="#65ff9a"/><stop offset="1" stop-color="#65ff9a"/></linearGradient><linearGradient id="b64" gradientUnits="userSpaceOnUse" x1="86.1" x2="318"><stop offset="0" stop-color="#c00000"/><stop offset=".042" stop-color="#c00000"/><stop offset=".056" stop-color="#ffb700"/><stop offset=".069" stop-color="#d3ff2c"/><stop offset=".111" stop-color="#82ff7d"/><stop offset=".278" stop-color="#69ff96"/><stop offset=".833" stop-color="#65ff9a"/><stop offset="1" stop-color="#65ff9a"/></linearGradient><linearGradient id="b65" gradientUnits="userSpaceOnUse" x1="86.1" x2="318"><stop offset="0" stop-color="#c00000"/><stop offset=".042" stop-color="#c00000"/><stop offset=".056" stop-color="#ff5200"/><stop offset=".069" stop-color="#dfff20"/><stop offset=".111" stop-color="#8cff73"/><stop offset=".222" stop-color="#6cff93"/><stop offset=".778" stop-color="#65ff9a"/><stop offset="1" stop-color="#65ff9a"/></linearGradient><linearGradient id="b66" gradientUnits="userSpaceOnUse" x1="86.1" x2="318"><stop offset="0" stop-color="#c00000"/><stop offset=".042" stop-color="#c00000"/><stop offset=".056" stop-color="#ff9200"/><stop offset=".069" stop-color="#d7ff28"/><stop offset=".111" stop-color="#80ff7f"/><stop offset=".264" stop-color="#66ff99"/><stop offset=".819" stop-color="#68ff97"/><stop offset="1" stop-color="#68ff97"/></linearGradient><linearGradient id="b67" gradientUnits="userSpaceOnUse" x1="86.1" x2="318"><stop offset="0" stop-color="#c00000"/><stop offset=".042" stop-color="#c00000"/><stop offset=".056" stop-color="#ff4300"/><stop offset=".069" stop-color="#e1ff1e"/><stop offset=".111" stop-color="#89ff76"/><stop offset=".222" stop-color="#69ff96"/><stop offset=".778" stop-color="#68ff97"/><stop offset="1" stop-color="#68ff97"/></linearGradient><linearGradient id="b68" gradientUnits="userSpaceOnUse" x1="86.1" x2="318"><stop offset="0" stop-color="#c00000"/><stop offset=".042" stop-color="#c00000"/><stop offset=".056" stop-color="#ff7a00"/><stop offset=".069" stop-color="#daff25"/><stop offset=".111" stop-color="#86ff79"/><stop offset=".25" stop-color="#69ff96"/><stop offset=".806" stop-color="#6aff95"/><stop offset="1" stop-color="#6aff95"/></linearGradient><linearGradient id="b69" gradientUnits="userSpaceOnUse" x1="86.1" x2="318"><stop offset="0" stop-color="#c00000"/><stop offset=".042" stop-color="#c00000"/><stop offset=".056" stop-color="#ff8100"/><stop offset=".069" stop-color="#daff25"/><stop offset=".111" stop-color="#8cff73"/><stop offset=".236" stop-color="#6eff91"/><stop offset=".792" stop-color="#64ff9b"/><stop offset="1" stop-color="#64ff9b"/></linearGradient><linearGradient id="b70" gradientUnits="userSpaceOnUse" x1="86.1" x2="318"><stop offset="0" stop-color="#c00000"/><stop offset=".042" stop-color="#c00000"/><stop offset=".056" stop-color="#ffd000"/><stop offset=".069" stop-color="#d2ff2d"/><stop offset=".111" stop-color="#89ff76"/><stop offset=".264" stop-color="#6eff91"/><stop offset=".819" stop-color="#66ff99"/><stop offset="1" stop-color="#66ff99"/></linearGradient><linearGradient id="b71" gradientUnits="userSpaceOnUse" x1="86.1" x2="318"><stop offset="0" stop-color="#c00000"/><stop offset=".042" stop-color="#c00000"/><stop offset=".056" stop-color="#e20000"/><stop offset=".069" stop-color="#ffe100"/><stop offset=".083" stop-color="#d7ff28"/><stop offset=".139" stop-color="#96ff69"/><stop offset=".236" stop-color="#90ff6f"/><stop offset=".347" stop-color="#9eff61"/><stop offset=".417" stop-color="#85ff7a"/><stop offset=".5" stop-color="#20ffdf"/><stop offset=".944" stop-color="#58ffa7"/><stop offset=".986" stop-color="#91ff6e"/><stop offset="1" stop-color="#b6ff49"/></linearGradient><linearGradient id="b72" gradientUnits="userSpaceOnUse" x1="86.1" x2="318"><stop offset="0" stop-color="#c00000"/><stop offset=".042" stop-color="#c00000"/><stop offset=".056" stop-color="#ff7a00"/><stop offset=".069" stop-color="#dbff24"/><stop offset=".111" stop-color="#89ff76"/><stop offset=".208" stop-color="#70ff8f"/><stop offset=".403" stop-color="#a5ff5a"/><stop offset=".514" stop-color="#48ffb7"/><stop offset=".944" stop-color="#3cffc3"/><stop offset="1" stop-color="#0bfff4"/></linearGradient><linearGradient id="b73" gradientUnits="userSpaceOnUse" x1="86.1" x2="318"><stop offset="0" stop-color="#c00000"/><stop offset=".042" stop-color="#c00000"/><stop offset=".056" stop-color="#ff7a00"/><stop offset=".069" stop-color="#dcff23"/><stop offset=".125" stop-color="#8aff75"/><stop offset=".222" stop-color="#82ff7d"/><stop offset=".347" stop-color="#a6ff59"/><stop offset=".431" stop-color="#91ff6e"/><stop offset=".514" stop-color="#50ffaf"/><stop offset="1" stop-color="#50ffaf"/></linearGradient><linearGradient id="b74" gradientUnits="userSpaceOnUse" x1="86.1" x2="318"><stop offset="0" stop-color="#c00000"/><stop offset=".042" stop-color="#c00000"/><stop offset=".056" stop-color="#ff7a00"/><stop offset=".069" stop-color="#dcff23"/><stop offset=".125" stop-color="#8aff75"/><stop offset=".319" stop-color="#78ff87"/><stop offset=".486" stop-color="#84ff7b"/><stop offset=".5" stop-color="#57ffa8"/><stop offset="1" stop-color="#57ffa8"/></linearGradient><linearGradient id="b75" gradientUnits="userSpaceOnUse" x1="86.1" x2="318"><stop offset="0" stop-color="#c00000"/><stop offset=".042" stop-color="#c00000"/><stop offset=".056" stop-color="#ff7a00"/><stop offset=".069" stop-color="#deff21"/><stop offset=".125" stop-color="#98ff67"/><stop offset=".347" stop-color="#84ff7b"/><stop offset=".5" stop-color="#a6ff59"/><stop offset=".583" stop-color="#60ff9f"/><stop offset="1" stop-color="#57ffa8"/></linearGradient><linearGradient id="b76" gradientUnits="userSpaceOnUse" x1="86.1" x2="318"><stop offset="0" stop-color="#c00000"/><stop offset=".042" stop-color="#c00000"/><stop offset=".056" stop-color="#ff2c00"/><stop offset=".069" stop-color="#e4ff1b"/><stop offset=".125" stop-color="#81ff7e"/><stop offset=".333" stop-color="#6cff93"/><stop offset=".889" stop-color="#65ff9a"/><stop offset="1" stop-color="#65ff9a"/></linearGradient><linearGradient id="b77" gradientUnits="userSpaceOnUse" x1="86.1" x2="318"><stop offset="0" stop-color="#c00000"/><stop offset=".042" stop-color="#c00000"/><stop offset=".056" stop-color="#ffa800"/><stop offset=".069" stop-color="#d5ff2a"/><stop offset=".111" stop-color="#86ff79"/><stop offset=".264" stop-color="#6bff94"/><stop offset=".819" stop-color="#66ff99"/><stop offset="1" stop-color="#66ff99"/></linearGradient><linearGradient id="b78" gradientUnits="userSpaceOnUse" x1="86.1" x2="318"><stop offset="0" stop-color="#c00000"/><stop offset=".042" stop-color="#c00000"/><stop offset=".056" stop-color="#ff5c00"/><stop offset=".069" stop-color="#deff21"/><stop offset=".111" stop-color="#8bff74"/><stop offset=".236" stop-color="#6bff94"/><stop offset=".792" stop-color="#6dff92"/><stop offset="1" stop-color="#6dff92"/></linearGradient><linearGradient id="b79" gradientUnits="userSpaceOnUse" x1="86.1" x2="318"><stop offset="0" stop-color="#c00000"/><stop offset=".042" stop-color="#c00000"/><stop offset=".056" stop-color="#ff4f00"/><stop offset=".069" stop-color="#dfff20"/><stop offset=".111" stop-color="#89ff76"/><stop offset=".222" stop-color="#69ff96"/><stop offset=".778" stop-color="#68ff97"/><stop offset="1" stop-color="#68ff97"/></linearGradient><linearGradient id="b80" gradientUnits="userSpaceOnUse" x1="86.1" x2="318"><stop offset="0" stop-color="#c00000"/><stop offset=".042" stop-color="#c00000"/><stop offset=".056" stop-color="#ffde00"/><stop offset=".069" stop-color="#ceff31"/><stop offset=".111" stop-color="#7fff80"/><stop offset=".292" stop-color="#68ff97"/><stop offset=".847" stop-color="#63ff9c"/><stop offset="1" stop-color="#63ff9c"/></linearGradient><linearGradient id="b81" gradientUnits="userSpaceOnUse" x1="86.1" x2="318"><stop offset="0" stop-color="#c00000"/><stop offset=".042" stop-color="#c00000"/><stop offset=".056" stop-color="#ffcc00"/><stop offset=".069" stop-color="#ceff31"/><stop offset=".111" stop-color="#76ff89"/><stop offset=".389" stop-color="#62ff9d"/><stop offset=".944" stop-color="#63ff9c"/><stop offset="1" stop-color="#63ff9c"/></linearGradient><linearGradient id="b82" gradientUnits="userSpaceOnUse" x1="86.1" x2="318"><stop offset="0" stop-color="#c00000"/><stop offset=".042" stop-color="#c00000"/><stop offset=".056" stop-color="#ffda00"/><stop offset=".069" stop-color="#cdff32"/><stop offset=".111" stop-color="#77ff88"/><stop offset=".361" stop-color="#63ff9c"/><stop offset=".917" stop-color="#6cff93"/><stop offset="1" stop-color="#6cff93"/></linearGradient><linearGradient id="b83" gradientUnits="userSpaceOnUse" x1="86.1" x2="318"><stop offset="0" stop-color="#c00000"/><stop offset=".042" stop-color="#c00000"/><stop offset=".056" stop-color="#ff5a00"/><stop offset=".069" stop-color="#deff21"/><stop offset=".111" stop-color="#8cff73"/><stop offset=".236" stop-color="#6cff93"/><stop offset=".792" stop-color="#6cff93"/><stop offset="1" stop-color="#6cff93"/></linearGradient><linearGradient id="b84" gradientUnits="userSpaceOnUse" x1="86.1" x2="318"><stop offset="0" stop-color="#c00000"/><stop offset=".042" stop-color="#c00000"/><stop offset=".056" stop-color="#ff4400"/><stop offset=".069" stop-color="#e1ff1e"/><stop offset=".111" stop-color="#87ff78"/><stop offset=".222" stop-color="#68ff97"/><stop offset=".778" stop-color="#62ff9d"/><stop offset="1" stop-color="#62ff9d"/></linearGradient><linearGradient id="b85" gradientUnits="userSpaceOnUse" x1="86.1" x2="318"><stop offset="0" stop-color="#50ffaf"/><stop offset=".097" stop-color="#50ffaf"/><stop offset=".111" stop-color="#61ff9e"/><stop offset=".125" stop-color="#94ff6b"/><stop offset=".139" stop-color="#e4ff1b"/><stop offset=".153" stop-color="#ff8600"/><stop offset=".167" stop-color="#ff3c00"/><stop offset=".222" stop-color="#ff2b00"/><stop offset=".25" stop-color="#ff2b00"/><stop offset=".292" stop-color="#fff100"/><stop offset=".431" stop-color="#6cff93"/><stop offset=".542" stop-color="#48ffb7"/><stop offset="1" stop-color="#48ffb7"/></linearGradient><linearGradient id="b86" gradientUnits="userSpaceOnUse" x1="86.1" x2="318"><stop offset="0" stop-color="#3fffc0"/><stop offset=".125" stop-color="#4cffb3"/><stop offset=".139" stop-color="#62ff9d"/><stop offset=".167" stop-color="#ffff00"/><stop offset=".181" stop-color="#ffaa00"/><stop offset=".292" stop-color="#ffaa00"/><stop offset=".333" stop-color="#fbff04"/><stop offset=".458" stop-color="#61ff9e"/><stop offset=".542" stop-color="#48ffb7"/><stop offset="1" stop-color="#48ffb7"/></linearGradient><linearGradient id="b87" gradientUnits="userSpaceOnUse" x1="86.1" x2="318"><stop offset="0" stop-color="#3fffc0"/><stop offset=".083" stop-color="#48ffb7"/><stop offset=".153" stop-color="#eaff15"/><stop offset=".208" stop-color="#fffa00"/><stop offset=".222" stop-color="#ffd500"/><stop offset=".306" stop-color="#ffe000"/><stop offset=".319" stop-color="#fffe00"/><stop offset=".417" stop-color="#e6ff19"/><stop offset=".486" stop-color="#a1ff5e"/><stop offset=".5" stop-color="#75ff8a"/><stop offset=".736" stop-color="#15ffea"/><stop offset=".833" stop-color="#00f1ff"/><stop offset=".931" stop-color="#00aaff"/><stop offset="1" stop-color="#00aaff"/></linearGradient><linearGradient id="b88" gradientUnits="userSpaceOnUse" x1="86.1" x2="318"><stop offset="0" stop-color="#3fffc0"/><stop offset=".083" stop-color="#48ffb7"/><stop offset=".111" stop-color="#78ff87"/><stop offset=".153" stop-color="#ecff13"/><stop offset=".194" stop-color="#ffde00"/><stop offset=".222" stop-color="#ffaa00"/><stop offset=".306" stop-color="#ffb900"/><stop offset=".333" stop-color="#fdff02"/><stop offset=".417" stop-color="#c5ff3a"/><stop offset=".486" stop-color="#c5ff3a"/><stop offset=".5" stop-color="#94ff6b"/><stop offset=".722" stop-color="#15ffea"/><stop offset="1" stop-color="#15ffea"/></linearGradient><linearGradient id="b89" gradientUnits="userSpaceOnUse" x1="86.1" x2="318"><stop offset="0" stop-color="#3fffc0"/><stop offset=".097" stop-color="#3fffc0"/><stop offset=".125" stop-color="#71ff8e"/><stop offset=".153" stop-color="#f2ff0d"/><stop offset=".167" stop-color="#ffbf00"/><stop offset=".194" stop-color="#ffaa00"/><stop offset=".278" stop-color="#ffb500"/><stop offset=".333" stop-color="#faff05"/><stop offset=".486" stop-color="#8bff74"/><stop offset=".5" stop-color="#64ff9b"/><stop offset=".611" stop-color="#15ffea"/><stop offset="1" stop-color="#15ffea"/></linearGradient><linearGradient id="b90" gradientUnits="userSpaceOnUse" x1="86.1" x2="318"><stop offset="0" stop-color="#20ffdf"/><stop offset=".097" stop-color="#20ffdf"/><stop offset=".181" stop-color="#99ff66"/><stop offset=".236" stop-color="#fcff03"/><stop offset=".278" stop-color="#ffa800"/><stop offset=".375" stop-color="#ff9600"/><stop offset=".403" stop-color="#f1ff0e"/><stop offset=".444" stop-color="#b1ff4e"/><stop offset=".472" stop-color="#5fffa0"/><stop offset=".486" stop-color="#48ffb7"/><stop offset=".5" stop-color="#0bfff4"/><stop offset=".611" stop-color="#00f3ff"/><stop offset=".708" stop-color="#19ffe6"/><stop offset=".764" stop-color="#5effa1"/><stop offset=".819" stop-color="#84ff7b"/><stop offset=".903" stop-color="#7fff80"/><stop offset=".972" stop-color="#30ffcf"/><stop offset="1" stop-color="#00eaff"/></linearGradient><linearGradient id="b91" gradientUnits="userSpaceOnUse" x1="86.1" x2="318"><stop offset="0" stop-color="#2affd5"/><stop offset=".097" stop-color="#2affd5"/><stop offset=".181" stop-color="#8fff70"/><stop offset=".236" stop-color="#fcff03"/><stop offset=".306" stop-color="#ff5500"/><stop offset=".375" stop-color="#ff5500"/><stop offset=".403" stop-color="#ffa600"/><stop offset=".417" stop-color="#ffff00"/><stop offset=".5" stop-color="#48ffb7"/><stop offset=".653" stop-color="#20ffdf"/><stop offset="1" stop-color="#20ffdf"/></linearGradient><linearGradient id="b92" gradientUnits="userSpaceOnUse" x1="86.1" x2="318"><stop offset="0" stop-color="#48ffb7"/><stop offset=".111" stop-color="#58ffa7"/><stop offset=".208" stop-color="#f8ff07"/><stop offset=".236" stop-color="#ffbc00"/><stop offset=".333" stop-color="#ff9500"/><stop offset=".361" stop-color="#ff9500"/><stop offset=".375" stop-color="#ffaa00"/><stop offset=".389" stop-color="#ffe500"/><stop offset=".417" stop-color="#e2ff1d"/><stop offset=".486" stop-color="#6eff91"/><stop offset=".5" stop-color="#3fffc0"/><stop offset=".681" stop-color="#20ffdf"/><stop offset="1" stop-color="#20ffdf"/></linearGradient><linearGradient id="b93" gradientUnits="userSpaceOnUse" x1="86.1" x2="318"><stop offset="0" stop-color="#48ffb7"/><stop offset=".111" stop-color="#54ffab"/><stop offset=".167" stop-color="#8fff70"/><stop offset=".236" stop-color="#f0ff0f"/><stop offset=".25" stop-color="#ffea00"/><stop offset=".292" stop-color="#ff4800"/><stop offset=".306" stop-color="#ff2b00"/><stop offset=".361" stop-color="#ff2b00"/><stop offset=".375" stop-color="#ff4500"/><stop offset=".403" stop-color="#ffe600"/><stop offset=".431" stop-color="#c4ff3b"/><stop offset=".458" stop-color="#69ff96"/><stop offset=".486" stop-color="#43ffbc"/><stop offset=".5" stop-color="#15ffea"/><stop offset=".708" stop-color="#1bffe4"/><stop offset=".875" stop-color="#84ff7b"/><stop offset=".917" stop-color="#a6ff59"/><stop offset="1" stop-color="#a6ff59"/></linearGradient><linearGradient id="b94" gradientUnits="userSpaceOnUse" x1="86.1" x2="318"><stop offset="0" stop-color="#006aff"/><stop offset=".014" stop-color="#006aff"/><stop offset=".056" stop-color="#01fffe"/><stop offset=".194" stop-color="#d8ff27"/><stop offset=".333" stop-color="#ceff31"/><stop offset=".417" stop-color="#89ff76"/><stop offset=".486" stop-color="#2effd1"/><stop offset=".5" stop-color="#0bfff4"/><stop offset=".556" stop-color="#03fffc"/><stop offset=".583" stop-color="#00bfff"/><stop offset=".681" stop-color="#00c0ff"/><stop offset=".708" stop-color="#00fbff"/><stop offset=".903" stop-color="#e9ff16"/><stop offset="1" stop-color="#e9ff16"/></linearGradient><linearGradient id="b95" gradientUnits="userSpaceOnUse" x1="86.1" x2="318"><stop offset="0" stop-color="#ffff00"/><stop offset=".069" stop-color="#c5ff3a"/><stop offset=".597" stop-color="#b6ff49"/><stop offset=".75" stop-color="#44ffbb"/><stop offset=".806" stop-color="#00f3ff"/><stop offset=".931" stop-color="#0000ff"/><stop offset="1" stop-color="#0000ff"/></linearGradient><linearGradient id="b96" gradientUnits="userSpaceOnUse" x1="86.1" x2="318"><stop offset="0" stop-color="#b6ff49"/><stop offset=".403" stop-color="#baff45"/><stop offset=".458" stop-color="#fff400"/><stop offset=".472" stop-color="#ffaa00"/><stop offset=".514" stop-color="#ffaa00"/><stop offset=".542" stop-color="#e8ff17"/><stop offset=".778" stop-color="#31ffce"/><stop offset=".819" stop-color="#00f2ff"/><stop offset=".861" stop-color="#007aff"/><stop offset=".889" stop-color="#0000f6"/><stop offset=".903" stop-color="#0000ca"/><stop offset="1" stop-color="#0000a8"/></linearGradient><linearGradient id="b97" gradientUnits="userSpaceOnUse" x1="86.1" x2="318"><stop offset="0" stop-color="#15ffea"/><stop offset=".042" stop-color="#1affe5"/><stop offset=".083" stop-color="#65ff9a"/><stop offset=".167" stop-color="#b6ff49"/><stop offset=".403" stop-color="#baff45"/><stop offset=".458" stop-color="#e9ff16"/><stop offset=".583" stop-color="#e6ff19"/><stop offset=".75" stop-color="#75ff8a"/><stop offset=".847" stop-color="#10ffef"/><stop offset="1" stop-color="#00ffff"/></linearGradient><linearGradient id="b98" gradientUnits="userSpaceOnUse" x1="86.1" x2="318"><stop offset="0" stop-color="#b6ff49"/><stop offset=".444" stop-color="#b6ff49"/><stop offset=".486" stop-color="#fffd00"/><stop offset=".5" stop-color="#ffd500"/><stop offset=".556" stop-color="#f4ff0b"/><stop offset=".694" stop-color="#c8ff37"/><stop offset=".847" stop-color="#19ffe6"/><stop offset=".861" stop-color="#02fffd"/><stop offset=".931" stop-color="#0000fd"/><stop offset=".958" stop-color="#0000d1"/><stop offset="1" stop-color="#0000b9"/></linearGradient><linearGradient id="b99" gradientUnits="userSpaceOnUse" x1="86.1" x2="318"><stop offset="0" stop-color="#c5ff3a"/><stop offset=".472" stop-color="#d2ff2d"/><stop offset=".528" stop-color="#e9ff16"/><stop offset=".681" stop-color="#cdff32"/><stop offset=".819" stop-color="#49ffb6"/><stop offset=".847" stop-color="#06fff9"/><stop offset=".917" stop-color="#000bff"/><stop offset="1" stop-color="#0000ee"/></linearGradient><linearGradient id="b100" gradientUnits="userSpaceOnUse" x1="86.1" x2="318"><stop offset="0" stop-color="#b6ff49"/><stop offset=".403" stop-color="#baff45"/><stop offset=".5" stop-color="#ffff00"/><stop offset=".639" stop-color="#d8ff27"/><stop offset=".833" stop-color="#1fffe0"/><stop offset=".861" stop-color="#00f1ff"/><stop offset=".931" stop-color="#0040ff"/><stop offset="1" stop-color="#002aff"/></linearGradient><linearGradient id="b101" gradientUnits="userSpaceOnUse" x1="86.1" x2="318"><stop offset="0" stop-color="#ff5500"/><stop offset=".028" stop-color="#ff5500"/><stop offset=".056" stop-color="#ff9500"/><stop offset=".097" stop-color="#ff9500"/><stop offset=".153" stop-color="#f4ff0b"/><stop offset=".236" stop-color="#87ff78"/><stop offset=".389" stop-color="#53ffac"/><stop offset=".639" stop-color="#6dff92"/><stop offset=".764" stop-color="#41ffbe"/><stop offset=".847" stop-color="#16ffe9"/><stop offset="1" stop-color="#0bfff4"/></linearGradient><linearGradient id="b102" gradientUnits="userSpaceOnUse" x1="86.1" x2="318"><stop offset="0" stop-color="#c00000"/><stop offset=".028" stop-color="#c00000"/><stop offset=".042" stop-color="#ff0c00"/><stop offset=".069" stop-color="#ffd100"/><stop offset=".083" stop-color="#f1ff0e"/><stop offset=".139" stop-color="#c5ff3a"/><stop offset=".319" stop-color="#baff45"/><stop offset=".403" stop-color="#85ff7a"/><stop offset=".528" stop-color="#b6ff49"/><stop offset=".625" stop-color="#a6ff59"/><stop offset=".875" stop-color="#00faff"/><stop offset=".958" stop-color="#007fff"/><stop offset="1" stop-color="#007fff"/></linearGradient><linearGradient id="b103" gradientUnits="userSpaceOnUse" x1="86.1" x2="318"><stop offset="0" stop-color="#f50000"/><stop offset=".014" stop-color="#f50000"/><stop offset=".028" stop-color="#ff6900"/><stop offset=".056" stop-color="#ffe400"/><stop offset=".083" stop-color="#e7ff18"/><stop offset=".167" stop-color="#b6ff49"/><stop offset=".417" stop-color="#c4ff3b"/><stop offset=".472" stop-color="#f9ff06"/><stop offset=".486" stop-color="#ff4900"/><stop offset=".5" stop-color="#ff0000"/><stop offset=".514" stop-color="#ff3a00"/><stop offset=".528" stop-color="#ffbb00"/><stop offset=".542" stop-color="#feff01"/><stop offset=".625" stop-color="#90ff6f"/><stop offset=".875" stop-color="#00ffff"/><stop offset=".944" stop-color="#00eaff"/><stop offset="1" stop-color="#00eaff"/></linearGradient><linearGradient id="b104" gradientUnits="userSpaceOnUse" x1="86.1" x2="318"><stop offset="0" stop-color="#c5ff3a"/><stop offset=".111" stop-color="#bdff42"/><stop offset=".25" stop-color="#5fffa0"/><stop offset=".417" stop-color="#5bffa4"/><stop offset=".458" stop-color="#8aff75"/><stop offset=".5" stop-color="#ffff00"/><stop offset=".694" stop-color="#ecff13"/><stop offset=".764" stop-color="#c2ff3d"/><stop offset=".861" stop-color="#2cffd3"/><stop offset=".875" stop-color="#05fffa"/><stop offset=".917" stop-color="#000cff"/><stop offset=".931" stop-color="#0000ca"/><stop offset="1" stop-color="#000096"/></linearGradient><linearGradient id="b105" gradientUnits="userSpaceOnUse" x1="86.1" x2="318"><stop offset="0" stop-color="#b6ff49"/><stop offset=".111" stop-color="#abff54"/><stop offset=".208" stop-color="#62ff9d"/><stop offset=".389" stop-color="#48ffb7"/><stop offset=".444" stop-color="#6dff92"/><stop offset=".5" stop-color="#f4ff0b"/><stop offset=".681" stop-color="#e7ff18"/><stop offset=".764" stop-color="#b0ff4f"/><stop offset=".861" stop-color="#13ffec"/><stop offset=".875" stop-color="#00eaff"/><stop offset=".917" stop-color="#0021ff"/><stop offset=".931" stop-color="#0000dc"/><stop offset="1" stop-color="#0000a8"/></linearGradient><linearGradient id="b106" gradientUnits="userSpaceOnUse" x1="86.1" x2="318"><stop offset="0" stop-color="#c00000"/><stop offset=".028" stop-color="#c80000"/><stop offset=".042" stop-color="#f30000"/><stop offset=".069" stop-color="#ffd100"/><stop offset=".083" stop-color="#f0ff0f"/><stop offset=".194" stop-color="#6eff91"/><stop offset=".361" stop-color="#48ffb7"/><stop offset=".458" stop-color="#6aff95"/><stop offset=".5" stop-color="#b6ff49"/><stop offset=".639" stop-color="#a3ff5c"/><stop offset=".875" stop-color="#2affd5"/><stop offset=".931" stop-color="#00f6ff"/><stop offset=".944" stop-color="#00deff"/><stop offset="1" stop-color="#15ffea"/></linearGradient><linearGradient id="b107" gradientUnits="userSpaceOnUse" x1="86.1" x2="318"><stop offset="0" stop-color="#ff8000"/><stop offset=".028" stop-color="#ff9600"/><stop offset=".069" stop-color="#fffe00"/><stop offset=".153" stop-color="#d6ff29"/><stop offset=".292" stop-color="#66ff99"/><stop offset=".444" stop-color="#5cffa3"/><stop offset=".486" stop-color="#6bff94"/><stop offset=".5" stop-color="#a6ff59"/><stop offset=".556" stop-color="#adff52"/><stop offset=".611" stop-color="#deff21"/><stop offset=".722" stop-color="#d1ff2e"/><stop offset=".778" stop-color="#a8ff57"/><stop offset=".819" stop-color="#5dffa2"/><stop offset=".875" stop-color="#0bfff4"/><stop offset=".903" stop-color="#009eff"/><stop offset=".944" stop-color="#0000ef"/><stop offset="1" stop-color="#0000a8"/></linearGradient></defs>
<rect x="86.1" y="1496" width="231.9" height="5" fill="url(#t0)"/>
<rect x="86.1" y="1501" width="231.9" height="5" fill="url(#t1)"/>
<rect x="86.1" y="1506" width="231.9" height="5" fill="url(#t2)"/>
<rect x="86.1" y="1511" width="231.9" height="5" fill="url(#t3)"/>
<rect x="86.1" y="1516" width="231.9" height="5" fill="url(#t4)"/>
<rect x="86.1" y="1521" width="231.9" height="5" fill="url(#t5)"/>
<rect x="86.1" y="1526" width="231.9" height="5" fill="url(#t6)"/>
<rect x="86.1" y="1531" width="231.9" height="5" fill="url(#t7)"/>
<rect x="86.1" y="1536" width="231.9" height="5" fill="url(#t8)"/>
<rect x="86.1" y="1541" width="231.9" height="6" fill="url(#t9)"/>
<rect x="86.1" y="1547" width="231.9" height="5" fill="url(#t10)"/>
<rect x="86.1" y="1552" width="231.9" height="5" fill="url(#t11)"/>
<rect x="86.1" y="1557" width="231.9" height="5" fill="url(#t12)"/>
<rect x="86.1" y="1562" width="231.9" height="5" fill="url(#t13)"/>
<rect x="86.1" y="1567" width="231.9" height="5" fill="url(#t14)"/>
<rect x="86.1" y="1572" width="231.9" height="5" fill="url(#t15)"/>
<rect x="86.1" y="1577" width="231.9" height="5" fill="url(#t16)"/>
<rect x="86.1" y="1582" width="231.9" height="5" fill="url(#t17)"/>
<rect x="86.1" y="1587" width="231.9" height="5" fill="url(#t18)"/>
<rect x="86.1" y="1592" width="231.9" height="5" fill="url(#t19)"/>
<rect x="86.1" y="1597" width="231.9" height="5" fill="url(#t20)"/>
<rect x="86.1" y="1602" width="231.9" height="6" fill="url(#t21)"/>
<rect x="86.1" y="1608" width="231.9" height="5" fill="url(#t22)"/>
<rect x="86.1" y="1613" width="231.9" height="5" fill="url(#t23)"/>
<rect x="86.1" y="1618" width="231.9" height="5" fill="url(#t24)"/>
<rect x="86.1" y="1623" width="231.9" height="5" fill="url(#t25)"/>
<rect x="86.1" y="1628" width="231.9" height="5" fill="url(#t26)"/>
<rect x="86.1" y="1633" width="231.9" height="5" fill="url(#t27)"/>
<rect x="86.1" y="1638" width="231.9" height="5" fill="url(#t28)"/>
<rect x="86.1" y="1643" width="231.9" height="5" fill="url(#t29)"/>
<rect x="86.1" y="1648" width="231.9" height="5" fill="url(#t30)"/>
<rect x="86.1" y="1653" width="231.9" height="5" fill="url(#t31)"/>
<rect x="86.1" y="1658" width="231.9" height="5" fill="url(#t32)"/>
<rect x="86.1" y="1663" width="231.9" height="5" fill="url(#t33)"/>
<rect x="86.1" y="1668" width="231.9" height="6" fill="url(#t34)"/>
<rect x="86.1" y="1674" width="231.9" height="5" fill="url(#t35)"/>
<rect x="86.1" y="1679" width="231.9" height="5" fill="url(#t36)"/>
<rect x="86.1" y="1684" width="231.9" height="5" fill="url(#t37)"/>
<rect x="86.1" y="1689" width="231.9" height="5" fill="url(#t38)"/>
<rect x="86.1" y="1694" width="231.9" height="5" fill="url(#t39)"/>
<rect x="86.1" y="1699" width="231.9" height="5" fill="url(#t40)"/>
<rect x="86.1" y="1704" width="231.9" height="5" fill="url(#t41)"/>
<rect x="86.1" y="1709" width="231.9" height="5" fill="url(#t42)"/>
<rect x="86.1" y="1714" width="231.9" height="5" fill="url(#t43)"/>
<rect x="86.1" y="1719" width="231.9" height="5" fill="url(#t44)"/>
<rect x="86.1" y="1724" width="231.9" height="5" fill="url(#t45)"/>
<rect x="86.1" y="1729" width="231.9" height="5" fill="url(#t46)"/>
<rect x="86.1" y="1734" width="231.9" height="6" fill="url(#t47)"/>
<rect x="86.1" y="1740" width="231.9" height="5" fill="url(#t48)"/>
<rect x="86.1" y="1745" width="231.9" height="5" fill="url(#t49)"/>
<rect x="86.1" y="1750" width="231.9" height="5" fill="url(#t50)"/>
<rect x="86.1" y="1755" width="231.9" height="5" fill="url(#t51)"/>
<rect x="86.1" y="1760" width="231.9" height="5" fill="url(#t52)"/>
<rect x="86.1" y="1765" width="231.9" height="5" fill="url(#t53)"/>
<rect x="86.1" y="1770" width="231.9" height="5" fill="url(#t54)"/>
<rect x="86.1" y="1775" width="231.9" height="5" fill="url(#t55)"/>
<rect x="86.1" y="1780" width="231.9" height="5" fill="url(#t56)"/>
<rect x="86.1" y="1785" width="231.9" height="5" fill="url(#t57)"/>
<rect x="86.1" y="1790" width="231.9" height="5" fill="url(#t58)"/>
<rect x="86.1" y="1795" width="231.9" height="5" fill="url(#t59)"/>
<rect x="86.1" y="1800" width="231.9" height="6" fill="url(#t60)"/>
<rect x="86.1" y="1806" width="231.9" height="5" fill="url(#t61)"/>
<rect x="86.1" y="1811" width="231.9" height="5" fill="url(#t62)"/>
<rect x="86.1" y="1816" width="231.9" height="5" fill="url(#t63)"/>
<rect x="86.1" y="1821" width="231.9" height="5" fill="url(#t64)"/>
<rect x="86.1" y="1826" width="231.9" height="5" fill="url(#t65)"/>
<rect x="86.1" y="1831" width="231.9" height="5" fill="url(#t66)"/>
<rect x="86.1" y="1836" width="231.9" height="5" fill="url(#t67)"/>
<rect x="86.1" y="1841" width="231.9" height="5" fill="url(#t68)"/>
<rect x="86.1" y="1846" width="231.9" height="5" fill="url(#t69)"/>
<rect x="86.1" y="1851" width="231.9" height="5" fill="url(#t70)"/>
<rect x="86.1" y="1856" width="231.9" height="5" fill="url(#t71)"/>
<rect x="86.1" y="1861" width="231.9" height="5" fill="url(#t72)"/>
<rect x="86.1" y="1866" width="231.9" height="6" fill="url(#t73)"/>
<rect x="86.1" y="1872" width="231.9" height="5" fill="url(#t74)"/>
<rect x="86.1" y="1877" width="231.9" height="5" fill="url(#t75)"/>
<rect x="86.1" y="1882" width="231.9" height="5" fill="url(#t76)"/>
<rect x="86.1" y="1887" width="231.9" height="5" fill="url(#t77)"/>
<rect x="86.1" y="1892" width="231.9" height="5" fill="url(#t78)"/>
<rect x="86.1" y="1897" width="231.9" height="5" fill="url(#t79)"/>
<rect x="86.1" y="1902" width="231.9" height="5" fill="url(#t80)"/>
<rect x="86.1" y="1907" width="231.9" height="5" fill="url(#t81)"/>
<rect x="86.1" y="1912" width="231.9" height="5" fill="url(#t82)"/>
<rect x="86.1" y="1917" width="231.9" height="5" fill="url(#t83)"/>
<rect x="86.1" y="1922" width="231.9" height="5" fill="url(#t84)"/>
<rect x="86.1" y="1927" width="231.9" height="5" fill="url(#t85)"/>
<rect x="86.1" y="1932" width="231.9" height="6" fill="url(#t86)"/>
<rect x="86.1" y="1938" width="231.9" height="5" fill="url(#t87)"/>
<rect x="86.1" y="1943" width="231.9" height="5" fill="url(#t88)"/>
<rect x="86.1" y="1948" width="231.9" height="5" fill="url(#t89)"/>
<rect x="86.1" y="1953" width="231.9" height="5" fill="url(#t90)"/>
<rect x="86.1" y="1958" width="231.9" height="5" fill="url(#t91)"/>
<rect x="86.1" y="1963" width="231.9" height="5" fill="url(#t92)"/>
<rect x="86.1" y="1968" width="231.9" height="5" fill="url(#t93)"/>
<rect x="86.1" y="1976" width="231.9" height="5" fill="url(#b0)"/>
<rect x="86.1" y="1981" width="231.9" height="5" fill="url(#b1)"/>
<rect x="86.1" y="1986" width="231.9" height="5" fill="url(#b2)"/>
<rect x="86.1" y="1991" width="231.9" height="5" fill="url(#b3)"/>
<rect x="86.1" y="1996" width="231.9" height="5" fill="url(#b4)"/>
<rect x="86.1" y="2001" width="231.9" height="5" fill="url(#b5)"/>
<rect x="86.1" y="2006" width="231.9" height="5" fill="url(#b6)"/>
<rect x="86.1" y="2011" width="231.9" height="6" fill="url(#b7)"/>
<rect x="86.1" y="2017" width="231.9" height="5" fill="url(#b8)"/>
<rect x="86.1" y="2022" width="231.9" height="5" fill="url(#b9)"/>
<rect x="86.1" y="2027" width="231.9" height="5" fill="url(#b10)"/>
<rect x="86.1" y="2032" width="231.9" height="5" fill="url(#b11)"/>
<rect x="86.1" y="2037" width="231.9" height="5" fill="url(#b12)"/>
<rect x="86.1" y="2042" width="231.9" height="5" fill="url(#b13)"/>
<rect x="86.1" y="2047" width="231.9" height="5" fill="url(#b14)"/>
<rect x="86.1" y="2052" width="231.9" height="5" fill="url(#b15)"/>
<rect x="86.1" y="2057" width="231.9" height="5" fill="url(#b16)"/>
<rect x="86.1" y="2062" width="231.9" height="5" fill="url(#b17)"/>
<rect x="86.1" y="2067" width="231.9" height="5" fill="url(#b18)"/>
<rect x="86.1" y="2072" width="231.9" height="5" fill="url(#b19)"/>
<rect x="86.1" y="2077" width="231.9" height="6" fill="url(#b20)"/>
<rect x="86.1" y="2083" width="231.9" height="5" fill="url(#b21)"/>
<rect x="86.1" y="2088" width="231.9" height="5" fill="url(#b22)"/>
<rect x="86.1" y="2093" width="231.9" height="5" fill="url(#b23)"/>
<rect x="86.1" y="2098" width="231.9" height="5" fill="url(#b24)"/>
<rect x="86.1" y="2103" width="231.9" height="5" fill="url(#b25)"/>
<rect x="86.1" y="2108" width="231.9" height="5" fill="url(#b26)"/>
<rect x="86.1" y="2113" width="231.9" height="5" fill="url(#b27)"/>
<rect x="86.1" y="2118" width="231.9" height="5" fill="url(#b28)"/>
<rect x="86.1" y="2123" width="231.9" height="5" fill="url(#b29)"/>
<rect x="86.1" y="2128" width="231.9" height="5" fill="url(#b30)"/>
<rect x="86.1" y="2133" width="231.9" height="5" fill="url(#b31)"/>
<rect x="86.1" y="2138" width="231.9" height="5" fill="url(#b32)"/>
<rect x="86.1" y="2143" width="231.9" height="6" fill="url(#b33)"/>
<rect x="86.1" y="2149" width="231.9" height="5" fill="url(#b34)"/>
<rect x="86.1" y="2154" width="231.9" height="5" fill="url(#b35)"/>
<rect x="86.1" y="2159" width="231.9" height="5" fill="url(#b36)"/>
<rect x="86.1" y="2164" width="231.9" height="5" fill="url(#b37)"/>
<rect x="86.1" y="2169" width="231.9" height="5" fill="url(#b38)"/>
<rect x="86.1" y="2174" width="231.9" height="5" fill="url(#b39)"/>
<rect x="86.1" y="2179" width="231.9" height="5" fill="url(#b40)"/>
<rect x="86.1" y="2184" width="231.9" height="5" fill="url(#b41)"/>
<rect x="86.1" y="2189" width="231.9" height="5" fill="url(#b42)"/>
<rect x="86.1" y="2194" width="231.9" height="5" fill="url(#b43)"/>
<rect x="86.1" y="2199" width="231.9" height="5" fill="url(#b44)"/>
<rect x="86.1" y="2204" width="231.9" height="5" fill="url(#b45)"/>
<rect x="86.1" y="2209" width="231.9" height="6" fill="url(#b46)"/>
<rect x="86.1" y="2215" width="231.9" height="5" fill="url(#b47)"/>
<rect x="86.1" y="2220" width="231.9" height="5" fill="url(#b48)"/>
<rect x="86.1" y="2225" width="231.9" height="5" fill="url(#b49)"/>
<rect x="86.1" y="2230" width="231.9" height="5" fill="url(#b50)"/>
<rect x="86.1" y="2235" width="231.9" height="5" fill="url(#b51)"/>
<rect x="86.1" y="2240" width="231.9" height="5" fill="url(#b52)"/>
<rect x="86.1" y="2245" width="231.9" height="5" fill="url(#b53)"/>
<rect x="86.1" y="2250" width="231.9" height="5" fill="url(#b54)"/>
<rect x="86.1" y="2255" width="231.9" height="5" fill="url(#b55)"/>
<rect x="86.1" y="2260" width="231.9" height="5" fill="url(#b56)"/>
<rect x="86.1" y="2265" width="231.9" height="5" fill="url(#b57)"/>
<rect x="86.1" y="2270" width="231.9" height="5" fill="url(#b58)"/>
<rect x="86.1" y="2275" width="231.9" height="6" fill="url(#b59)"/>
<rect x="86.1" y="2281" width="231.9" height="5" fill="url(#b60)"/>
<rect x="86.1" y="2286" width="231.9" height="5" fill="url(#b61)"/>
<rect x="86.1" y="2291" width="231.9" height="5" fill="url(#b62)"/>
<rect x="86.1" y="2296" width="231.9" height="5" fill="url(#b63)"/>
<rect x="86.1" y="2301" width="231.9" height="5" fill="url(#b64)"/>
<rect x="86.1" y="2306" width="231.9" height="5" fill="url(#b65)"/>
<rect x="86.1" y="2311" width="231.9" height="5" fill="url(#b66)"/>
<rect x="86.1" y="2316" width="231.9" height="5" fill="url(#b67)"/>
<rect x="86.1" y="2321" width="231.9" height="5" fill="url(#b68)"/>
<rect x="86.1" y="2326" width="231.9" height="5" fill="url(#b69)"/>
<rect x="86.1" y="2331" width="231.9" height="5" fill="url(#b70)"/>
<rect x="86.1" y="2336" width="231.9" height="5" fill="url(#b71)"/>
<rect x="86.1" y="2341" width="231.9" height="6" fill="url(#b72)"/>
<rect x="86.1" y="2347" width="231.9" height="5" fill="url(#b73)"/>
<rect x="86.1" y="2352" width="231.9" height="5" fill="url(#b74)"/>
<rect x="86.1" y="2357" width="231.9" height="5" fill="url(#b75)"/>
<rect x="86.1" y="2362" width="231.9" height="5" fill="url(#b76)"/>
<rect x="86.1" y="2367" width="231.9" height="5" fill="url(#b77)"/>
<rect x="86.1" y="2372" width="231.9" height="5" fill="url(#b78)"/>
<rect x="86.1" y="2377" width="231.9" height="5" fill="url(#b79)"/>
<rect x="86.1" y="2382" width="231.9" height="5" fill="url(#b80)"/>
<rect x="86.1" y="2387" width="231.9" height="5" fill="url(#b81)"/>
<rect x="86.1" y="2392" width="231.9" height="5" fill="url(#b82)"/>
<rect x="86.1" y="2397" width="231.9" height="5" fill="url(#b83)"/>
<rect x="86.1" y="2402" width="231.9" height="5" fill="url(#b84)"/>
<rect x="86.1" y="2407" width="231.9" height="6" fill="url(#b85)"/>
<rect x="86.1" y="2413" width="231.9" height="5" fill="url(#b86)"/>
<rect x="86.1" y="2418" width="231.9" height="5" fill="url(#b87)"/>
<rect x="86.1" y="2423" width="231.9" height="5" fill="url(#b88)"/>
<rect x="86.1" y="2428" width="231.9" height="5" fill="url(#b89)"/>
<rect x="86.1" y="2433" width="231.9" height="5" fill="url(#b90)"/>
<rect x="86.1" y="2438" width="231.9" height="5" fill="url(#b91)"/>
<rect x="86.1" y="2443" width="231.9" height="5" fill="url(#b92)"/>
<rect x="86.1" y="2448" width="231.9" height="5" fill="url(#b93)"/>
<rect x="86.1" y="2453" width="231.9" height="5" fill="url(#b94)"/>
<rect x="86.1" y="2458" width="231.9" height="5" fill="url(#b95)"/>
<rect x="86.1" y="2463" width="231.9" height="5" fill="url(#b96)"/>
<rect x="86.1" y="2468" width="231.9" height="5" fill="url(#b97)"/>
<rect x="86.1" y="2473" width="231.9" height="6" fill="url(#b98)"/>
<rect x="86.1" y="2479" width="231.9" height="5" fill="url(#b99)"/>
<rect x="86.1" y="2484" width="231.9" height="5" fill="url(#b100)"/>
<rect x="86.1" y="2489" width="231.9" height="5" fill="url(#b101)"/>
<rect x="86.1" y="2494" width="231.9" height="5" fill="url(#b102)"/>
<rect x="86.1" y="2499" width="231.9" height="5" fill="url(#b103)"/>
<rect x="86.1" y="2504" width="231.9" height="5" fill="url(#b104)"/>
<rect x="86.1" y="2509" width="231.9" height="5" fill="url(#b105)"/>
<rect x="86.1" y="2514" width="231.9" height="5" fill="url(#b106)"/>
<rect x="86.1" y="2519" width="231.9" height="5" fill="url(#b107)"/>
<rect x="85.6" y="1973.1" width="232.9" height="2.8" fill="#fff"/>
<rect x="201.7" y="1488" width="2.5" height="1037" fill="#fff"/>
<rect x="86.1" y="1489.1" width="115.6" height="4.9" fill="#999"/>
<rect x="204.2" y="1489.1" width="113.8" height="4.9" fill="#999"/>
<rect x="86.1" y="1489.1" width="4.6" height="4.9" fill="#f0525f"/>
<rect x="313.2" y="1489.1" width="4.8" height="4.9" fill="#7b8ec8"/>
<rect x="79.6" y="1495.8" width="4.5" height="477.3" fill="#ff86f4"/>
<rect x="79.6" y="1975.9" width="4.5" height="548.3" fill="#ff8e85"/>
<linearGradient id="jg" x1="0" y1="1" x2="0" y2="0"><stop offset="0%" stop-color="#000096"/><stop offset="10%" stop-color="#0000ff"/><stop offset="30%" stop-color="#00ffff"/><stop offset="70%" stop-color="#ffff00"/><stop offset="90%" stop-color="#ff0000"/><stop offset="100%" stop-color="#c00000"/></linearGradient>
<rect x="379.1" y="1492" width="25.9" height="390.2" fill="url(#jg)"/>
<text x="416.5" y="1503.7" font-size="14.6">3</text>
<text x="416.5" y="1566.7" font-size="14.6">2</text>
<text x="416.5" y="1629.8" font-size="14.6">1</text>
<text x="416.5" y="1692.2" font-size="14.6">0</text>
<text x="416.5" y="1755.6" font-size="14.6">−1</text>
<text x="416.5" y="1818.3" font-size="14.6">−2</text>
<text x="416.5" y="1881" font-size="14.6">−3</text>
<text x="434.7" y="1503.2" font-size="15.5" font-weight="bold">Cell Type</text>
<rect x="434.5" y="1509.1" width="22.3" height="22.4" fill="#999999"/>
<text x="462.5" y="1525.4" font-size="15.2">Pre−branch</text>
<rect x="434.5" y="1531.4" width="22.3" height="22.4" fill="#ef5460"/>
<text x="462.5" y="1548" font-size="15.2">Cell fate 1</text>
<rect x="434.5" y="1553.7" width="22.3" height="22.4" fill="#7a8dc8"/>
<text x="462.5" y="1570.5" font-size="15.2">Cell fate 2</text>
<text x="434.7" y="1603.8" font-size="15.5" font-weight="bold">Cluster</text>
<rect x="434.5" y="1609.8" width="22.3" height="22.4" fill="#ff8e85"/>
<text x="462.5" y="1626.4" font-size="15.2">1</text>
<rect x="434.5" y="1632.1" width="22.3" height="22.4" fill="#ff88f8"/>
<text x="462.5" y="1648.7" font-size="15.2">2</text>
<text x="382" y="1916" font-size="22" font-style="italic">Myh11</text>
<path d="M318.6 1928.7H347.6V1907H374.8" stroke="#333" stroke-width=".9" fill="none"/>
<text x="382" y="1945" font-size="22" font-style="italic">Mylk</text>
<path d="M318.6 1948.7H347.6V1936H374.8" stroke="#333" stroke-width=".9" fill="none"/>
<text x="382" y="1970.4" font-size="22" font-style="italic">Acta2</text>
<path d="M318.6 1959.5H374.8" stroke="#333" stroke-width=".9" fill="none"/>
<text x="382" y="2001" font-size="22" font-style="italic">Myl9</text>
<path d="M318.6 1965.7H347.6V1992.3H374.8" stroke="#333" stroke-width=".9" fill="none"/>
<text x="382" y="2078.8" font-size="22" font-style="italic">Comp</text>
<path d="M318.6 2069.4H374.8" stroke="#333" stroke-width=".9" fill="none"/>
<text x="382" y="2103.7" font-size="22" font-style="italic">Prg4</text>
<path d="M318.6 2107.4H347.6V2093.3H374.8" stroke="#333" stroke-width=".9" fill="none"/>
<text x="382" y="2133.8" font-size="22" font-style="italic">Sox9</text>
<path d="M318.6 2110.3H347.6V2123.7H374.8" stroke="#333" stroke-width=".9" fill="none"/>
<text x="382" y="2167" font-size="22" font-style="italic">Cxcl14</text>
<path d="M318.6 2156.6H374.8" stroke="#333" stroke-width=".9" fill="none"/>
<path d="M61.6 1653H72.5M72.5 1578V1728M72.5 1578H77M72.5 1728H74.5M74.5 1674V1780M74.5 1674H77M74.5 1780H77M61.6 2279.7H72M72 2100V2459M72 2100H77M72 2459H74M74 2431V2486M74 2431H77M74 2486H77" stroke="#555" stroke-width=".7" fill="none"/>
<path d="M78 1500C76.5 1560 77.5 1700 77 1800S78 1930 78.5 1970" stroke="#000" stroke-width="1.3" fill="none" stroke-dasharray="22 5 40 7 9 4"/>
<path d="M78.5 1980C76.5 2060 77.5 2200 77 2300S78 2460 78.5 2520" stroke="#000" stroke-width="1.2" fill="none" stroke-dasharray="30 6 14 5 50 8"/>
<text font-size="3.2" transform="translate(82 2526) rotate(90)">Cluster</text>
</g>
<g id="ph">
<text x="588" y="1462.5" font-size="45" font-weight="bold">h</text>
<text x="1207.5" y="2312" font-size="39.2" text-anchor="middle">Pseudotime (stretched)</text>
<path d="M622.9 1571V1824.2H884.4" fill="none" stroke="#6e6e6e" stroke-width="1.1"/>
<text x="634.5" y="1846.2" font-size="22.9" text-anchor="middle">0</text>
<text x="694.2" y="1846.2" font-size="22.9" text-anchor="middle">25</text>
<text x="753.9" y="1846.2" font-size="22.9" text-anchor="middle">50</text>
<text x="813.5" y="1846.2" font-size="22.9" text-anchor="middle">75</text>
<text x="873.2" y="1846.2" font-size="22.9" text-anchor="middle">100</text>
<text x="617.7" y="1602" font-size="21.3" text-anchor="end">5.0</text>
<text x="617.7" y="1650.3" font-size="21.3" text-anchor="end">3.0</text>
<text x="617.7" y="1754.3" font-size="21.3" text-anchor="end">1.0</text>
<text x="617.7" y="1819.9" font-size="21.3" text-anchor="end">0.5</text>
<path d="M634.5 1824.2v2.2M694.2 1824.2v2.2M753.9 1824.2v2.2M813.5 1824.2v2.2M873.2 1824.2v2.2M622.9 1594.4h-2.2M622.9 1642.7h-2.2M622.9 1746.7h-2.2M622.9 1812.3h-2.2" stroke="#7f7f7f" stroke-width="1" fill="none"/>
<text font-size="22" text-anchor="middle" transform="translate(569.7 1696.8) rotate(-90)">Expression</text>
<text x="752.8" y="1557" font-size="32.8" text-anchor="middle" font-weight="bold" font-style="italic">Myh11</text>
<path d="M954.4 1571V1824.2H1216.8" fill="none" stroke="#6e6e6e" stroke-width="1.1"/>
<text x="966.7" y="1846.2" font-size="22.9" text-anchor="middle">0</text>
<text x="1026.4" y="1846.2" font-size="22.9" text-anchor="middle">25</text>
<text x="1086.1" y="1846.2" font-size="22.9" text-anchor="middle">50</text>
<text x="1145.7" y="1846.2" font-size="22.9" text-anchor="middle">75</text>
<text x="1205.4" y="1846.2" font-size="22.9" text-anchor="middle">100</text>
<text x="949.2" y="1602" font-size="21.3" text-anchor="end">5.0</text>
<text x="949.2" y="1650.3" font-size="21.3" text-anchor="end">3.0</text>
<text x="949.2" y="1754.3" font-size="21.3" text-anchor="end">1.0</text>
<text x="949.2" y="1819.9" font-size="21.3" text-anchor="end">0.5</text>
<path d="M966.7 1824.2v2.2M1026.4 1824.2v2.2M1086.1 1824.2v2.2M1145.7 1824.2v2.2M1205.4 1824.2v2.2M954.4 1594.4h-2.2M954.4 1642.7h-2.2M954.4 1746.7h-2.2M954.4 1812.3h-2.2" stroke="#7f7f7f" stroke-width="1" fill="none"/>
<text font-size="22" text-anchor="middle" transform="translate(907.7 1696.8) rotate(-90)">Expression</text>
<text x="1092" y="1557" font-size="32.8" text-anchor="middle" font-weight="bold" font-style="italic">Myl9</text>
<path d="M1291.4 1572.7V1824.5H1552.7" fill="none" stroke="#6e6e6e" stroke-width="1.1"/>
<text x="1303.8" y="1846.5" font-size="22.9" text-anchor="middle">0</text>
<text x="1363.2" y="1846.5" font-size="22.9" text-anchor="middle">25</text>
<text x="1422.7" y="1846.5" font-size="22.9" text-anchor="middle">50</text>
<text x="1482.1" y="1846.5" font-size="22.9" text-anchor="middle">75</text>
<text x="1541.6" y="1846.5" font-size="22.9" text-anchor="middle">100</text>
<text x="1286.2" y="1615.4" font-size="21.3" text-anchor="end">5.0</text>
<text x="1286.2" y="1660.8" font-size="21.3" text-anchor="end">3.0</text>
<text x="1286.2" y="1758.6" font-size="21.3" text-anchor="end">1.0</text>
<text x="1286.2" y="1820.3" font-size="21.3" text-anchor="end">0.5</text>
<path d="M1303.8 1824.5v2.2M1363.2 1824.5v2.2M1422.7 1824.5v2.2M1482.1 1824.5v2.2M1541.6 1824.5v2.2M1291.4 1607.8h-2.2M1291.4 1653.2h-2.2M1291.4 1751h-2.2M1291.4 1812.7h-2.2" stroke="#7f7f7f" stroke-width="1" fill="none"/>
<text font-size="22" text-anchor="middle" transform="translate(1245.1 1696.8) rotate(-90)">Expression</text>
<text x="1424.3" y="1557" font-size="32.8" text-anchor="middle" font-weight="bold" font-style="italic">Acta2</text>
<path d="M1639.8 1571V1824.5H1902" fill="none" stroke="#6e6e6e" stroke-width="1.1"/>
<text x="1651.4" y="1846.5" font-size="22.9" text-anchor="middle">0</text>
<text x="1711.2" y="1846.5" font-size="22.9" text-anchor="middle">25</text>
<text x="1771.1" y="1846.5" font-size="22.9" text-anchor="middle">50</text>
<text x="1831" y="1846.5" font-size="22.9" text-anchor="middle">75</text>
<text x="1905" y="1846.5" font-size="22.9" text-anchor="end">100</text>
<text x="1634.6" y="1602.6" font-size="21.3" text-anchor="end">5.0</text>
<text x="1634.6" y="1650.9" font-size="21.3" text-anchor="end">3.0</text>
<text x="1634.6" y="1754.9" font-size="21.3" text-anchor="end">1.0</text>
<text x="1634.6" y="1820.5" font-size="21.3" text-anchor="end">0.5</text>
<path d="M1651.4 1824.5v2.2M1711.2 1824.5v2.2M1771.1 1824.5v2.2M1831 1824.5v2.2M1890.8 1824.5v2.2M1639.8 1595h-2.2M1639.8 1643.3h-2.2M1639.8 1747.3h-2.2M1639.8 1812.9h-2.2" stroke="#7f7f7f" stroke-width="1" fill="none"/>
<text font-size="22" text-anchor="middle" transform="translate(1589.8 1696.8) rotate(-90)">Expression</text>
<text x="1756.6" y="1557" font-size="32.8" text-anchor="middle" font-weight="bold" font-style="italic">Mylk</text>
<path d="M624.9 1943.4V2194.7H886.4" fill="none" stroke="#6e6e6e" stroke-width="1.1"/>
<text x="636.7" y="2216.7" font-size="22.9" text-anchor="middle">0</text>
<text x="696.3" y="2216.7" font-size="22.9" text-anchor="middle">25</text>
<text x="755.9" y="2216.7" font-size="22.9" text-anchor="middle">50</text>
<text x="815.4" y="2216.7" font-size="22.9" text-anchor="middle">75</text>
<text x="875" y="2216.7" font-size="22.9" text-anchor="middle">100</text>
<text x="619.7" y="1973.8" font-size="21.3" text-anchor="end">5.0</text>
<text x="619.7" y="2021.9" font-size="21.3" text-anchor="end">3.0</text>
<text x="619.7" y="2125.4" font-size="21.3" text-anchor="end">1.0</text>
<text x="619.7" y="2190.7" font-size="21.3" text-anchor="end">0.5</text>
<path d="M636.7 2194.7v2.2M696.3 2194.7v2.2M755.9 2194.7v2.2M815.4 2194.7v2.2M875 2194.7v2.2M624.9 1966.2h-2.2M624.9 2014.3h-2.2M624.9 2117.8h-2.2M624.9 2183.1h-2.2" stroke="#7f7f7f" stroke-width="1" fill="none"/>
<text font-size="22" text-anchor="middle" transform="translate(580.3 2073.5) rotate(-90)">Expression</text>
<text x="751.2" y="1927" font-size="32.8" text-anchor="middle" font-weight="bold" font-style="italic">Comp</text>
<path d="M950.2 1943.4V2194.7H1211.7" fill="none" stroke="#6e6e6e" stroke-width="1.1"/>
<text x="962" y="2216.7" font-size="22.9" text-anchor="middle">0</text>
<text x="1021.6" y="2216.7" font-size="22.9" text-anchor="middle">25</text>
<text x="1081.2" y="2216.7" font-size="22.9" text-anchor="middle">50</text>
<text x="1140.7" y="2216.7" font-size="22.9" text-anchor="middle">75</text>
<text x="1200.3" y="2216.7" font-size="22.9" text-anchor="middle">100</text>
<text x="945" y="1973.8" font-size="21.3" text-anchor="end">5.0</text>
<text x="945" y="2021.9" font-size="21.3" text-anchor="end">3.0</text>
<text x="945" y="2125.4" font-size="21.3" text-anchor="end">1.0</text>
<text x="945" y="2190.7" font-size="21.3" text-anchor="end">0.5</text>
<path d="M962 2194.7v2.2M1021.6 2194.7v2.2M1081.2 2194.7v2.2M1140.7 2194.7v2.2M1200.3 2194.7v2.2M950.2 1966.2h-2.2M950.2 2014.3h-2.2M950.2 2117.8h-2.2M950.2 2183.1h-2.2" stroke="#7f7f7f" stroke-width="1" fill="none"/>
<text font-size="22" text-anchor="middle" transform="translate(907.7 2073.5) rotate(-90)">Expression</text>
<text x="1090.5" y="1927" font-size="32.8" text-anchor="middle" font-weight="bold" font-style="italic">Prg4</text>
<path d="M1287.7 1944V2196.2H1549.4" fill="none" stroke="#6e6e6e" stroke-width="1.1"/>
<text x="1298.8" y="2218.2" font-size="22.9" text-anchor="middle">0</text>
<text x="1358.6" y="2218.2" font-size="22.9" text-anchor="middle">25</text>
<text x="1418.3" y="2218.2" font-size="22.9" text-anchor="middle">50</text>
<text x="1478.1" y="2218.2" font-size="22.9" text-anchor="middle">75</text>
<text x="1537.9" y="2218.2" font-size="22.9" text-anchor="middle">100</text>
<text x="1282.5" y="1957.5" font-size="21.3" text-anchor="end">3.0</text>
<text x="1282.5" y="2101.4" font-size="21.3" text-anchor="end">1.0</text>
<text x="1282.5" y="2192.2" font-size="21.3" text-anchor="end">0.5</text>
<path d="M1298.8 2196.2v2.2M1358.6 2196.2v2.2M1418.3 2196.2v2.2M1478.1 2196.2v2.2M1537.9 2196.2v2.2M1287.7 1949.9h-2.2M1287.7 2093.8h-2.2M1287.7 2184.6h-2.2" stroke="#7f7f7f" stroke-width="1" fill="none"/>
<text font-size="22" text-anchor="middle" transform="translate(1245.1 2073.5) rotate(-90)">Expression</text>
<text x="1410.7" y="1927.5" font-size="32.8" text-anchor="middle" font-weight="bold" font-style="italic">Sox9</text>
<path d="M1636.9 1944V2196.2H1899" fill="none" stroke="#6e6e6e" stroke-width="1.1"/>
<text x="1649.3" y="2218.2" font-size="22.9" text-anchor="middle">0</text>
<text x="1709" y="2218.2" font-size="22.9" text-anchor="middle">25</text>
<text x="1768.6" y="2218.2" font-size="22.9" text-anchor="middle">50</text>
<text x="1828.2" y="2218.2" font-size="22.9" text-anchor="middle">75</text>
<text x="1905" y="2218.2" font-size="22.9" text-anchor="end">100</text>
<text x="1631.7" y="1957.5" font-size="21.3" text-anchor="end">3.0</text>
<text x="1631.7" y="2101.4" font-size="21.3" text-anchor="end">1.0</text>
<text x="1631.7" y="2192.2" font-size="21.3" text-anchor="end">0.5</text>
<path d="M1649.3 2196.2v2.2M1709 2196.2v2.2M1768.6 2196.2v2.2M1828.2 2196.2v2.2M1887.9 2196.2v2.2M1636.9 1949.9h-2.2M1636.9 2093.8h-2.2M1636.9 2184.6h-2.2" stroke="#7f7f7f" stroke-width="1" fill="none"/>
<text font-size="22" text-anchor="middle" transform="translate(1589.8 2073.5) rotate(-90)">Expression</text>
<text x="1774" y="1927.5" font-size="32.8" text-anchor="middle" font-weight="bold" font-style="italic">Cxcl14</text>
<path d="M665.1 1615.5h0M666.8 1615.5h0M661.8 1615.5h0M689.8 1615.5h0M670.2 1615.5h0M711.2 1615.5h0M659.9 1615.5h0M712 1615.5h0M670.4 1615.5h0M673.8 1642.7h0M755.6 1642.7h0M634.6 1642.7h0M637.7 1642.7h0M667.5 1642.7h0M708.4 1642.7h0M668.5 1642.7h0M669.6 1642.7h0M645 1642.7h0M641.1 1642.7h0M671 1642.7h0M644.1 1642.7h0M642.4 1642.7h0M665.1 1642.7h0M638.6 1642.7h0M659.1 1642.7h0M643.5 1642.7h0M660.3 1642.7h0M667.6 1642.7h0M640.8 1642.7h0M657 1642.7h0M672.3 1642.7h0M659.3 1642.7h0M664.1 1642.7h0M672.3 1642.7h0M670 1681.1h0M656.8 1681.1h0M667.5 1681.1h0M750 1681.1h0M642.8 1681.1h0M672.5 1681.1h0M641.9 1681.1h0M728.7 1681.1h0M639.8 1681.1h0M667.6 1681.1h0M661.7 1681.1h0M674.8 1681.1h0M662.8 1681.1h0M728.4 1681.1h0M671.8 1681.1h0M670 1681.1h0M663.9 1681.1h0M715.8 1681.1h0M663.9 1681.1h0M660.6 1681.1h0M639.3 1681.1h0M665.5 1681.1h0M694.3 1681.1h0M641.4 1681.1h0M655.3 1681.1h0M657 1681.1h0M673.1 1681.1h0M674.2 1681.1h0M643.5 1681.1h0M659.7 1681.1h0M658.3 1681.1h0M665.4 1681.1h0M662.7 1681.1h0M668.5 1681.1h0M640.6 1681.1h0M655.4 1681.1h0M655.2 1681.1h0M662.5 1681.1h0M635.3 1681.1h0M660.2 1681.1h0M658.1 1681.1h0M673.8 1681.1h0M662.2 1681.1h0M740.7 1681.1h0M639 1681.1h0M743.4 1681.1h0M665.8 1681.1h0M670.2 1681.1h0M668.4 1681.1h0M663.7 1681.1h0M669.6 1746.7h0M687.9 1746.7h0M669.8 1746.7h0M656.1 1746.7h0M697.4 1746.7h0M672.1 1746.7h0M634.9 1746.7h0M669.3 1746.7h0M666.1 1746.7h0M671.5 1746.7h0M669.7 1746.7h0M658.1 1746.7h0M655.8 1746.7h0M640.6 1746.7h0M672.8 1746.7h0M664.8 1746.7h0M643.6 1746.7h0M669.3 1746.7h0M663.9 1746.7h0M644.9 1746.7h0M643.4 1746.7h0M639.1 1746.7h0M663.4 1746.7h0M668.5 1746.7h0M656.1 1746.7h0M658.6 1746.7h0M754.4 1746.7h0M730.7 1746.7h0M665.3 1746.7h0M658.7 1746.7h0M672.8 1746.7h0M665.3 1746.7h0M734.2 1746.7h0M672.7 1746.7h0M634.9 1746.7h0M642.8 1812.3h0M661 1812.3h0M639.3 1812.3h0M641.2 1812.3h0M659.1 1812.3h0M709.4 1812.3h0M642.6 1812.3h0M666.9 1812.3h0M639.7 1812.3h0M758.9 1812.3h0M774.2 1812.3h0M671.4 1812.3h0M657.6 1812.3h0M658.8 1812.3h0M656.5 1812.3h0M670.5 1812.3h0M769.9 1812.3h0M670.3 1812.3h0M641.1 1812.3h0M762.8 1812.3h0M669.6 1812.3h0M692.3 1812.3h0M990.9 1577.1h0M975.5 1594.4h0M1000.5 1594.4h0M1023.3 1594.4h0M995.6 1594.4h0M1000.6 1594.4h0M971.7 1594.4h0M994 1594.4h0M974.3 1594.4h0M972.8 1594.4h0M967.1 1594.4h0M967.4 1594.4h0M974.1 1594.4h0M997.9 1615.5h0M1006 1615.5h0M1000.8 1615.5h0M1023.5 1615.5h0M969.1 1615.5h0M968.3 1615.5h0M970.4 1615.5h0M996.1 1615.5h0M1000.7 1615.5h0M994.4 1615.5h0M998.1 1615.5h0M972.6 1615.5h0M1000.7 1615.5h0M991.9 1615.5h0M996.2 1615.5h0M987.8 1615.5h0M977.4 1615.5h0M995.9 1615.5h0M992.4 1615.5h0M1006.3 1615.5h0M996.4 1615.5h0M1113.9 1615.5h0M971.1 1615.5h0M992.6 1615.5h0M994.5 1642.7h0M1009.1 1642.7h0M1051 1642.7h0M966.7 1642.7h0M977.3 1642.7h0M1044.5 1642.7h0M974.1 1642.7h0M1001.7 1642.7h0M977.1 1642.7h0M1000.9 1642.7h0M995.1 1642.7h0M997.5 1642.7h0M1005.7 1642.7h0M1004.4 1642.7h0M972.4 1642.7h0M987.2 1642.7h0M992.8 1642.7h0M999.6 1642.7h0M976.8 1642.7h0M968.2 1642.7h0M988.3 1642.7h0M974.9 1642.7h0M972.5 1642.7h0M1025.7 1642.7h0M1041 1642.7h0M967.5 1642.7h0M1004.6 1642.7h0M1036.3 1642.7h0M1006.4 1642.7h0M1002.5 1642.7h0M1051.8 1642.7h0M998.8 1642.7h0M969.4 1642.7h0M997.7 1642.7h0M992.8 1642.7h0M1004.8 1642.7h0M1087.4 1642.7h0M988.8 1642.7h0M972.7 1642.7h0M1012.1 1642.7h0M972.1 1642.7h0M989.8 1642.7h0M971.3 1642.7h0M990.5 1642.7h0M1010.3 1642.7h0M973.9 1642.7h0M970.2 1642.7h0M969.2 1642.7h0M1013.7 1642.7h0M1005.5 1642.7h0M976 1642.7h0M1002.7 1642.7h0M994.1 1642.7h0M1035.5 1642.7h0M998.6 1642.7h0M992.8 1642.7h0M1117.7 1642.7h0M976.5 1642.7h0M996.8 1681.1h0M973.5 1681.1h0M1000 1681.1h0M998.3 1681.1h0M975.6 1681.1h0M1041.8 1681.1h0M991.9 1681.1h0M988 1681.1h0M1004.4 1681.1h0M1090.9 1681.1h0M1004.1 1681.1h0M967.4 1681.1h0M1046.7 1681.1h0M999.6 1681.1h0M1004.4 1681.1h0M988.1 1681.1h0M1009.8 1681.1h0M1000.2 1681.1h0M971.4 1681.1h0M975.4 1681.1h0M993.7 1681.1h0M970.4 1681.1h0M999.3 1681.1h0M1070.8 1681.1h0M973.4 1681.1h0M1002 1681.1h0M998.1 1681.1h0M1015.2 1681.1h0M990.7 1681.1h0M998.3 1681.1h0M989.3 1681.1h0M992.7 1681.1h0M971.2 1681.1h0M991.2 1681.1h0M1005.9 1681.1h0M1060.8 1681.1h0M971.1 1681.1h0M1001 1681.1h0M997 1681.1h0M1116.7 1681.1h0M1017.5 1681.1h0M987.7 1681.1h0M1098.1 1681.1h0M1078.2 1681.1h0M992.1 1681.1h0M1060.6 1681.1h0M969.7 1681.1h0M997.9 1681.1h0M989.5 1746.7h0M973.6 1746.7h0M1016.2 1746.7h0M995.4 1746.7h0M976.7 1746.7h0M971.9 1746.7h0M969.7 1746.7h0M994.7 1746.7h0M1006.6 1746.7h0M996.1 1746.7h0M1025.8 1746.7h0M996 1746.7h0M988.9 1746.7h0M974.2 1746.7h0M994.3 1746.7h0M973.3 1746.7h0M970.9 1746.7h0M1039.8 1746.7h0M1011.5 1746.7h0M987.6 1746.7h0M1004.4 1812.3h0M1002.8 1812.3h0M1001.7 1812.3h0M1001.8 1812.3h0M992.4 1812.3h0M1002.9 1812.3h0M1000.7 1812.3h0M998.7 1812.3h0M1001 1812.3h0M987.8 1812.3h0M1043.1 1812.3h0M995.7 1812.3h0M976.7 1812.3h0M971.3 1812.3h0M975.9 1812.3h0M1334.5 1591.5h0M1332.1 1607.8h0M1396.6 1607.8h0M1310.1 1607.8h0M1332.8 1607.8h0M1332.9 1607.8h0M1342 1607.8h0M1370.1 1607.8h0M1343.2 1607.8h0M1336.7 1607.8h0M1371.9 1607.8h0M1331.9 1627.6h0M1383.3 1627.6h0M1418.1 1627.6h0M1306.8 1627.6h0M1310.7 1627.6h0M1342.6 1627.6h0M1343.4 1627.6h0M1333.6 1627.6h0M1355.3 1627.6h0M1338.7 1627.6h0M1346.7 1627.6h0M1314 1627.6h0M1308.6 1627.6h0M1333.8 1627.6h0M1382.8 1627.6h0M1326.7 1627.6h0M1417 1627.6h0M1305.3 1627.6h0M1310 1627.6h0M1335.3 1627.6h0M1419.2 1627.6h0M1389.4 1627.6h0M1339.3 1627.6h0M1386.9 1627.6h0M1335.3 1627.6h0M1333.5 1627.6h0M1313.5 1627.6h0M1372.6 1627.6h0M1424.1 1627.6h0M1311.2 1627.6h0M1354 1653.2h0M1327.2 1653.2h0M1331.9 1653.2h0M1310.7 1653.2h0M1340.3 1653.2h0M1311.7 1653.2h0M1396.7 1653.2h0M1343.6 1653.2h0M1330.7 1653.2h0M1312.7 1653.2h0M1341.8 1653.2h0M1327.6 1653.2h0M1448.9 1653.2h0M1336.2 1653.2h0M1343.2 1653.2h0M1306.4 1653.2h0M1332.5 1653.2h0M1444.1 1653.2h0M1327.2 1653.2h0M1336.2 1653.2h0M1339.8 1653.2h0M1342.1 1653.2h0M1327.3 1653.2h0M1351 1653.2h0M1450.8 1653.2h0M1306 1653.2h0M1333.2 1653.2h0M1339.2 1653.2h0M1326.7 1653.2h0M1341.7 1653.2h0M1392.2 1653.2h0M1330.6 1653.2h0M1412.5 1653.2h0M1307.3 1653.2h0M1327.6 1653.2h0M1330.7 1653.2h0M1328.7 1653.2h0M1337.3 1653.2h0M1306.9 1653.2h0M1360.2 1653.2h0M1336.5 1653.2h0M1341.5 1653.2h0M1341.3 1653.2h0M1381.7 1653.2h0M1434.2 1653.2h0M1332.7 1689.3h0M1328.4 1689.3h0M1346.9 1689.3h0M1334.6 1689.3h0M1306.5 1689.3h0M1305.5 1689.3h0M1404.5 1689.3h0M1310.8 1689.3h0M1405.2 1689.3h0M1310.1 1689.3h0M1333.3 1689.3h0M1344.2 1689.3h0M1331.3 1689.3h0M1335.5 1689.3h0M1361.8 1689.3h0M1334.3 1689.3h0M1333.9 1689.3h0M1305.1 1689.3h0M1344.2 1689.3h0M1334.1 1689.3h0M1339.7 1689.3h0M1331.9 1689.3h0M1335.6 1689.3h0M1336.2 1689.3h0M1409.1 1689.3h0M1344.1 1689.3h0M1341.1 1689.3h0M1352.2 1689.3h0M1331 1689.3h0M1326.6 1689.3h0M1342.7 1689.3h0M1361.8 1689.3h0M1442 1689.3h0M1340.2 1689.3h0M1324.2 1689.3h0M1337.1 1689.3h0M1340.4 1689.3h0M1325.9 1689.3h0M1324.2 1689.3h0M1326.3 1689.3h0M1307.9 1751h0M1314.4 1751h0M1423.4 1751h0M1333.8 1751h0M1387.1 1751h0M1311 1751h0M1334.1 1751h0M1308.4 1751h0M1434.4 1751h0M1341.2 1751h0M1311.4 1751h0M1411.2 1751h0M1310.3 1751h0M1392.6 1751h0M1311.3 1751h0M1344.1 1751h0M1331.4 1751h0M1333.9 1751h0M1339.4 1751h0M1331.7 1751h0M1335.4 1812.7h0M1335.5 1812.7h0M1307.7 1812.7h0M1307.9 1812.7h0M1391.7 1812.7h0M1308.1 1812.7h0M1325.7 1812.7h0M1376.6 1812.7h0M1370.3 1812.7h0M1335.4 1812.7h0M1304 1812.7h0M1448.7 1812.7h0M1309.4 1812.7h0M1312.6 1812.7h0M1454.6 1812.7h0M1688.6 1616.1h0M1655.4 1616.1h0M1691 1616.1h0M1681.4 1616.1h0M1654.4 1616.1h0M1662 1616.1h0M1691.7 1643.3h0M1690.5 1643.3h0M1655.3 1643.3h0M1693.4 1643.3h0M1689.5 1643.3h0M1781.8 1643.3h0M1678.5 1643.3h0M1673.1 1643.3h0M1660.9 1643.3h0M1675.1 1643.3h0M1677.6 1643.3h0M1703.7 1643.3h0M1686.9 1643.3h0M1676.9 1643.3h0M1679.9 1643.3h0M1678.4 1643.3h0M1680.3 1643.3h0M1659.7 1643.3h0M1719.8 1643.3h0M1689.5 1643.3h0M1733.5 1643.3h0M1672.1 1643.3h0M1654.8 1681.7h0M1652.9 1681.7h0M1678.6 1681.7h0M1730.2 1681.7h0M1785.8 1681.7h0M1654 1681.7h0M1782.8 1681.7h0M1700.2 1681.7h0M1652.5 1681.7h0M1679.2 1681.7h0M1674.6 1681.7h0M1655.6 1681.7h0M1779.7 1681.7h0M1673 1681.7h0M1679.3 1681.7h0M1679.9 1681.7h0M1703.3 1681.7h0M1671.8 1681.7h0M1660 1681.7h0M1704.5 1681.7h0M1661.8 1681.7h0M1673.6 1681.7h0M1773.4 1681.7h0M1682 1681.7h0M1683.5 1681.7h0M1679.4 1681.7h0M1678 1681.7h0M1722.5 1681.7h0M1743.9 1681.7h0M1721.1 1681.7h0M1661.2 1681.7h0M1675.4 1681.7h0M1662.2 1681.7h0M1701.6 1681.7h0M1693.6 1681.7h0M1684.6 1681.7h0M1729.1 1681.7h0M1688.9 1681.7h0M1690.7 1681.7h0M1686.6 1681.7h0M1680 1681.7h0M1721.3 1681.7h0M1657.7 1681.7h0M1683.9 1681.7h0M1659 1681.7h0M1686.7 1681.7h0M1651.6 1681.7h0M1684.8 1681.7h0M1682.8 1681.7h0M1698.8 1681.7h0M1655.7 1681.7h0M1687.3 1681.7h0M1657.8 1681.7h0M1682.5 1681.7h0M1653.1 1681.7h0M1678.7 1681.7h0M1769.2 1681.7h0M1675.6 1681.7h0M1682.1 1681.7h0M1661.8 1681.7h0M1687.5 1681.7h0M1688.7 1681.7h0M1661.8 1681.7h0M1675.1 1681.7h0M1672.9 1681.7h0M1732.1 1747.3h0M1661.6 1747.3h0M1674.5 1747.3h0M1673.6 1747.3h0M1653 1747.3h0M1673 1747.3h0M1671.8 1747.3h0M1653.2 1747.3h0M1651.4 1747.3h0M1673.1 1747.3h0M1651.4 1747.3h0M1698.6 1747.3h0M1687.5 1747.3h0M1655.3 1747.3h0M1717.9 1747.3h0M1657 1747.3h0M1714 1747.3h0M1653.7 1747.3h0M1761 1747.3h0M1654.4 1747.3h0M1689.2 1747.3h0M1684.1 1747.3h0M1676.5 1747.3h0M1679 1747.3h0M1686.9 1747.3h0M1793.6 1747.3h0M1659.6 1747.3h0M1673.1 1747.3h0M1714.2 1747.3h0M1673.1 1747.3h0M1681.5 1747.3h0M1729.1 1747.3h0M1678.7 1812.9h0M1679.2 1812.9h0M1678.6 1812.9h0M1684.9 1812.9h0M1677.5 1812.9h0M1653.2 1812.9h0M1682.3 1812.9h0M1659 1812.9h0M1653 1812.9h0M1709.1 1812.9h0M1684.9 1812.9h0M1678.3 1812.9h0M1779.7 1812.9h0M1680.6 1812.9h0M1688.4 1812.9h0M1676.4 1812.9h0M1661.1 1812.9h0M1790.5 1812.9h0M662.2 1987.2h0M666.1 2014.3h0M642.9 2014.3h0M673.4 2014.3h0M664.4 2052.5h0M710.5 2052.5h0M637.7 2052.5h0M663.3 2052.5h0M665.6 2052.5h0M765.7 2052.5h0M761.9 2052.5h0M642.8 2052.5h0M643 2052.5h0M646.7 2052.5h0M675.1 2052.5h0M638.9 2052.5h0M645.5 2052.5h0M707.4 2052.5h0M731.9 2117.8h0M661 2117.8h0M681.1 2117.8h0M643.2 2117.8h0M665.5 2117.8h0M671.3 2117.8h0M658.4 2117.8h0M669.5 2117.8h0M767.9 2117.8h0M638.8 2117.8h0M671.7 2117.8h0M661.7 2117.8h0M639.6 2117.8h0M671.3 2117.8h0M681.3 2117.8h0M676.7 2117.8h0M659.5 2117.8h0M673.7 2117.8h0M637.6 2117.8h0M664.3 2117.8h0M637.6 2117.8h0M676.3 2117.8h0M662.6 2117.8h0M738 2117.8h0M638 2117.8h0M646.5 2117.8h0M676.8 2117.8h0M658.4 2117.8h0M663.9 2117.8h0M637.6 2117.8h0M674.6 2117.8h0M734.7 2117.8h0M662.1 2117.8h0M714.2 2117.8h0M638.7 2117.8h0M717 2117.8h0M679.8 2117.8h0M672.6 2117.8h0M668 2117.8h0M658.2 2117.8h0M676.6 2117.8h0M664.3 2117.8h0M646.2 2117.8h0M676.3 2117.8h0M767.2 2117.8h0M710.3 2117.8h0M665.4 2117.8h0M672.8 2117.8h0M645.1 2117.8h0M664.6 2117.8h0M675.6 2117.8h0M637.2 2117.8h0M659.1 2117.8h0M714.5 2117.8h0M664.1 2117.8h0M674.5 2183.1h0M675.7 2183.1h0M677.1 2183.1h0M664.1 2183.1h0M673.2 2183.1h0M662.3 2183.1h0M671.8 2183.1h0M676.5 2183.1h0M670.5 2183.1h0M670.3 2183.1h0M694.9 2183.1h0M667.9 2183.1h0M641.2 2183.1h0M664.1 2183.1h0M645.7 2183.1h0M667.7 2183.1h0M641.8 2183.1h0M669.9 2183.1h0M1086.8 1987.2h0M971.9 2014.3h0M983.9 2014.3h0M1000.9 2014.3h0M983.7 2052.5h0M964.3 2052.5h0M1030.2 2052.5h0M984.1 2052.5h0M997.2 2052.5h0M991.4 2052.5h0M966.1 2052.5h0M1106.7 2052.5h0M989.4 2052.5h0M993.9 2052.5h0M999.5 2052.5h0M984.2 2052.5h0M996.4 2052.5h0M967.6 2052.5h0M1089.3 2052.5h0M965.1 2117.8h0M964.1 2117.8h0M1109 2117.8h0M1000.2 2117.8h0M972.7 2117.8h0M994.7 2117.8h0M962.1 2117.8h0M995 2117.8h0M998 2117.8h0M1044.8 2117.8h0M984.1 2117.8h0M1024 2117.8h0M966.3 2117.8h0M1038.3 2117.8h0M1079.8 2117.8h0M996.1 2117.8h0M997.8 2117.8h0M964.5 2117.8h0M997.3 2117.8h0M1047.7 2117.8h0M1064.9 2117.8h0M996.5 2117.8h0M1057.7 2117.8h0M1000.5 2117.8h0M1019.3 2117.8h0M970.6 2117.8h0M965.9 2117.8h0M964.3 2117.8h0M992.5 2117.8h0M994.8 2117.8h0M966.3 2117.8h0M963.4 2117.8h0M972.3 2117.8h0M999.4 2117.8h0M987.6 2117.8h0M993.2 2117.8h0M994 2117.8h0M984.8 2117.8h0M1031.1 2117.8h0M987.5 2117.8h0M990.6 2117.8h0M970.2 2117.8h0M998.6 2117.8h0M1071.6 2117.8h0M983.8 2117.8h0M998.9 2117.8h0M982.7 2117.8h0M990.2 2117.8h0M970.1 2117.8h0M992.5 2117.8h0M999.5 2183.1h0M991.8 2183.1h0M983.5 2183.1h0M1000.4 2183.1h0M986.6 2183.1h0M1035.4 2183.1h0M995.5 2183.1h0M968.4 2183.1h0M984 2183.1h0M988.2 2183.1h0M968.3 2183.1h0M963.4 2183.1h0M990.1 2183.1h0M986.4 2183.1h0M999.8 2183.1h0M983.8 2183.1h0M1094 2183.1h0M997.1 2183.1h0M995.6 2183.1h0M962.2 2183.1h0M971.3 2183.1h0M964.6 2183.1h0M1012.2 2183.1h0M984.5 2183.1h0M967.2 2183.1h0M1372.1 2003h0M1309.3 2003h0M1419.5 2093.8h0M1326.9 2093.8h0M1324 2093.8h0M1327 2093.8h0M1336.8 2093.8h0M1322 2093.8h0M1334 2093.8h0M1320.5 2093.8h0M1304.6 2093.8h0M1329.2 2093.8h0M1330.3 2093.8h0M1348.2 2093.8h0M1369.9 2093.8h0M1301.2 2093.8h0M1404.8 2184.6h0M1305.1 2184.6h0M1334.8 2184.6h0M1304.2 2184.6h0M1308.9 2184.6h0M1448.4 2184.6h0M1300.7 2184.6h0M1358.6 2184.6h0M1365.7 2184.6h0M1300 2184.6h0M1324.7 2184.6h0M1331.7 2184.6h0M1299.9 2184.6h0M1319.5 2184.6h0M1327 2184.6h0M1299.7 2184.6h0M1333.1 2184.6h0M1328.3 2184.6h0M1413.7 2184.6h0M1304.3 2184.6h0M1330.4 2184.6h0M1329.3 2184.6h0M1306 2184.6h0M1369.3 2184.6h0M1379.2 2184.6h0M1327.7 2184.6h0M1323.6 2184.6h0M1331.2 2184.6h0M1309.3 2184.6h0M1416.8 2184.6h0M1326.1 2184.6h0M1321.1 2184.6h0M1323 2184.6h0M1332.5 2184.6h0M1342.7 2184.6h0M1305.5 2184.6h0M1420.3 2184.6h0M1336.6 2184.6h0M1298.8 2184.6h0M1331.1 2184.6h0M1306.2 2184.6h0M1336 2184.6h0M1320.5 2184.6h0M1301.3 2184.6h0M1332.3 2184.6h0M1309.4 2184.6h0M1308.2 2184.6h0M1308.7 2184.6h0M1304.7 2184.6h0M1306.5 2184.6h0M1334 2184.6h0M1322.4 2184.6h0M1336.5 2184.6h0M1322.7 2184.6h0M1304.4 2184.6h0M1367 2184.6h0M1320.4 2184.6h0M1325.2 2184.6h0M1308.9 2184.6h0M1353.7 2184.6h0M1395.1 2184.6h0M1358.1 2184.6h0M1339.2 2184.6h0M1333.3 2184.6h0M1332.2 2184.6h0M1367.9 2184.6h0M1331.2 2184.6h0M1323.3 2184.6h0M1308.6 2184.6h0M1329.6 2184.6h0M1304.7 2184.6h0M1367.9 2184.6h0M1330.7 2184.6h0M1298.9 2184.6h0M1305.3 2184.6h0M1378.1 2184.6h0M1333.9 2184.6h0M1299.5 2184.6h0M1324.4 2184.6h0M1337.3 2184.6h0M1675.8 2003h0M1677.7 2093.8h0M1675.6 2093.8h0M1686.7 2093.8h0M1687.6 2093.8h0M1675.6 2093.8h0M1655.4 2093.8h0M1685.5 2093.8h0M1787.5 2093.8h0M1778.7 2093.8h0M1685.8 2093.8h0M1685.8 2093.8h0M1681.8 2184.6h0M1729.2 2184.6h0M1678.6 2184.6h0M1713.5 2184.6h0M1704.3 2184.6h0M1697.8 2184.6h0M1674.2 2184.6h0M1682.1 2184.6h0M1733.2 2184.6h0M1674 2184.6h0M1720 2184.6h0M1799.5 2184.6h0M1674.8 2184.6h0M1678.8 2184.6h0M1650.5 2184.6h0M1707.5 2184.6h0M1651.7 2184.6h0M1649.9 2184.6h0M1679.1 2184.6h0M1676.2 2184.6h0M1654.8 2184.6h0M1671 2184.6h0M1687.4 2184.6h0M1680 2184.6h0M1676.1 2184.6h0M1652.6 2184.6h0M1649.7 2184.6h0M1659.9 2184.6h0M1733.5 2184.6h0M1671.9 2184.6h0M1681.9 2184.6h0M1654.1 2184.6h0M1654.8 2184.6h0M1652.7 2184.6h0M1675.2 2184.6h0M1685.4 2184.6h0M1686.8 2184.6h0M1656.9 2184.6h0M1728.5 2184.6h0M1675.9 2184.6h0M1682.4 2184.6h0M1681.8 2184.6h0M1649.4 2184.6h0M1659.2 2184.6h0M1652.1 2184.6h0M1687.5 2184.6h0M1679.9 2184.6h0M1751 2184.6h0M1652.3 2184.6h0M1676.2 2184.6h0M1671.1 2184.6h0M1728.8 2184.6h0M1741.6 2184.6h0M1794 2184.6h0M1653.8 2184.6h0M1653.3 2184.6h0M1671.5 2184.6h0M1685.7 2184.6h0M1651 2184.6h0M1686.2 2184.6h0M1687.5 2184.6h0M1669.8 2184.6h0M1673.2 2184.6h0M1686.2 2184.6h0M1658.2 2184.6h0M1681.9 2184.6h0M1681.3 2184.6h0M1655.6 2184.6h0M1682 2184.6h0M1657.2 2184.6h0M1658.1 2184.6h0M1683.1 2184.6h0M1672.1 2184.6h0M1781.9 2184.6h0M1778.5 2184.6h0M1677.6 2184.6h0M1686.5 2184.6h0M1673.9 2184.6h0M1653.4 2184.6h0M1651.4 2184.6h0" stroke="#1f77b4" stroke-width="2.5" stroke-linecap="round" fill="none"/>
<path d="M748.2 1594.4h0M686.2 1642.7h0M684 1642.7h0M691.4 1642.7h0M736 1642.7h0M730.9 1642.7h0M647.4 1642.7h0M661.7 1681.1h0M788.7 1681.1h0M715.9 1681.1h0M716.5 1681.1h0M696.1 1681.1h0M742.9 1681.1h0M752.4 1681.1h0M811.3 1681.1h0M819.9 1681.1h0M815.2 1681.1h0M788.1 1681.1h0M677.9 1681.1h0M816.8 1681.1h0M731.6 1681.1h0M762.3 1681.1h0M737.7 1681.1h0M652.4 1681.1h0M708.9 1681.1h0M725.9 1681.1h0M703 1681.1h0M722.7 1681.1h0M712.5 1681.1h0M736.6 1681.1h0M702 1681.1h0M653.2 1681.1h0M785.3 1681.1h0M732.9 1681.1h0M711.3 1681.1h0M803.9 1681.1h0M723.7 1681.1h0M717.3 1681.1h0M743.2 1681.1h0M671.2 1681.1h0M655 1681.1h0M767.9 1681.1h0M723.6 1746.7h0M800.8 1746.7h0M739.2 1746.7h0M736.2 1746.7h0M687.7 1746.7h0M816.4 1746.7h0M691.4 1746.7h0M808.8 1746.7h0M755.2 1746.7h0M815.4 1746.7h0M814.5 1746.7h0M737.2 1746.7h0M759.1 1746.7h0M802.9 1746.7h0M741.3 1746.7h0M741.5 1746.7h0M643.2 1746.7h0M751.5 1746.7h0M712.4 1746.7h0M800.9 1746.7h0M716.7 1746.7h0M726 1746.7h0M651.7 1746.7h0M758.8 1746.7h0M737.8 1746.7h0M773.9 1746.7h0M694.4 1746.7h0M687.6 1746.7h0M761 1746.7h0M807.5 1746.7h0M746.4 1746.7h0M653.1 1746.7h0M693.2 1746.7h0M727.4 1746.7h0M700 1746.7h0M696.6 1746.7h0M751.3 1746.7h0M710.5 1746.7h0M698.6 1746.7h0M786.8 1746.7h0M709.7 1746.7h0M720.9 1746.7h0M717.9 1746.7h0M687.8 1746.7h0M816 1746.7h0M712.1 1812.3h0M699.8 1812.3h0M764.9 1812.3h0M691 1812.3h0M806 1812.3h0M821.4 1812.3h0M745.4 1812.3h0M740 1812.3h0M748.1 1812.3h0M738.3 1812.3h0M738.9 1812.3h0M684.3 1812.3h0M704.2 1812.3h0M643.5 1812.3h0M775.9 1812.3h0M743.2 1812.3h0M685 1812.3h0M707.8 1812.3h0M726.3 1812.3h0M683.4 1812.3h0M721.9 1812.3h0M730.7 1812.3h0M715.1 1812.3h0M713 1812.3h0M730.8 1812.3h0M763.1 1812.3h0M692.1 1812.3h0M745.6 1812.3h0M764.3 1812.3h0M737.4 1812.3h0M732 1812.3h0M796.9 1812.3h0M731.1 1812.3h0M652.4 1812.3h0M728.6 1812.3h0M652.8 1812.3h0M769.9 1812.3h0M643.7 1812.3h0M701.7 1812.3h0M758 1812.3h0M1103.6 1615.5h0M1022.3 1615.5h0M1015.4 1642.7h0M1051.9 1642.7h0M1150.4 1642.7h0M1052.7 1642.7h0M982.4 1642.7h0M1050.1 1642.7h0M1089.4 1642.7h0M1101 1642.7h0M1025.5 1642.7h0M1049.3 1642.7h0M998.8 1642.7h0M1073.5 1642.7h0M1091.3 1642.7h0M1147.5 1642.7h0M1110.3 1642.7h0M1045.8 1642.7h0M1031.7 1642.7h0M1149.5 1642.7h0M1056 1642.7h0M1084 1642.7h0M1057.1 1642.7h0M1136.8 1642.7h0M1090 1642.7h0M1050.6 1642.7h0M1074.7 1642.7h0M1069.3 1642.7h0M1083.3 1642.7h0M1063.5 1642.7h0M976.2 1642.7h0M1127.2 1642.7h0M1038 1642.7h0M1086.9 1642.7h0M1139.5 1681.1h0M1154.4 1681.1h0M1023.5 1681.1h0M1025.9 1681.1h0M1076.3 1681.1h0M1057.1 1681.1h0M1015.9 1681.1h0M1037.2 1681.1h0M1097.7 1681.1h0M1056.6 1681.1h0M1068.4 1681.1h0M1096.6 1681.1h0M1064.2 1681.1h0M1062.7 1681.1h0M1135.8 1681.1h0M1096.3 1681.1h0M1096.9 1681.1h0M1035.5 1681.1h0M1009 1681.1h0M1083.9 1681.1h0M1038.1 1681.1h0M1095.6 1681.1h0M1099.7 1681.1h0M1076.1 1681.1h0M1108 1681.1h0M1134.4 1681.1h0M1027.4 1681.1h0M1132.5 1681.1h0M1008.8 1681.1h0M1050.4 1681.1h0M1156.4 1681.1h0M1059.1 1681.1h0M1018.2 1681.1h0M1046.6 1681.1h0M1088.7 1681.1h0M1155.6 1681.1h0M1087.8 1681.1h0M1046.7 1681.1h0M1100.1 1681.1h0M1019.5 1681.1h0M1063.2 1681.1h0M1027.6 1681.1h0M1028.7 1681.1h0M1048.2 1681.1h0M1058.1 1681.1h0M1135.7 1681.1h0M1049.1 1681.1h0M978.6 1681.1h0M1022.7 1681.1h0M1042.3 1681.1h0M1015.1 1681.1h0M1103.7 1681.1h0M1097.4 1681.1h0M1065.1 1681.1h0M1004 1746.7h0M1149.6 1746.7h0M1144 1746.7h0M976.5 1746.7h0M1075.1 1746.7h0M1083.4 1746.7h0M1079.2 1746.7h0M1061.7 1746.7h0M1077.9 1746.7h0M1035.2 1746.7h0M1145.6 1746.7h0M1016.1 1746.7h0M1079.3 1746.7h0M1098.1 1746.7h0M1084.6 1746.7h0M1039.2 1746.7h0M1014.4 1746.7h0M1068 1746.7h0M1066.9 1746.7h0M1044.8 1746.7h0M979.5 1746.7h0M1078.7 1746.7h0M1047.5 1746.7h0M1072.7 1746.7h0M1069.2 1746.7h0M1084.9 1746.7h0M1094.5 1746.7h0M1093.2 1746.7h0M1077 1746.7h0M1068.4 1746.7h0M1103.9 1746.7h0M1105.2 1746.7h0M1108.6 1746.7h0M1041.5 1746.7h0M1066.7 1746.7h0M1085.1 1746.7h0M1081.3 1746.7h0M1060 1746.7h0M1044.6 1746.7h0M1136.3 1746.7h0M1080.7 1812.3h0M1073.5 1812.3h0M1105.4 1812.3h0M1024.3 1812.3h0M1020.7 1812.3h0M1066.5 1812.3h0M1085.6 1812.3h0M1017.8 1812.3h0M1059.1 1812.3h0M1043.3 1812.3h0M995.5 1812.3h0M1072.6 1812.3h0M1142.7 1812.3h0M1110.8 1812.3h0M1016.5 1812.3h0M1076.9 1812.3h0M1066.3 1812.3h0M1065.3 1812.3h0M1382.9 1627.6h0M1406.9 1627.6h0M1384.7 1653.2h0M1430.3 1653.2h0M1380.3 1653.2h0M1416.1 1653.2h0M1443.5 1653.2h0M1490.7 1653.2h0M1349 1653.2h0M1427.5 1653.2h0M1424 1653.2h0M1326.1 1653.2h0M1415.6 1653.2h0M1347.5 1653.2h0M1389.8 1653.2h0M1424.3 1653.2h0M1361.8 1653.2h0M1431 1653.2h0M1419.2 1653.2h0M1392.6 1653.2h0M1417.4 1653.2h0M1392.5 1653.2h0M1489.1 1653.2h0M1401.7 1653.2h0M1472.4 1653.2h0M1453.9 1653.2h0M1352.6 1653.2h0M1376.9 1689.3h0M1366.3 1689.3h0M1318.5 1689.3h0M1452.4 1689.3h0M1465.9 1689.3h0M1462.4 1689.3h0M1427.2 1689.3h0M1362.3 1689.3h0M1399.3 1689.3h0M1451 1689.3h0M1424.3 1689.3h0M1416.7 1689.3h0M1353.7 1689.3h0M1384.5 1689.3h0M1405.9 1689.3h0M1403.1 1689.3h0M1432.1 1689.3h0M1369.6 1689.3h0M1386.7 1689.3h0M1416.5 1689.3h0M1423.5 1689.3h0M1484.1 1689.3h0M1322.9 1689.3h0M1400.2 1689.3h0M1415.2 1689.3h0M1474.1 1689.3h0M1397.8 1689.3h0M1374.6 1689.3h0M1402.5 1689.3h0M1370.6 1689.3h0M1425.5 1689.3h0M1397.3 1689.3h0M1391.7 1689.3h0M1432.9 1689.3h0M1394.4 1689.3h0M1354.6 1689.3h0M1374 1689.3h0M1412.1 1689.3h0M1383.8 1689.3h0M1406.9 1689.3h0M1425.1 1689.3h0M1392.3 1689.3h0M1365.5 1689.3h0M1389.5 1689.3h0M1355.2 1689.3h0M1367.2 1751h0M1381 1751h0M1409.6 1751h0M1376.7 1751h0M1425.5 1751h0M1433.3 1751h0M1420.1 1751h0M1411.9 1751h0M1313.7 1751h0M1433 1751h0M1443.5 1751h0M1426.2 1751h0M1354 1751h0M1422.8 1751h0M1375.7 1751h0M1447.4 1751h0M1366 1751h0M1398.5 1751h0M1459.2 1751h0M1411.9 1751h0M1352.6 1751h0M1396.1 1751h0M1335.3 1751h0M1357.8 1751h0M1355.7 1751h0M1394.5 1751h0M1492.2 1751h0M1465.4 1751h0M1410.9 1751h0M1353.3 1751h0M1432.4 1751h0M1473.5 1751h0M1448.3 1751h0M1425.7 1751h0M1370.8 1751h0M1413.2 1751h0M1444 1751h0M1395.2 1751h0M1493.3 1751h0M1379.6 1751h0M1434.8 1812.7h0M1416 1812.7h0M1318.2 1812.7h0M1420.4 1812.7h0M1483.9 1812.7h0M1394.9 1812.7h0M1416.7 1812.7h0M1408.4 1812.7h0M1452.6 1812.7h0M1385.6 1812.7h0M1412.3 1812.7h0M1432.1 1812.7h0M1407.3 1812.7h0M1375 1812.7h0M1435.7 1812.7h0M1465.5 1812.7h0M1393.3 1812.7h0M1361.8 1812.7h0M1706 1595h0M1720.1 1643.3h0M1757.7 1643.3h0M1800.5 1643.3h0M1785.4 1643.3h0M1817.1 1643.3h0M1707.7 1681.7h0M1738.1 1681.7h0M1829.1 1681.7h0M1690.3 1681.7h0M1751.1 1681.7h0M1663.9 1681.7h0M1746.2 1681.7h0M1774.7 1681.7h0M1728.6 1681.7h0M1812.9 1681.7h0M1746.6 1681.7h0M1814.5 1681.7h0M1765 1681.7h0M1748.6 1681.7h0M1688 1681.7h0M1771.6 1681.7h0M1677.5 1681.7h0M1739.2 1681.7h0M1703.3 1681.7h0M1822.4 1681.7h0M1769.5 1681.7h0M1776 1681.7h0M1812.7 1681.7h0M1737.9 1681.7h0M1746.5 1681.7h0M1744.1 1681.7h0M1727.1 1681.7h0M1745.3 1681.7h0M1811.1 1681.7h0M1762 1681.7h0M1745.6 1681.7h0M1742 1681.7h0M1777.4 1681.7h0M1671 1681.7h0M1806.9 1681.7h0M1750.7 1681.7h0M1780.8 1681.7h0M1787.3 1681.7h0M1694.7 1681.7h0M1756.2 1681.7h0M1713 1681.7h0M1700.2 1681.7h0M1743 1681.7h0M1808.8 1681.7h0M1739.7 1681.7h0M1733.8 1681.7h0M1777.6 1747.3h0M1700.7 1747.3h0M1832.1 1747.3h0M1794.3 1747.3h0M1779.4 1747.3h0M1673.3 1747.3h0M1791.8 1747.3h0M1819.1 1747.3h0M1765 1747.3h0M1718.9 1747.3h0M1760.7 1747.3h0M1701.1 1747.3h0M1742.2 1747.3h0M1664.1 1747.3h0M1716 1747.3h0M1840.3 1747.3h0M1663.3 1747.3h0M1746.6 1747.3h0M1737 1747.3h0M1761.3 1747.3h0M1706.6 1747.3h0M1726.9 1747.3h0M1781.2 1747.3h0M1753.6 1747.3h0M1728.8 1747.3h0M1794.3 1747.3h0M1724.2 1747.3h0M1748.9 1747.3h0M1770.2 1747.3h0M1807.1 1747.3h0M1835.5 1747.3h0M1697.7 1747.3h0M1839.5 1747.3h0M1784.6 1747.3h0M1756.2 1747.3h0M1785 1747.3h0M1703.6 1747.3h0M1684.4 1747.3h0M1741.9 1747.3h0M1695.9 1747.3h0M1755.5 1812.9h0M1704.4 1812.9h0M1731.6 1812.9h0M1744.9 1812.9h0M1690 1812.9h0M1737.7 1812.9h0M1818 1812.9h0M1752.8 1812.9h0M1768.7 1812.9h0M1731.4 1812.9h0M1794.5 1812.9h0M1710.4 1812.9h0M1729.3 1812.9h0M1689.3 1812.9h0M1711.4 1812.9h0M1737.4 1812.9h0M1777.6 1812.9h0M1712.4 1812.9h0M1749.8 1812.9h0M1770.6 1812.9h0M1706.5 1812.9h0M1742.5 1812.9h0M1805.4 1812.9h0M1710.8 1812.9h0M1722.8 1812.9h0M1739.4 1812.9h0M1712.6 1812.9h0M1743.7 1812.9h0M1722.7 1812.9h0M1716.3 1812.9h0M1775.1 1812.9h0M1745.8 1812.9h0M799.8 1987.2h0M747.3 1987.2h0M686.8 1987.2h0M710.7 2014.3h0M766.6 2014.3h0M696.9 2052.5h0M687.2 2052.5h0M649 2052.5h0M684.4 2052.5h0M736.1 2052.5h0M690.3 2052.5h0M786.6 2052.5h0M744.8 2052.5h0M665.9 2052.5h0M720.2 2052.5h0M705.4 2052.5h0M748 2052.5h0M755.7 2052.5h0M664.9 2052.5h0M760.2 2117.8h0M761.1 2117.8h0M724.4 2117.8h0M748 2117.8h0M714.7 2117.8h0M808.3 2117.8h0M705.9 2117.8h0M691.7 2117.8h0M692.1 2117.8h0M737.9 2117.8h0M757.3 2117.8h0M713.6 2117.8h0M755.6 2117.8h0M698.4 2117.8h0M696.9 2117.8h0M698 2117.8h0M758.7 2117.8h0M750.6 2117.8h0M693.6 2117.8h0M751.6 2117.8h0M733.4 2117.8h0M802.4 2117.8h0M731.4 2117.8h0M735.3 2117.8h0M696 2117.8h0M673.3 2117.8h0M815.3 2117.8h0M722.4 2117.8h0M699.4 2117.8h0M798.2 2117.8h0M763 2117.8h0M713.4 2117.8h0M693.1 2117.8h0M702.3 2117.8h0M669.7 2117.8h0M806.6 2117.8h0M716 2117.8h0M668.7 2117.8h0M721.1 2117.8h0M783.2 2117.8h0M807.7 2183.1h0M667.6 2183.1h0M691.8 2183.1h0M667.4 2183.1h0M746.2 2183.1h0M714.1 2183.1h0M730.9 2183.1h0M729.7 2183.1h0M768 2183.1h0M671.6 2183.1h0M804.2 2183.1h0M712.2 2183.1h0M732.7 2183.1h0M691 2183.1h0M650.7 2183.1h0M742.8 2183.1h0M747.7 2183.1h0M685.9 2183.1h0M752 2183.1h0M723.1 2183.1h0M812.2 2183.1h0M694.2 2183.1h0M1082.7 1987.2h0M1016.1 1987.2h0M1040.2 1987.2h0M1024 2014.3h0M1114.9 2014.3h0M1050.7 2052.5h0M1094.3 2052.5h0M1049.5 2052.5h0M1053.7 2052.5h0M1069 2052.5h0M979.8 2052.5h0M1040.4 2052.5h0M1088 2052.5h0M1050.1 2052.5h0M985.7 2052.5h0M1045.6 2052.5h0M1037.2 2052.5h0M1096.3 2052.5h0M1078.9 2052.5h0M1046.1 2052.5h0M1048.5 2117.8h0M1034.5 2117.8h0M1049.6 2117.8h0M1114.1 2117.8h0M1032.1 2117.8h0M1021.9 2117.8h0M1059.3 2117.8h0M972.8 2117.8h0M1023.2 2117.8h0M1083.2 2117.8h0M1053.7 2117.8h0M1081.9 2117.8h0M1095.4 2117.8h0M1147.9 2117.8h0M1101.7 2117.8h0M1093.1 2117.8h0M1015.3 2117.8h0M1060.4 2117.8h0M1046.5 2117.8h0M1049.1 2117.8h0M1021 2117.8h0M1038.2 2117.8h0M1151.7 2117.8h0M1075.7 2117.8h0M1035 2117.8h0M1034.8 2117.8h0M1114.7 2117.8h0M1031.7 2117.8h0M1108.1 2117.8h0M975.9 2117.8h0M1069.6 2117.8h0M1077 2117.8h0M1094.7 2117.8h0M1086 2117.8h0M1044.8 2117.8h0M1090.6 2117.8h0M1016.4 2183.1h0M1128.9 2183.1h0M1037.2 2183.1h0M1051.7 2183.1h0M1117.3 2183.1h0M1062.1 2183.1h0M1014.7 2183.1h0M1060.7 2183.1h0M1017 2183.1h0M1086.8 2183.1h0M1089.7 2183.1h0M1091.8 2183.1h0M1044.8 2183.1h0M1053.6 2183.1h0M1112.8 2183.1h0M1088.1 2183.1h0M1049.2 2183.1h0M1088.5 2183.1h0M978.9 2183.1h0M1088.2 2183.1h0M1036.2 2183.1h0M1081.8 2183.1h0M1058.8 2183.1h0M1074.6 2183.1h0M1061.4 2183.1h0M1054.2 2183.1h0M1095.5 2183.1h0M1112.1 2183.1h0M1032.7 2183.1h0M1028.7 2183.1h0M1017.4 2183.1h0M1385.4 2003h0M1406 2003h0M1414.3 2093.8h0M1352.5 2093.8h0M1373.1 2093.8h0M1448.6 2093.8h0M1375.1 2093.8h0M1383.6 2093.8h0M1355.9 2093.8h0M1350.2 2093.8h0M1325.8 2093.8h0M1361.1 2093.8h0M1347 2093.8h0M1404.1 2093.8h0M1414.2 2184.6h0M1394.4 2184.6h0M1416.9 2184.6h0M1424.8 2184.6h0M1416.1 2184.6h0M1461.2 2184.6h0M1393.4 2184.6h0M1349.5 2184.6h0M1382 2184.6h0M1407 2184.6h0M1388.7 2184.6h0M1481.4 2184.6h0M1387.9 2184.6h0M1349.6 2184.6h0M1350.7 2184.6h0M1357.7 2184.6h0M1411.2 2184.6h0M1411 2184.6h0M1388.5 2184.6h0M1368 2184.6h0M1419.1 2184.6h0M1364.4 2184.6h0M1381.2 2184.6h0M1391.9 2184.6h0M1367.7 2184.6h0M1394.5 2184.6h0M1447.8 2184.6h0M1375.4 2184.6h0M1458.6 2184.6h0M1393.9 2184.6h0M1370.3 2184.6h0M1325.8 2184.6h0M1356.2 2184.6h0M1430.6 2184.6h0M1411.4 2184.6h0M1398 2184.6h0M1364.4 2184.6h0M1432.4 2184.6h0M1408.4 2184.6h0M1426.4 2184.6h0M1396.6 2184.6h0M1364.8 2184.6h0M1412.2 2184.6h0M1336.7 2184.6h0M1328.9 2184.6h0M1393.5 2184.6h0M1349.8 2184.6h0M1393.1 2184.6h0M1463 2184.6h0M1396.9 2184.6h0M1405 2184.6h0M1434.1 2184.6h0M1466.2 2184.6h0M1351 2184.6h0M1405.8 2184.6h0M1445 2184.6h0M1428.6 2184.6h0M1324 2184.6h0M1363.6 2184.6h0M1488.5 2184.6h0M1376.5 2184.6h0M1313.9 2184.6h0M1466.1 2184.6h0M1458.3 2184.6h0M1339.1 2184.6h0M1367.7 2184.6h0M1346.3 2184.6h0M1352.9 2184.6h0M1400.3 2184.6h0M1487 2184.6h0M1383 2184.6h0M1420.4 2184.6h0M1401.8 2184.6h0M1415.4 2184.6h0M1371.8 2184.6h0M1782.8 2003h0M1812.3 2093.8h0M1729.7 2093.8h0M1745.6 2093.8h0M1730.5 2093.8h0M1755.8 2093.8h0M1695.5 2093.8h0M1731.4 2093.8h0M1743.1 2093.8h0M1719.1 2093.8h0M1771 2093.8h0M1710.3 2184.6h0M1744.5 2184.6h0M1725.1 2184.6h0M1784.1 2184.6h0M1713 2184.6h0M1795.7 2184.6h0M1723.4 2184.6h0M1810.7 2184.6h0M1775.4 2184.6h0M1693.6 2184.6h0M1747 2184.6h0M1768.9 2184.6h0M1745.2 2184.6h0M1777.3 2184.6h0M1732.4 2184.6h0M1661.6 2184.6h0M1724 2184.6h0M1776.2 2184.6h0M1768.7 2184.6h0M1736.2 2184.6h0M1783.2 2184.6h0M1837.5 2184.6h0M1791.3 2184.6h0M1740.4 2184.6h0M1768.9 2184.6h0M1713.3 2184.6h0M1679.1 2184.6h0M1743.7 2184.6h0M1707.1 2184.6h0M1709.5 2184.6h0M1702.4 2184.6h0M1791.1 2184.6h0M1822.2 2184.6h0M1720.7 2184.6h0M1781.9 2184.6h0M1717.6 2184.6h0M1765.4 2184.6h0M1702.5 2184.6h0M1760.9 2184.6h0M1740.4 2184.6h0M1730.9 2184.6h0M1746.9 2184.6h0M1743.7 2184.6h0M1806.7 2184.6h0M1702.6 2184.6h0M1750.3 2184.6h0M1807.3 2184.6h0M1745.5 2184.6h0M1722.7 2184.6h0M1770.6 2184.6h0M1712.4 2184.6h0M1742.5 2184.6h0M1766.5 2184.6h0M1739.1 2184.6h0M1664.5 2184.6h0M1765.2 2184.6h0M1790.5 2184.6h0M1705.1 2184.6h0M1708.7 2184.6h0M1797.7 2184.6h0M1763.1 2184.6h0M1698.6 2184.6h0M1730.2 2184.6h0M1812.3 2184.6h0M1741 2184.6h0M1717.8 2184.6h0M1832.6 2184.6h0M1712.9 2184.6h0M1795.8 2184.6h0M1758.2 2184.6h0M1705.7 2184.6h0M1705.5 2184.6h0M1688.3 2184.6h0M1718 2184.6h0M1772.2 2184.6h0" stroke="#ff7f0e" stroke-width="2.5" stroke-linecap="round" fill="none"/>
<path d="M747.4 1577.1h0M722.3 1594.4h0M737.6 1594.4h0M793.5 1594.4h0M750.9 1615.5h0M719.5 1615.5h0M784.2 1615.5h0M774.5 1615.5h0M717.1 1615.5h0M760.1 1615.5h0M734.2 1615.5h0M765.1 1615.5h0M757.7 1615.5h0M707.2 1615.5h0M723.6 1615.5h0M771.4 1615.5h0M759.1 1642.7h0M792.3 1642.7h0M740.5 1642.7h0M802.3 1642.7h0M841.1 1642.7h0M789.1 1642.7h0M789.1 1642.7h0M773.1 1642.7h0M737.7 1642.7h0M707.4 1642.7h0M755.8 1642.7h0M763.3 1642.7h0M749.5 1642.7h0M724.6 1642.7h0M788 1642.7h0M827.7 1642.7h0M753.8 1642.7h0M837.1 1642.7h0M709.7 1642.7h0M727.2 1642.7h0M797.4 1642.7h0M785.9 1642.7h0M733.3 1642.7h0M786.1 1642.7h0M790.8 1642.7h0M714.1 1642.7h0M775.6 1642.7h0M790.9 1642.7h0M713.5 1642.7h0M724.6 1642.7h0M758.7 1681.1h0M803.4 1681.1h0M748.5 1681.1h0M711.7 1681.1h0M756.1 1681.1h0M764 1681.1h0M742 1681.1h0M764.5 1681.1h0M758.6 1681.1h0M757.7 1681.1h0M776.9 1681.1h0M800.5 1681.1h0M1177.5 1577.1h0M1098.5 1577.1h0M1058.4 1577.1h0M1071.2 1594.4h0M1081.4 1594.4h0M1117.8 1594.4h0M1117.2 1594.4h0M1100.3 1594.4h0M1045.9 1594.4h0M1069.7 1594.4h0M1175 1594.4h0M1135.3 1594.4h0M1108.6 1594.4h0M1170.6 1594.4h0M1054.5 1594.4h0M1051.3 1615.5h0M1116.1 1615.5h0M1101.1 1615.5h0M1096.2 1615.5h0M1126.9 1615.5h0M1069.1 1615.5h0M1051.6 1615.5h0M1076.1 1615.5h0M1059.9 1615.5h0M1110.5 1615.5h0M1059.4 1615.5h0M1052.6 1615.5h0M1091.6 1615.5h0M1120 1615.5h0M1041.7 1615.5h0M1085.2 1615.5h0M1121.6 1615.5h0M1058.9 1615.5h0M1123.1 1615.5h0M1122.8 1615.5h0M1159.3 1615.5h0M1050 1615.5h0M1042 1615.5h0M1103 1615.5h0M1160.7 1615.5h0M1150.2 1615.5h0M1043.7 1615.5h0M1086.5 1615.5h0M1125.6 1642.7h0M1064.2 1642.7h0M1091 1642.7h0M1136.6 1642.7h0M1040.8 1642.7h0M1075.9 1642.7h0M1063.9 1642.7h0M1106.1 1642.7h0M1084.4 1642.7h0M1058.8 1642.7h0M1130.3 1642.7h0M1113.2 1642.7h0M1068.3 1642.7h0M1126.7 1642.7h0M1133.3 1642.7h0M1052.1 1642.7h0M1058.4 1642.7h0M1086.3 1642.7h0M1090.9 1642.7h0M1069.4 1642.7h0M1113.1 1642.7h0M1103.2 1642.7h0M1076 1642.7h0M1061.8 1642.7h0M1108.4 1642.7h0M1056.3 1642.7h0M1152 1681.1h0M1130.8 1681.1h0M1108.9 1681.1h0M1113.5 1681.1h0M1173 1681.1h0M1439.5 1577.8h0M1504 1591.5h0M1395.6 1591.5h0M1448.4 1591.5h0M1442.3 1607.8h0M1457.8 1607.8h0M1423.4 1607.8h0M1493.1 1607.8h0M1459.9 1607.8h0M1474.5 1607.8h0M1452.7 1607.8h0M1485.6 1607.8h0M1437 1607.8h0M1476.7 1607.8h0M1443 1627.6h0M1393.8 1627.6h0M1381.2 1627.6h0M1463.5 1627.6h0M1455 1627.6h0M1405.7 1627.6h0M1407.5 1627.6h0M1478.1 1627.6h0M1393.7 1627.6h0M1437.5 1627.6h0M1419.2 1627.6h0M1383.2 1627.6h0M1437.3 1627.6h0M1466.5 1627.6h0M1465 1627.6h0M1517.3 1627.6h0M1463 1627.6h0M1417.8 1627.6h0M1485.9 1627.6h0M1415.7 1627.6h0M1448.6 1627.6h0M1477.6 1627.6h0M1447.8 1627.6h0M1448.7 1627.6h0M1457.8 1627.6h0M1498.7 1627.6h0M1382.8 1627.6h0M1510.4 1627.6h0M1479.4 1627.6h0M1459.2 1627.6h0M1377.3 1627.6h0M1394.9 1627.6h0M1449.4 1627.6h0M1501.6 1627.6h0M1516.4 1627.6h0M1426 1653.2h0M1460.2 1653.2h0M1378.2 1653.2h0M1382.4 1653.2h0M1387.5 1653.2h0M1441.7 1653.2h0M1434.7 1653.2h0M1439.9 1653.2h0M1413.5 1653.2h0M1453.4 1653.2h0M1419.2 1653.2h0M1509.7 1653.2h0M1391.7 1653.2h0M1453.9 1653.2h0M1427.4 1653.2h0M1434.6 1653.2h0M1499.9 1653.2h0M1414.1 1653.2h0M1409.7 1653.2h0M1434.1 1653.2h0M1504.3 1689.3h0M1454 1689.3h0M1415 1689.3h0M1459.2 1689.3h0M1734.3 1595h0M1804.2 1595h0M1861.3 1616.1h0M1787.7 1616.1h0M1767 1616.1h0M1761.4 1616.1h0M1732.3 1616.1h0M1819.3 1616.1h0M1851 1616.1h0M1767.4 1616.1h0M1728 1643.3h0M1842.1 1643.3h0M1855.5 1643.3h0M1796.5 1643.3h0M1745.6 1643.3h0M1793.1 1643.3h0M1792.1 1643.3h0M1766.6 1643.3h0M1783.9 1643.3h0M1770 1643.3h0M1812.3 1643.3h0M1819.8 1643.3h0M1779 1643.3h0M1749.1 1643.3h0M1838.5 1643.3h0M1728 1643.3h0M1725.3 1643.3h0M1770.7 1643.3h0M1846.1 1643.3h0M1755.7 1643.3h0M1741.2 1643.3h0M1782.3 1643.3h0M1764.5 1643.3h0M1748.2 1643.3h0M1752.7 1643.3h0M1783.8 1643.3h0M1759.6 1643.3h0M1799.6 1681.7h0M1740.2 1681.7h0M1811 1681.7h0M1779.9 1681.7h0M1743.9 1681.7h0M1739.5 1681.7h0M1725.7 1681.7h0M1728 1681.7h0M1782.9 1681.7h0M1811.3 1681.7h0M1753 1681.7h0M1828.3 1681.7h0M1786.6 1681.7h0M1757.4 1681.7h0M1766 1681.7h0M1725.3 1681.7h0M809.2 1987.2h0M784.6 2014.3h0M770.6 2014.3h0M804.9 2052.5h0M769.4 2052.5h0M823.4 2052.5h0M788.9 2052.5h0M713.4 2052.5h0M732.6 2052.5h0M782.1 2052.5h0M736.9 2052.5h0M841.2 2052.5h0M743.4 2052.5h0M835.4 2117.8h0M798 2117.8h0M756.4 2117.8h0M769.1 2117.8h0M838.9 2117.8h0M781.5 2117.8h0M766.6 2117.8h0M737.1 2117.8h0M721.1 2117.8h0M768.2 2117.8h0M751.6 2117.8h0M837.8 2117.8h0M767.7 2117.8h0M762 2117.8h0M720.9 2117.8h0M792 2117.8h0M723.2 2117.8h0M725.8 2117.8h0M775.1 2117.8h0M735.1 2117.8h0M768.2 2117.8h0M794.5 2117.8h0M792.5 2117.8h0M731.1 2117.8h0M840 2117.8h0M713.9 2117.8h0M745.1 2117.8h0M762.9 2117.8h0M816.5 2117.8h0M733.6 2117.8h0M724 2183.1h0M796.7 2183.1h0M771.3 2183.1h0M745.5 2183.1h0M720.9 2183.1h0M802.7 2183.1h0M712.8 2183.1h0M712.6 2183.1h0M734.4 2183.1h0M826 2183.1h0M788.9 2183.1h0M758.7 2183.1h0M731.1 2183.1h0M716.8 2183.1h0M1138.1 1987.2h0M1037.4 2014.3h0M1136.4 2014.3h0M1076.3 2052.5h0M1072.8 2052.5h0M1087 2052.5h0M1086.8 2052.5h0M1123.1 2052.5h0M1076.2 2052.5h0M1045.2 2052.5h0M1147.6 2052.5h0M1063.2 2052.5h0M1082.9 2052.5h0M1174.6 2052.5h0M1144.9 2117.8h0M1065 2117.8h0M1046 2117.8h0M1043.3 2117.8h0M1146.3 2117.8h0M1061.6 2117.8h0M1091 2117.8h0M1088.8 2117.8h0M1089.9 2117.8h0M1100.2 2117.8h0M1071.9 2117.8h0M1175.7 2117.8h0M1075.5 2117.8h0M1092.5 2117.8h0M1139.1 2117.8h0M1084.3 2117.8h0M1078.8 2117.8h0M1044.7 2117.8h0M1113.9 2117.8h0M1096.2 2117.8h0M1059 2117.8h0M1083.9 2117.8h0M1085.8 2117.8h0M1126 2117.8h0M1155.3 2117.8h0M1143.4 2117.8h0M1051.1 2117.8h0M1099.3 2183.1h0M1047 2183.1h0M1097.9 2183.1h0M1047.2 2183.1h0M1063 2183.1h0M1171 2183.1h0M1056.3 2183.1h0M1106 2183.1h0M1122.1 2183.1h0M1046.6 2183.1h0M1080.6 2183.1h0M1081 2183.1h0M1151.3 2183.1h0M1058 2183.1h0M1058.2 2183.1h0M1054.9 2183.1h0M1043.1 2183.1h0M1107.2 2183.1h0M1035 2183.1h0M1123.2 2183.1h0M1434.8 2093.8h0M1478.5 2093.8h0M1428.2 2184.6h0M1449.3 2184.6h0M1444.1 2184.6h0M1376.9 2184.6h0M1493 2184.6h0M1449.8 2184.6h0M1485 2184.6h0M1428.3 2184.6h0M1380.3 2184.6h0M1452.2 2184.6h0M1509.3 2184.6h0M1496.7 2184.6h0M1413.9 2184.6h0M1410.5 2184.6h0M1419.1 2184.6h0M1379.5 2184.6h0M1374 2184.6h0M1403.2 2184.6h0M1385.8 2184.6h0M1372.6 2184.6h0M1405.3 2184.6h0M1435.8 2184.6h0M1390.5 2184.6h0M1456.6 2184.6h0M1454 2184.6h0M1450.6 2184.6h0M1505.2 2184.6h0M1452.2 2184.6h0M1447.9 2184.6h0M1493 2184.6h0M1440.5 2184.6h0M1410.8 2184.6h0M1431.5 2184.6h0M1452.6 2184.6h0M1439.5 2184.6h0M1408.8 2184.6h0M1388 2184.6h0M1371.6 2184.6h0M1498.9 2184.6h0M1403.5 2184.6h0M1386.8 2184.6h0M1411.7 2184.6h0M1396 2184.6h0M1391.8 2184.6h0M1377.9 2184.6h0M1800.5 2093.8h0M1859.9 2093.8h0M1857.8 2184.6h0M1750.7 2184.6h0M1793.5 2184.6h0M1781.1 2184.6h0M1837.9 2184.6h0M1816.4 2184.6h0M1804.1 2184.6h0M1809 2184.6h0M1765.4 2184.6h0M1760.8 2184.6h0M1764.6 2184.6h0M1777 2184.6h0M1851.8 2184.6h0M1750.7 2184.6h0M1817 2184.6h0M1727.8 2184.6h0M1764.3 2184.6h0M1850.3 2184.6h0M1752.1 2184.6h0M1802.5 2184.6h0M1743.7 2184.6h0M1779.3 2184.6h0M1828.9 2184.6h0M1826.1 2184.6h0M1754.8 2184.6h0M1793.9 2184.6h0M1724.7 2184.6h0M1778.4 2184.6h0M1803.8 2184.6h0M1787.4 2184.6h0M1814.6 2184.6h0M1769.2 2184.6h0M1752.2 2184.6h0M1832.6 2184.6h0M1724.7 2184.6h0M1728.1 2184.6h0M1800.9 2184.6h0M1777.3 2184.6h0M1830.4 2184.6h0M1760 2184.6h0M1812.3 2184.6h0M1750.7 2184.6h0M1755.2 2184.6h0M1811.5 2184.6h0M1762.3 2184.6h0" stroke="#8c564b" stroke-width="2.5" stroke-linecap="round" fill="none"/>
<path d="M811.1 1577.1h0M789 1577.1h0M797.1 1577.1h0M867 1594.4h0M865.1 1594.4h0M766.9 1594.4h0M839.2 1594.4h0M848.2 1594.4h0M799.8 1594.4h0M848 1615.5h0M786.4 1615.5h0M804 1615.5h0M792.5 1615.5h0M858.4 1615.5h0M861.7 1615.5h0M757.7 1615.5h0M843.3 1615.5h0M839.7 1615.5h0M839.1 1615.5h0M866.6 1615.5h0M853.1 1615.5h0M846.5 1615.5h0M841.5 1615.5h0M857.3 1642.7h0M860.3 1642.7h0M865.4 1642.7h0M859.8 1642.7h0M757.3 1642.7h0M867.6 1642.7h0M851.6 1642.7h0M847.8 1642.7h0M841 1642.7h0M842.3 1642.7h0M865.1 1642.7h0M774.9 1642.7h0M843.9 1642.7h0M768.1 1642.7h0M761.4 1642.7h0M840.7 1642.7h0M847.4 1642.7h0M795.9 1642.7h0M835.7 1642.7h0M757 1642.7h0M868 1642.7h0M782.7 1642.7h0M774.8 1642.7h0M854.2 1642.7h0M777.3 1642.7h0M800.2 1681.1h0M755.2 1681.1h0M853.2 1681.1h0M838.5 1681.1h0M761.8 1681.1h0M818.5 1681.1h0M823.3 1681.1h0M855.4 1681.1h0M860.1 1681.1h0M836.7 1681.1h0M758.8 1681.1h0M867.1 1681.1h0M854.4 1746.7h0M768.9 1746.7h0M847.2 1812.3h0M1190.3 1577.1h0M1199.7 1577.1h0M1146 1594.4h0M1122.3 1594.4h0M1097.4 1594.4h0M1157.8 1594.4h0M1169.5 1594.4h0M1190.2 1594.4h0M1169.1 1594.4h0M1194.8 1594.4h0M1198.5 1594.4h0M1174 1594.4h0M1110.2 1615.5h0M1191.4 1615.5h0M1185.9 1615.5h0M1195.7 1615.5h0M1147.3 1615.5h0M1113 1615.5h0M1177.4 1615.5h0M1124.1 1615.5h0M1172.3 1615.5h0M1181.9 1615.5h0M1157.8 1615.5h0M1147.4 1615.5h0M1193.2 1615.5h0M1184.8 1615.5h0M1183.5 1642.7h0M1184.6 1642.7h0M1184.8 1642.7h0M1192.2 1642.7h0M1163.9 1642.7h0M1196.9 1642.7h0M1113.3 1642.7h0M1163.8 1642.7h0M1192.3 1642.7h0M1136.1 1642.7h0M1108.6 1642.7h0M1144.6 1642.7h0M1199.5 1642.7h0M1090.6 1642.7h0M1172.9 1642.7h0M1144.7 1642.7h0M1157.7 1642.7h0M1173.7 1642.7h0M1180.2 1642.7h0M1179.9 1642.7h0M1135.8 1642.7h0M1156 1642.7h0M1127.7 1642.7h0M1185.1 1642.7h0M1189.6 1642.7h0M1140.9 1642.7h0M1186.1 1642.7h0M1171.3 1642.7h0M1182.3 1642.7h0M1190.3 1681.1h0M1136.6 1681.1h0M1174.1 1681.1h0M1171.1 1681.1h0M1199.7 1681.1h0M1097.8 1746.7h0M1170.4 1746.7h0M1148.7 1812.3h0M1097.7 1812.3h0M1472 1591.5h0M1520.2 1591.5h0M1525.6 1607.8h0M1517.4 1607.8h0M1519.5 1607.8h0M1506.2 1607.8h0M1508.6 1607.8h0M1508.6 1607.8h0M1514.1 1607.8h0M1456.2 1607.8h0M1534.2 1627.6h0M1442.5 1627.6h0M1509.2 1627.6h0M1530.6 1627.6h0M1521.4 1627.6h0M1513 1627.6h0M1521 1627.6h0M1506.8 1627.6h0M1526.2 1627.6h0M1529.7 1627.6h0M1519.2 1627.6h0M1532.1 1627.6h0M1482.3 1627.6h0M1514.4 1627.6h0M1463.9 1627.6h0M1527.7 1627.6h0M1516.4 1627.6h0M1449.6 1627.6h0M1532.3 1653.2h0M1443.1 1653.2h0M1474.9 1653.2h0M1536.6 1653.2h0M1526 1653.2h0M1517.6 1653.2h0M1535.8 1653.2h0M1506 1653.2h0M1469.3 1653.2h0M1534.9 1653.2h0M1459 1653.2h0M1498.5 1653.2h0M1452.1 1653.2h0M1440.5 1653.2h0M1536.6 1653.2h0M1455.1 1653.2h0M1518.1 1653.2h0M1464.9 1653.2h0M1517.5 1653.2h0M1488.2 1653.2h0M1516.8 1653.2h0M1481.7 1653.2h0M1493.4 1689.3h0M1501 1689.3h0M1473.7 1689.3h0M1526.6 1689.3h0M1473.9 1751h0M1511.5 1751h0M1500.5 1812.7h0M1425.2 1812.7h0M1808.2 1577.7h0M1780.8 1595h0M1860 1595h0M1773.1 1595h0M1856.1 1595h0M1851.4 1616.1h0M1878.4 1616.1h0M1794.8 1616.1h0M1872.5 1616.1h0M1879.9 1616.1h0M1877.6 1616.1h0M1867.4 1616.1h0M1874.2 1616.1h0M1815.3 1616.1h0M1873.4 1616.1h0M1874.9 1643.3h0M1884.8 1643.3h0M1874.7 1643.3h0M1880 1643.3h0M1823.3 1643.3h0M1857.3 1643.3h0M1804.6 1643.3h0M1822.8 1643.3h0M1831.8 1643.3h0M1824.6 1643.3h0M1805.7 1643.3h0M1856.2 1643.3h0M1882.5 1643.3h0M1774.6 1643.3h0M1867.9 1643.3h0M1864.6 1643.3h0M1861.3 1643.3h0M1830.1 1643.3h0M1793 1643.3h0M1787.2 1643.3h0M1884.5 1643.3h0M1862.3 1643.3h0M1861.6 1681.7h0M1877.8 1681.7h0M1813 1681.7h0M1866.8 1681.7h0M1830 1681.7h0M1873.8 1681.7h0M1821.5 1681.7h0M1882.3 1681.7h0M1857.2 1681.7h0M1865.3 1681.7h0M1880.2 1681.7h0M1881.8 1681.7h0M1842.2 1681.7h0M1817.2 1681.7h0M1857.8 1681.7h0M1860 1681.7h0M1861.1 1747.3h0M1865.8 1747.3h0M1884.4 1812.9h0M863.5 2014.3h0M837.8 2052.5h0M843 2052.5h0M855.2 2052.5h0M774.8 2052.5h0M869.7 2052.5h0M844.7 2052.5h0M869.1 2052.5h0M853.4 2052.5h0M839.5 2052.5h0M860.2 2052.5h0M789.2 2117.8h0M768 2117.8h0M848.9 2117.8h0M864 2117.8h0M846.3 2117.8h0M846.8 2117.8h0M791.7 2117.8h0M846.1 2117.8h0M850.6 2117.8h0M867.9 2117.8h0M860.4 2117.8h0M852.2 2117.8h0M866.9 2117.8h0M854.1 2117.8h0M847.2 2117.8h0M868.7 2117.8h0M860.3 2117.8h0M830.1 2117.8h0M853.1 2117.8h0M800.4 2117.8h0M848.9 2117.8h0M781.1 2117.8h0M862.6 2117.8h0M806.2 2117.8h0M835.3 2117.8h0M848.3 2117.8h0M861.7 2117.8h0M865.2 2117.8h0M842.1 2117.8h0M781.8 2117.8h0M855.3 2183.1h0M862 2183.1h0M863.7 2183.1h0M852.3 2183.1h0M848.9 2183.1h0M863.1 2183.1h0M865.7 2183.1h0M843.9 2183.1h0M838.7 2183.1h0M850 2183.1h0M1168.1 2014.3h0M1168.5 2052.5h0M1131 2052.5h0M1137 2052.5h0M1188.3 2052.5h0M1181.8 2052.5h0M1164.8 2052.5h0M1179.5 2052.5h0M1164.9 2052.5h0M1194.7 2052.5h0M1195.4 2052.5h0M1165.6 2052.5h0M1122.5 2117.8h0M1167.7 2117.8h0M1165.6 2117.8h0M1163.9 2117.8h0M1182 2117.8h0M1190.8 2117.8h0M1170.6 2117.8h0M1125.5 2117.8h0M1180 2117.8h0M1193.4 2117.8h0M1134.2 2117.8h0M1189.4 2117.8h0M1133 2117.8h0M1188.1 2117.8h0M1166 2117.8h0M1173.2 2117.8h0M1166.9 2117.8h0M1092.5 2117.8h0M1173.8 2117.8h0M1126.7 2117.8h0M1170.6 2117.8h0M1183.1 2117.8h0M1194.7 2117.8h0M1096 2117.8h0M1164.4 2117.8h0M1170.7 2117.8h0M1175.5 2117.8h0M1192.3 2183.1h0M1175.4 2183.1h0M1181.9 2183.1h0M1164.1 2183.1h0M1170.4 2183.1h0M1190.8 2183.1h0M1083.4 2183.1h0M1187.2 2183.1h0M1189.4 2183.1h0M1102.5 2183.1h0M1166.1 2183.1h0M1165.1 2183.1h0M1178.3 2183.1h0M1195.3 2183.1h0M1480.6 2003h0M1497.3 2093.8h0M1513.1 2093.8h0M1429.5 2184.6h0M1517.5 2184.6h0M1515.8 2184.6h0M1526 2184.6h0M1468.6 2184.6h0M1509.1 2184.6h0M1505.3 2184.6h0M1511.2 2184.6h0M1518.6 2184.6h0M1516.3 2184.6h0M1525.3 2184.6h0M1448.4 2184.6h0M1525 2184.6h0M1488.7 2184.6h0M1526 2184.6h0M1499.8 2184.6h0M1507.1 2184.6h0M1520.2 2184.6h0M1443 2184.6h0M1450 2184.6h0M1525.5 2184.6h0M1447.7 2184.6h0M1522.2 2184.6h0M1457.7 2184.6h0M1481.7 2184.6h0M1511.7 2184.6h0M1430.8 2184.6h0M1531.4 2184.6h0M1502 2184.6h0M1486.8 2184.6h0M1505.5 2184.6h0M1514.3 2184.6h0M1501.5 2184.6h0M1500.8 2184.6h0M1510.5 2184.6h0M1512.4 2184.6h0M1527.6 2184.6h0M1529.8 2184.6h0M1428 2184.6h0M1496.7 2184.6h0M1490.7 2184.6h0M1526.2 2184.6h0M1524.5 2184.6h0M1512.7 2184.6h0M1508.5 2184.6h0M1787.7 2003h0M1788.1 2093.8h0M1851.9 2093.8h0M1772.8 2184.6h0M1881.1 2184.6h0M1854.6 2184.6h0M1776.6 2184.6h0M1881.1 2184.6h0M1795.5 2184.6h0M1838.7 2184.6h0M1860.2 2184.6h0M1827.2 2184.6h0M1854.4 2184.6h0M1798.3 2184.6h0M1800.2 2184.6h0M1846.9 2184.6h0M1851.6 2184.6h0M1868.1 2184.6h0M1771.7 2184.6h0M1861.1 2184.6h0M1880.6 2184.6h0M1871.8 2184.6h0M1877.1 2184.6h0M1868.5 2184.6h0M1813.8 2184.6h0M1873.3 2184.6h0M1860.6 2184.6h0M1816.7 2184.6h0M1876.1 2184.6h0M1805.4 2184.6h0M1874.8 2184.6h0M1864 2184.6h0M1769.3 2184.6h0M1831.5 2184.6h0M1874.2 2184.6h0M1819.4 2184.6h0M1867.6 2184.6h0M1861.2 2184.6h0M1853.7 2184.6h0M1822.1 2184.6h0M1865.9 2184.6h0M1792.2 2184.6h0M1865 2184.6h0M1871.7 2184.6h0M1855.5 2184.6h0M1872.7 2184.6h0M1877.5 2184.6h0M1856.4 2184.6h0" stroke="#2ca02c" stroke-width="2.5" stroke-linecap="round" fill="none"/>
<path d="M845.9 1642.7h0M871.9 1642.7h0M860.9 1642.7h0M843.3 1642.7h0M838.3 1642.7h0M837.6 1642.7h0M855.6 1642.7h0M862.9 1642.7h0M866.7 1642.7h0M858.1 1642.7h0M850.9 1642.7h0M864.8 1642.7h0M853.3 1681.1h0M859.8 1681.1h0M836.7 1681.1h0M819.4 1681.1h0M857.3 1681.1h0M842.8 1681.1h0M848.3 1681.1h0M838.4 1681.1h0M848 1681.1h0M862.1 1681.1h0M865.3 1681.1h0M845.4 1681.1h0M856.1 1681.1h0M846.1 1681.1h0M825.2 1681.1h0M854.5 1681.1h0M859.9 1681.1h0M838.3 1681.1h0M873.1 1681.1h0M846.1 1681.1h0M846.5 1681.1h0M857.7 1681.1h0M851.2 1746.7h0M785.2 1746.7h0M866 1746.7h0M853.1 1746.7h0M859 1746.7h0M859.8 1746.7h0M861.3 1746.7h0M862.8 1746.7h0M839.3 1746.7h0M857.5 1746.7h0M849.8 1746.7h0M864.6 1746.7h0M844 1746.7h0M839.9 1746.7h0M854.5 1746.7h0M808.1 1746.7h0M838.5 1746.7h0M839.8 1746.7h0M850.5 1746.7h0M844.8 1746.7h0M836.7 1746.7h0M823.6 1746.7h0M837.5 1746.7h0M871.3 1746.7h0M857.3 1746.7h0M848.7 1746.7h0M838 1746.7h0M853.8 1746.7h0M851.8 1746.7h0M838.6 1746.7h0M835.2 1746.7h0M856.5 1746.7h0M841.5 1746.7h0M861.5 1746.7h0M841.2 1746.7h0M854.5 1812.3h0M837 1812.3h0M867.3 1812.3h0M841.7 1812.3h0M854.2 1812.3h0M820.6 1812.3h0M839.7 1812.3h0M851.4 1812.3h0M862.2 1812.3h0M860.5 1812.3h0M861.4 1812.3h0M851.4 1812.3h0M869.8 1812.3h0M836.9 1812.3h0M851.3 1812.3h0M866.1 1812.3h0M849.2 1812.3h0M871.7 1812.3h0M844 1812.3h0M842.4 1812.3h0M780.5 1812.3h0M872.9 1812.3h0M1200.3 1681.1h0M1193.4 1681.1h0M1175 1681.1h0M1174.6 1681.1h0M1187.6 1681.1h0M1182.5 1681.1h0M1196.6 1681.1h0M1195.2 1681.1h0M1198.5 1681.1h0M1176.3 1681.1h0M1175.9 1681.1h0M1199 1681.1h0M1173.7 1681.1h0M1188.3 1681.1h0M1167.5 1681.1h0M1193.9 1681.1h0M1178.4 1681.1h0M1166.2 1681.1h0M1174.8 1681.1h0M1178.6 1681.1h0M1194.1 1681.1h0M1203 1681.1h0M1142.9 1681.1h0M1184.4 1681.1h0M1197.3 1681.1h0M1183.2 1681.1h0M1195.3 1681.1h0M1172.6 1681.1h0M1179.4 1681.1h0M1179 1681.1h0M1189.3 1746.7h0M1177.9 1746.7h0M1190.4 1746.7h0M1200.6 1746.7h0M1204 1746.7h0M1180.3 1746.7h0M1185.9 1746.7h0M1182.7 1746.7h0M1201.2 1746.7h0M1184.9 1746.7h0M1179.4 1746.7h0M1193 1746.7h0M1184.8 1746.7h0M1189.8 1746.7h0M1173.5 1746.7h0M1204.3 1746.7h0M1175.8 1746.7h0M1196.4 1746.7h0M1195 1746.7h0M1191.1 1746.7h0M1197.2 1746.7h0M1169.4 1746.7h0M1176.6 1746.7h0M1178.5 1746.7h0M1182.9 1746.7h0M1181 1746.7h0M1184 1746.7h0M1184.3 1746.7h0M1163.1 1746.7h0M1171.2 1746.7h0M1160 1812.3h0M1169.3 1812.3h0M1185.1 1812.3h0M1182.1 1812.3h0M1197.7 1812.3h0M1180.8 1812.3h0M1185.7 1812.3h0M1184.4 1812.3h0M1194 1812.3h0M1198 1812.3h0M1183.1 1812.3h0M1167.3 1812.3h0M1190.6 1812.3h0M1112.9 1812.3h0M1524.1 1577.8h0M1451.9 1689.3h0M1508.2 1689.3h0M1522.6 1689.3h0M1507 1689.3h0M1522 1689.3h0M1504.4 1689.3h0M1521.5 1689.3h0M1507.2 1689.3h0M1535 1689.3h0M1533.1 1689.3h0M1507 1689.3h0M1525.9 1689.3h0M1537.1 1689.3h0M1507.8 1689.3h0M1514.9 1689.3h0M1529.3 1689.3h0M1541.3 1689.3h0M1509.1 1689.3h0M1529.2 1689.3h0M1531.5 1689.3h0M1522.1 1689.3h0M1526.5 1689.3h0M1514 1689.3h0M1506 1689.3h0M1514.9 1689.3h0M1534.5 1751h0M1513.8 1751h0M1510 1751h0M1517.5 1751h0M1530.1 1751h0M1505.8 1751h0M1503.9 1751h0M1536.3 1751h0M1536 1751h0M1526.3 1751h0M1518.3 1751h0M1506.9 1751h0M1541.4 1751h0M1506 1751h0M1523 1751h0M1477.9 1751h0M1512.5 1751h0M1514.9 1751h0M1490.8 1751h0M1532.6 1751h0M1516.3 1751h0M1517.8 1751h0M1507.4 1751h0M1504.5 1751h0M1520.4 1751h0M1506.6 1751h0M1517.6 1751h0M1524.4 1751h0M1535.8 1751h0M1538.6 1751h0M1526.8 1812.7h0M1515.2 1812.7h0M1513 1812.7h0M1507.8 1812.7h0M1532.5 1812.7h0M1518.6 1812.7h0M1514.9 1812.7h0M1519.4 1812.7h0M1526.6 1812.7h0M1526.7 1812.7h0M1514.9 1812.7h0M1488.4 1812.7h0M1503.8 1812.7h0M1514.7 1812.7h0M1881.6 1643.3h0M1872.3 1643.3h0M1868 1643.3h0M1889.7 1643.3h0M1860.4 1643.3h0M1867.4 1643.3h0M1874.4 1643.3h0M1872.7 1643.3h0M1877.4 1643.3h0M1831.7 1643.3h0M1860.3 1643.3h0M1854.8 1681.7h0M1819.1 1681.7h0M1856.7 1681.7h0M1855.1 1681.7h0M1862.8 1681.7h0M1863.9 1681.7h0M1882.1 1681.7h0M1883.1 1681.7h0M1877.6 1681.7h0M1871.3 1681.7h0M1875.3 1681.7h0M1860.8 1681.7h0M1880.8 1681.7h0M1878.7 1681.7h0M1859.6 1681.7h0M1888.8 1681.7h0M1883.3 1681.7h0M1876.2 1681.7h0M1877.2 1681.7h0M1862.6 1681.7h0M1878 1681.7h0M1853.4 1681.7h0M1876.9 1681.7h0M1868.4 1681.7h0M1872.8 1681.7h0M1861.5 1681.7h0M1880.7 1681.7h0M1853.2 1681.7h0M1878.8 1681.7h0M1860.6 1747.3h0M1853.6 1747.3h0M1872.1 1747.3h0M1878.4 1747.3h0M1876 1747.3h0M1886.1 1747.3h0M1820.4 1747.3h0M1872.5 1747.3h0M1874.9 1747.3h0M1870.4 1747.3h0M1881.8 1747.3h0M1862.6 1747.3h0M1863.5 1747.3h0M1870.6 1747.3h0M1864.1 1747.3h0M1881.5 1747.3h0M1857.3 1747.3h0M1882.8 1747.3h0M1857.5 1747.3h0M1865 1747.3h0M1881.2 1747.3h0M1862.6 1747.3h0M1855.8 1747.3h0M1874.3 1747.3h0M1869.8 1747.3h0M1855.9 1747.3h0M1858.1 1747.3h0M1874.4 1747.3h0M1881.4 1747.3h0M1883.4 1747.3h0M1886.9 1747.3h0M1873.8 1747.3h0M1883.8 1812.9h0M1853.4 1812.9h0M1862.3 1812.9h0M1864.3 1812.9h0M1885.6 1812.9h0M1857.5 1812.9h0M1877.6 1812.9h0M1862.9 1812.9h0M1858.6 1812.9h0M1853.3 1812.9h0M1881.1 1812.9h0M1873.8 1812.9h0M1857.6 1812.9h0M1868.9 1812.9h0M1872.1 1812.9h0M1876.9 1812.9h0M1882.8 1812.9h0M1863.7 1812.9h0M829.5 1949h0M844.5 1949h0M860.7 1966.2h0M837.4 1966.2h0M866.7 1966.2h0M858.7 1966.2h0M858.4 1966.2h0M856.3 1966.2h0M847.6 1966.2h0M857.8 1966.2h0M852.4 1966.2h0M855.8 1987.2h0M856.8 1987.2h0M864.5 1987.2h0M850.7 1987.2h0M871.9 1987.2h0M791.1 1987.2h0M838.2 1987.2h0M863.7 1987.2h0M858 1987.2h0M875 1987.2h0M854.3 1987.2h0M849.5 1987.2h0M842.2 1987.2h0M839.7 1987.2h0M837.2 1987.2h0M845 1987.2h0M857.6 1987.2h0M857.9 1987.2h0M854.7 1987.2h0M847.2 1987.2h0M860 1987.2h0M866.6 1987.2h0M842.3 2014.3h0M842.8 2014.3h0M843.9 2014.3h0M845.2 2014.3h0M839.6 2014.3h0M838.7 2014.3h0M844.5 2014.3h0M844.8 2014.3h0M853.2 2014.3h0M866.4 2014.3h0M850.1 2014.3h0M868.5 2014.3h0M850 2014.3h0M849.6 2014.3h0M857.3 2014.3h0M866.8 2014.3h0M848.7 2014.3h0M867.4 2014.3h0M837.2 2014.3h0M851.1 2014.3h0M848.5 2014.3h0M870.4 2014.3h0M842.4 2014.3h0M847.1 2014.3h0M859.4 2014.3h0M851.5 2014.3h0M828.2 2052.5h0M855 2052.5h0M841.3 2052.5h0M837.4 2052.5h0M853.9 2052.5h0M873 2052.5h0M862 2052.5h0M871.6 2052.5h0M867.7 2052.5h0M860.2 2052.5h0M842 2052.5h0M848.9 2052.5h0M866.3 2052.5h0M844.9 2052.5h0M837.1 2052.5h0M851.9 2052.5h0M850.1 2052.5h0M781.9 2052.5h0M842.8 2052.5h0M843.5 2052.5h0M849 2052.5h0M786.6 2052.5h0M857.1 2117.8h0M838.5 2117.8h0M867.7 2117.8h0M841.2 2117.8h0M862 2117.8h0M858.8 2117.8h0M800.4 2117.8h0M841.8 2117.8h0M852.8 2117.8h0M847.2 2117.8h0M856.9 2117.8h0M873.9 2117.8h0M841 2117.8h0M843.3 2117.8h0M842.8 2117.8h0M840.3 2117.8h0M852.5 2117.8h0M852.3 2117.8h0M850.1 2117.8h0M873.9 2117.8h0M1173.8 1949h0M1193.9 1966.2h0M1187.8 1966.2h0M1167.6 1966.2h0M1187.2 1966.2h0M1184.2 1966.2h0M1167.8 1966.2h0M1175.1 1966.2h0M1191.6 1966.2h0M1196.6 1966.2h0M1151.7 1987.2h0M1170.5 1987.2h0M1200.3 1987.2h0M1166.1 1987.2h0M1187.7 1987.2h0M1194.7 1987.2h0M1147.1 1987.2h0M1179.9 1987.2h0M1187.5 1987.2h0M1189.7 1987.2h0M1181.9 1987.2h0M1150.3 1987.2h0M1198.9 1987.2h0M1176.1 1987.2h0M1170.9 1987.2h0M1165.9 1987.2h0M1188.3 1987.2h0M1194.5 1987.2h0M1162.7 1987.2h0M1164.1 1987.2h0M1172.8 1987.2h0M1177.2 1987.2h0M1174.3 2014.3h0M1195.4 2014.3h0M1182.8 2014.3h0M1190.9 2014.3h0M1185 2014.3h0M1180 2014.3h0M1162.5 2014.3h0M1185.3 2014.3h0M1181.4 2014.3h0M1187.1 2014.3h0M1190.7 2014.3h0M1184.3 2014.3h0M1174.3 2014.3h0M1183.6 2014.3h0M1189.2 2014.3h0M1171 2014.3h0M1171.5 2014.3h0M1189.7 2014.3h0M1195.7 2014.3h0M1180.9 2014.3h0M1193.5 2014.3h0M1172.6 2014.3h0M1176.9 2014.3h0M1178.1 2014.3h0M1163 2014.3h0M1172.3 2014.3h0M1185.9 2052.5h0M1187.7 2052.5h0M1163.7 2052.5h0M1192.4 2052.5h0M1163.6 2052.5h0M1164.2 2052.5h0M1194 2052.5h0M1187.6 2052.5h0M1177.4 2052.5h0M1169.2 2052.5h0M1180 2052.5h0M1180 2052.5h0M1191.7 2052.5h0M1174.9 2052.5h0M1190.3 2052.5h0M1186.9 2052.5h0M1174 2052.5h0M1165.4 2052.5h0M1177.6 2052.5h0M1167.7 2052.5h0M1173.6 2052.5h0M1166.1 2052.5h0M1191.1 2052.5h0M1175.1 2052.5h0M1164.5 2117.8h0M1171.3 2117.8h0M1158.2 2117.8h0M1183.3 2117.8h0M1184.8 2117.8h0M1197.2 2117.8h0M1169.4 2117.8h0M1173.3 2117.8h0M1180.3 2117.8h0M1198.6 2117.8h0M1178.3 2117.8h0M1192.1 2117.8h0M1180.9 2117.8h0M1184.6 2117.8h0M1187.9 2117.8h0M1188.7 2117.8h0M1178.6 2117.8h0M1196.2 2117.8h0M1529.8 1949.9h0M1531.2 1949.9h0M1501.5 1949.9h0M1509 2003h0M1504.2 2003h0M1516.1 2003h0M1511.3 2003h0M1505.6 2003h0M1500.9 2003h0M1503 2003h0M1524.6 2003h0M1518.2 2003h0M1516.3 2003h0M1504.8 2003h0M1506.5 2003h0M1510.4 2003h0M1534.1 2003h0M1508.6 2003h0M1527.4 2003h0M1526.6 2093.8h0M1517.6 2093.8h0M1500.8 2093.8h0M1518.9 2093.8h0M1520.1 2093.8h0M1501.3 2093.8h0M1506.3 2093.8h0M1507.5 2093.8h0M1517.6 2093.8h0M1520.2 2093.8h0M1534.7 2093.8h0M1528.4 2093.8h0M1529.5 2093.8h0M1513.3 2093.8h0M1503.5 2093.8h0M1508.9 2093.8h0M1531.7 2093.8h0M1510.9 2093.8h0M1472.6 2093.8h0M1511.9 2093.8h0M1520.7 2093.8h0M1518.5 2093.8h0M1535.3 2093.8h0M1519.7 2093.8h0M1519.7 2093.8h0M1514.6 2093.8h0M1502.6 2093.8h0M1506.6 2093.8h0M1503.6 2093.8h0M1528.3 2093.8h0M1477.6 2093.8h0M1500.1 2093.8h0M1523.8 2093.8h0M1533.4 2093.8h0M1511.7 2184.6h0M1532.9 2184.6h0M1520.3 2184.6h0M1517 2184.6h0M1529.2 2184.6h0M1504.7 2184.6h0M1523 2184.6h0M1531.9 2184.6h0M1524.5 2184.6h0M1505.6 2184.6h0M1519.6 2184.6h0M1524.5 2184.6h0M1519.4 2184.6h0M1526.4 2184.6h0M1504.7 2184.6h0M1531.6 2184.6h0M1523.7 2184.6h0M1503.6 2184.6h0M1529 2184.6h0M1503.7 2184.6h0M1501.2 2184.6h0M1530.3 2184.6h0M1516.3 2184.6h0M1531.3 2184.6h0M1511.5 2184.6h0M1503.3 2184.6h0M1506.8 2184.6h0M1510.3 2184.6h0M1503.7 2184.6h0M1537.5 2184.6h0M1869.1 1949.9h0M1830.1 1949.9h0M1858.1 2003h0M1873.4 2003h0M1884.5 2003h0M1856 2003h0M1880.5 2003h0M1854.4 2003h0M1852.3 2003h0M1866.2 2003h0M1858.8 2003h0M1863.8 2003h0M1880.3 2093.8h0M1887.6 2093.8h0M1863.3 2093.8h0M1875.3 2093.8h0M1830.9 2093.8h0M1852.5 2093.8h0M1851.9 2093.8h0M1849.7 2093.8h0M1859.9 2093.8h0M1883.9 2093.8h0M1879.7 2093.8h0M1885.6 2093.8h0M1861 2093.8h0M1859.1 2093.8h0M1882.3 2093.8h0M1878.5 2093.8h0M1871 2093.8h0M1873.6 2093.8h0M1870.1 2093.8h0M1882.4 2093.8h0M1885.2 2093.8h0M1886.9 2093.8h0M1878.4 2093.8h0M1858.2 2093.8h0M1859.9 2093.8h0M1865.1 2093.8h0M1877 2093.8h0M1883.5 2184.6h0M1864.8 2184.6h0M1872.1 2184.6h0M1863.8 2184.6h0M1822.2 2184.6h0M1851 2184.6h0M1867.4 2184.6h0M1860.2 2184.6h0M1870.2 2184.6h0M1870.5 2184.6h0M1874.2 2184.6h0M1857.5 2184.6h0M1863.4 2184.6h0M1887.7 2184.6h0M1859.2 2184.6h0M1859.9 2184.6h0M1872.5 2184.6h0M1862.9 2184.6h0M1849.7 2184.6h0M1871.3 2184.6h0M1868.4 2184.6h0M1873 2184.6h0M1830 2184.6h0M1877.6 2184.6h0M1880.9 2184.6h0M1854.2 2184.6h0M1864.4 2184.6h0M1819.3 2184.6h0M1855.9 2184.6h0M1873.6 2184.6h0" stroke="#d62728" stroke-width="2.5" stroke-linecap="round" fill="none"/>
<path d="M867.4 1577.1h0M872.5 1577.1h0M866.1 1577.1h0M871.5 1594.4h0M865 1594.4h0M869.3 1594.4h0M863.8 1594.4h0M872.9 1594.4h0M870.2 1594.4h0M865.2 1615.5h0M864.7 1615.5h0M872.5 1615.5h0M873 1615.5h0M865.3 1615.5h0M864.5 1615.5h0M839.4 1615.5h0M865.4 1615.5h0M867.9 1642.7h0M870.5 1642.7h0M873 1642.7h0M862.9 1642.7h0M859.2 1642.7h0M1196.7 1577.1h0M1202.9 1577.1h0M1199.7 1577.1h0M1201.5 1577.1h0M1196.9 1577.1h0M1197.9 1577.1h0M1205.2 1594.4h0M1198.1 1594.4h0M1201.7 1594.4h0M1194.8 1594.4h0M1203.9 1594.4h0M1200.8 1594.4h0M1197.2 1594.4h0M1201.8 1594.4h0M1204.2 1615.5h0M1201 1615.5h0M1201.6 1615.5h0M1198.6 1615.5h0M1204.7 1615.5h0M1205.2 1615.5h0M1202.2 1642.7h0M1204.5 1642.7h0M1201.1 1642.7h0M1198 1642.7h0M1535 1577.8h0M1537 1577.8h0M1536.6 1577.8h0M1536.6 1591.5h0M1537.5 1591.5h0M1538.1 1591.5h0M1531.9 1591.5h0M1538.3 1591.5h0M1538.9 1591.5h0M1532.9 1607.8h0M1538.9 1607.8h0M1535.9 1607.8h0M1539.8 1607.8h0M1539.9 1607.8h0M1533.3 1607.8h0M1532.7 1607.8h0M1532.6 1627.6h0M1536.3 1627.6h0M1537.3 1627.6h0M1531.3 1627.6h0M1534.9 1627.6h0M1539.9 1627.6h0M1538.8 1627.6h0M1537.5 1627.6h0M1537.6 1653.2h0M1537 1653.2h0M1535.6 1653.2h0M1887.9 1577.7h0M1885.7 1595h0M1884.4 1595h0M1887.8 1595h0M1888.5 1595h0M1884.2 1616.1h0M1887 1616.1h0M1885.2 1616.1h0M1886 1616.1h0M1883.6 1616.1h0M1889.2 1616.1h0M1884.9 1643.3h0M1887.9 1643.3h0M1885.9 1643.3h0M1880.5 1643.3h0M869.8 2052.5h0M866.2 2052.5h0M872.5 2052.5h0M873.1 2052.5h0M870.5 2052.5h0M869.7 2052.5h0M866.4 2117.8h0M869.3 2117.8h0M870.1 2117.8h0M860.7 2117.8h0M873.3 2117.8h0M837.7 2117.8h0M870.3 2117.8h0M836.4 2117.8h0M856.4 2183.1h0M864.4 2183.1h0M865.3 2183.1h0M867.4 2183.1h0M873.8 2183.1h0M870.5 2183.1h0M864.8 2183.1h0M867.7 2183.1h0M1194.5 2052.5h0M1198.3 2052.5h0M1173.7 2052.5h0M1195.5 2052.5h0M1195.4 2052.5h0M1198.3 2052.5h0M1192 2052.5h0M1191.7 2117.8h0M1182.3 2117.8h0M1194.5 2117.8h0M1194.9 2117.8h0M1194.7 2117.8h0M1192.1 2117.8h0M1152.7 2117.8h0M1199.8 2183.1h0M1194.5 2183.1h0M1194.1 2183.1h0M1199.3 2183.1h0M1197.9 2183.1h0M1193.9 2183.1h0M1196.8 2183.1h0M1195 2183.1h0M1196.5 2183.1h0M1191 2183.1h0M1196 2183.1h0M1530.9 2184.6h0M1516.9 2184.6h0M1537.7 2184.6h0M1534 2184.6h0M1534.7 2184.6h0M1537 2184.6h0M1527.4 2184.6h0M1530.7 2184.6h0M1533.3 2184.6h0M1533.2 2184.6h0M1884.8 2184.6h0M1884.2 2184.6h0M1885.1 2184.6h0M1856.1 2184.6h0M1884.4 2184.6h0M1885.6 2184.6h0M1883.3 2184.6h0M1885 2184.6h0M1870.1 2184.6h0M1880.4 2184.6h0" stroke="#9467bd" stroke-width="2.5" stroke-linecap="round" fill="none"/>
<path d="M634.5 1716.9L639.1 1718.8L645.3 1721.5L652.7 1724.6L660.8 1727.9L669.3 1730.9L677.5 1733.3L685.7 1735.2L694.3 1736.9L703.1 1738.3L712.1 1739.5L721.1 1740.3L730 1740.7L738.3 1740.7L746.1 1740.4L753.9 1739.7L762.2 1738.7L771.5 1737.3L782.5 1735.5L796.5 1733L813.3 1729.7L831.1 1726L848.3 1722.4L862.9 1719.3L873.2 1717.1" stroke="#222" stroke-width="1.1" fill="none"/>
<path d="M634.5 1731.9L636.8 1729L640.1 1725L643.9 1720.2L648 1715.2L652.2 1710.3L656 1705.9L659.5 1702.1L662.8 1698.5L666.1 1695L669.6 1691.7L673.3 1688.3L677.5 1684.8L682.1 1681.1L687.1 1677.3L692.4 1673.5L697.8 1669.9L703.2 1666.5L708.5 1663.6L713.5 1661.2L718.4 1659.2L723.3 1657.4L728.3 1655.9L733.7 1654.5L739.5 1653.1L746.1 1651.8L753.4 1650.7L761 1649.6L768.6 1648.7L775.9 1647.7L782.5 1646.7L788.4 1645.7L793.7 1644.8L798.8 1643.9L803.6 1643L808.5 1641.8L813.5 1640.4L818.7 1638.7L824 1636.7L829.2 1634.6L834.4 1632.4L839.5 1630L844.6 1627.7L849.8 1625.1L855.3 1622.2L860.8 1619.2L865.9 1616.4L870.1 1614L873.2 1612.3" stroke="#222" stroke-width="1.1" fill="none" stroke-dasharray="2.3 1.7"/>
<path d="M966.7 1668L969.9 1670.1L974.4 1673L979.6 1676.4L985.3 1680L991 1683.3L996.3 1686.1L1001.2 1688.4L1006.2 1690.4L1011.1 1692.3L1016 1693.9L1021 1695.4L1025.9 1696.7L1030.8 1697.8L1035.6 1698.7L1040.4 1699.5L1045.3 1700L1050.3 1700.5L1055.5 1700.9L1060.8 1701.2L1066.1 1701.3L1071.5 1701.3L1077.1 1701.2L1083 1701.1L1089.2 1700.9L1095.8 1700.6L1102.9 1700.2L1110.3 1699.7L1117.6 1699.3L1124.7 1698.9L1131.4 1698.8L1137.5 1698.8L1143.1 1699L1148.5 1699.2L1153.8 1699.6L1159.4 1700.1L1165.3 1700.9L1172.1 1702L1179.7 1703.6L1187.5 1705.3L1194.8 1707L1201 1708.4L1205.4 1709.4" stroke="#222" stroke-width="1.1" fill="none"/>
<path d="M966.7 1678.5L968.9 1676.5L972 1673.8L975.6 1670.6L979.6 1667.1L983.7 1663.8L987.7 1660.8L991.7 1658.1L995.9 1655.4L1000.2 1652.8L1004.6 1650.4L1009 1648.1L1013.2 1646L1017.5 1644.2L1021.8 1642.5L1026 1641L1030.2 1639.7L1034.3 1638.6L1038.3 1637.6L1042 1636.8L1045.4 1636.2L1048.8 1635.8L1052.2 1635.6L1055.8 1635.4L1059.8 1635.4L1064.2 1635.5L1068.8 1635.8L1073.7 1636.3L1078.7 1636.8L1083.9 1637.2L1089.2 1637.6L1094.6 1637.9L1100.4 1638.2L1106.4 1638.5L1112.2 1638.8L1117.9 1638.9L1123 1638.8L1127.7 1638.6L1131.9 1638.3L1135.8 1638L1139.7 1637.4L1143.8 1636.6L1148.1 1635.4L1152.8 1633.9L1157.8 1632L1162.9 1629.9L1168 1627.7L1173.1 1625.3L1177.9 1622.8L1183 1620L1188.3 1616.9L1193.5 1613.6L1198.4 1610.4L1202.4 1607.8L1205.4 1605.9" stroke="#222" stroke-width="1.1" fill="none" stroke-dasharray="2.3 1.7"/>
<path d="M1303.8 1675.1L1306.3 1677L1309.7 1679.8L1313.8 1683L1318.2 1686.4L1322.8 1689.6L1327.3 1692.4L1331.8 1694.9L1336.5 1697.2L1341.4 1699.5L1346.3 1701.5L1351.2 1703.3L1356.1 1704.8L1360.8 1706L1365.3 1706.8L1369.8 1707.4L1374.5 1707.8L1379.6 1708L1385.1 1708.1L1391.3 1708L1398 1707.6L1405.1 1707L1412.3 1706.4L1419.5 1705.6L1426.5 1704.8L1433.6 1703.9L1440.8 1702.8L1448.1 1701.6L1455.2 1700.5L1461.7 1699.4L1467.6 1698.6L1472.7 1698L1477.1 1697.5L1481 1697.1L1484.7 1696.9L1488.4 1696.7L1492.4 1696.6L1496.5 1696.6L1500.7 1696.7L1504.9 1696.8L1509.1 1697.1L1513.2 1697.4L1517.3 1697.8L1521.7 1698.4L1526.4 1699.1L1531 1699.9L1535.3 1700.7L1539 1701.4L1541.6 1701.9" stroke="#222" stroke-width="1.1" fill="none"/>
<path d="M1303.8 1688.3L1305.9 1686L1308.8 1682.9L1312.3 1679.2L1316 1675.2L1319.8 1671.3L1323.3 1667.7L1326.6 1664.4L1329.7 1661.1L1332.9 1657.9L1336.3 1654.8L1339.8 1651.8L1343.8 1649.1L1348.1 1646.6L1352.8 1644.2L1357.7 1641.9L1362.8 1639.9L1367.8 1638.1L1372.8 1636.7L1377.5 1635.6L1382.2 1634.9L1386.9 1634.4L1391.6 1634.1L1396.5 1633.9L1401.5 1633.8L1406.8 1633.8L1412.2 1634L1417.8 1634.4L1423.4 1634.8L1429 1635.2L1434.6 1635.5L1440.1 1635.8L1445.6 1636.2L1451.1 1636.6L1456.6 1636.9L1462.1 1636.9L1467.6 1636.7L1473.3 1636.1L1479.1 1635.3L1484.9 1634.2L1490.6 1633L1495.9 1631.7L1500.7 1630.5L1504.9 1629.3L1508.5 1628L1511.8 1626.7L1515 1625.3L1518.1 1623.8L1521.4 1622.3L1525 1620.6L1528.9 1618.6L1532.8 1616.6L1536.4 1614.7L1539.4 1613.1L1541.6 1612" stroke="#222" stroke-width="1.1" fill="none" stroke-dasharray="2.3 1.7"/>
<path d="M1651.4 1695.3L1654.7 1696.8L1659.3 1699L1664.8 1701.6L1670.7 1704.3L1676.7 1706.8L1682.3 1709L1687.6 1710.8L1692.8 1712.5L1698.1 1714L1703.6 1715.4L1709.3 1716.8L1715.3 1718L1721.7 1719.2L1728.5 1720.3L1735.5 1721.2L1742.6 1722.1L1749.8 1722.8L1756.7 1723.4L1763.6 1723.8L1770.5 1723.9L1777.3 1724L1784.2 1723.9L1791.1 1723.9L1797.9 1723.8L1804.7 1723.7L1811.2 1723.5L1817.8 1723.3L1824.6 1723.1L1831.6 1723L1839.1 1723L1847.7 1723.1L1857.5 1723.4L1867.5 1723.8L1877 1724.1L1885.1 1724.4L1890.8 1724.6" stroke="#222" stroke-width="1.1" fill="none"/>
<path d="M1651.4 1704.8L1653.9 1703.4L1657.2 1701.5L1661.2 1699.2L1665.6 1696.8L1670 1694.5L1674.1 1692.4L1678 1690.6L1681.8 1688.8L1685.6 1687.1L1689.6 1685.5L1693.9 1683.8L1698.8 1682.1L1704.2 1680.4L1710.1 1678.6L1716.3 1676.8L1722.8 1675.1L1729.3 1673.4L1735.9 1671.8L1742.6 1670.3L1749.4 1668.9L1756.4 1667.5L1763.4 1666.2L1770.4 1664.9L1777.3 1663.5L1784.3 1662.2L1791.4 1660.8L1798.4 1659.5L1805.4 1658.2L1812.1 1656.8L1818.5 1655.3L1824.4 1653.8L1829.9 1652.3L1835.1 1650.7L1840.4 1649L1845.8 1647.1L1851.5 1645L1858.2 1642.4L1865.6 1639.3L1873.2 1636.1L1880.4 1633L1886.5 1630.4L1890.8 1628.5" stroke="#222" stroke-width="1.1" fill="none" stroke-dasharray="2.3 1.7"/>
<path d="M636.7 2122.9L639.9 2123.6L644.3 2124.6L649.6 2125.7L655.3 2126.9L661.2 2128.1L666.7 2129.2L672.2 2130.2L677.9 2131.2L683.7 2132.2L689.5 2133.1L695.1 2134L700.6 2134.7L705.7 2135.3L710.7 2135.9L715.6 2136.4L720.4 2136.7L725.2 2136.9L730.1 2136.8L735.1 2136.6L740.1 2136.1L745.2 2135.6L750.1 2134.8L755 2133.8L759.7 2132.6L764.1 2131.2L768.4 2129.6L772.5 2127.8L776.6 2125.7L780.7 2123.4L784.9 2120.8L789.2 2118L793.4 2115.1L797.7 2111.9L801.9 2108.3L806.2 2104.3L810.4 2099.7L814.7 2094.3L819.2 2088.1L823.6 2081.5L827.9 2074.7L832 2068L835.7 2061.7L839 2055.8L842.1 2050L844.9 2044.4L847.6 2038.9L850.1 2033.4L852.6 2027.9L855 2022.5L857.2 2017.1L859.4 2011.7L861.4 2006.4L863.3 2001.3L865.2 1996.2L867.1 1991L869.1 1985.5L870.9 1980.1L872.6 1975.1L874 1970.9L875 1967.9" stroke="#222" stroke-width="1.1" fill="none"/>
<path d="M636.7 2122.9L641.2 2123.4L647.5 2124.1L654.9 2124.9L663 2125.7L671.3 2126.2L679.4 2126.3L687.5 2125.9L696.2 2125.2L705 2124.2L713.8 2123.1L722.3 2121.9L730.1 2120.8L737.2 2119.6L743.8 2118.3L750.1 2117L756.2 2115.7L762.1 2114.5L768 2113.6L774 2112.9L779.9 2112.4L785.7 2112L791.3 2111.7L796.7 2111.5L801.8 2111.5L806.6 2111.5L811 2111.7L815.1 2112L819.2 2112.4L823.2 2112.9L827.3 2113.6L831.6 2114.5L835.9 2115.5L840.2 2116.6L844.4 2117.9L848.6 2119.3L852.6 2120.8L856.8 2122.6L861.1 2124.8L865.4 2127.2L869.3 2129.4L872.6 2131.3L875 2132.6" stroke="#222" stroke-width="1.1" fill="none" stroke-dasharray="2.3 1.7"/>
<path d="M962 2142.8L964.3 2141.7L967.4 2140.1L971.1 2138.2L975.2 2136.3L979.4 2134.3L983.4 2132.6L987.4 2131L991.5 2129.3L995.7 2127.8L1000 2126.3L1004.4 2124.9L1008.9 2123.8L1013.6 2122.9L1018.3 2122.3L1023.2 2121.8L1028.2 2121.5L1033.3 2121.1L1038.5 2120.8L1044 2120.5L1049.8 2120.4L1055.7 2120.3L1061.5 2120.2L1067.1 2120L1072.3 2119.5L1077 2118.8L1081.4 2118L1085.5 2117.1L1089.5 2116.1L1093.5 2114.9L1097.6 2113.6L1101.9 2112.2L1106.2 2110.8L1110.6 2109.2L1114.9 2107.5L1119.1 2105.5L1123.1 2103.1L1126.8 2100.4L1130.4 2097.6L1133.8 2094.4L1137.2 2090.9L1140.6 2087.1L1144.1 2082.8L1147.6 2077.9L1151.3 2072.5L1154.9 2066.7L1158.5 2060.8L1162 2054.8L1165.3 2049L1168.3 2043.5L1171.2 2038L1173.9 2032.6L1176.6 2027L1179.4 2021.3L1182.2 2015.2L1185.3 2008.3L1188.8 2000.4L1192.3 1992.4L1195.6 1984.8L1198.3 1978.4L1200.3 1973.8" stroke="#222" stroke-width="1.1" fill="none"/>
<path d="M962 2132.2L964.3 2133.1L967.6 2134.3L971.4 2135.8L975.5 2137.3L979.6 2138.7L983.4 2139.8L986.9 2140.6L990.4 2141.4L993.8 2142L997.3 2142.4L1000.9 2142.7L1004.7 2142.8L1008.6 2142.7L1012.6 2142.5L1016.7 2142.2L1021 2141.6L1025.4 2140.8L1029.9 2139.8L1034.6 2138.5L1039.5 2137L1044.5 2135.2L1049.6 2133.3L1054.7 2131.3L1059.7 2129.2L1064.6 2127L1069.6 2124.5L1074.5 2122L1079.4 2119.4L1084.3 2116.9L1089.3 2114.5L1094.3 2112.2L1099.4 2109.8L1104.6 2107.4L1109.6 2105.2L1114.4 2103.3L1118.8 2101.8L1122.8 2100.7L1126.4 2099.8L1129.8 2099.2L1133.1 2098.9L1136.4 2098.8L1139.8 2098.8L1143.3 2099L1146.8 2099.5L1150.4 2100.2L1153.9 2101L1157.4 2102L1161 2103.1L1164.6 2104.3L1168.2 2105.7L1171.8 2107.2L1175.3 2108.9L1178.8 2110.6L1182.2 2112.4L1185.6 2114.5L1189.1 2116.8L1192.6 2119.3L1195.7 2121.6L1198.4 2123.6L1200.3 2125" stroke="#222" stroke-width="1.1" fill="none" stroke-dasharray="2.3 1.7"/>
<path d="M1298.8 2184.6L1488.4 2184.6L1495.8 2164.8L1509 2119.4L1521.4 2069.9L1529.5 2036.9L1537.9 2005.1" stroke="#222" stroke-width="1.1" fill="none"/>
<path d="M1649.3 2184.6L1833 2184.6L1839.2 2175.2L1845.4 2166.9L1852.3 2163.2L1859.7 2166.9L1865.9 2175.2L1872.2 2184.6L1887.9 2184.6" stroke="#222" stroke-width="1.1" fill="none"/>
</g>
</svg>
</body></html>
